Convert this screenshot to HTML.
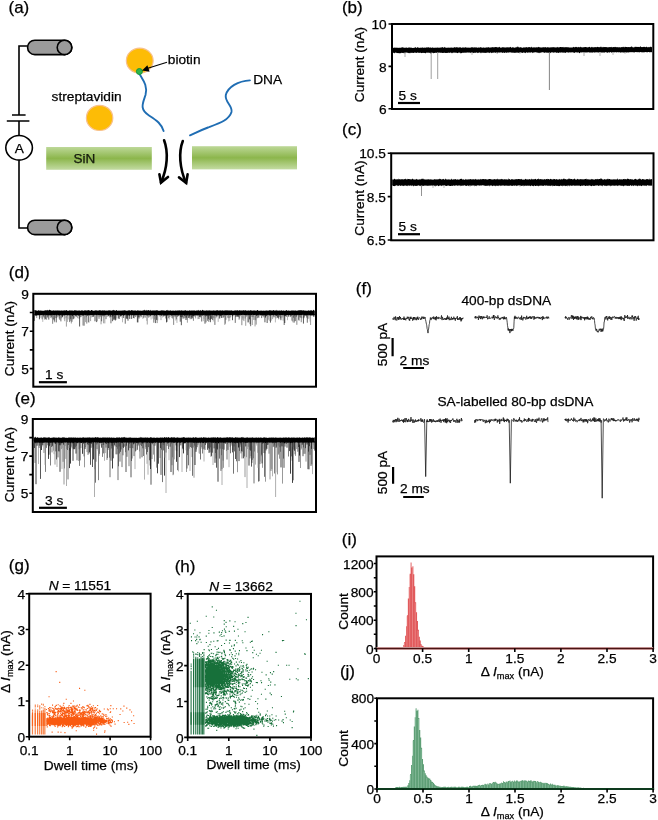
<!DOCTYPE html>
<html><head><meta charset="utf-8"><style>
html,body{margin:0;padding:0;background:#fff;overflow:hidden;}
svg{display:block;font-family:"Liberation Sans",sans-serif;will-change:transform;}
text{stroke:#000;stroke-width:0.25px;}
</style></head><body>
<svg width="658" height="820" viewBox="0 0 658 820">
<rect width="658" height="820" fill="#fff"/>
<text x="8.5" y="12.7" font-size="17" text-anchor="start" >(a)</text>
<path d="M28,46 H19 V115 M19,121 V135 M19,160.5 V228 H28" fill="none" stroke="#000" stroke-width="1.6"/>
<path d="M12,115 H25.6 M6.8,121 H29.4" stroke="#000" stroke-width="1.6"/>
<ellipse cx="19.1" cy="147.8" rx="13.3" ry="12.3" fill="#fff" stroke="#000" stroke-width="1.6"/>
<text x="19.2" y="152.8" font-size="13.7" text-anchor="middle" >A</text>
<rect x="27.6" y="40.2" width="44.2" height="14.4" rx="7.2" ry="7.2" fill="#9b9b9b" stroke="#000" stroke-width="1.6"/>
<ellipse cx="64.5" cy="47.400000000000006" rx="7.3" ry="7.2" fill="#9b9b9b" stroke="#000" stroke-width="1.6"/>
<rect x="27.6" y="220.2" width="44.2" height="14.4" rx="7.2" ry="7.2" fill="#9b9b9b" stroke="#000" stroke-width="1.6"/>
<ellipse cx="64.5" cy="227.39999999999998" rx="7.3" ry="7.2" fill="#9b9b9b" stroke="#000" stroke-width="1.6"/>
<defs><linearGradient id="sin" x1="0" y1="0" x2="0" y2="1"><stop offset="0" stop-color="#bdd898"/><stop offset="0.5" stop-color="#8cb64c"/><stop offset="1" stop-color="#c3dba2"/></linearGradient></defs>
<rect x="46.2" y="147" width="105.6" height="22.8" fill="url(#sin)"/>
<rect x="192" y="146.2" width="105" height="23.2" fill="url(#sin)"/>
<text x="73.5" y="162.7" font-size="13.5" text-anchor="start" fill="#1c2410">SiN</text>
<ellipse cx="139.75" cy="60.7" rx="13.4" ry="12.5" fill="#fdbc06" stroke="#f8c08c" stroke-width="1.2"/>
<ellipse cx="99.6" cy="117.9" rx="13.2" ry="12.6" fill="#fdbc06" stroke="#f8c08c" stroke-width="1.2"/>
<path d="M139.5,74 C143,80 148,86 145.5,95 C143,103 139,109 149,115.5 C157,120.5 161.5,124 163.6,131" fill="none" stroke="#1f6db3" stroke-width="1.9" stroke-linecap="round"/>
<path d="M249.9,80.4 C238,81 228,87 225.8,95 C224.5,102 233,106 231.5,112 C229,120 220,123 208,127.5 C200,130.5 195,133 190,135.3" fill="none" stroke="#1f6db3" stroke-width="1.9" stroke-linecap="round"/>
<circle cx="139.4" cy="71.5" r="3.0" fill="#2db54c" stroke="#16963a" stroke-width="1"/>
<path d="M167,62.3 L147,68.6" stroke="#000" stroke-width="1.1"/>
<path d="M142,70.4 L147.4,65.3 L149.6,71.8 Z" fill="#000"/>
<text x="167.8" y="63.6" font-size="13.7" text-anchor="start" >biotin</text>
<text x="51.6" y="100.5" font-size="13.7" text-anchor="start" >streptavidin</text>
<text x="253.2" y="83.9" font-size="13.7" text-anchor="start" >DNA</text>
<path d="M164.1,140.3 C168.5,152 167.5,168 161,182.4" fill="none" stroke="#000" stroke-width="2.6" stroke-linecap="round"/>
<path d="M159.4,174.2 L161,182.6 L168,177" fill="none" stroke="#000" stroke-width="2.6" stroke-linecap="round" stroke-linejoin="miter"/>
<path d="M182.8,141 C178.5,152 179.5,168 186,182.8" fill="none" stroke="#000" stroke-width="2.6" stroke-linecap="round"/>
<path d="M179,177.4 L186.2,183 L187.6,174.4" fill="none" stroke="#000" stroke-width="2.6" stroke-linecap="round" stroke-linejoin="miter"/>
<text x="341.9" y="12.8" font-size="17" text-anchor="start" >(b)</text>
<rect x="392" y="24" width="261.29999999999995" height="85" fill="none" stroke="#000" stroke-width="2"/>
<path d="M388.5,24.0H392.0M388.5,66.4H392.0M388.5,108.8H392.0" stroke="#000" stroke-width="1.6"/>
<text x="386.7" y="29.1" font-size="13.7" text-anchor="end">10</text>
<text x="386.7" y="71.5" font-size="13.7" text-anchor="end">8</text>
<text x="386.7" y="113.9" font-size="13.7" text-anchor="end">6</text>
<text transform="translate(359.5,64.5) rotate(-90)" x="0" y="0" font-size="13.7" text-anchor="middle" dominant-baseline="central" >Current (nA)</text>
<polygon points="393.00,48.00 393.50,47.86 394.00,47.87 394.50,47.60 395.00,47.79 395.50,47.55 396.00,47.97 396.50,47.39 397.00,47.77 397.50,47.71 398.00,47.77 398.50,47.83 399.00,47.94 399.50,47.57 400.00,47.97 400.50,47.67 401.00,47.38 401.50,47.77 402.00,47.12 402.50,47.40 403.00,47.15 403.50,47.87 404.00,47.40 404.50,47.85 405.00,47.90 405.50,47.88 406.00,46.83 406.50,47.72 407.00,47.94 407.50,47.91 408.00,47.27 408.50,47.75 409.00,47.52 409.50,47.59 410.00,47.48 410.50,47.59 411.00,47.94 411.50,47.56 412.00,47.69 412.50,47.90 413.00,47.90 413.50,47.92 414.00,47.40 414.50,47.91 415.00,47.33 415.50,47.25 416.00,47.56 416.50,47.89 417.00,47.65 417.50,47.04 418.00,47.59 418.50,47.40 419.00,47.90 419.50,47.67 420.00,47.85 420.50,47.62 421.00,47.90 421.50,47.63 422.00,47.28 422.50,47.62 423.00,47.83 423.50,47.72 424.00,47.87 424.50,47.39 425.00,47.66 425.50,47.83 426.00,47.51 426.50,47.40 427.00,47.32 427.50,47.56 428.00,47.62 428.50,47.01 429.00,47.70 429.50,47.86 430.00,47.34 430.50,47.60 431.00,47.76 431.50,47.74 432.00,47.79 432.50,47.22 433.00,47.71 433.50,47.76 434.00,47.74 434.50,47.84 435.00,47.81 435.50,47.39 436.00,47.89 436.50,47.69 437.00,47.37 437.50,47.59 438.00,47.88 438.50,47.59 439.00,47.73 439.50,47.41 440.00,47.88 440.50,47.62 441.00,47.30 441.50,47.72 442.00,47.12 442.50,46.96 443.00,47.74 443.50,47.47 444.00,47.80 444.50,46.86 445.00,47.50 445.50,47.59 446.00,47.78 446.50,47.64 447.00,47.79 447.50,47.77 448.00,47.55 448.50,47.63 449.00,47.39 449.50,47.82 450.00,47.84 450.50,47.38 451.00,47.74 451.50,47.47 452.00,47.42 452.50,47.76 453.00,47.81 453.50,47.58 454.00,47.79 454.50,46.95 455.00,47.34 455.50,47.68 456.00,46.88 456.50,47.46 457.00,47.05 457.50,47.50 458.00,47.46 458.50,47.49 459.00,47.78 459.50,47.14 460.00,47.27 460.50,47.18 461.00,47.80 461.50,47.71 462.00,47.76 462.50,47.39 463.00,47.33 463.50,47.58 464.00,47.80 464.50,47.46 465.00,47.54 465.50,47.24 466.00,47.25 466.50,47.75 467.00,47.38 467.50,47.81 468.00,47.50 468.50,47.66 469.00,47.56 469.50,47.81 470.00,47.64 470.50,47.67 471.00,47.18 471.50,47.44 472.00,47.06 472.50,47.50 473.00,47.33 473.50,47.65 474.00,47.16 474.50,47.14 475.00,47.70 475.50,47.51 476.00,47.00 476.50,47.46 477.00,47.78 477.50,47.76 478.00,47.45 478.50,47.58 479.00,47.54 479.50,47.72 480.00,47.28 480.50,47.23 481.00,47.18 481.50,47.55 482.00,47.65 482.50,47.76 483.00,47.58 483.50,47.55 484.00,47.49 484.50,47.64 485.00,47.70 485.50,47.76 486.00,47.24 486.50,47.46 487.00,47.59 487.50,47.51 488.00,47.14 488.50,47.33 489.00,47.33 489.50,47.70 490.00,47.51 490.50,47.40 491.00,47.38 491.50,47.34 492.00,47.55 492.50,47.07 493.00,47.19 493.50,47.36 494.00,47.53 494.50,47.35 495.00,46.90 495.50,47.08 496.00,47.23 496.50,46.98 497.00,47.37 497.50,47.28 498.00,47.73 498.50,47.36 499.00,47.00 499.50,46.78 500.00,47.62 500.50,47.71 501.00,47.62 501.50,47.71 502.00,47.34 502.50,47.05 503.00,47.65 503.50,47.29 504.00,46.98 504.50,47.49 505.00,47.69 505.50,47.54 506.00,47.27 506.50,47.42 507.00,47.27 507.50,47.31 508.00,47.62 508.50,47.36 509.00,47.55 509.50,47.56 510.00,46.80 510.50,47.08 511.00,47.31 511.50,47.66 512.00,47.70 512.50,47.05 513.00,47.49 513.50,47.36 514.00,47.66 514.50,47.66 515.00,47.56 515.50,47.17 516.00,47.68 516.50,46.70 517.00,47.38 517.50,46.80 518.00,46.22 518.50,47.45 519.00,47.08 519.50,47.66 520.00,47.15 520.50,47.26 521.00,47.17 521.50,47.61 522.00,47.66 522.50,47.65 523.00,47.66 523.50,47.31 524.00,47.42 524.50,47.57 525.00,47.20 525.50,47.44 526.00,47.36 526.50,47.17 527.00,47.09 527.50,47.60 528.00,47.66 528.50,47.07 529.00,46.89 529.50,47.00 530.00,47.45 530.50,47.31 531.00,47.48 531.50,46.48 532.00,47.54 532.50,47.62 533.00,47.61 533.50,47.16 534.00,47.53 534.50,47.57 535.00,47.11 535.50,47.49 536.00,47.64 536.50,46.95 537.00,47.39 537.50,47.46 538.00,46.82 538.50,46.93 539.00,47.20 539.50,47.22 540.00,47.33 540.50,47.58 541.00,47.53 541.50,47.52 542.00,47.54 542.50,47.60 543.00,46.94 543.50,47.37 544.00,47.60 544.50,47.36 545.00,47.33 545.50,46.90 546.00,47.39 546.50,47.59 547.00,47.46 547.50,47.11 548.00,47.58 548.50,47.22 549.00,47.43 549.50,47.51 550.00,47.51 550.50,47.56 551.00,46.89 551.50,47.50 552.00,47.22 552.50,47.20 553.00,47.25 553.50,47.34 554.00,46.91 554.50,47.46 555.00,47.32 555.50,47.51 556.00,47.59 556.50,47.14 557.00,47.38 557.50,46.68 558.00,47.47 558.50,47.49 559.00,47.11 559.50,47.44 560.00,47.02 560.50,47.08 561.00,47.00 561.50,47.17 562.00,47.09 562.50,46.89 563.00,47.46 563.50,47.32 564.00,46.69 564.50,47.48 565.00,47.30 565.50,46.96 566.00,47.55 566.50,46.90 567.00,47.13 567.50,47.14 568.00,47.18 568.50,47.33 569.00,47.43 569.50,47.47 570.00,47.46 570.50,47.42 571.00,47.42 571.50,47.54 572.00,47.46 572.50,47.51 573.00,47.32 573.50,46.71 574.00,47.28 574.50,47.52 575.00,46.79 575.50,47.37 576.00,46.67 576.50,46.91 577.00,47.16 577.50,47.22 578.00,47.47 578.50,46.77 579.00,47.37 579.50,47.23 580.00,47.25 580.50,46.52 581.00,47.43 581.50,47.18 582.00,47.00 582.50,47.50 583.00,47.45 583.50,47.01 584.00,47.47 584.50,47.00 585.00,47.02 585.50,47.04 586.00,47.03 586.50,47.30 587.00,47.28 587.50,47.45 588.00,47.34 588.50,47.36 589.00,46.93 589.50,46.86 590.00,47.15 590.50,47.42 591.00,47.41 591.50,47.05 592.00,46.72 592.50,47.15 593.00,47.42 593.50,47.32 594.00,47.33 594.50,47.03 595.00,47.40 595.50,46.95 596.00,47.07 596.50,47.13 597.00,47.28 597.50,46.63 598.00,46.88 598.50,47.22 599.00,46.88 599.50,47.31 600.00,47.35 600.50,46.97 601.00,46.34 601.50,47.40 602.00,46.76 602.50,47.18 603.00,47.40 603.50,46.72 604.00,47.30 604.50,47.03 605.00,46.91 605.50,46.99 606.00,47.32 606.50,47.00 607.00,47.24 607.50,47.26 608.00,47.44 608.50,47.22 609.00,47.09 609.50,47.32 610.00,47.00 610.50,46.88 611.00,47.43 611.50,47.06 612.00,46.76 612.50,47.45 613.00,47.16 613.50,47.01 614.00,47.06 614.50,47.21 615.00,46.77 615.50,47.09 616.00,47.27 616.50,47.34 617.00,47.10 617.50,47.17 618.00,47.37 618.50,47.16 619.00,47.41 619.50,46.95 620.00,47.39 620.50,47.41 621.00,47.00 621.50,47.02 622.00,47.41 622.50,46.65 623.00,47.13 623.50,46.94 624.00,46.61 624.50,47.39 625.00,46.92 625.50,46.73 626.00,46.93 626.50,47.08 627.00,46.91 627.50,47.24 628.00,47.05 628.50,47.09 629.00,47.15 629.50,47.07 630.00,47.21 630.50,46.97 631.00,46.86 631.50,46.58 632.00,46.56 632.50,47.26 633.00,47.29 633.50,47.38 634.00,47.33 634.50,47.37 635.00,46.54 635.50,46.93 636.00,46.69 636.50,46.94 637.00,46.79 637.50,47.05 638.00,47.02 638.50,46.95 639.00,46.76 639.50,47.22 640.00,46.76 640.50,46.11 641.00,47.14 641.50,46.89 642.00,46.91 642.50,46.89 643.00,47.25 643.50,46.70 644.00,46.93 644.50,46.75 645.00,47.00 645.50,47.19 646.00,46.98 646.50,46.51 647.00,47.19 647.50,47.35 648.00,47.32 648.50,47.32 649.00,46.86 649.50,47.33 650.00,47.34 650.50,46.78 651.00,46.51 651.50,47.29 652.00,47.01 652.00,51.98 651.50,52.23 651.00,52.29 650.50,51.98 650.00,52.43 649.50,52.23 649.00,52.01 648.50,52.07 648.00,52.04 647.50,52.29 647.00,52.39 646.50,52.07 646.00,52.21 645.50,52.07 645.00,51.97 644.50,52.58 644.00,52.00 643.50,52.58 643.00,52.25 642.50,52.11 642.00,52.91 641.50,52.02 641.00,52.05 640.50,52.05 640.00,52.17 639.50,52.15 639.00,52.42 638.50,52.11 638.00,52.24 637.50,52.03 637.00,52.53 636.50,52.10 636.00,52.06 635.50,52.06 635.00,52.19 634.50,52.24 634.00,52.75 633.50,52.21 633.00,52.11 632.50,52.13 632.00,52.17 631.50,52.30 631.00,52.12 630.50,52.29 630.00,52.20 629.50,52.10 629.00,52.69 628.50,52.25 628.00,52.54 627.50,52.47 627.00,52.12 626.50,52.72 626.00,52.44 625.50,52.09 625.00,53.16 624.50,52.19 624.00,52.69 623.50,52.61 623.00,52.31 622.50,52.60 622.00,52.19 621.50,52.15 621.00,52.82 620.50,52.75 620.00,52.08 619.50,52.14 619.00,52.60 618.50,52.35 618.00,52.23 617.50,52.22 617.00,52.09 616.50,52.49 616.00,52.39 615.50,52.07 615.00,52.37 614.50,52.31 614.00,52.53 613.50,52.23 613.00,52.19 612.50,52.21 612.00,52.50 611.50,52.79 611.00,52.32 610.50,52.08 610.00,52.20 609.50,52.82 609.00,52.22 608.50,52.33 608.00,52.45 607.50,53.08 607.00,52.22 606.50,52.47 606.00,52.24 605.50,52.34 605.00,52.08 604.50,52.41 604.00,53.31 603.50,52.13 603.00,52.32 602.50,52.38 602.00,52.84 601.50,52.59 601.00,52.22 600.50,52.22 600.00,52.44 599.50,52.33 599.00,52.10 598.50,52.49 598.00,52.97 597.50,52.16 597.00,52.11 596.50,52.18 596.00,52.70 595.50,52.11 595.00,52.76 594.50,52.53 594.00,52.18 593.50,52.19 593.00,52.45 592.50,52.57 592.00,52.78 591.50,52.52 591.00,52.26 590.50,52.40 590.00,52.79 589.50,52.58 589.00,52.33 588.50,52.33 588.00,52.33 587.50,52.58 587.00,52.22 586.50,52.61 586.00,52.53 585.50,52.50 585.00,52.21 584.50,52.44 584.00,52.43 583.50,52.24 583.00,52.54 582.50,52.16 582.00,52.29 581.50,52.54 581.00,52.41 580.50,52.33 580.00,52.68 579.50,53.14 579.00,53.03 578.50,52.16 578.00,52.24 577.50,52.83 577.00,52.20 576.50,52.58 576.00,52.20 575.50,52.35 575.00,52.52 574.50,52.89 574.00,52.79 573.50,52.45 573.00,52.49 572.50,52.21 572.00,52.25 571.50,52.43 571.00,52.31 570.50,52.38 570.00,52.56 569.50,52.32 569.00,52.62 568.50,52.67 568.00,52.17 567.50,52.50 567.00,52.32 566.50,52.27 566.00,52.48 565.50,52.89 565.00,52.64 564.50,52.34 564.00,53.31 563.50,52.60 563.00,52.23 562.50,52.50 562.00,53.10 561.50,52.28 561.00,52.34 560.50,52.73 560.00,52.40 559.50,52.49 559.00,52.41 558.50,53.05 558.00,52.96 557.50,52.44 557.00,52.50 556.50,53.10 556.00,52.48 555.50,52.28 555.00,52.39 554.50,52.50 554.00,52.35 553.50,52.96 553.00,52.37 552.50,52.53 552.00,52.35 551.50,52.48 551.00,52.36 550.50,53.25 550.00,52.76 549.50,52.32 549.00,52.71 548.50,53.10 548.00,52.22 547.50,53.02 547.00,52.62 546.50,52.76 546.00,52.44 545.50,52.25 545.00,53.12 544.50,52.38 544.00,52.90 543.50,52.36 543.00,52.27 542.50,52.37 542.00,52.26 541.50,52.47 541.00,52.51 540.50,52.99 540.00,52.25 539.50,53.06 539.00,53.13 538.50,52.83 538.00,52.56 537.50,52.54 537.00,52.89 536.50,52.27 536.00,52.27 535.50,52.37 535.00,52.29 534.50,52.44 534.00,52.29 533.50,52.74 533.00,52.42 532.50,53.28 532.00,52.28 531.50,52.36 531.00,52.49 530.50,52.57 530.00,52.76 529.50,52.35 529.00,52.67 528.50,52.38 528.00,52.32 527.50,52.96 527.00,52.57 526.50,52.30 526.00,52.50 525.50,52.94 525.00,53.15 524.50,52.57 524.00,52.51 523.50,52.57 523.00,52.55 522.50,52.90 522.00,52.99 521.50,52.62 521.00,52.41 520.50,52.58 520.00,52.53 519.50,52.70 519.00,53.22 518.50,52.45 518.00,52.96 517.50,52.58 517.00,52.46 516.50,52.43 516.00,53.01 515.50,52.38 515.00,52.98 514.50,52.64 514.00,52.71 513.50,52.85 513.00,52.50 512.50,52.59 512.00,53.19 511.50,52.62 511.00,52.36 510.50,52.47 510.00,52.36 509.50,52.59 509.00,52.33 508.50,52.87 508.00,52.50 507.50,52.49 507.00,52.50 506.50,52.97 506.00,52.39 505.50,52.44 505.00,52.41 504.50,52.93 504.00,53.06 503.50,52.37 503.00,52.87 502.50,53.10 502.00,52.45 501.50,52.37 501.00,52.65 500.50,52.37 500.00,52.62 499.50,52.58 499.00,52.66 498.50,52.35 498.00,52.78 497.50,53.50 497.00,52.79 496.50,52.55 496.00,52.72 495.50,52.70 495.00,52.86 494.50,52.56 494.00,52.36 493.50,52.79 493.00,52.78 492.50,52.57 492.00,53.30 491.50,53.00 491.00,52.54 490.50,52.42 490.00,52.44 489.50,53.16 489.00,52.57 488.50,52.72 488.00,52.61 487.50,52.40 487.00,52.76 486.50,52.65 486.00,52.63 485.50,52.89 485.00,52.73 484.50,53.02 484.00,52.47 483.50,52.90 483.00,52.59 482.50,52.80 482.00,52.65 481.50,52.45 481.00,53.50 480.50,52.73 480.00,52.61 479.50,52.42 479.00,52.53 478.50,52.93 478.00,52.61 477.50,53.17 477.00,52.52 476.50,52.40 476.00,52.44 475.50,52.99 475.00,52.54 474.50,52.76 474.00,52.89 473.50,52.79 473.00,53.34 472.50,52.75 472.00,52.52 471.50,52.47 471.00,53.21 470.50,52.82 470.00,52.46 469.50,52.62 469.00,52.74 468.50,52.61 468.00,52.55 467.50,52.54 467.00,52.47 466.50,52.48 466.00,52.93 465.50,52.43 465.00,52.81 464.50,52.86 464.00,52.53 463.50,52.72 463.00,52.91 462.50,52.51 462.00,52.90 461.50,52.94 461.00,53.47 460.50,53.34 460.00,52.53 459.50,52.77 459.00,52.49 458.50,52.48 458.00,53.13 457.50,53.03 457.00,52.91 456.50,52.46 456.00,53.08 455.50,52.53 455.00,52.75 454.50,52.57 454.00,52.78 453.50,52.46 453.00,52.67 452.50,52.69 452.00,53.41 451.50,52.86 451.00,52.77 450.50,52.52 450.00,52.49 449.50,52.93 449.00,52.67 448.50,52.78 448.00,52.55 447.50,53.00 447.00,53.09 446.50,53.00 446.00,52.76 445.50,52.96 445.00,53.04 444.50,52.51 444.00,53.06 443.50,52.64 443.00,52.89 442.50,53.01 442.00,52.67 441.50,52.66 441.00,52.80 440.50,52.77 440.00,52.64 439.50,52.50 439.00,52.73 438.50,52.71 438.00,52.52 437.50,52.50 437.00,52.74 436.50,52.68 436.00,52.99 435.50,52.59 435.00,52.89 434.50,53.04 434.00,52.76 433.50,53.52 433.00,52.87 432.50,52.87 432.00,52.65 431.50,53.34 431.00,53.27 430.50,53.39 430.00,52.94 429.50,52.81 429.00,52.87 428.50,52.84 428.00,52.54 427.50,52.72 427.00,52.81 426.50,52.55 426.00,52.98 425.50,53.54 425.00,52.81 424.50,52.99 424.00,52.95 423.50,52.63 423.00,52.92 422.50,52.69 422.00,52.94 421.50,52.94 421.00,53.24 420.50,52.54 420.00,52.76 419.50,52.99 419.00,52.60 418.50,53.01 418.00,52.55 417.50,52.58 417.00,52.80 416.50,53.02 416.00,52.70 415.50,52.65 415.00,52.62 414.50,52.58 414.00,52.95 413.50,53.01 413.00,52.73 412.50,52.76 412.00,52.92 411.50,52.72 411.00,52.73 410.50,52.75 410.00,53.47 409.50,52.73 409.00,53.36 408.50,52.99 408.00,52.86 407.50,52.74 407.00,52.76 406.50,52.59 406.00,52.59 405.50,52.70 405.00,53.38 404.50,52.67 404.00,53.57 403.50,52.74 403.00,52.90 402.50,52.90 402.00,52.68 401.50,52.70 401.00,53.22 400.50,53.37 400.00,53.06 399.50,53.50 399.00,53.02 398.50,53.30 398.00,53.06 397.50,52.88 397.00,53.21 396.50,52.73 396.00,52.74 395.50,52.62 395.00,52.85 394.50,53.39 394.00,52.69 393.50,52.65 393.00,53.04" fill="#000"/>
<path d="M431.2,52V79" stroke="#888" stroke-width="0.8"/>
<path d="M437.7,52V79" stroke="#888" stroke-width="0.8"/>
<path d="M549.4,52V90" stroke="#666" stroke-width="0.8"/>
<path d="M405,52V57" stroke="#999" stroke-width="0.8"/>
<path d="M472,52V55" stroke="#aaa" stroke-width="0.8"/>
<path d="M584,52V56" stroke="#999" stroke-width="0.8"/>
<path d="M600,52V56" stroke="#aaa" stroke-width="0.8"/>
<path d="M613,52V55" stroke="#aaa" stroke-width="0.8"/>
<path d="M625,52V54" stroke="#bbb" stroke-width="0.8"/>
<path d="M497,52V54" stroke="#bbb" stroke-width="0.8"/>
<path d="M520,52V54" stroke="#bbb" stroke-width="0.8"/>
<text x="398.6" y="99.8" font-size="13.7" text-anchor="start" >5 s</text>
<path d="M398,103 H420" stroke="#000" stroke-width="2.2"/>
<text x="342.1" y="135.0" font-size="17" text-anchor="start" >(c)</text>
<rect x="391.2" y="153.3" width="262.3" height="87.0" fill="none" stroke="#000" stroke-width="2"/>
<path d="M387.7,153.3H391.2M387.7,196.6H391.2M387.7,240.0H391.2" stroke="#000" stroke-width="1.6"/>
<text x="385.9" y="158.4" font-size="13.7" text-anchor="end">10.5</text>
<text x="385.9" y="201.7" font-size="13.7" text-anchor="end">8.5</text>
<text x="385.9" y="245.1" font-size="13.7" text-anchor="end">6.5</text>
<text transform="translate(359.5,198.0) rotate(-90)" x="0" y="0" font-size="13.7" text-anchor="middle" dominant-baseline="central" >Current (nA)</text>
<polygon points="392.20,179.41 392.70,179.58 393.20,179.28 393.70,179.68 394.20,178.83 394.70,178.71 395.20,179.55 395.70,179.26 396.20,179.52 396.70,179.30 397.20,179.57 397.70,179.01 398.20,179.64 398.70,178.48 399.20,179.13 399.70,179.15 400.20,179.26 400.70,179.50 401.20,179.20 401.70,179.29 402.20,179.35 402.70,179.26 403.20,179.27 403.70,179.51 404.20,179.14 404.70,178.93 405.20,179.35 405.70,178.58 406.20,179.33 406.70,179.38 407.20,179.46 407.70,178.77 408.20,179.11 408.70,179.12 409.20,179.27 409.70,179.12 410.20,179.33 410.70,179.22 411.20,179.65 411.70,178.90 412.20,178.96 412.70,178.50 413.20,179.15 413.70,179.57 414.20,179.59 414.70,179.62 415.20,179.56 415.70,179.59 416.20,179.13 416.70,178.63 417.20,179.70 417.70,179.34 418.20,179.63 418.70,179.59 419.20,179.24 419.70,179.38 420.20,179.30 420.70,179.53 421.20,179.36 421.70,178.68 422.20,178.55 422.70,178.97 423.20,179.55 423.70,178.45 424.20,179.31 424.70,179.59 425.20,179.60 425.70,179.43 426.20,179.59 426.70,179.42 427.20,179.33 427.70,179.50 428.20,179.48 428.70,179.10 429.20,179.68 429.70,179.25 430.20,179.61 430.70,179.18 431.20,179.52 431.70,179.45 432.20,179.52 432.70,179.67 433.20,179.64 433.70,179.55 434.20,179.32 434.70,179.16 435.20,179.03 435.70,179.68 436.20,179.33 436.70,179.46 437.20,179.36 437.70,179.62 438.20,179.34 438.70,179.13 439.20,179.31 439.70,178.56 440.20,179.33 440.70,178.70 441.20,179.68 441.70,179.17 442.20,179.38 442.70,179.03 443.20,179.32 443.70,178.81 444.20,179.54 444.70,179.70 445.20,179.17 445.70,178.47 446.20,179.05 446.70,179.63 447.20,179.52 447.70,179.39 448.20,179.39 448.70,179.17 449.20,179.67 449.70,179.23 450.20,179.67 450.70,179.65 451.20,178.53 451.70,179.27 452.20,179.64 452.70,179.62 453.20,179.48 453.70,179.18 454.20,179.45 454.70,179.29 455.20,178.88 455.70,179.24 456.20,179.43 456.70,179.68 457.20,179.19 457.70,179.51 458.20,179.68 458.70,179.45 459.20,179.40 459.70,179.57 460.20,178.79 460.70,179.12 461.20,178.89 461.70,178.61 462.20,179.53 462.70,179.59 463.20,179.51 463.70,179.30 464.20,179.67 464.70,179.70 465.20,179.66 465.70,178.76 466.20,179.63 466.70,179.27 467.20,179.43 467.70,179.59 468.20,179.38 468.70,179.25 469.20,179.45 469.70,179.24 470.20,179.11 470.70,179.13 471.20,179.01 471.70,179.63 472.20,179.61 472.70,179.29 473.20,179.02 473.70,179.60 474.20,179.43 474.70,179.52 475.20,178.83 475.70,179.25 476.20,179.69 476.70,179.26 477.20,179.20 477.70,179.66 478.20,179.61 478.70,179.28 479.20,179.50 479.70,179.58 480.20,179.40 480.70,178.82 481.20,179.68 481.70,178.95 482.20,179.27 482.70,178.97 483.20,179.10 483.70,179.05 484.20,179.59 484.70,178.94 485.20,179.37 485.70,179.07 486.20,179.52 486.70,179.36 487.20,179.53 487.70,179.56 488.20,179.38 488.70,179.11 489.20,179.09 489.70,179.11 490.20,179.02 490.70,179.37 491.20,178.93 491.70,179.63 492.20,179.54 492.70,179.51 493.20,179.24 493.70,179.52 494.20,179.24 494.70,178.98 495.20,179.37 495.70,179.59 496.20,179.24 496.70,179.17 497.20,179.53 497.70,178.47 498.20,179.36 498.70,179.47 499.20,179.21 499.70,179.60 500.20,179.10 500.70,179.46 501.20,179.13 501.70,178.69 502.20,179.47 502.70,179.08 503.20,179.58 503.70,179.49 504.20,179.35 504.70,179.30 505.20,179.46 505.70,179.24 506.20,179.61 506.70,179.31 507.20,179.38 507.70,179.53 508.20,179.65 508.70,178.29 509.20,179.35 509.70,179.01 510.20,179.67 510.70,179.64 511.20,179.34 511.70,179.25 512.20,179.07 512.70,179.54 513.20,179.40 513.70,179.43 514.20,179.45 514.70,179.41 515.20,179.00 515.70,179.49 516.20,179.17 516.70,178.94 517.20,179.62 517.70,178.96 518.20,179.11 518.70,178.98 519.20,178.90 519.70,179.28 520.20,179.08 520.70,179.41 521.20,178.84 521.70,179.20 522.20,179.65 522.70,179.60 523.20,179.66 523.70,179.61 524.20,179.43 524.70,179.68 525.20,178.90 525.70,178.85 526.20,179.57 526.70,179.25 527.20,179.61 527.70,179.28 528.20,179.67 528.70,179.31 529.20,178.91 529.70,179.15 530.20,179.40 530.70,179.39 531.20,179.61 531.70,178.41 532.20,179.32 532.70,179.59 533.20,178.92 533.70,179.56 534.20,179.57 534.70,178.99 535.20,178.98 535.70,178.80 536.20,179.69 536.70,179.59 537.20,178.89 537.70,179.26 538.20,178.35 538.70,179.34 539.20,179.07 539.70,179.43 540.20,179.21 540.70,179.03 541.20,179.08 541.70,179.59 542.20,179.56 542.70,179.26 543.20,179.49 543.70,179.51 544.20,179.32 544.70,179.06 545.20,179.67 545.70,179.34 546.20,179.05 546.70,179.07 547.20,179.45 547.70,178.77 548.20,179.03 548.70,178.88 549.20,179.61 549.70,179.50 550.20,178.70 550.70,178.95 551.20,179.36 551.70,179.24 552.20,179.59 552.70,179.54 553.20,178.85 553.70,179.53 554.20,179.12 554.70,179.04 555.20,179.53 555.70,179.55 556.20,179.01 556.70,179.21 557.20,179.43 557.70,179.41 558.20,179.38 558.70,179.39 559.20,179.41 559.70,178.81 560.20,179.54 560.70,179.49 561.20,179.41 561.70,178.63 562.20,179.56 562.70,179.32 563.20,178.91 563.70,178.60 564.20,178.39 564.70,179.14 565.20,179.22 565.70,179.08 566.20,179.21 566.70,179.63 567.20,179.12 567.70,179.39 568.20,179.34 568.70,178.44 569.20,178.29 569.70,179.35 570.20,178.79 570.70,179.24 571.20,178.97 571.70,178.91 572.20,178.92 572.70,179.69 573.20,179.10 573.70,179.61 574.20,178.60 574.70,178.85 575.20,179.65 575.70,179.20 576.20,179.62 576.70,179.65 577.20,178.73 577.70,179.05 578.20,179.68 578.70,179.10 579.20,179.31 579.70,179.53 580.20,179.24 580.70,179.08 581.20,179.56 581.70,179.04 582.20,179.64 582.70,178.88 583.20,179.32 583.70,179.59 584.20,179.25 584.70,179.13 585.20,179.08 585.70,178.97 586.20,178.52 586.70,179.46 587.20,179.34 587.70,179.35 588.20,179.53 588.70,179.30 589.20,179.55 589.70,179.56 590.20,179.40 590.70,179.41 591.20,179.50 591.70,178.84 592.20,179.48 592.70,178.99 593.20,179.63 593.70,179.22 594.20,179.65 594.70,179.47 595.20,178.99 595.70,179.29 596.20,179.23 596.70,179.33 597.20,178.85 597.70,179.27 598.20,179.53 598.70,178.97 599.20,178.94 599.70,178.95 600.20,179.37 600.70,178.31 601.20,178.37 601.70,178.91 602.20,179.18 602.70,179.62 603.20,179.59 603.70,179.65 604.20,178.96 604.70,179.36 605.20,179.47 605.70,179.59 606.20,179.10 606.70,179.66 607.20,178.53 607.70,179.34 608.20,179.57 608.70,178.74 609.20,179.07 609.70,179.04 610.20,179.23 610.70,179.43 611.20,179.67 611.70,179.18 612.20,179.53 612.70,179.44 613.20,179.46 613.70,179.32 614.20,179.37 614.70,179.41 615.20,179.25 615.70,179.56 616.20,179.65 616.70,179.19 617.20,178.37 617.70,179.28 618.20,179.68 618.70,179.61 619.20,179.27 619.70,179.25 620.20,179.20 620.70,179.50 621.20,179.49 621.70,179.33 622.20,179.50 622.70,179.60 623.20,179.09 623.70,178.88 624.20,179.45 624.70,178.81 625.20,179.30 625.70,178.96 626.20,179.58 626.70,179.34 627.20,178.35 627.70,179.09 628.20,179.11 628.70,178.85 629.20,179.49 629.70,179.32 630.20,179.06 630.70,179.36 631.20,179.49 631.70,179.26 632.20,179.35 632.70,179.38 633.20,179.63 633.70,179.63 634.20,179.47 634.70,178.97 635.20,178.69 635.70,179.11 636.20,179.33 636.70,179.52 637.20,179.65 637.70,179.42 638.20,179.49 638.70,178.84 639.20,179.32 639.70,178.21 640.20,178.75 640.70,179.19 641.20,179.51 641.70,179.64 642.20,179.00 642.70,179.09 643.20,179.62 643.70,178.95 644.20,179.60 644.70,179.49 645.20,179.64 645.70,179.47 646.20,178.91 646.70,179.23 647.20,179.25 647.70,179.06 648.20,179.36 648.70,179.65 649.20,178.37 649.70,179.70 650.20,179.15 650.70,179.47 651.20,178.91 651.70,179.13 652.20,179.16 652.20,186.04 651.70,185.36 651.20,186.09 650.70,185.47 650.20,185.75 649.70,185.33 649.20,185.93 648.70,185.78 648.20,185.30 647.70,185.33 647.20,185.36 646.70,185.60 646.20,186.29 645.70,185.30 645.20,185.88 644.70,185.55 644.20,185.67 643.70,185.63 643.20,185.37 642.70,185.64 642.20,185.31 641.70,186.16 641.20,185.97 640.70,185.71 640.20,185.55 639.70,185.49 639.20,185.93 638.70,185.63 638.20,185.31 637.70,186.39 637.20,185.64 636.70,185.48 636.20,185.68 635.70,185.51 635.20,185.74 634.70,185.34 634.20,185.38 633.70,186.31 633.20,185.39 632.70,185.45 632.20,185.53 631.70,186.15 631.20,185.48 630.70,185.32 630.20,185.35 629.70,185.88 629.20,185.63 628.70,185.92 628.20,185.42 627.70,185.97 627.20,185.66 626.70,185.56 626.20,185.85 625.70,185.50 625.20,185.45 624.70,185.41 624.20,185.84 623.70,186.43 623.20,185.73 622.70,185.82 622.20,185.86 621.70,185.74 621.20,185.73 620.70,185.45 620.20,185.76 619.70,185.36 619.20,185.51 618.70,185.67 618.20,185.37 617.70,186.14 617.20,185.47 616.70,185.63 616.20,185.33 615.70,185.77 615.20,185.44 614.70,185.74 614.20,185.72 613.70,185.41 613.20,185.87 612.70,185.55 612.20,185.40 611.70,185.82 611.20,185.72 610.70,185.56 610.20,186.39 609.70,185.50 609.20,185.56 608.70,185.58 608.20,185.38 607.70,185.63 607.20,185.39 606.70,186.33 606.20,185.41 605.70,186.02 605.20,185.44 604.70,185.60 604.20,186.02 603.70,185.36 603.20,185.33 602.70,185.42 602.20,186.38 601.70,185.74 601.20,185.49 600.70,185.52 600.20,185.43 599.70,185.41 599.20,185.50 598.70,185.94 598.20,185.77 597.70,185.45 597.20,185.37 596.70,185.49 596.20,185.59 595.70,185.72 595.20,185.33 594.70,185.89 594.20,185.83 593.70,186.06 593.20,185.72 592.70,185.53 592.20,185.69 591.70,186.03 591.20,186.17 590.70,185.94 590.20,185.50 589.70,185.46 589.20,185.56 588.70,185.35 588.20,186.37 587.70,185.55 587.20,186.01 586.70,185.63 586.20,185.51 585.70,185.88 585.20,185.99 584.70,185.80 584.20,185.31 583.70,185.59 583.20,185.58 582.70,185.80 582.20,185.70 581.70,185.76 581.20,185.52 580.70,186.32 580.20,185.92 579.70,185.54 579.20,185.69 578.70,185.47 578.20,185.82 577.70,185.47 577.20,185.83 576.70,185.37 576.20,185.91 575.70,185.92 575.20,185.35 574.70,186.02 574.20,185.38 573.70,185.34 573.20,185.76 572.70,185.44 572.20,185.69 571.70,185.96 571.20,185.62 570.70,185.47 570.20,185.44 569.70,186.40 569.20,185.35 568.70,185.62 568.20,185.68 567.70,185.35 567.20,186.49 566.70,185.64 566.20,185.63 565.70,185.74 565.20,186.22 564.70,185.65 564.20,185.42 563.70,185.70 563.20,185.76 562.70,185.61 562.20,186.42 561.70,185.71 561.20,185.65 560.70,185.44 560.20,185.81 559.70,185.90 559.20,186.16 558.70,185.65 558.20,186.16 557.70,185.89 557.20,185.85 556.70,185.71 556.20,185.88 555.70,185.73 555.20,185.38 554.70,185.99 554.20,186.01 553.70,185.79 553.20,185.64 552.70,186.44 552.20,185.34 551.70,185.62 551.20,185.70 550.70,186.20 550.20,185.54 549.70,185.91 549.20,185.49 548.70,185.99 548.20,185.55 547.70,185.69 547.20,185.81 546.70,185.37 546.20,185.85 545.70,185.49 545.20,185.68 544.70,185.45 544.20,185.35 543.70,185.88 543.20,185.65 542.70,186.08 542.20,185.50 541.70,185.75 541.20,185.53 540.70,185.82 540.20,185.57 539.70,185.78 539.20,185.77 538.70,185.83 538.20,186.38 537.70,185.81 537.20,185.66 536.70,185.45 536.20,186.00 535.70,185.96 535.20,185.88 534.70,185.48 534.20,185.48 533.70,186.45 533.20,185.68 532.70,185.89 532.20,185.83 531.70,185.64 531.20,185.34 530.70,186.07 530.20,186.22 529.70,185.73 529.20,185.42 528.70,185.40 528.20,186.01 527.70,185.53 527.20,185.80 526.70,185.67 526.20,185.86 525.70,185.68 525.20,185.48 524.70,186.25 524.20,185.46 523.70,185.35 523.20,186.42 522.70,185.48 522.20,185.71 521.70,185.67 521.20,185.89 520.70,185.86 520.20,185.90 519.70,185.59 519.20,185.61 518.70,185.39 518.20,185.31 517.70,185.79 517.20,185.58 516.70,186.32 516.20,185.52 515.70,185.50 515.20,185.44 514.70,185.45 514.20,185.91 513.70,185.59 513.20,185.39 512.70,185.63 512.20,185.98 511.70,185.89 511.20,185.48 510.70,185.78 510.20,185.33 509.70,185.83 509.20,185.82 508.70,186.08 508.20,185.45 507.70,185.84 507.20,185.81 506.70,185.45 506.20,185.86 505.70,185.31 505.20,185.90 504.70,185.72 504.20,185.66 503.70,185.55 503.20,185.50 502.70,185.42 502.20,185.41 501.70,185.80 501.20,185.56 500.70,186.17 500.20,185.35 499.70,185.79 499.20,185.35 498.70,185.42 498.20,186.32 497.70,185.45 497.20,185.94 496.70,185.66 496.20,185.46 495.70,186.38 495.20,185.40 494.70,185.77 494.20,185.80 493.70,185.48 493.20,185.64 492.70,186.20 492.20,185.65 491.70,185.60 491.20,185.45 490.70,185.81 490.20,185.31 489.70,185.43 489.20,186.46 488.70,185.60 488.20,185.57 487.70,185.52 487.20,185.97 486.70,186.04 486.20,185.43 485.70,185.81 485.20,186.01 484.70,185.56 484.20,185.71 483.70,185.42 483.20,185.33 482.70,185.34 482.20,185.30 481.70,185.86 481.20,185.36 480.70,185.38 480.20,185.44 479.70,185.47 479.20,185.75 478.70,185.55 478.20,185.33 477.70,185.58 477.20,185.36 476.70,185.61 476.20,186.30 475.70,185.96 475.20,185.52 474.70,185.33 474.20,186.40 473.70,185.46 473.20,185.34 472.70,185.45 472.20,185.45 471.70,186.01 471.20,185.31 470.70,186.35 470.20,185.74 469.70,185.65 469.20,185.80 468.70,186.21 468.20,185.47 467.70,185.33 467.20,185.76 466.70,185.93 466.20,185.86 465.70,185.47 465.20,186.00 464.70,185.37 464.20,185.35 463.70,185.47 463.20,185.64 462.70,185.49 462.20,185.67 461.70,185.56 461.20,186.06 460.70,186.27 460.20,185.36 459.70,185.51 459.20,185.55 458.70,185.78 458.20,185.37 457.70,185.82 457.20,185.65 456.70,185.35 456.20,185.38 455.70,185.49 455.20,185.42 454.70,186.08 454.20,185.60 453.70,185.44 453.20,185.38 452.70,185.79 452.20,185.91 451.70,185.85 451.20,185.69 450.70,186.07 450.20,186.01 449.70,185.67 449.20,185.89 448.70,185.62 448.20,185.55 447.70,186.09 447.20,185.32 446.70,185.94 446.20,185.91 445.70,185.76 445.20,185.64 444.70,185.34 444.20,185.61 443.70,185.71 443.20,185.47 442.70,185.32 442.20,185.71 441.70,186.17 441.20,185.62 440.70,185.85 440.20,185.30 439.70,185.66 439.20,185.54 438.70,186.21 438.20,185.99 437.70,185.57 437.20,185.34 436.70,185.94 436.20,185.42 435.70,185.38 435.20,186.65 434.70,185.35 434.20,186.35 433.70,185.64 433.20,185.36 432.70,185.93 432.20,185.73 431.70,185.48 431.20,185.47 430.70,185.38 430.20,185.74 429.70,185.69 429.20,185.57 428.70,185.55 428.20,185.99 427.70,185.69 427.20,185.63 426.70,186.11 426.20,185.34 425.70,185.66 425.20,185.49 424.70,185.42 424.20,185.86 423.70,185.96 423.20,185.85 422.70,185.42 422.20,186.18 421.70,185.82 421.20,185.79 420.70,186.16 420.20,185.45 419.70,185.92 419.20,185.60 418.70,185.39 418.20,185.30 417.70,185.51 417.20,186.06 416.70,185.77 416.20,185.96 415.70,185.87 415.20,185.98 414.70,185.48 414.20,185.63 413.70,186.49 413.20,185.70 412.70,185.38 412.20,185.54 411.70,186.36 411.20,185.37 410.70,185.68 410.20,185.35 409.70,185.82 409.20,185.68 408.70,185.49 408.20,185.58 407.70,185.53 407.20,186.13 406.70,185.73 406.20,185.70 405.70,185.56 405.20,185.54 404.70,186.03 404.20,185.31 403.70,186.23 403.20,185.78 402.70,185.43 402.20,185.99 401.70,185.47 401.20,185.56 400.70,186.03 400.20,185.63 399.70,185.30 399.20,185.48 398.70,185.67 398.20,185.89 397.70,185.33 397.20,186.17 396.70,185.36 396.20,185.31 395.70,185.63 395.20,185.81 394.70,185.99 394.20,186.24 393.70,185.97 393.20,186.08 392.70,185.60 392.20,185.48" fill="#000"/>
<path d="M421.5,185V196" stroke="#777" stroke-width="0.8"/>
<path d="M433,185V188" stroke="#aaa" stroke-width="0.8"/>
<path d="M444,185V188" stroke="#aaa" stroke-width="0.8"/>
<path d="M520,185V187" stroke="#bbb" stroke-width="0.8"/>
<path d="M470,185V187" stroke="#bbb" stroke-width="0.8"/>
<text x="398.6" y="230.5" font-size="13.7" text-anchor="start" >5 s</text>
<path d="M398,234.2 H420" stroke="#000" stroke-width="2.2"/>
<text x="8.8" y="278.4" font-size="17" text-anchor="start" >(d)</text>
<rect x="33.3" y="293.8" width="282.7" height="92.89999999999998" fill="none" stroke="#000" stroke-width="2"/>
<path d="M29.8,312.5H33.3M29.8,331.2H33.3M29.8,349.9H33.3M29.8,368.6H33.3" stroke="#000" stroke-width="1.6"/>
<text x="28.8" y="298.9" font-size="13.7" text-anchor="end">9</text>
<text x="28.8" y="336.3" font-size="13.7" text-anchor="end">7</text>
<text x="28.8" y="373.7" font-size="13.7" text-anchor="end">5</text>
<text transform="translate(9.8,338.5) rotate(-90)" x="0" y="0" font-size="13.7" text-anchor="middle" dominant-baseline="central" >Current (nA)</text>
<path d="M34.50,314.0v6.9M35.05,314.0v2.1M43.85,314.0v3.3M51.00,314.0v3.7M51.55,314.0v2.9M59.25,314.0v4.6M60.35,314.0v1.3M60.90,314.0v7.4M62.00,314.0v3.4M69.70,314.0v8.1M73.00,314.0v5.3M73.55,314.0v4.8M75.20,314.0v1.3M76.30,314.0v2.8M77.95,314.0v1.2M80.70,314.0v3.2M81.80,314.0v0.9M83.45,314.0v1.4M88.40,314.0v8.2M93.90,314.0v1.7M104.35,314.0v2.7M106.00,314.0v5.1M109.30,314.0v1.3M110.95,314.0v9.3M112.05,314.0v3.2M113.15,314.0v2.0M115.90,314.0v5.8M117.00,314.0v1.1M119.20,314.0v5.0M121.40,314.0v2.1M123.60,314.0v4.0M125.25,314.0v9.7M127.45,314.0v4.9M131.30,314.0v5.0M132.95,314.0v0.9M134.05,314.0v1.7M135.70,314.0v2.9M136.80,314.0v1.7M137.35,314.0v8.3M138.45,314.0v3.3M139.00,314.0v4.6M141.20,314.0v3.2M143.40,314.0v3.7M151.65,314.0v0.9M153.85,314.0v8.7M155.50,314.0v9.1M158.80,314.0v1.1M161.55,314.0v1.4M167.05,314.0v7.8M167.60,314.0v1.4M168.70,314.0v4.2M170.90,314.0v0.8M172.00,314.0v3.9M174.20,314.0v1.7M177.50,314.0v2.8M178.60,314.0v2.2M184.10,314.0v4.4M186.85,314.0v5.8M188.50,314.0v4.0M189.05,314.0v2.2M189.60,314.0v3.8M190.15,314.0v5.2M191.25,314.0v3.5M192.90,314.0v1.8M198.95,314.0v5.0M201.15,314.0v1.5M201.70,314.0v7.5M204.45,314.0v1.8M207.20,314.0v2.3M209.40,314.0v2.0M210.50,314.0v8.2M211.05,314.0v5.1M211.60,314.0v4.8M214.90,314.0v10.9M215.45,314.0v1.4M219.30,314.0v4.5M219.85,314.0v4.4M222.60,314.0v1.3M229.20,314.0v4.1M235.25,314.0v8.9M235.80,314.0v3.1M238.55,314.0v3.1M240.20,314.0v2.1M242.95,314.0v4.3M245.15,314.0v4.5M246.25,314.0v2.5M250.10,314.0v10.2M250.65,314.0v12.2M253.95,314.0v5.9M257.25,314.0v4.2M257.80,314.0v1.6M261.65,314.0v4.1M262.75,314.0v0.8M266.05,314.0v2.3M267.70,314.0v1.2M273.75,314.0v3.3M275.95,314.0v4.3M284.20,314.0v11.0M286.95,314.0v1.5M290.80,314.0v2.5M291.35,314.0v1.5M299.05,314.0v6.6M304.00,314.0v4.2M306.75,314.0v3.6M307.30,314.0v8.7M309.50,314.0v0.9M312.80,314.0v1.0" stroke="#333" stroke-width="0.7" fill="none"/>
<path d="M35.60,314.0v1.6M37.80,314.0v0.8M38.35,314.0v1.2M38.90,314.0v1.7M40.00,314.0v3.8M43.30,314.0v2.4M45.50,314.0v4.9M46.05,314.0v2.1M46.60,314.0v5.7M47.15,314.0v1.0M52.65,314.0v9.8M54.30,314.0v7.3M54.85,314.0v8.3M56.50,314.0v8.4M59.80,314.0v5.9M68.60,314.0v1.0M70.25,314.0v6.8M76.85,314.0v1.5M79.05,314.0v4.7M82.35,314.0v1.7M86.20,314.0v3.2M86.75,314.0v9.6M93.35,314.0v2.9M97.75,314.0v2.3M103.80,314.0v9.3M105.45,314.0v1.7M107.65,314.0v1.2M109.85,314.0v3.6M114.25,314.0v6.0M125.80,314.0v1.3M126.90,314.0v4.6M130.20,314.0v1.4M131.85,314.0v4.6M139.55,314.0v3.2M141.75,314.0v0.9M145.05,314.0v3.1M146.15,314.0v1.7M148.35,314.0v3.6M150.00,314.0v3.1M154.40,314.0v5.4M157.15,314.0v9.1M163.75,314.0v2.7M173.65,314.0v10.9M174.75,314.0v2.5M175.30,314.0v3.3M179.70,314.0v1.0M181.90,314.0v3.2M182.45,314.0v2.8M185.20,314.0v3.6M185.75,314.0v6.0M187.95,314.0v2.2M193.45,314.0v6.8M194.55,314.0v1.6M196.20,314.0v1.1M197.30,314.0v1.0M205.55,314.0v2.6M206.10,314.0v8.4M208.85,314.0v8.0M217.65,314.0v2.4M218.75,314.0v1.7M223.15,314.0v3.7M223.70,314.0v3.3M225.35,314.0v9.7M225.90,314.0v5.8M227.00,314.0v1.0M230.30,314.0v3.4M233.05,314.0v2.3M238.00,314.0v1.1M239.10,314.0v5.7M239.65,314.0v4.4M241.85,314.0v11.2M247.90,314.0v8.4M248.45,314.0v8.3M255.60,314.0v6.3M256.15,314.0v10.6M258.35,314.0v3.4M258.90,314.0v3.8M278.70,314.0v5.3M279.25,314.0v2.7M280.35,314.0v4.4M282.00,314.0v3.6M283.65,314.0v2.3M285.85,314.0v2.4M286.40,314.0v2.8M290.25,314.0v3.1M291.90,314.0v6.6M296.85,314.0v10.8M298.50,314.0v5.8M301.25,314.0v8.2M301.80,314.0v4.2M304.55,314.0v2.7M307.85,314.0v4.8M313.35,314.0v2.4M314.45,314.0v1.5" stroke="#555" stroke-width="0.7" fill="none"/>
<path d="M36.15,314.0v2.0M39.45,314.0v5.3M42.20,314.0v5.3M44.95,314.0v5.6M47.70,314.0v3.5M48.80,314.0v5.6M53.75,314.0v5.6M55.95,314.0v4.1M57.05,314.0v2.0M58.15,314.0v1.0M62.55,314.0v3.1M63.10,314.0v1.5M63.65,314.0v1.0M70.80,314.0v4.9M71.90,314.0v7.8M72.45,314.0v2.2M75.75,314.0v2.2M79.60,314.0v12.5M84.00,314.0v11.7M85.10,314.0v1.8M87.30,314.0v1.8M92.80,314.0v3.0M95.00,314.0v7.3M96.65,314.0v8.1M99.95,314.0v2.9M101.60,314.0v7.3M108.20,314.0v2.3M110.40,314.0v2.7M112.60,314.0v7.2M113.70,314.0v5.6M114.80,314.0v4.7M115.35,314.0v6.5M118.65,314.0v4.3M119.75,314.0v0.8M120.30,314.0v2.6M120.85,314.0v2.1M123.05,314.0v2.1M126.35,314.0v4.6M128.00,314.0v6.7M129.10,314.0v1.7M129.65,314.0v4.9M132.40,314.0v1.4M133.50,314.0v4.1M137.90,314.0v8.4M142.30,314.0v0.9M150.55,314.0v1.7M152.20,314.0v0.8M156.60,314.0v5.9M158.25,314.0v0.9M162.10,314.0v1.9M163.20,314.0v2.1M164.85,314.0v1.8M165.95,314.0v4.5M166.50,314.0v8.4M169.80,314.0v3.1M170.35,314.0v1.3M171.45,314.0v1.1M176.40,314.0v5.3M180.25,314.0v7.7M180.80,314.0v3.0M181.35,314.0v11.2M183.00,314.0v4.6M184.65,314.0v1.6M186.30,314.0v3.7M190.70,314.0v1.4M191.80,314.0v5.1M192.35,314.0v3.8M194.00,314.0v2.2M199.50,314.0v2.9M200.60,314.0v3.3M202.80,314.0v2.0M205.00,314.0v9.7M207.75,314.0v6.8M208.30,314.0v4.9M209.95,314.0v6.1M212.70,314.0v6.0M213.80,314.0v3.9M216.55,314.0v2.6M220.40,314.0v2.3M221.50,314.0v3.9M228.10,314.0v4.1M231.40,314.0v1.2M231.95,314.0v1.2M232.50,314.0v6.2M233.60,314.0v1.1M237.45,314.0v2.8M240.75,314.0v0.8M249.55,314.0v5.4M251.20,314.0v1.1M252.85,314.0v3.1M256.70,314.0v1.4M260.55,314.0v0.8M262.20,314.0v1.6M264.95,314.0v8.3M265.50,314.0v3.6M266.60,314.0v1.9M267.15,314.0v9.0M269.90,314.0v1.8M270.45,314.0v8.6M276.50,314.0v2.0M277.60,314.0v3.6M278.15,314.0v3.9M280.90,314.0v6.2M284.75,314.0v9.0M285.30,314.0v1.7M288.60,314.0v2.7M293.55,314.0v3.7M294.10,314.0v8.6M295.20,314.0v7.1M296.30,314.0v2.6M297.40,314.0v1.3M300.15,314.0v3.4M302.35,314.0v1.1M303.45,314.0v9.6M306.20,314.0v1.0M308.40,314.0v1.6M313.90,314.0v2.9" stroke="#111" stroke-width="0.7" fill="none"/>
<path d="M36.70,314.0v4.0M44.40,314.0v3.9M52.10,314.0v4.6M57.60,314.0v3.3M61.45,314.0v4.3M64.75,314.0v7.2M65.85,314.0v0.9M66.40,314.0v12.6M66.95,314.0v3.6M68.05,314.0v5.4M69.15,314.0v1.8M71.35,314.0v9.5M74.10,314.0v2.0M74.65,314.0v4.4M77.40,314.0v4.2M78.50,314.0v1.7M81.25,314.0v2.7M82.90,314.0v11.5M85.65,314.0v8.1M88.95,314.0v8.6M90.60,314.0v7.1M91.15,314.0v2.3M94.45,314.0v1.2M97.20,314.0v7.1M98.85,314.0v4.8M100.50,314.0v2.2M101.05,314.0v10.3M102.15,314.0v2.5M107.10,314.0v2.9M118.10,314.0v4.5M124.15,314.0v1.3M124.70,314.0v1.7M128.55,314.0v1.4M134.60,314.0v4.4M135.15,314.0v1.7M136.25,314.0v1.1M143.95,314.0v4.1M147.25,314.0v10.5M147.80,314.0v2.7M149.45,314.0v2.3M153.30,314.0v2.2M157.70,314.0v6.3M159.35,314.0v1.3M159.90,314.0v2.6M160.45,314.0v2.3M161.00,314.0v6.1M165.40,314.0v2.0M168.15,314.0v1.9M172.55,314.0v4.6M173.10,314.0v2.7M179.15,314.0v2.0M187.40,314.0v8.7M195.10,314.0v3.0M195.65,314.0v4.4M196.75,314.0v1.6M202.25,314.0v1.6M203.90,314.0v4.9M206.65,314.0v1.4M212.15,314.0v2.3M216.00,314.0v4.2M217.10,314.0v1.6M220.95,314.0v1.1M222.05,314.0v4.0M224.25,314.0v2.9M224.80,314.0v10.9M226.45,314.0v1.1M234.15,314.0v1.2M236.35,314.0v2.8M244.60,314.0v1.7M245.70,314.0v11.8M251.75,314.0v3.0M252.30,314.0v11.0M253.40,314.0v1.5M255.05,314.0v12.4M259.45,314.0v1.5M260.00,314.0v1.9M263.30,314.0v3.3M264.40,314.0v3.3M268.25,314.0v5.7M268.80,314.0v2.5M271.00,314.0v1.5M272.10,314.0v1.8M272.65,314.0v5.1M274.30,314.0v3.2M277.05,314.0v2.3M279.80,314.0v2.9M283.10,314.0v6.7M289.15,314.0v1.4M289.70,314.0v1.3M292.45,314.0v7.4M295.75,314.0v3.3M297.95,314.0v1.1M299.60,314.0v3.0M300.70,314.0v3.7M305.10,314.0v1.0M310.60,314.0v11.0M312.25,314.0v0.8" stroke="#777" stroke-width="0.7" fill="none"/>
<path d="M37.25,314.0v1.7M40.55,314.0v1.3M41.10,314.0v1.9M41.65,314.0v3.6M42.75,314.0v7.9M48.25,314.0v1.7M49.35,314.0v2.3M49.90,314.0v2.0M50.45,314.0v3.7M53.20,314.0v3.9M55.40,314.0v3.9M58.70,314.0v2.9M64.20,314.0v5.3M65.30,314.0v4.3M67.50,314.0v7.9M80.15,314.0v0.9M84.55,314.0v4.5M87.85,314.0v1.0M89.50,314.0v1.6M90.05,314.0v1.2M91.70,314.0v3.5M92.25,314.0v2.7M95.55,314.0v0.8M96.10,314.0v5.8M98.30,314.0v3.1M99.40,314.0v4.7M102.70,314.0v2.0M103.25,314.0v3.7M104.90,314.0v9.4M106.55,314.0v1.1M108.75,314.0v1.7M111.50,314.0v1.3M116.45,314.0v4.2M117.55,314.0v1.5M121.95,314.0v3.8M122.50,314.0v8.3M130.75,314.0v1.7M140.10,314.0v3.5M140.65,314.0v1.8M142.85,314.0v5.0M144.50,314.0v1.7M145.60,314.0v3.9M146.70,314.0v6.9M148.90,314.0v3.6M151.10,314.0v5.5M152.75,314.0v4.6M154.95,314.0v6.2M156.05,314.0v1.9M162.65,314.0v3.6M164.30,314.0v2.1M169.25,314.0v5.5M175.85,314.0v6.6M176.95,314.0v8.9M178.05,314.0v2.2M183.55,314.0v2.6M197.85,314.0v5.2M198.40,314.0v1.8M200.05,314.0v2.3M203.35,314.0v7.2M213.25,314.0v7.5M214.35,314.0v4.7M218.20,314.0v7.9M227.55,314.0v3.1M228.65,314.0v7.4M229.75,314.0v6.9M230.85,314.0v3.2M234.70,314.0v1.1M236.90,314.0v2.9M241.30,314.0v2.7M242.40,314.0v5.9M243.50,314.0v6.6M244.05,314.0v7.1M246.80,314.0v2.5M247.35,314.0v2.1M249.00,314.0v2.5M254.50,314.0v1.1M261.10,314.0v1.5M263.85,314.0v2.6M269.35,314.0v6.9M271.55,314.0v6.7M273.20,314.0v2.8M274.85,314.0v1.2M275.40,314.0v8.4M281.45,314.0v4.4M282.55,314.0v2.5M287.50,314.0v6.2M288.05,314.0v3.1M293.00,314.0v8.5M294.65,314.0v1.1M302.90,314.0v1.8M305.65,314.0v0.9M308.95,314.0v4.6M310.05,314.0v7.6M311.15,314.0v1.2M311.70,314.0v1.8" stroke="#999" stroke-width="0.7" fill="none"/>
<polygon points="34.30,309.90 34.80,310.31 35.30,310.04 35.80,310.53 36.30,310.47 36.80,310.41 37.30,310.72 37.80,310.69 38.30,310.56 38.80,310.09 39.30,310.66 39.80,310.45 40.30,310.56 40.80,310.51 41.30,310.74 41.80,310.61 42.30,310.76 42.80,310.78 43.30,310.72 43.80,310.64 44.30,310.60 44.80,310.50 45.30,310.50 45.80,310.12 46.30,310.55 46.80,310.18 47.30,309.72 47.80,310.52 48.30,310.52 48.80,310.14 49.30,309.76 49.80,309.76 50.30,310.23 50.80,310.18 51.30,310.43 51.80,310.71 52.30,310.66 52.80,310.44 53.30,310.48 53.80,310.35 54.30,310.69 54.80,310.40 55.30,310.35 55.80,310.65 56.30,310.73 56.80,310.26 57.30,310.33 57.80,310.66 58.30,310.19 58.80,310.78 59.30,310.49 59.80,310.54 60.30,310.77 60.80,310.52 61.30,310.41 61.80,310.52 62.30,310.41 62.80,310.78 63.30,310.46 63.80,310.58 64.30,310.60 64.80,310.34 65.30,310.57 65.80,310.42 66.30,309.95 66.80,310.28 67.30,310.70 67.80,310.72 68.30,310.64 68.80,310.79 69.30,310.21 69.80,310.42 70.30,310.47 70.80,310.52 71.30,310.25 71.80,310.68 72.30,310.71 72.80,310.33 73.30,310.64 73.80,310.69 74.30,310.62 74.80,310.02 75.30,310.45 75.80,310.32 76.30,310.57 76.80,310.50 77.30,310.51 77.80,310.77 78.30,310.79 78.80,310.13 79.30,310.77 79.80,310.21 80.30,310.68 80.80,310.65 81.30,310.79 81.80,309.98 82.30,310.59 82.80,310.56 83.30,310.74 83.80,310.72 84.30,310.41 84.80,310.36 85.30,310.28 85.80,310.38 86.30,310.59 86.80,310.42 87.30,310.61 87.80,310.30 88.30,310.33 88.80,310.07 89.30,310.70 89.80,310.23 90.30,310.66 90.80,310.66 91.30,310.06 91.80,309.88 92.30,310.16 92.80,310.69 93.30,310.78 93.80,310.70 94.30,310.69 94.80,310.56 95.30,309.96 95.80,310.68 96.30,310.47 96.80,310.31 97.30,310.58 97.80,310.75 98.30,310.69 98.80,310.22 99.30,310.61 99.80,309.99 100.30,310.38 100.80,310.13 101.30,310.69 101.80,310.56 102.30,310.61 102.80,310.35 103.30,310.40 103.80,310.49 104.30,310.35 104.80,310.56 105.30,310.76 105.80,310.51 106.30,310.55 106.80,310.79 107.30,310.43 107.80,310.77 108.30,310.44 108.80,310.24 109.30,310.17 109.80,310.49 110.30,310.24 110.80,310.68 111.30,310.76 111.80,310.60 112.30,310.62 112.80,310.24 113.30,309.79 113.80,310.45 114.30,309.88 114.80,310.79 115.30,310.79 115.80,310.51 116.30,310.07 116.80,310.32 117.30,310.76 117.80,310.73 118.30,310.58 118.80,310.74 119.30,310.54 119.80,310.63 120.30,310.78 120.80,310.53 121.30,310.53 121.80,310.74 122.30,310.74 122.80,310.33 123.30,310.17 123.80,310.75 124.30,310.25 124.80,310.36 125.30,310.50 125.80,310.60 126.30,310.79 126.80,310.70 127.30,310.73 127.80,310.57 128.30,310.78 128.80,309.99 129.30,309.90 129.80,310.77 130.30,310.63 130.80,310.38 131.30,310.25 131.80,309.94 132.30,310.65 132.80,309.97 133.30,310.59 133.80,310.77 134.30,310.61 134.80,310.55 135.30,310.33 135.80,310.63 136.30,310.74 136.80,310.73 137.30,310.26 137.80,310.47 138.30,310.40 138.80,310.55 139.30,310.67 139.80,310.55 140.30,310.65 140.80,310.42 141.30,310.70 141.80,310.63 142.30,310.40 142.80,310.80 143.30,309.97 143.80,310.77 144.30,309.52 144.80,310.40 145.30,310.60 145.80,310.60 146.30,309.67 146.80,310.74 147.30,310.73 147.80,310.03 148.30,310.25 148.80,310.04 149.30,310.70 149.80,310.51 150.30,309.78 150.80,310.74 151.30,310.66 151.80,310.53 152.30,310.76 152.80,310.34 153.30,310.42 153.80,310.52 154.30,310.56 154.80,310.40 155.30,310.36 155.80,310.79 156.30,310.26 156.80,310.25 157.30,310.26 157.80,310.52 158.30,310.76 158.80,310.63 159.30,310.79 159.80,310.79 160.30,310.67 160.80,310.52 161.30,309.93 161.80,310.71 162.30,310.56 162.80,310.28 163.30,310.51 163.80,310.51 164.30,310.50 164.80,310.71 165.30,310.78 165.80,310.68 166.30,310.36 166.80,310.28 167.30,310.65 167.80,309.81 168.30,310.50 168.80,310.74 169.30,310.45 169.80,310.70 170.30,310.24 170.80,310.42 171.30,310.76 171.80,310.66 172.30,310.76 172.80,310.40 173.30,310.40 173.80,310.67 174.30,310.79 174.80,310.70 175.30,310.58 175.80,310.43 176.30,310.78 176.80,310.62 177.30,310.67 177.80,310.24 178.30,310.40 178.80,310.49 179.30,310.62 179.80,310.16 180.30,310.78 180.80,310.45 181.30,310.27 181.80,310.40 182.30,310.56 182.80,310.73 183.30,310.75 183.80,310.41 184.30,310.61 184.80,310.39 185.30,310.61 185.80,310.01 186.30,310.68 186.80,310.72 187.30,310.70 187.80,310.52 188.30,310.63 188.80,310.79 189.30,310.14 189.80,310.56 190.30,310.58 190.80,310.71 191.30,310.23 191.80,310.76 192.30,310.46 192.80,310.42 193.30,310.79 193.80,310.13 194.30,310.51 194.80,310.47 195.30,310.71 195.80,310.72 196.30,310.54 196.80,310.43 197.30,310.52 197.80,310.60 198.30,309.75 198.80,310.76 199.30,310.70 199.80,310.52 200.30,310.22 200.80,310.32 201.30,310.78 201.80,310.68 202.30,310.06 202.80,309.80 203.30,310.44 203.80,310.38 204.30,310.55 204.80,310.64 205.30,310.61 205.80,310.79 206.30,310.16 206.80,310.55 207.30,310.66 207.80,310.30 208.30,310.44 208.80,310.61 209.30,310.67 209.80,310.10 210.30,310.60 210.80,310.77 211.30,310.46 211.80,310.66 212.30,310.38 212.80,310.76 213.30,310.70 213.80,309.98 214.30,310.79 214.80,310.54 215.30,310.73 215.80,310.42 216.30,310.29 216.80,310.52 217.30,310.31 217.80,310.37 218.30,310.80 218.80,310.41 219.30,310.33 219.80,310.72 220.30,310.32 220.80,310.54 221.30,310.44 221.80,310.73 222.30,310.09 222.80,310.75 223.30,310.54 223.80,310.74 224.30,310.62 224.80,310.43 225.30,310.22 225.80,310.55 226.30,310.34 226.80,310.39 227.30,310.62 227.80,310.32 228.30,310.67 228.80,310.19 229.30,310.61 229.80,310.62 230.30,310.48 230.80,310.49 231.30,310.43 231.80,310.22 232.30,310.70 232.80,310.78 233.30,310.77 233.80,310.64 234.30,310.22 234.80,310.63 235.30,310.51 235.80,310.30 236.30,310.23 236.80,310.66 237.30,310.10 237.80,310.56 238.30,310.55 238.80,310.79 239.30,310.18 239.80,310.25 240.30,310.53 240.80,310.55 241.30,310.27 241.80,310.77 242.30,310.39 242.80,310.54 243.30,310.24 243.80,310.36 244.30,310.56 244.80,310.39 245.30,310.32 245.80,310.26 246.30,310.69 246.80,310.39 247.30,310.75 247.80,310.53 248.30,310.22 248.80,310.67 249.30,310.60 249.80,310.64 250.30,310.00 250.80,310.49 251.30,310.35 251.80,310.65 252.30,310.76 252.80,310.48 253.30,310.64 253.80,310.17 254.30,310.42 254.80,310.43 255.30,310.71 255.80,310.52 256.30,310.63 256.80,310.59 257.30,310.11 257.80,310.09 258.30,310.79 258.80,310.78 259.30,310.77 259.80,310.73 260.30,310.66 260.80,310.40 261.30,310.61 261.80,310.75 262.30,310.80 262.80,310.76 263.30,310.73 263.80,310.40 264.30,310.80 264.80,310.73 265.30,310.78 265.80,310.40 266.30,310.47 266.80,310.38 267.30,310.72 267.80,310.51 268.30,310.38 268.80,310.70 269.30,310.59 269.80,310.10 270.30,310.12 270.80,310.79 271.30,310.76 271.80,310.37 272.30,310.77 272.80,310.56 273.30,309.92 273.80,310.37 274.30,310.76 274.80,310.46 275.30,310.37 275.80,310.76 276.30,310.65 276.80,309.84 277.30,310.44 277.80,310.78 278.30,310.54 278.80,310.77 279.30,310.32 279.80,310.64 280.30,310.76 280.80,310.62 281.30,310.35 281.80,310.39 282.30,310.64 282.80,310.68 283.30,310.36 283.80,310.75 284.30,310.71 284.80,310.64 285.30,310.76 285.80,310.47 286.30,310.19 286.80,309.94 287.30,310.64 287.80,310.64 288.30,310.71 288.80,310.29 289.30,310.63 289.80,310.77 290.30,310.71 290.80,310.75 291.30,310.40 291.80,310.53 292.30,310.51 292.80,310.59 293.30,310.75 293.80,310.36 294.30,310.79 294.80,310.39 295.30,310.43 295.80,310.56 296.30,310.71 296.80,310.72 297.30,310.77 297.80,310.43 298.30,309.99 298.80,310.67 299.30,310.20 299.80,310.32 300.30,310.01 300.80,310.40 301.30,310.13 301.80,310.14 302.30,310.28 302.80,310.75 303.30,310.59 303.80,310.08 304.30,310.67 304.80,310.53 305.30,310.73 305.80,310.42 306.30,310.66 306.80,310.80 307.30,310.65 307.80,310.66 308.30,310.04 308.80,310.66 309.30,310.72 309.80,310.55 310.30,310.50 310.80,310.21 311.30,310.36 311.80,310.43 312.30,310.76 312.80,310.63 313.30,310.02 313.80,309.85 314.30,310.66 314.80,310.51 314.80,315.25 314.30,315.06 313.80,314.97 313.30,315.45 312.80,315.17 312.30,315.43 311.80,315.19 311.30,315.41 310.80,314.93 310.30,315.69 309.80,315.38 309.30,314.88 308.80,315.25 308.30,314.82 307.80,314.95 307.30,314.98 306.80,315.39 306.30,315.37 305.80,315.66 305.30,315.17 304.80,315.51 304.30,314.95 303.80,315.34 303.30,314.80 302.80,314.84 302.30,314.84 301.80,314.99 301.30,314.92 300.80,314.98 300.30,314.93 299.80,315.13 299.30,314.92 298.80,314.86 298.30,315.32 297.80,314.95 297.30,314.84 296.80,315.01 296.30,314.96 295.80,315.24 295.30,315.00 294.80,315.52 294.30,315.34 293.80,314.82 293.30,314.97 292.80,315.15 292.30,315.01 291.80,314.84 291.30,315.39 290.80,315.53 290.30,314.94 289.80,315.11 289.30,315.12 288.80,315.31 288.30,315.21 287.80,315.01 287.30,314.96 286.80,314.97 286.30,315.12 285.80,315.04 285.30,315.63 284.80,315.17 284.30,315.52 283.80,314.97 283.30,314.82 282.80,315.17 282.30,314.94 281.80,315.05 281.30,314.94 280.80,314.96 280.30,315.04 279.80,314.93 279.30,315.20 278.80,314.80 278.30,314.82 277.80,314.92 277.30,315.16 276.80,315.49 276.30,314.95 275.80,314.94 275.30,315.70 274.80,314.85 274.30,314.97 273.80,315.66 273.30,314.92 272.80,315.04 272.30,315.09 271.80,314.95 271.30,315.19 270.80,315.11 270.30,315.41 269.80,314.93 269.30,315.58 268.80,314.82 268.30,314.99 267.80,314.86 267.30,315.27 266.80,314.81 266.30,314.96 265.80,315.21 265.30,314.94 264.80,315.30 264.30,315.23 263.80,315.43 263.30,315.19 262.80,315.45 262.30,315.23 261.80,315.04 261.30,315.08 260.80,315.15 260.30,315.27 259.80,314.83 259.30,314.84 258.80,315.14 258.30,314.86 257.80,315.06 257.30,314.89 256.80,315.22 256.30,315.65 255.80,314.90 255.30,314.87 254.80,314.90 254.30,314.97 253.80,315.08 253.30,315.09 252.80,314.82 252.30,314.85 251.80,315.19 251.30,315.05 250.80,314.87 250.30,315.20 249.80,315.30 249.30,314.93 248.80,315.28 248.30,314.88 247.80,315.38 247.30,314.85 246.80,314.92 246.30,315.36 245.80,315.03 245.30,315.37 244.80,314.93 244.30,315.09 243.80,315.08 243.30,314.80 242.80,314.88 242.30,314.85 241.80,315.07 241.30,314.98 240.80,315.00 240.30,314.86 239.80,315.11 239.30,314.90 238.80,315.18 238.30,315.20 237.80,315.64 237.30,314.89 236.80,315.75 236.30,314.94 235.80,315.25 235.30,314.81 234.80,315.32 234.30,314.86 233.80,315.05 233.30,314.84 232.80,314.95 232.30,316.06 231.80,314.83 231.30,315.01 230.80,315.00 230.30,314.95 229.80,314.96 229.30,315.11 228.80,314.86 228.30,315.37 227.80,315.01 227.30,314.92 226.80,314.91 226.30,315.39 225.80,315.03 225.30,315.09 224.80,314.81 224.30,315.38 223.80,314.82 223.30,314.85 222.80,315.25 222.30,315.05 221.80,315.14 221.30,315.16 220.80,315.81 220.30,314.94 219.80,315.46 219.30,314.97 218.80,315.14 218.30,315.05 217.80,314.86 217.30,315.14 216.80,315.58 216.30,315.17 215.80,315.25 215.30,315.33 214.80,315.24 214.30,315.23 213.80,314.88 213.30,314.90 212.80,314.93 212.30,315.30 211.80,315.11 211.30,314.81 210.80,314.99 210.30,315.07 209.80,315.01 209.30,315.08 208.80,315.18 208.30,315.25 207.80,315.16 207.30,315.01 206.80,315.05 206.30,315.88 205.80,315.13 205.30,314.91 204.80,314.84 204.30,314.91 203.80,315.36 203.30,315.02 202.80,315.06 202.30,315.37 201.80,315.05 201.30,315.16 200.80,315.38 200.30,315.15 199.80,315.63 199.30,314.82 198.80,315.15 198.30,315.19 197.80,315.48 197.30,315.37 196.80,315.42 196.30,314.91 195.80,315.39 195.30,314.95 194.80,315.43 194.30,315.00 193.80,315.17 193.30,315.64 192.80,315.49 192.30,315.08 191.80,314.90 191.30,315.01 190.80,314.92 190.30,315.13 189.80,314.91 189.30,315.82 188.80,314.87 188.30,314.81 187.80,315.83 187.30,315.10 186.80,314.99 186.30,315.03 185.80,315.29 185.30,315.04 184.80,315.55 184.30,315.37 183.80,315.04 183.30,315.27 182.80,314.82 182.30,315.18 181.80,315.00 181.30,314.95 180.80,315.14 180.30,315.05 179.80,314.84 179.30,315.17 178.80,315.13 178.30,315.25 177.80,315.26 177.30,315.17 176.80,315.23 176.30,314.90 175.80,315.15 175.30,315.50 174.80,315.08 174.30,315.11 173.80,315.17 173.30,315.08 172.80,315.06 172.30,315.41 171.80,315.36 171.30,315.73 170.80,314.92 170.30,314.88 169.80,315.20 169.30,314.81 168.80,314.82 168.30,315.22 167.80,315.20 167.30,315.23 166.80,315.00 166.30,315.37 165.80,315.24 165.30,315.21 164.80,315.14 164.30,315.44 163.80,314.98 163.30,315.27 162.80,315.12 162.30,314.83 161.80,314.99 161.30,315.72 160.80,314.92 160.30,314.97 159.80,315.24 159.30,315.03 158.80,315.12 158.30,315.20 157.80,314.80 157.30,315.07 156.80,315.72 156.30,315.42 155.80,315.10 155.30,315.20 154.80,315.59 154.30,315.49 153.80,315.02 153.30,314.99 152.80,314.95 152.30,315.26 151.80,314.95 151.30,315.23 150.80,315.89 150.30,314.88 149.80,315.17 149.30,314.93 148.80,314.89 148.30,315.35 147.80,315.49 147.30,315.23 146.80,315.14 146.30,315.27 145.80,314.96 145.30,315.02 144.80,314.97 144.30,315.25 143.80,314.97 143.30,314.89 142.80,314.95 142.30,315.00 141.80,315.32 141.30,314.88 140.80,315.90 140.30,315.06 139.80,314.82 139.30,315.19 138.80,314.92 138.30,314.90 137.80,315.07 137.30,315.07 136.80,314.98 136.30,315.04 135.80,315.10 135.30,315.02 134.80,315.01 134.30,315.47 133.80,315.05 133.30,315.08 132.80,314.94 132.30,314.95 131.80,315.28 131.30,315.22 130.80,315.03 130.30,314.87 129.80,315.32 129.30,315.47 128.80,314.98 128.30,315.36 127.80,314.93 127.30,315.62 126.80,315.41 126.30,314.84 125.80,314.85 125.30,314.82 124.80,315.06 124.30,315.01 123.80,315.44 123.30,315.23 122.80,315.01 122.30,314.99 121.80,315.49 121.30,315.17 120.80,314.94 120.30,315.54 119.80,314.86 119.30,315.02 118.80,314.83 118.30,315.30 117.80,315.12 117.30,315.30 116.80,314.89 116.30,315.13 115.80,315.21 115.30,315.09 114.80,314.89 114.30,315.02 113.80,315.00 113.30,314.86 112.80,315.65 112.30,314.88 111.80,315.15 111.30,314.97 110.80,314.82 110.30,315.49 109.80,314.81 109.30,315.28 108.80,315.64 108.30,315.28 107.80,315.07 107.30,314.82 106.80,315.04 106.30,314.86 105.80,315.05 105.30,315.11 104.80,315.17 104.30,315.19 103.80,315.51 103.30,315.20 102.80,315.47 102.30,315.35 101.80,315.25 101.30,314.88 100.80,314.89 100.30,315.26 99.80,315.30 99.30,315.00 98.80,315.33 98.30,314.95 97.80,314.80 97.30,314.98 96.80,315.37 96.30,315.11 95.80,314.84 95.30,315.04 94.80,314.95 94.30,314.85 93.80,315.19 93.30,315.36 92.80,315.11 92.30,315.31 91.80,314.96 91.30,314.92 90.80,314.93 90.30,314.92 89.80,315.00 89.30,315.46 88.80,314.88 88.30,315.19 87.80,314.99 87.30,315.53 86.80,314.83 86.30,315.29 85.80,314.98 85.30,315.00 84.80,315.08 84.30,314.86 83.80,315.53 83.30,315.26 82.80,315.45 82.30,315.20 81.80,314.89 81.30,315.13 80.80,315.05 80.30,314.91 79.80,315.46 79.30,314.94 78.80,315.21 78.30,315.83 77.80,314.89 77.30,314.88 76.80,315.26 76.30,314.99 75.80,315.32 75.30,315.19 74.80,314.90 74.30,315.03 73.80,315.07 73.30,315.00 72.80,315.32 72.30,315.19 71.80,315.52 71.30,314.96 70.80,315.26 70.30,314.98 69.80,315.16 69.30,315.13 68.80,315.15 68.30,315.07 67.80,315.40 67.30,315.33 66.80,314.99 66.30,314.89 65.80,315.13 65.30,314.88 64.80,315.26 64.30,315.38 63.80,315.17 63.30,315.33 62.80,315.14 62.30,315.52 61.80,315.64 61.30,314.82 60.80,314.90 60.30,315.07 59.80,315.23 59.30,315.64 58.80,314.81 58.30,315.68 57.80,314.95 57.30,314.81 56.80,315.07 56.30,315.12 55.80,314.81 55.30,315.18 54.80,314.88 54.30,314.95 53.80,314.94 53.30,314.93 52.80,314.82 52.30,315.38 51.80,315.09 51.30,314.90 50.80,315.78 50.30,315.09 49.80,315.10 49.30,315.17 48.80,315.60 48.30,315.26 47.80,315.17 47.30,315.23 46.80,314.98 46.30,314.89 45.80,315.29 45.30,314.81 44.80,314.84 44.30,315.02 43.80,315.45 43.30,315.23 42.80,314.84 42.30,315.36 41.80,315.12 41.30,315.03 40.80,315.09 40.30,315.16 39.80,314.94 39.30,314.92 38.80,315.06 38.30,315.00 37.80,315.14 37.30,314.93 36.80,315.74 36.30,315.28 35.80,314.99 35.30,315.23 34.80,314.86 34.30,315.12" fill="#000"/>
<text x="45.0" y="379.0" font-size="13.7" text-anchor="start" >1 s</text>
<path d="M38.9,382.2 H66.9" stroke="#000" stroke-width="2.2"/>
<text x="14.8" y="403.9" font-size="17" text-anchor="start" >(e)</text>
<rect x="32.8" y="419" width="283.2" height="93" fill="none" stroke="#000" stroke-width="2"/>
<path d="M29.3,437.6H32.8M29.3,456.1H32.8M29.3,474.6H32.8M29.3,493.2H32.8" stroke="#000" stroke-width="1.6"/>
<text x="28.3" y="424.1" font-size="13.7" text-anchor="end">9</text>
<text x="28.3" y="461.2" font-size="13.7" text-anchor="end">7</text>
<text x="28.3" y="498.3" font-size="13.7" text-anchor="end">5</text>
<text transform="translate(9.8,464.5) rotate(-90)" x="0" y="0" font-size="13.7" text-anchor="middle" dominant-baseline="central" >Current (nA)</text>
<path d="M34.00,441.0v2.2M37.50,441.0v2.3M46.50,441.0v7.1M47.50,441.0v4.3M53.00,441.0v5.7M53.50,441.0v9.7M54.50,441.0v3.1M55.00,441.0v23.6M60.50,441.0v4.4M61.50,441.0v8.1M64.00,441.0v43.5M64.50,441.0v27.4M65.00,441.0v5.1M71.50,441.0v5.7M72.00,441.0v7.4M72.50,441.0v2.6M74.00,441.0v4.7M75.00,441.0v7.8M75.50,441.0v6.2M78.00,441.0v3.2M81.00,441.0v7.1M84.50,441.0v26.3M87.00,441.0v11.1M92.00,441.0v1.4M93.00,441.0v5.7M96.50,441.0v3.6M97.50,441.0v3.4M99.00,441.0v14.8M105.50,441.0v2.9M111.50,441.0v7.5M116.50,441.0v6.0M117.50,441.0v7.8M125.50,441.0v11.2M129.50,441.0v3.1M132.50,441.0v7.0M133.00,441.0v7.3M134.50,441.0v3.0M140.50,441.0v3.9M150.00,441.0v24.5M153.50,441.0v13.6M154.00,441.0v5.0M154.50,441.0v20.6M155.50,441.0v2.3M156.50,441.0v26.7M160.00,441.0v17.0M172.50,441.0v16.3M173.00,441.0v34.2M173.50,441.0v33.4M174.00,441.0v2.2M177.00,441.0v10.2M178.00,441.0v5.6M179.00,441.0v1.9M184.50,441.0v1.8M186.50,441.0v31.0M189.50,441.0v7.7M191.00,441.0v1.7M192.00,441.0v16.1M193.50,441.0v6.5M194.00,441.0v36.7M194.50,441.0v4.6M201.50,441.0v6.2M202.00,441.0v7.8M209.50,441.0v8.1M210.50,441.0v6.4M212.00,441.0v1.7M219.00,441.0v2.6M223.50,441.0v26.8M230.00,441.0v5.8M237.50,441.0v31.2M244.00,441.0v2.8M245.00,441.0v36.1M246.50,441.0v16.2M248.00,441.0v5.8M252.50,441.0v18.9M253.50,441.0v17.3M254.50,441.0v10.5M256.00,441.0v3.0M261.00,441.0v15.3M262.50,441.0v26.8M265.50,441.0v40.7M270.00,441.0v38.4M271.50,441.0v1.5M277.50,441.0v33.4M278.50,441.0v13.6M279.00,441.0v12.4M279.50,441.0v17.7M282.50,441.0v42.6M283.00,441.0v2.9M286.00,441.0v2.9M288.00,441.0v2.2M291.00,441.0v3.5M292.00,441.0v19.7M293.50,441.0v39.3M295.50,441.0v14.9M300.50,441.0v27.0M301.00,441.0v8.8M301.50,441.0v7.5M304.00,441.0v12.8M306.00,441.0v20.6M313.00,441.0v3.7" stroke="#777" stroke-width="0.75" fill="none"/>
<path d="M34.50,441.0v7.0M36.00,441.0v43.2M41.50,441.0v9.0M48.00,441.0v1.7M48.50,441.0v17.9M49.00,441.0v13.7M50.00,441.0v4.0M51.50,441.0v5.9M52.50,441.0v4.8M55.50,441.0v2.8M56.00,441.0v10.4M56.50,441.0v18.4M59.00,441.0v10.5M60.00,441.0v30.8M63.50,441.0v3.7M67.00,441.0v4.3M68.50,441.0v4.0M69.50,441.0v27.1M70.50,441.0v22.6M73.00,441.0v19.8M76.00,441.0v12.6M79.00,441.0v8.2M80.00,441.0v19.4M82.00,441.0v1.2M82.50,441.0v12.8M85.00,441.0v8.0M89.00,441.0v12.5M91.50,441.0v2.7M93.50,441.0v18.4M103.00,441.0v3.9M106.50,441.0v3.1M108.50,441.0v7.1M109.00,441.0v2.8M112.50,441.0v27.5M121.00,441.0v8.5M123.50,441.0v6.9M127.50,441.0v1.2M128.50,441.0v9.4M130.50,441.0v1.4M133.50,441.0v3.3M142.50,441.0v2.5M143.00,441.0v7.3M146.50,441.0v13.5M150.50,441.0v28.0M157.50,441.0v32.3M164.50,441.0v34.6M170.00,441.0v5.7M171.00,441.0v31.0M176.00,441.0v4.4M176.50,441.0v20.8M179.50,441.0v16.1M180.50,441.0v1.7M181.50,441.0v1.2M182.50,441.0v7.4M183.00,441.0v8.3M183.50,441.0v12.4M184.00,441.0v2.6M193.00,441.0v1.3M195.00,441.0v24.0M196.00,441.0v10.8M197.00,441.0v6.2M200.00,441.0v2.1M205.50,441.0v3.8M207.00,441.0v1.3M210.00,441.0v11.4M213.50,441.0v1.6M214.00,441.0v7.4M215.00,441.0v21.8M218.00,441.0v40.7M224.00,441.0v8.7M225.50,441.0v2.5M226.00,441.0v1.7M228.00,441.0v8.8M234.00,441.0v5.5M235.00,441.0v1.2M238.50,441.0v6.5M239.00,441.0v20.1M247.00,441.0v1.2M249.00,441.0v24.6M259.00,441.0v40.2M263.00,441.0v2.9M266.00,441.0v9.4M276.50,441.0v6.6M281.00,441.0v26.4M282.00,441.0v5.4M287.00,441.0v6.7M290.00,441.0v1.1M290.50,441.0v32.7M292.50,441.0v41.9M299.00,441.0v20.9M299.50,441.0v14.6M307.00,441.0v3.6M308.00,441.0v28.2M309.50,441.0v5.2M311.50,441.0v7.9" stroke="#000" stroke-width="0.75" fill="none"/>
<path d="M35.00,441.0v21.9M35.50,441.0v2.7M36.50,441.0v1.3M38.00,441.0v4.4M40.00,441.0v1.4M42.00,441.0v5.5M43.00,441.0v4.3M44.00,441.0v11.9M45.50,441.0v30.9M46.00,441.0v6.4M50.50,441.0v24.5M52.00,441.0v11.4M63.00,441.0v20.8M66.00,441.0v17.9M71.00,441.0v2.4M79.50,441.0v24.9M80.50,441.0v1.7M81.50,441.0v2.0M84.00,441.0v15.4M85.50,441.0v6.1M88.00,441.0v13.9M90.00,441.0v3.0M95.00,441.0v2.2M96.00,441.0v20.7M98.50,441.0v39.2M99.50,441.0v12.8M102.50,441.0v15.9M103.50,441.0v12.4M105.00,441.0v12.1M107.00,441.0v18.9M107.50,441.0v17.0M108.00,441.0v9.0M109.50,441.0v16.6M113.00,441.0v9.5M115.50,441.0v1.8M119.50,441.0v12.5M124.50,441.0v5.7M129.00,441.0v25.2M139.00,441.0v5.2M143.50,441.0v15.0M144.00,441.0v1.2M152.00,441.0v18.0M152.50,441.0v3.3M155.00,441.0v4.8M157.00,441.0v2.4M167.50,441.0v3.0M171.50,441.0v2.6M172.00,441.0v24.2M175.50,441.0v1.5M177.50,441.0v29.2M185.50,441.0v2.2M187.50,441.0v14.1M188.00,441.0v9.5M189.00,441.0v5.6M195.50,441.0v6.3M196.50,441.0v8.4M198.00,441.0v4.2M198.50,441.0v2.4M202.50,441.0v12.5M203.00,441.0v1.8M203.50,441.0v8.3M204.50,441.0v7.7M208.50,441.0v7.3M211.00,441.0v15.8M214.50,441.0v1.8M216.00,441.0v17.5M223.00,441.0v19.6M227.50,441.0v3.2M233.00,441.0v9.0M238.00,441.0v1.8M240.50,441.0v3.5M241.00,441.0v12.4M242.00,441.0v17.5M242.50,441.0v10.6M244.50,441.0v15.5M245.50,441.0v5.5M249.50,441.0v8.8M250.00,441.0v17.4M251.00,441.0v15.2M252.00,441.0v21.9M255.00,441.0v2.2M256.50,441.0v1.1M257.00,441.0v4.6M258.50,441.0v40.6M259.50,441.0v1.5M260.00,441.0v23.1M261.50,441.0v13.7M265.00,441.0v12.4M269.00,441.0v12.7M271.00,441.0v29.9M272.00,441.0v28.1M274.50,441.0v32.5M278.00,441.0v4.5M280.50,441.0v10.8M281.50,441.0v4.4M283.50,441.0v17.6M284.50,441.0v1.3M286.50,441.0v3.0M287.50,441.0v1.8M288.50,441.0v15.5M291.50,441.0v15.4M293.00,441.0v6.2M295.00,441.0v13.3M298.00,441.0v10.6M302.00,441.0v3.9M304.50,441.0v1.5M307.50,441.0v2.9M310.00,441.0v13.8" stroke="#555" stroke-width="0.75" fill="none"/>
<path d="M37.00,441.0v4.8M39.00,441.0v7.0M40.50,441.0v37.9M49.50,441.0v5.2M59.50,441.0v4.2M61.00,441.0v3.6M66.50,441.0v8.0M70.00,441.0v9.7M73.50,441.0v8.2M74.50,441.0v8.2M87.50,441.0v3.4M89.50,441.0v11.1M90.50,441.0v23.8M91.00,441.0v6.8M92.50,441.0v26.0M94.00,441.0v7.5M101.50,441.0v6.7M104.00,441.0v3.9M111.00,441.0v19.7M112.00,441.0v4.7M114.50,441.0v3.9M115.00,441.0v5.3M119.00,441.0v5.5M120.50,441.0v10.8M126.00,441.0v31.0M126.50,441.0v4.7M128.00,441.0v1.3M130.00,441.0v7.1M131.00,441.0v36.3M142.00,441.0v16.3M145.00,441.0v2.9M151.00,441.0v43.7M151.50,441.0v2.2M153.00,441.0v1.1M158.50,441.0v22.7M159.00,441.0v1.4M160.50,441.0v7.0M161.00,441.0v33.9M162.00,441.0v1.8M164.00,441.0v4.1M166.00,441.0v11.6M168.50,441.0v8.0M181.00,441.0v4.4M190.50,441.0v6.0M197.50,441.0v1.7M206.50,441.0v1.9M207.50,441.0v8.8M209.00,441.0v11.9M211.50,441.0v14.9M216.50,441.0v26.7M217.00,441.0v7.5M217.50,441.0v8.5M220.00,441.0v7.7M221.00,441.0v29.9M221.50,441.0v14.2M222.50,441.0v8.0M231.00,441.0v1.1M232.50,441.0v11.4M235.50,441.0v18.0M237.00,441.0v1.7M241.50,441.0v10.3M243.00,441.0v1.4M243.50,441.0v17.3M250.50,441.0v9.6M251.50,441.0v25.6M262.00,441.0v22.4M264.00,441.0v12.0M266.50,441.0v7.6M273.00,441.0v6.1M275.00,441.0v3.7M275.50,441.0v6.8M284.00,441.0v26.8M285.00,441.0v5.6M285.50,441.0v1.1M289.50,441.0v10.1M294.00,441.0v8.5M294.50,441.0v9.8M297.00,441.0v8.1M298.50,441.0v6.0M303.00,441.0v15.2M305.50,441.0v7.2M308.50,441.0v10.6M309.00,441.0v28.3M311.00,441.0v24.9M312.00,441.0v23.3M314.00,441.0v8.1" stroke="#222" stroke-width="0.75" fill="none"/>
<path d="M38.50,441.0v23.0M44.50,441.0v4.5M45.00,441.0v23.9M51.00,441.0v5.7M54.00,441.0v13.2M57.00,441.0v26.0M57.50,441.0v3.4M62.00,441.0v27.9M62.50,441.0v7.0M69.00,441.0v7.0M78.50,441.0v20.0M83.00,441.0v2.3M86.00,441.0v5.3M86.50,441.0v3.7M98.00,441.0v9.7M100.00,441.0v4.6M101.00,441.0v3.1M102.00,441.0v3.0M104.50,441.0v19.8M110.50,441.0v8.4M121.50,441.0v3.5M122.50,441.0v6.1M124.00,441.0v3.2M125.00,441.0v2.9M135.00,441.0v28.1M137.00,441.0v4.8M139.50,441.0v10.4M144.50,441.0v38.6M145.50,441.0v8.1M147.00,441.0v22.8M148.00,441.0v33.7M149.00,441.0v8.5M156.00,441.0v4.0M163.00,441.0v3.8M165.00,441.0v16.7M165.50,441.0v4.2M166.50,441.0v5.1M168.00,441.0v4.6M169.00,441.0v19.2M170.50,441.0v1.8M174.50,441.0v18.4M175.00,441.0v9.4M178.50,441.0v30.4M182.00,441.0v31.0M186.00,441.0v9.3M190.00,441.0v30.0M199.00,441.0v12.3M199.50,441.0v12.8M201.00,441.0v2.5M204.00,441.0v20.5M206.00,441.0v3.0M213.00,441.0v24.0M218.50,441.0v13.7M220.50,441.0v1.3M224.50,441.0v6.6M226.50,441.0v10.0M228.50,441.0v8.7M229.00,441.0v26.2M229.50,441.0v3.4M231.50,441.0v2.6M236.00,441.0v1.8M247.50,441.0v8.0M248.50,441.0v1.1M253.00,441.0v5.2M255.50,441.0v23.6M257.50,441.0v11.8M258.00,441.0v26.8M260.50,441.0v20.5M263.50,441.0v7.8M268.50,441.0v3.0M269.50,441.0v7.4M270.50,441.0v27.0M272.50,441.0v35.3M273.50,441.0v5.2M277.00,441.0v31.4M296.00,441.0v5.4M297.50,441.0v10.7M300.00,441.0v3.6M310.50,441.0v5.0M312.50,441.0v33.1M313.50,441.0v4.4" stroke="#999" stroke-width="0.75" fill="none"/>
<path d="M39.50,441.0v4.7M41.00,441.0v3.8M42.50,441.0v4.0M43.50,441.0v1.3M47.00,441.0v1.6M58.00,441.0v16.4M58.50,441.0v9.9M65.50,441.0v1.8M67.50,441.0v9.0M68.00,441.0v38.4M76.50,441.0v4.8M77.00,441.0v19.3M77.50,441.0v1.9M83.50,441.0v2.8M88.50,441.0v4.1M94.50,441.0v28.3M95.50,441.0v41.7M97.00,441.0v8.1M100.50,441.0v1.0M106.00,441.0v6.6M110.00,441.0v36.2M113.50,441.0v17.3M114.00,441.0v1.1M116.00,441.0v13.3M117.00,441.0v13.3M118.00,441.0v39.1M118.50,441.0v25.3M120.00,441.0v20.6M122.00,441.0v26.1M123.00,441.0v14.3M127.00,441.0v15.8M131.50,441.0v20.0M132.00,441.0v17.5M134.00,441.0v15.1M135.50,441.0v10.4M136.00,441.0v9.5M136.50,441.0v2.2M137.50,441.0v8.8M138.00,441.0v1.4M138.50,441.0v3.6M140.00,441.0v17.6M141.00,441.0v1.2M141.50,441.0v5.0M146.00,441.0v6.2M147.50,441.0v11.0M148.50,441.0v6.1M149.50,441.0v19.3M158.00,441.0v7.3M159.50,441.0v1.4M161.50,441.0v8.7M162.50,441.0v41.1M163.50,441.0v9.4M167.00,441.0v4.9M169.50,441.0v1.0M180.00,441.0v4.2M185.00,441.0v2.4M187.00,441.0v27.5M188.50,441.0v24.3M191.50,441.0v6.8M192.50,441.0v34.8M200.50,441.0v18.5M205.00,441.0v9.0M208.00,441.0v6.5M212.50,441.0v11.7M215.50,441.0v12.0M219.50,441.0v17.6M222.00,441.0v28.1M225.00,441.0v2.7M227.00,441.0v18.5M230.50,441.0v12.3M232.00,441.0v4.6M233.50,441.0v32.7M234.50,441.0v10.4M236.50,441.0v20.3M239.50,441.0v9.9M240.00,441.0v5.7M246.00,441.0v5.2M254.00,441.0v42.4M264.50,441.0v35.8M267.00,441.0v7.9M267.50,441.0v3.9M268.00,441.0v4.0M274.00,441.0v5.5M276.00,441.0v5.4M280.00,441.0v6.2M289.00,441.0v1.5M296.50,441.0v1.0M302.50,441.0v3.5M303.50,441.0v6.4M305.00,441.0v12.8M306.50,441.0v1.6M314.50,441.0v9.6" stroke="#444" stroke-width="0.75" fill="none"/>
<path d="M94.5,441v56" stroke="#999" stroke-width="0.8"/>
<path d="M275.6,441v56" stroke="#999" stroke-width="0.8"/>
<path d="M166,441v52" stroke="#999" stroke-width="0.8"/>
<path d="M66.5,441v45" stroke="#999" stroke-width="0.8"/>
<path d="M222,441v44" stroke="#999" stroke-width="0.8"/>
<path d="M247,441v47" stroke="#999" stroke-width="0.8"/>
<polygon points="33.80,437.49 34.30,437.52 34.80,437.60 35.30,436.60 35.80,437.52 36.30,437.80 36.80,437.79 37.30,437.28 37.80,437.31 38.30,437.76 38.80,437.68 39.30,437.81 39.80,437.79 40.30,437.62 40.80,437.67 41.30,437.74 41.80,437.36 42.30,437.67 42.80,437.88 43.30,437.49 43.80,437.37 44.30,437.49 44.80,437.17 45.30,437.52 45.80,437.55 46.30,437.82 46.80,437.40 47.30,437.85 47.80,437.45 48.30,437.83 48.80,437.08 49.30,437.33 49.80,437.65 50.30,437.87 50.80,437.88 51.30,437.77 51.80,437.80 52.30,437.46 52.80,437.63 53.30,437.53 53.80,437.25 54.30,437.41 54.80,437.61 55.30,437.80 55.80,437.39 56.30,437.73 56.80,437.45 57.30,437.88 57.80,437.48 58.30,437.73 58.80,437.01 59.30,437.65 59.80,437.39 60.30,437.69 60.80,437.80 61.30,437.70 61.80,437.69 62.30,437.34 62.80,437.38 63.30,437.59 63.80,437.31 64.30,437.30 64.80,437.82 65.30,437.77 65.80,437.84 66.30,437.70 66.80,437.82 67.30,437.78 67.80,437.88 68.30,437.45 68.80,437.42 69.30,437.36 69.80,437.72 70.30,437.85 70.80,437.26 71.30,437.61 71.80,437.53 72.30,437.77 72.80,437.55 73.30,437.35 73.80,437.83 74.30,437.45 74.80,437.75 75.30,437.24 75.80,437.74 76.30,437.77 76.80,437.66 77.30,437.59 77.80,437.76 78.30,437.55 78.80,437.88 79.30,437.84 79.80,437.48 80.30,437.55 80.80,437.80 81.30,437.77 81.80,437.83 82.30,437.82 82.80,437.25 83.30,436.94 83.80,437.86 84.30,437.74 84.80,437.42 85.30,437.49 85.80,437.73 86.30,437.52 86.80,437.75 87.30,437.17 87.80,437.79 88.30,437.45 88.80,437.61 89.30,437.59 89.80,437.16 90.30,437.81 90.80,437.61 91.30,437.73 91.80,437.49 92.30,437.71 92.80,437.27 93.30,437.84 93.80,437.50 94.30,437.55 94.80,437.75 95.30,436.95 95.80,437.37 96.30,437.38 96.80,437.40 97.30,437.18 97.80,437.36 98.30,437.54 98.80,437.48 99.30,437.76 99.80,437.86 100.30,437.59 100.80,437.82 101.30,437.78 101.80,437.80 102.30,437.42 102.80,437.62 103.30,437.20 103.80,437.80 104.30,437.61 104.80,437.61 105.30,437.69 105.80,437.14 106.30,437.78 106.80,437.39 107.30,437.60 107.80,437.56 108.30,437.58 108.80,437.73 109.30,437.78 109.80,437.10 110.30,437.89 110.80,437.46 111.30,437.49 111.80,437.57 112.30,437.82 112.80,437.87 113.30,437.48 113.80,437.81 114.30,437.82 114.80,437.74 115.30,437.88 115.80,437.76 116.30,437.56 116.80,437.56 117.30,437.71 117.80,437.22 118.30,437.60 118.80,437.76 119.30,436.93 119.80,437.74 120.30,437.69 120.80,437.70 121.30,437.48 121.80,437.17 122.30,437.32 122.80,437.82 123.30,437.35 123.80,437.36 124.30,437.47 124.80,436.80 125.30,437.55 125.80,437.82 126.30,437.49 126.80,437.85 127.30,437.40 127.80,437.88 128.30,437.44 128.80,437.79 129.30,437.82 129.80,437.26 130.30,437.56 130.80,437.49 131.30,437.80 131.80,437.79 132.30,437.87 132.80,437.83 133.30,437.90 133.80,437.61 134.30,437.69 134.80,437.70 135.30,437.88 135.80,437.45 136.30,437.64 136.80,437.64 137.30,437.90 137.80,437.81 138.30,437.85 138.80,437.66 139.30,437.88 139.80,437.37 140.30,436.76 140.80,437.89 141.30,437.25 141.80,437.54 142.30,437.43 142.80,437.63 143.30,437.43 143.80,437.78 144.30,437.72 144.80,437.42 145.30,437.28 145.80,437.70 146.30,437.73 146.80,437.58 147.30,437.16 147.80,437.78 148.30,437.78 148.80,437.86 149.30,437.85 149.80,437.77 150.30,437.55 150.80,437.09 151.30,437.16 151.80,437.79 152.30,437.72 152.80,437.83 153.30,437.52 153.80,437.83 154.30,437.72 154.80,437.48 155.30,437.89 155.80,437.74 156.30,437.68 156.80,437.62 157.30,437.48 157.80,437.72 158.30,437.66 158.80,437.73 159.30,437.87 159.80,437.80 160.30,437.51 160.80,437.59 161.30,437.56 161.80,437.83 162.30,437.60 162.80,437.47 163.30,437.70 163.80,437.87 164.30,437.25 164.80,437.01 165.30,437.55 165.80,437.63 166.30,437.28 166.80,437.19 167.30,437.69 167.80,437.58 168.30,437.22 168.80,436.98 169.30,437.84 169.80,437.77 170.30,437.64 170.80,437.59 171.30,437.27 171.80,437.28 172.30,437.37 172.80,437.84 173.30,437.59 173.80,437.35 174.30,437.25 174.80,437.60 175.30,437.81 175.80,437.69 176.30,437.51 176.80,437.77 177.30,437.03 177.80,437.70 178.30,437.84 178.80,437.57 179.30,437.76 179.80,437.77 180.30,437.70 180.80,437.63 181.30,437.44 181.80,437.66 182.30,437.27 182.80,437.76 183.30,437.25 183.80,437.09 184.30,437.24 184.80,437.48 185.30,437.80 185.80,437.65 186.30,437.43 186.80,437.84 187.30,437.69 187.80,437.60 188.30,437.49 188.80,437.56 189.30,437.88 189.80,437.19 190.30,437.62 190.80,437.72 191.30,437.70 191.80,437.70 192.30,437.60 192.80,437.85 193.30,437.42 193.80,436.92 194.30,437.69 194.80,437.72 195.30,437.26 195.80,437.36 196.30,437.57 196.80,437.45 197.30,437.63 197.80,437.68 198.30,437.75 198.80,437.73 199.30,437.53 199.80,437.80 200.30,437.49 200.80,437.79 201.30,437.00 201.80,437.66 202.30,437.90 202.80,437.52 203.30,437.37 203.80,437.18 204.30,437.17 204.80,437.63 205.30,437.29 205.80,437.86 206.30,437.35 206.80,437.88 207.30,437.79 207.80,437.71 208.30,437.50 208.80,437.52 209.30,437.73 209.80,437.63 210.30,437.77 210.80,437.51 211.30,437.50 211.80,437.62 212.30,437.60 212.80,437.55 213.30,437.34 213.80,437.43 214.30,437.26 214.80,437.86 215.30,437.56 215.80,437.18 216.30,437.87 216.80,437.80 217.30,437.35 217.80,437.02 218.30,437.80 218.80,437.51 219.30,437.51 219.80,437.67 220.30,437.53 220.80,437.28 221.30,437.73 221.80,437.87 222.30,437.76 222.80,437.82 223.30,437.64 223.80,437.62 224.30,437.42 224.80,437.73 225.30,437.33 225.80,437.90 226.30,437.29 226.80,437.62 227.30,437.43 227.80,437.00 228.30,437.77 228.80,437.45 229.30,437.61 229.80,436.98 230.30,437.60 230.80,437.32 231.30,437.63 231.80,437.33 232.30,437.22 232.80,437.58 233.30,437.86 233.80,437.64 234.30,437.76 234.80,437.65 235.30,437.11 235.80,437.60 236.30,437.62 236.80,437.48 237.30,437.35 237.80,437.82 238.30,437.56 238.80,437.67 239.30,437.77 239.80,437.49 240.30,437.72 240.80,437.62 241.30,437.09 241.80,437.44 242.30,437.64 242.80,436.71 243.30,437.38 243.80,437.46 244.30,437.79 244.80,437.73 245.30,437.61 245.80,437.89 246.30,437.24 246.80,437.76 247.30,437.56 247.80,437.27 248.30,437.81 248.80,437.77 249.30,437.74 249.80,437.48 250.30,437.73 250.80,437.58 251.30,437.78 251.80,437.54 252.30,437.59 252.80,437.35 253.30,437.72 253.80,437.78 254.30,437.54 254.80,437.89 255.30,437.62 255.80,437.70 256.30,437.47 256.80,437.50 257.30,437.66 257.80,437.69 258.30,437.48 258.80,437.39 259.30,437.86 259.80,437.64 260.30,437.33 260.80,437.82 261.30,437.73 261.80,437.60 262.30,437.89 262.80,437.69 263.30,437.31 263.80,437.64 264.30,437.23 264.80,437.46 265.30,437.61 265.80,437.87 266.30,437.45 266.80,437.64 267.30,437.89 267.80,437.65 268.30,437.88 268.80,437.61 269.30,437.48 269.80,437.64 270.30,437.40 270.80,437.77 271.30,437.74 271.80,437.37 272.30,437.55 272.80,437.75 273.30,437.44 273.80,437.45 274.30,437.81 274.80,437.70 275.30,437.22 275.80,437.81 276.30,437.52 276.80,437.77 277.30,437.71 277.80,437.66 278.30,437.39 278.80,437.90 279.30,437.68 279.80,437.57 280.30,437.55 280.80,437.82 281.30,437.84 281.80,437.79 282.30,437.83 282.80,437.83 283.30,437.52 283.80,437.62 284.30,437.74 284.80,437.47 285.30,437.38 285.80,437.55 286.30,437.48 286.80,437.61 287.30,437.87 287.80,437.72 288.30,437.59 288.80,437.20 289.30,437.47 289.80,437.68 290.30,437.83 290.80,437.80 291.30,437.46 291.80,437.59 292.30,437.48 292.80,437.77 293.30,437.82 293.80,437.33 294.30,437.57 294.80,437.86 295.30,437.85 295.80,437.78 296.30,437.20 296.80,437.90 297.30,437.75 297.80,437.22 298.30,437.69 298.80,437.68 299.30,437.34 299.80,437.48 300.30,437.80 300.80,437.73 301.30,437.85 301.80,437.83 302.30,437.58 302.80,437.58 303.30,437.74 303.80,437.86 304.30,437.27 304.80,437.59 305.30,437.70 305.80,437.48 306.30,437.37 306.80,437.40 307.30,437.61 307.80,437.34 308.30,437.83 308.80,437.62 309.30,437.05 309.80,437.74 310.30,437.23 310.80,437.84 311.30,437.89 311.80,437.58 312.30,437.54 312.80,437.77 313.30,437.68 313.80,437.69 314.30,437.31 314.80,437.82 314.80,443.13 314.30,442.59 313.80,442.46 313.30,442.53 312.80,442.61 312.30,442.46 311.80,442.40 311.30,443.02 310.80,442.51 310.30,442.76 309.80,442.41 309.30,442.54 308.80,442.50 308.30,443.05 307.80,442.46 307.30,442.42 306.80,442.54 306.30,442.46 305.80,442.40 305.30,442.54 304.80,442.43 304.30,442.39 303.80,443.24 303.30,442.37 302.80,442.55 302.30,442.64 301.80,442.45 301.30,442.50 300.80,442.50 300.30,442.72 299.80,442.35 299.30,442.92 298.80,442.60 298.30,442.65 297.80,442.41 297.30,442.63 296.80,442.34 296.30,442.49 295.80,442.39 295.30,442.55 294.80,442.63 294.30,442.42 293.80,442.41 293.30,442.32 292.80,443.14 292.30,442.40 291.80,442.84 291.30,442.84 290.80,442.91 290.30,442.96 289.80,442.61 289.30,442.50 288.80,442.67 288.30,442.39 287.80,442.53 287.30,442.66 286.80,442.54 286.30,442.48 285.80,442.99 285.30,442.32 284.80,443.18 284.30,443.38 283.80,442.81 283.30,442.32 282.80,442.68 282.30,442.36 281.80,442.52 281.30,442.33 280.80,442.67 280.30,442.66 279.80,442.40 279.30,442.31 278.80,442.34 278.30,442.34 277.80,442.52 277.30,442.30 276.80,442.49 276.30,442.82 275.80,442.61 275.30,442.98 274.80,442.37 274.30,442.87 273.80,442.83 273.30,442.44 272.80,443.49 272.30,442.39 271.80,442.53 271.30,442.45 270.80,442.79 270.30,442.54 269.80,442.34 269.30,443.09 268.80,442.75 268.30,442.37 267.80,442.56 267.30,442.71 266.80,442.55 266.30,442.48 265.80,443.06 265.30,443.08 264.80,442.40 264.30,442.39 263.80,442.49 263.30,443.21 262.80,442.30 262.30,442.83 261.80,442.55 261.30,442.35 260.80,442.40 260.30,442.55 259.80,442.51 259.30,442.62 258.80,442.79 258.30,442.45 257.80,442.82 257.30,442.55 256.80,442.66 256.30,442.40 255.80,442.70 255.30,442.34 254.80,442.51 254.30,442.52 253.80,442.33 253.30,442.72 252.80,442.43 252.30,442.34 251.80,442.89 251.30,442.34 250.80,442.75 250.30,442.62 249.80,442.48 249.30,442.51 248.80,442.69 248.30,442.34 247.80,442.83 247.30,442.79 246.80,442.67 246.30,442.67 245.80,443.01 245.30,442.87 244.80,442.47 244.30,442.77 243.80,442.36 243.30,442.72 242.80,442.31 242.30,442.37 241.80,442.48 241.30,442.50 240.80,442.89 240.30,442.54 239.80,442.65 239.30,442.33 238.80,442.32 238.30,443.16 237.80,443.16 237.30,442.57 236.80,443.02 236.30,442.43 235.80,442.40 235.30,443.81 234.80,442.43 234.30,443.01 233.80,442.81 233.30,442.48 232.80,442.49 232.30,442.96 231.80,442.36 231.30,442.38 230.80,442.49 230.30,442.90 229.80,442.63 229.30,442.43 228.80,442.51 228.30,442.67 227.80,442.43 227.30,442.35 226.80,442.36 226.30,442.57 225.80,442.34 225.30,442.36 224.80,442.87 224.30,442.72 223.80,442.42 223.30,442.94 222.80,442.40 222.30,442.57 221.80,442.63 221.30,442.55 220.80,442.57 220.30,442.65 219.80,442.57 219.30,442.32 218.80,443.38 218.30,443.15 217.80,442.31 217.30,442.40 216.80,442.67 216.30,442.45 215.80,443.29 215.30,442.82 214.80,442.74 214.30,442.33 213.80,442.85 213.30,442.74 212.80,442.51 212.30,442.63 211.80,442.63 211.30,442.55 210.80,442.49 210.30,442.46 209.80,442.34 209.30,442.35 208.80,442.54 208.30,442.55 207.80,442.36 207.30,442.38 206.80,442.33 206.30,442.63 205.80,442.97 205.30,442.49 204.80,442.59 204.30,442.37 203.80,442.77 203.30,443.18 202.80,443.10 202.30,442.40 201.80,442.80 201.30,442.34 200.80,443.19 200.30,442.49 199.80,442.80 199.30,442.50 198.80,442.82 198.30,442.87 197.80,442.38 197.30,442.43 196.80,443.15 196.30,442.43 195.80,442.81 195.30,442.58 194.80,442.63 194.30,442.69 193.80,442.54 193.30,443.00 192.80,442.54 192.30,442.54 191.80,442.56 191.30,442.38 190.80,442.39 190.30,442.51 189.80,442.54 189.30,442.58 188.80,442.42 188.30,442.84 187.80,442.33 187.30,442.91 186.80,442.32 186.30,442.35 185.80,442.72 185.30,442.63 184.80,443.06 184.30,442.81 183.80,442.86 183.30,442.79 182.80,442.37 182.30,442.33 181.80,442.55 181.30,442.32 180.80,442.84 180.30,442.50 179.80,442.48 179.30,442.58 178.80,442.48 178.30,442.52 177.80,443.03 177.30,442.73 176.80,442.31 176.30,442.47 175.80,442.61 175.30,442.44 174.80,442.51 174.30,442.88 173.80,442.72 173.30,442.76 172.80,442.41 172.30,442.49 171.80,442.51 171.30,442.46 170.80,442.47 170.30,442.51 169.80,442.75 169.30,442.31 168.80,442.65 168.30,442.72 167.80,442.71 167.30,442.56 166.80,442.66 166.30,442.31 165.80,442.33 165.30,442.54 164.80,442.55 164.30,442.83 163.80,442.85 163.30,442.69 162.80,442.33 162.30,442.45 161.80,442.42 161.30,442.89 160.80,442.79 160.30,442.72 159.80,442.64 159.30,442.57 158.80,442.82 158.30,442.86 157.80,442.45 157.30,442.42 156.80,442.43 156.30,442.30 155.80,442.73 155.30,442.69 154.80,442.55 154.30,442.62 153.80,442.54 153.30,442.89 152.80,443.20 152.30,442.72 151.80,442.43 151.30,442.72 150.80,442.54 150.30,442.38 149.80,442.69 149.30,442.92 148.80,442.34 148.30,442.44 147.80,442.72 147.30,442.67 146.80,442.63 146.30,442.40 145.80,442.42 145.30,442.43 144.80,442.41 144.30,442.38 143.80,442.87 143.30,442.39 142.80,442.71 142.30,442.32 141.80,442.86 141.30,442.53 140.80,442.31 140.30,442.45 139.80,442.45 139.30,442.39 138.80,442.63 138.30,442.40 137.80,442.66 137.30,442.72 136.80,442.65 136.30,442.63 135.80,442.44 135.30,442.46 134.80,442.65 134.30,442.77 133.80,442.34 133.30,443.04 132.80,442.46 132.30,442.59 131.80,442.79 131.30,442.51 130.80,442.60 130.30,442.46 129.80,442.41 129.30,442.60 128.80,442.85 128.30,442.51 127.80,442.36 127.30,442.83 126.80,442.50 126.30,442.44 125.80,442.43 125.30,442.54 124.80,442.34 124.30,442.90 123.80,442.37 123.30,442.37 122.80,442.47 122.30,443.28 121.80,442.92 121.30,442.51 120.80,442.56 120.30,442.59 119.80,442.37 119.30,442.37 118.80,442.33 118.30,442.65 117.80,442.62 117.30,442.49 116.80,442.41 116.30,443.14 115.80,442.32 115.30,442.79 114.80,442.57 114.30,442.38 113.80,442.88 113.30,442.61 112.80,442.75 112.30,442.80 111.80,442.44 111.30,443.22 110.80,442.55 110.30,442.81 109.80,442.47 109.30,442.38 108.80,442.94 108.30,442.81 107.80,442.94 107.30,442.44 106.80,442.44 106.30,442.43 105.80,442.71 105.30,442.90 104.80,442.64 104.30,442.36 103.80,442.62 103.30,442.47 102.80,442.48 102.30,442.71 101.80,442.63 101.30,442.66 100.80,443.35 100.30,442.38 99.80,442.92 99.30,442.79 98.80,442.53 98.30,442.58 97.80,442.49 97.30,442.66 96.80,442.52 96.30,442.33 95.80,442.49 95.30,442.55 94.80,442.34 94.30,442.31 93.80,442.87 93.30,442.41 92.80,442.35 92.30,442.32 91.80,442.31 91.30,442.51 90.80,442.63 90.30,442.74 89.80,442.90 89.30,442.74 88.80,442.50 88.30,442.94 87.80,442.48 87.30,442.35 86.80,442.61 86.30,442.38 85.80,442.43 85.30,442.88 84.80,442.57 84.30,442.71 83.80,442.64 83.30,442.83 82.80,442.40 82.30,442.53 81.80,442.68 81.30,443.04 80.80,442.93 80.30,442.45 79.80,442.46 79.30,442.40 78.80,442.73 78.30,442.44 77.80,442.42 77.30,442.92 76.80,442.96 76.30,442.46 75.80,442.35 75.30,442.68 74.80,442.35 74.30,442.55 73.80,443.01 73.30,442.66 72.80,442.53 72.30,443.12 71.80,442.31 71.30,442.86 70.80,443.33 70.30,442.86 69.80,442.32 69.30,443.05 68.80,442.59 68.30,442.70 67.80,442.76 67.30,442.76 66.80,442.32 66.30,442.60 65.80,442.49 65.30,442.33 64.80,442.45 64.30,442.50 63.80,442.31 63.30,442.63 62.80,442.42 62.30,443.19 61.80,443.13 61.30,442.76 60.80,442.53 60.30,442.83 59.80,442.77 59.30,442.50 58.80,442.70 58.30,442.72 57.80,442.42 57.30,442.60 56.80,442.45 56.30,442.45 55.80,442.65 55.30,442.47 54.80,442.47 54.30,442.66 53.80,442.71 53.30,442.37 52.80,442.56 52.30,442.69 51.80,442.61 51.30,442.72 50.80,442.81 50.30,442.77 49.80,442.75 49.30,442.37 48.80,442.65 48.30,442.75 47.80,442.43 47.30,442.32 46.80,442.59 46.30,442.51 45.80,442.86 45.30,442.31 44.80,442.31 44.30,443.05 43.80,442.41 43.30,442.81 42.80,443.29 42.30,442.55 41.80,442.40 41.30,442.64 40.80,442.50 40.30,442.87 39.80,442.85 39.30,442.72 38.80,442.81 38.30,442.43 37.80,442.53 37.30,442.54 36.80,442.67 36.30,442.38 35.80,442.41 35.30,442.93 34.80,442.55 34.30,442.43 33.80,442.83" fill="#000"/>
<text x="45.0" y="504.6" font-size="13.7" text-anchor="start" >3 s</text>
<path d="M39,507.8 H66.9" stroke="#000" stroke-width="2.2"/>
<text x="355.8" y="293.9" font-size="17" text-anchor="start" >(f)</text>
<text x="506.3" y="304.5" font-size="13.7" text-anchor="middle" >400-bp dsDNA</text>
<text x="515.4" y="405.6" font-size="13.7" text-anchor="middle" >SA-labelled 80-bp dsDNA</text>
<path d="M392.6,318.7 L392.9,319.4 L393.2,318.4 L393.5,319.5 L393.8,319.4 L394.1,316.9 L394.4,318.2 L394.7,319.1 L395.0,319.6 L395.3,320.2 L395.6,316.4 L395.9,318.5 L396.2,319.4 L396.5,320.0 L396.8,320.5 L397.1,317.5 L397.4,318.1 L397.7,317.4 L398.0,319.5 L398.3,317.1 L398.6,319.9 L398.9,319.6 L399.2,319.1 L399.5,316.1 L399.8,317.8 L400.1,319.4 L400.4,317.0 L400.7,318.3 L401.0,318.4 L401.3,319.6 L401.6,318.9 L401.9,318.9 L402.2,318.1 L402.5,318.6 L402.8,318.4 L403.1,319.4 L403.4,318.4 L403.7,319.7 L404.0,316.6 L404.3,319.9 L404.6,318.4 L404.9,319.8 L405.2,318.7 L405.5,319.5 L405.8,320.3 L406.1,317.9 L406.4,318.7 L406.7,318.4 L407.0,318.8 L407.3,316.7 L407.6,318.4 L407.9,318.3 L408.2,317.7 L408.5,318.3 L408.8,316.8 L409.1,320.2 L409.4,319.1 L409.7,320.7 L410.0,317.6 L410.3,317.2 L410.6,318.9 L410.9,316.7 L411.2,318.8 L411.5,317.8 L411.8,318.2 L412.1,318.9 L412.4,318.6 L412.7,320.7 L413.0,319.3 L413.3,317.1 L413.6,319.7 L413.9,317.0 L414.2,318.7 L414.5,317.1 L414.8,317.6 L415.1,320.1 L415.4,317.9 L415.7,317.8 L416.0,317.9 L416.3,318.2 L416.6,320.2 L416.9,317.2 L417.2,317.2 L417.5,319.2 L417.8,316.7 L418.1,318.1 L418.4,319.8 L418.7,318.6 L419.0,318.0 L419.3,317.7 L419.6,317.5 L419.9,317.9 L420.2,318.7 L420.5,320.0 L420.8,319.6 L421.1,317.9 L421.4,317.7 L421.7,319.3 L422.0,316.5 L422.3,318.1 L422.6,318.2 L422.9,317.3 L423.2,317.4 L423.5,318.9 L423.8,316.7 L424.1,317.5 L424.4,317.8 L424.7,318.6 L425.0,317.0 L425.3,319.2 L425.6,320.0 L425.9,321.5 L426.2,323.0 L426.5,324.4 L426.8,325.8 L427.1,328.6 L427.4,329.6 L427.7,331.0 L428.0,333.1 L428.3,330.2 L428.6,329.1 L428.9,326.8 L429.2,324.4 L429.5,323.4 L429.8,320.3 L430.1,319.6 L430.4,317.5 L430.7,319.0 L431.0,320.1 L431.3,319.2 L431.6,317.8 L431.9,318.5 L432.2,318.1 L432.5,317.2 L432.8,317.3 L433.1,318.6 L433.4,319.1 L433.7,316.5 L434.0,318.4 L434.3,319.1 L434.6,318.6 L434.9,317.4 L435.2,319.7 L435.5,317.1 L435.8,319.2 L436.1,320.3 L436.4,316.2 L436.7,318.8 L437.0,318.9 L437.3,318.8 L437.6,317.6 L437.9,318.1 L438.2,316.9 L438.5,318.6 L438.8,319.1 L439.1,317.7 L439.4,317.5 L439.7,318.0 L440.0,318.5 L440.3,318.6 L440.6,318.4 L440.9,318.6 L441.2,317.0 L441.5,315.4 L441.8,319.2 L442.1,320.1 L442.4,316.9 L442.7,317.7 L443.0,318.8 L443.3,319.6 L443.6,319.2 L443.9,319.9 L444.2,318.4 L444.5,319.0 L444.8,319.0 L445.1,318.0 L445.4,319.8 L445.7,319.2 L446.0,319.6 L446.3,318.0 L446.6,319.7 L446.9,317.3 L447.2,318.9 L447.5,315.5 L447.8,317.4 L448.1,319.3 L448.4,318.0 L448.7,318.7 L449.0,316.7 L449.3,320.2 L449.6,319.2 L449.9,318.5 L450.2,319.0 L450.5,318.9 L450.8,320.1 L451.1,318.7 L451.4,316.8 L451.7,318.2 L452.0,319.9 L452.3,319.1 L452.6,318.0 L452.9,319.2 L453.2,318.6 L453.5,319.2 L453.8,316.7 L454.1,317.5 L454.4,319.2 L454.7,318.2 L455.0,318.9 L455.3,320.7 L455.6,318.1 L455.9,318.8 L456.2,317.9 L456.5,317.8 L456.8,318.4 L457.1,316.9 L457.4,316.1 L457.7,320.0 L458.0,318.4 L458.3,319.7 L458.6,318.6 L458.9,318.7 L459.2,319.2 L459.5,319.3 L459.8,317.1 L460.1,319.8 L460.4,317.4 L460.7,318.7 L461.0,321.4 L461.3,318.6 L461.6,320.4 L461.9,318.1 L462.2,319.2 L462.5,318.5 L462.8,319.0 L463.1,317.5" fill="none" stroke="#111" stroke-width="0.75"/>
<path d="M474.8,316.8 L475.1,318.2 L475.4,316.0 L475.7,316.8 L476.0,318.5 L476.3,317.1 L476.6,316.8 L476.9,316.5 L477.2,318.0 L477.5,317.4 L477.8,318.0 L478.1,317.6 L478.4,319.9 L478.7,317.3 L479.0,315.6 L479.3,317.9 L479.6,317.8 L479.9,318.0 L480.2,316.0 L480.5,319.1 L480.8,317.8 L481.1,317.7 L481.4,316.0 L481.7,318.3 L482.0,317.7 L482.3,319.3 L482.6,317.3 L482.9,316.4 L483.2,317.9 L483.5,316.8 L483.8,318.3 L484.1,316.6 L484.4,317.6 L484.7,317.5 L485.0,317.7 L485.3,317.2 L485.6,316.9 L485.9,317.7 L486.2,317.1 L486.5,318.0 L486.8,317.5 L487.1,315.3 L487.4,317.7 L487.7,319.3 L488.0,318.1 L488.3,318.5 L488.6,318.3 L488.9,317.3 L489.2,316.3 L489.5,318.7 L489.8,319.0 L490.1,318.4 L490.4,318.3 L490.7,318.2 L491.0,317.8 L491.3,318.1 L491.6,317.8 L491.9,318.2 L492.2,316.7 L492.5,317.1 L492.8,318.4 L493.1,317.4 L493.4,315.1 L493.7,317.9 L494.0,315.2 L494.3,319.9 L494.6,318.6 L494.9,318.5 L495.2,317.1 L495.5,316.5 L495.8,317.6 L496.1,317.8 L496.4,316.9 L496.7,318.0 L497.0,318.6 L497.3,318.5 L497.6,316.6 L497.9,315.4 L498.2,317.8 L498.5,317.1 L498.8,318.3 L499.1,319.6 L499.4,319.6 L499.7,318.1 L500.0,319.0 L500.3,319.6 L500.6,317.8 L500.9,318.1 L501.2,318.7 L501.5,317.8 L501.8,317.2 L502.1,317.0 L502.4,317.8 L502.7,317.1 L503.0,318.7 L503.3,317.4 L503.6,319.4 L503.9,319.1 L504.2,316.4 L504.5,319.0 L504.8,317.4 L505.1,319.3 L505.4,318.4 L505.7,317.8 L506.0,318.5 L506.3,317.2 L506.6,318.2 L506.9,320.1 L507.2,322.3 L507.5,325.7 L507.8,327.0 L508.1,330.4 L508.4,328.5 L508.7,330.5 L509.0,330.3 L509.3,330.6 L509.6,329.2 L509.9,333.1 L510.2,329.6 L510.5,330.0 L510.8,329.0 L511.1,331.4 L511.4,329.3 L511.7,330.9 L512.0,328.8 L512.3,330.2 L512.6,329.4 L512.9,330.8 L513.2,329.5 L513.5,328.9 L513.8,327.7 L514.1,321.2 L514.4,316.8 L514.7,318.7 L515.0,315.8 L515.3,318.7 L515.6,317.4 L515.9,316.8 L516.2,318.1 L516.5,318.5 L516.8,317.2 L517.1,317.7 L517.4,318.7 L517.7,318.7 L518.0,317.8 L518.3,317.0 L518.6,316.8 L518.9,317.2 L519.2,318.6 L519.5,318.5 L519.8,318.2 L520.1,319.4 L520.4,317.5 L520.7,317.4 L521.0,317.4 L521.3,319.9 L521.6,315.6 L521.9,318.2 L522.2,318.3 L522.5,317.9 L522.8,320.4 L523.1,319.1 L523.4,318.7 L523.7,316.9 L524.0,318.4 L524.3,317.5 L524.6,317.9 L524.9,318.1 L525.2,317.3 L525.5,318.6 L525.8,319.6 L526.1,319.0 L526.4,318.1 L526.7,315.8 L527.0,319.1 L527.3,319.0 L527.6,317.7 L527.9,317.4 L528.2,318.6 L528.5,317.0 L528.8,318.7 L529.1,316.7 L529.4,316.9 L529.7,317.9 L530.0,316.3 L530.3,317.9 L530.6,318.5 L530.9,316.5 L531.2,318.9 L531.5,317.3 L531.8,318.5 L532.1,318.1 L532.4,317.4 L532.7,317.3 L533.0,316.0 L533.3,317.1 L533.6,317.1 L533.9,319.7 L534.2,319.0 L534.5,316.4 L534.8,318.8 L535.1,318.1 L535.4,317.5 L535.7,318.4 L536.0,318.7 L536.3,317.3 L536.6,317.6 L536.9,318.1 L537.2,316.8 L537.5,318.1 L537.8,317.8 L538.1,317.2 L538.4,317.0 L538.7,318.2 L539.0,318.8 L539.3,318.3 L539.6,317.0 L539.9,318.7 L540.2,318.1 L540.5,318.5 L540.8,319.1 L541.1,316.9 L541.4,317.7 L541.7,317.3 L542.0,317.0 L542.3,320.1 L542.6,318.9 L542.9,316.0 L543.2,318.4 L543.5,317.3 L543.8,319.1 L544.1,318.0 L544.4,317.7 L544.7,318.1 L545.0,318.3 L545.3,317.9 L545.6,317.7 L545.9,317.7 L546.2,318.4 L546.5,316.7 L546.8,317.9 L547.1,317.8 L547.4,317.4 L547.7,318.7 L548.0,316.5 L548.3,317.5 L548.6,317.0 L548.9,318.5" fill="none" stroke="#111" stroke-width="0.75"/>
<path d="M564.8,317.4 L565.1,318.0 L565.4,318.3 L565.7,316.2 L566.0,318.4 L566.3,317.1 L566.6,317.6 L566.9,317.8 L567.2,318.8 L567.5,318.7 L567.8,319.8 L568.1,318.1 L568.4,317.4 L568.7,317.4 L569.0,318.6 L569.3,319.6 L569.6,318.3 L569.9,317.3 L570.2,318.2 L570.5,318.2 L570.8,317.9 L571.1,317.1 L571.4,315.2 L571.7,317.3 L572.0,319.0 L572.3,318.1 L572.6,315.5 L572.9,317.9 L573.2,315.9 L573.5,320.0 L573.8,318.1 L574.1,316.6 L574.4,318.8 L574.7,317.1 L575.0,318.5 L575.3,317.9 L575.6,316.6 L575.9,318.6 L576.2,316.5 L576.5,319.3 L576.8,318.0 L577.1,316.8 L577.4,316.0 L577.7,319.6 L578.0,319.5 L578.3,316.5 L578.6,319.7 L578.9,318.1 L579.2,317.7 L579.5,317.8 L579.8,317.6 L580.1,319.4 L580.4,318.1 L580.7,315.9 L581.0,320.1 L581.3,318.8 L581.6,316.7 L581.9,317.5 L582.2,316.9 L582.5,318.0 L582.8,318.3 L583.1,318.2 L583.4,317.3 L583.7,317.0 L584.0,318.8 L584.3,317.8 L584.6,320.3 L584.9,317.0 L585.2,318.7 L585.5,318.0 L585.8,317.1 L586.1,319.4 L586.4,318.0 L586.7,316.9 L587.0,317.6 L587.3,319.0 L587.6,316.6 L587.9,319.4 L588.2,318.6 L588.5,317.6 L588.8,319.4 L589.1,319.8 L589.4,318.5 L589.7,318.1 L590.0,319.9 L590.3,319.5 L590.6,316.9 L590.9,317.7 L591.2,317.7 L591.5,317.5 L591.8,316.3 L592.1,318.9 L592.4,318.0 L592.7,318.0 L593.0,319.4 L593.3,317.3 L593.6,317.8 L593.9,318.2 L594.2,318.1 L594.5,320.6 L594.8,323.7 L595.1,325.0 L595.4,328.6 L595.7,328.5 L596.0,330.6 L596.3,328.9 L596.6,330.3 L596.9,329.6 L597.2,331.9 L597.5,331.2 L597.8,330.9 L598.1,332.4 L598.4,332.0 L598.7,331.2 L599.0,329.7 L599.3,328.8 L599.6,330.4 L599.9,330.0 L600.2,329.7 L600.5,330.1 L600.8,328.6 L601.1,332.0 L601.4,329.2 L601.7,329.7 L602.0,331.0 L602.3,328.6 L602.6,331.4 L602.9,331.4 L603.2,330.1 L603.5,329.2 L603.8,326.9 L604.1,321.8 L604.4,321.8 L604.7,318.0 L605.0,317.1 L605.3,316.9 L605.6,318.5 L605.9,319.5 L606.2,316.5 L606.5,317.3 L606.8,316.0 L607.1,318.6 L607.4,318.1 L607.7,320.4 L608.0,317.8 L608.3,317.4 L608.6,317.1 L608.9,318.8 L609.2,316.1 L609.5,318.7 L609.8,318.2 L610.1,317.3 L610.4,316.9 L610.7,319.0 L611.0,319.9 L611.3,317.4 L611.6,318.5 L611.9,319.8 L612.2,317.2 L612.5,317.6 L612.8,316.6 L613.1,317.7 L613.4,317.8 L613.7,317.4 L614.0,317.1 L614.3,316.2 L614.6,316.4 L614.9,316.8 L615.2,318.6 L615.5,317.3 L615.8,317.0 L616.1,318.6 L616.4,318.5 L616.7,317.1 L617.0,317.2 L617.3,318.6 L617.6,318.3 L617.9,317.0 L618.2,318.2 L618.5,317.9 L618.8,319.1 L619.1,317.0 L619.4,318.9 L619.7,318.4 L620.0,316.8 L620.3,319.1 L620.6,318.9 L620.9,316.5 L621.2,320.1 L621.5,316.6 L621.8,316.9 L622.1,317.5 L622.4,318.7 L622.7,318.5 L623.0,317.8 L623.3,319.4 L623.6,318.3 L623.9,319.4 L624.2,321.0 L624.5,318.1 L624.8,315.1 L625.1,317.4 L625.4,316.7 L625.7,318.0 L626.0,318.0 L626.3,316.5 L626.6,316.6 L626.9,317.6 L627.2,317.7 L627.5,315.0 L627.8,319.0 L628.1,317.9 L628.4,317.9 L628.7,318.2 L629.0,316.8 L629.3,317.8 L629.6,319.1 L629.9,319.1 L630.2,318.4 L630.5,317.6 L630.8,317.0 L631.1,319.4 L631.4,318.5 L631.7,317.4 L632.0,315.5 L632.3,316.9 L632.6,315.7 L632.9,319.3 L633.2,318.1 L633.5,317.1 L633.8,317.6 L634.1,320.8 L634.4,319.3 L634.7,316.4 L635.0,317.8 L635.3,316.5 L635.6,316.0 L635.9,318.1 L636.2,320.6 L636.5,319.7 L636.8,317.9 L637.1,317.5 L637.4,318.1 L637.7,319.1 L638.0,316.3 L638.3,315.8 L638.6,320.0 L638.9,318.2 L639.2,319.7" fill="none" stroke="#111" stroke-width="0.75"/>
<path d="M392.7,420.9 L393.0,422.3 L393.3,419.9 L393.6,421.2 L393.9,422.4 L394.2,421.8 L394.5,420.1 L394.8,421.6 L395.1,419.8 L395.4,419.0 L395.7,421.2 L396.0,422.2 L396.3,421.6 L396.6,419.2 L396.9,421.6 L397.2,421.4 L397.5,420.1 L397.8,417.8 L398.1,421.8 L398.4,421.6 L398.7,421.2 L399.0,418.6 L399.3,418.9 L399.6,421.8 L399.9,421.5 L400.2,421.2 L400.5,420.3 L400.8,421.0 L401.1,420.0 L401.4,420.2 L401.7,419.6 L402.0,420.9 L402.3,420.1 L402.6,421.7 L402.9,421.4 L403.2,419.7 L403.5,422.7 L403.8,419.3 L404.1,421.1 L404.4,421.8 L404.7,422.1 L405.0,418.1 L405.3,421.7 L405.6,422.0 L405.9,422.2 L406.2,418.1 L406.5,419.8 L406.8,420.5 L407.1,420.1 L407.4,422.1 L407.7,419.8 L408.0,422.0 L408.3,421.2 L408.6,418.9 L408.9,419.5 L409.2,420.1 L409.5,420.7 L409.8,421.7 L410.1,420.4 L410.4,421.6 L410.7,418.8 L411.0,417.1 L411.3,420.2 L411.6,421.1 L411.9,420.2 L412.2,419.4 L412.5,421.1 L412.8,422.8 L413.1,420.5 L413.4,419.8 L413.7,419.6 L414.0,422.9 L414.3,420.6 L414.6,421.3 L414.9,422.0 L415.2,421.8 L415.5,419.5 L415.8,421.7 L416.1,421.6 L416.4,421.2 L416.7,421.8 L417.0,420.0 L417.3,420.5 L417.6,420.0 L417.9,421.5 L418.2,419.8 L418.5,421.1 L418.8,419.3 L419.1,420.5 L419.4,420.2 L419.7,420.5 L420.0,420.8 L420.3,420.4 L420.6,420.3 L420.9,418.2 L421.2,421.9 L421.5,419.9 L421.8,420.3 L422.1,419.6 L422.4,421.7 L422.7,419.6 L423.0,421.2 L423.3,422.0 L423.6,422.5 L423.9,422.0 L424.2,421.3 L424.5,419.2 L424.6,420.6 L425.7,476.6 L426.8,420.6 L426.9,422.1 L427.2,419.4 L427.5,421.7 L427.8,420.9 L428.1,421.6 L428.4,420.9 L428.7,421.9 L429.0,421.8 L429.3,421.6 L429.6,419.0 L429.9,421.6 L430.2,420.7 L430.5,419.3 L430.8,421.4 L431.1,419.0 L431.4,421.6 L431.7,422.6 L432.0,420.0 L432.3,421.7 L432.6,421.1 L432.9,421.4 L433.2,419.1 L433.5,421.3 L433.8,420.8 L434.1,421.5 L434.4,420.6 L434.7,421.9 L435.0,420.9 L435.3,421.4 L435.6,422.2 L435.9,420.8 L436.2,421.8 L436.5,420.9 L436.8,421.2 L437.1,420.0 L437.4,421.5 L437.7,422.0 L438.0,420.5 L438.3,421.5 L438.6,421.1 L438.9,419.4 L439.2,421.0 L439.5,422.1 L439.8,420.1 L440.1,418.6 L440.4,420.9 L440.7,419.9 L441.0,422.8 L441.3,420.6 L441.6,420.6 L441.9,419.9 L442.2,420.9 L442.5,420.0 L442.8,419.6 L443.1,420.6 L443.4,419.7 L443.7,422.1 L444.0,419.3 L444.3,420.6 L444.6,419.9 L444.9,419.1 L445.2,422.5 L445.5,418.3 L445.8,422.3 L446.1,419.0 L446.4,420.7 L446.7,423.2 L447.0,418.2 L447.3,419.1 L447.6,422.1 L447.9,420.8 L448.2,420.0 L448.5,420.6 L448.8,419.6 L449.1,420.8 L449.4,422.3 L449.7,420.2 L450.0,420.8 L450.3,422.0 L450.6,422.9 L450.9,420.0 L451.2,421.0 L451.5,420.0 L451.8,419.9 L452.1,420.2 L452.4,419.9 L452.7,418.7 L453.0,418.4 L453.3,419.8 L453.6,420.8 L453.9,422.0 L454.2,420.0 L454.5,420.5 L454.8,421.4 L455.1,421.5 L455.4,420.5 L455.7,420.6 L456.0,422.8 L456.3,420.3 L456.6,420.1 L456.9,418.8 L457.2,421.1 L457.5,420.3 L457.8,422.8 L458.1,420.3 L458.4,421.6 L458.7,421.7 L459.0,422.5 L459.3,419.2 L459.6,422.4 L459.9,420.7 L460.2,420.5 L460.5,420.3 L460.8,420.2 L461.1,420.3 L461.4,418.0 L461.7,421.2 L462.0,420.7 L462.3,419.6" fill="none" stroke="#111" stroke-width="0.75"/>
<path d="M474.5,420.2 L474.8,422.8 L475.1,420.7 L475.4,419.8 L475.7,422.2 L476.0,419.3 L476.3,420.1 L476.6,419.6 L476.9,420.0 L477.2,421.1 L477.5,420.9 L477.8,419.4 L478.1,420.1 L478.4,420.3 L478.7,419.8 L479.0,420.2 L479.3,419.4 L479.6,419.4 L479.9,420.3 L480.2,419.1 L480.5,420.7 L480.8,420.0 L481.1,419.2 L481.4,419.6 L481.7,419.7 L482.0,420.1 L482.3,420.4 L482.6,420.0 L482.9,419.3 L483.2,421.8 L483.5,421.2 L483.8,420.4 L484.1,421.3 L484.4,420.6 L484.7,419.9 L485.0,420.3 L485.3,423.2 L485.6,421.3 L485.9,421.4 L486.2,419.8 L486.5,420.9 L486.8,422.8 L487.1,420.7 L487.4,421.4 L487.7,421.6 L488.0,421.0 L488.3,422.0 L488.6,420.5 L488.9,420.8 L489.2,419.5 L489.5,423.2 L489.8,420.6 L490.1,420.4 L490.4,421.8 L490.7,419.7 L491.0,420.2 L491.3,419.4 L491.6,420.3 L491.9,419.8 L492.2,420.8 L492.5,420.1 L492.8,419.6 L493.1,419.9 L493.4,420.1 L493.7,419.7 L494.0,421.3 L494.3,421.0 L494.6,420.4 L494.9,418.9 L495.2,420.8 L495.5,418.8 L495.8,420.4 L496.1,420.3 L496.4,419.6 L496.7,419.3 L497.0,419.5 L497.3,422.5 L497.6,419.9 L497.9,420.0 L498.2,421.3 L498.5,420.7 L498.8,421.4 L499.1,418.9 L499.4,419.0 L499.7,423.9 L500.0,420.2 L500.3,419.9 L500.6,420.4 L500.9,421.3 L501.2,418.9 L501.5,420.5 L501.8,420.2 L502.1,421.0 L502.4,420.4 L502.7,419.6 L503.0,419.3 L503.3,417.5 L503.6,421.3 L503.9,418.6 L504.2,419.8 L504.5,422.1 L504.8,419.8 L505.1,420.9 L505.4,420.0 L505.7,421.0 L506.0,420.3 L506.3,419.7 L506.6,421.7 L506.9,419.9 L507.2,418.7 L507.5,419.9 L507.8,420.8 L508.1,419.0 L508.4,421.1 L508.7,421.1 L509.0,422.6 L509.2,420.2 L510.3,483.2 L511.4,420.2 L511.4,420.1 L511.7,419.6 L512.0,419.7 L512.3,420.6 L512.6,420.8 L512.9,420.9 L513.2,421.3 L513.5,421.5 L513.8,418.2 L514.1,419.7 L514.4,420.1 L514.7,419.5 L515.0,421.4 L515.3,421.1 L515.6,420.1 L515.9,420.4 L516.2,421.6 L516.5,419.8 L516.8,419.9 L517.1,421.2 L517.4,420.7 L517.7,421.8 L518.0,420.6 L518.3,421.1 L518.6,419.6 L518.9,419.2 L519.2,420.2 L519.5,417.3 L519.8,420.7 L520.1,421.3 L520.4,420.3 L520.7,420.0 L521.0,421.4 L521.3,420.2 L521.6,421.3 L521.9,422.6 L522.2,421.0 L522.5,421.3 L522.8,420.8 L523.1,420.5 L523.4,420.5 L523.7,420.3 L524.0,421.4 L524.3,418.5 L524.6,419.9 L524.9,421.0 L525.2,419.3 L525.5,420.1 L525.8,419.5 L526.1,420.7 L526.4,421.2 L526.7,421.8 L527.0,420.8 L527.3,419.4 L527.6,420.5 L527.9,420.9 L528.2,421.8 L528.5,417.9 L528.8,420.6 L529.1,418.2 L529.4,421.0 L529.7,420.7 L530.0,420.8 L530.3,421.2 L530.6,420.7 L530.9,419.5 L531.2,420.6 L531.5,421.5 L531.8,420.1 L532.1,420.3 L532.4,418.9 L532.7,421.5 L533.0,419.7 L533.3,419.4 L533.6,419.7 L533.9,419.3 L534.2,420.0 L534.5,421.6 L534.8,421.1 L535.1,421.8 L535.4,421.9 L535.7,419.2 L536.0,420.8 L536.3,421.9 L536.6,422.8 L536.9,418.7 L537.2,418.7 L537.5,420.7 L537.8,419.9 L538.1,419.1 L538.4,420.6 L538.7,419.4 L539.0,417.7 L539.3,420.2 L539.6,420.4 L539.9,420.9 L540.2,421.3 L540.5,420.4 L540.8,420.0 L541.1,419.5 L541.4,418.4 L541.7,419.7 L542.0,421.3 L542.3,420.9 L542.6,422.5 L542.9,420.1 L543.2,418.3 L543.5,421.1 L543.8,421.4 L544.1,418.9 L544.4,418.5 L544.7,420.4 L545.0,421.0 L545.3,419.0 L545.6,419.9 L545.9,419.4 L546.2,418.9 L546.5,418.8 L546.8,420.4 L547.1,419.8 L547.4,419.5 L547.7,417.4 L548.0,422.1" fill="none" stroke="#111" stroke-width="0.75"/>
<path d="M564.8,419.2 L565.1,420.1 L565.4,419.0 L565.7,420.6 L566.0,418.6 L566.3,420.3 L566.6,420.0 L566.9,421.2 L567.2,419.0 L567.5,419.5 L567.8,420.0 L568.1,422.5 L568.4,418.6 L568.7,420.5 L569.0,419.5 L569.3,420.6 L569.6,420.9 L569.9,420.4 L570.2,420.5 L570.5,420.5 L570.8,419.6 L571.1,420.0 L571.4,418.4 L571.7,419.8 L572.0,419.4 L572.3,419.9 L572.6,421.0 L572.9,420.6 L573.2,420.7 L573.5,421.4 L573.8,417.6 L574.1,420.7 L574.4,420.2 L574.7,420.1 L575.0,418.8 L575.3,420.8 L575.6,421.5 L575.9,421.3 L576.2,420.1 L576.5,420.9 L576.8,421.2 L577.1,422.2 L577.4,421.6 L577.7,420.4 L578.0,420.3 L578.3,420.4 L578.6,420.5 L578.9,419.7 L579.2,421.1 L579.5,419.4 L579.8,419.3 L580.1,420.6 L580.4,419.6 L580.7,419.9 L581.0,417.9 L581.3,421.1 L581.6,420.2 L581.9,420.1 L582.2,420.7 L582.5,420.4 L582.8,419.4 L583.1,422.4 L583.4,419.7 L583.7,421.3 L584.0,422.2 L584.3,419.5 L584.6,420.3 L584.9,419.3 L585.2,421.4 L585.5,419.8 L585.8,419.0 L586.1,421.6 L586.4,421.2 L586.7,419.2 L587.0,421.5 L587.3,420.4 L587.6,423.2 L587.9,422.1 L588.2,419.6 L588.5,419.9 L588.8,419.2 L589.1,420.3 L589.4,420.3 L589.7,421.0 L590.0,420.3 L590.3,418.6 L590.6,419.3 L590.9,421.8 L591.2,421.5 L591.5,420.0 L591.8,420.1 L592.1,420.0 L592.4,420.2 L592.7,418.4 L593.0,421.2 L593.3,419.5 L593.6,420.4 L593.9,417.4 L594.2,420.5 L594.5,421.7 L594.8,417.7 L595.1,421.9 L595.4,420.7 L595.7,419.4 L596.0,418.5 L596.3,421.5 L596.6,420.5 L596.9,420.9 L597.2,419.9 L597.5,419.3 L597.8,421.2 L598.1,419.2 L598.4,421.2 L598.7,418.4 L599.0,419.2 L599.3,418.6 L599.6,421.6 L599.9,418.3 L600.2,418.9 L600.5,420.9 L600.8,420.5 L601.1,422.6 L601.1,420.2 L602.2,498.2 L603.3,420.2 L603.5,418.7 L603.8,419.2 L604.1,419.3 L604.4,421.4 L604.7,420.7 L605.0,419.8 L605.3,419.9 L605.6,420.5 L605.9,419.4 L606.2,419.9 L606.5,418.3 L606.8,420.9 L607.1,421.3 L607.4,420.6 L607.7,420.7 L608.0,420.6 L608.3,422.4 L608.6,420.4 L608.9,418.7 L609.2,419.0 L609.5,421.0 L609.8,421.4 L610.1,421.0 L610.4,421.1 L610.7,420.4 L611.0,418.6 L611.3,419.4 L611.6,418.2 L611.9,419.8 L612.2,418.7 L612.5,420.3 L612.8,420.0 L613.1,418.1 L613.4,421.0 L613.7,421.0 L614.0,418.7 L614.3,420.4 L614.6,421.0 L614.9,419.9 L615.2,421.1 L615.5,420.4 L615.8,421.4 L616.1,420.4 L616.4,420.0 L616.7,420.8 L617.0,421.1 L617.3,420.5 L617.6,419.7 L617.9,419.3 L618.2,419.8 L618.5,419.6 L618.8,420.4 L619.1,420.4 L619.4,420.1 L619.7,420.2 L620.0,420.4 L620.3,421.9 L620.6,421.5 L620.9,419.5 L621.2,420.7 L621.5,419.8 L621.8,420.1 L622.1,419.9 L622.4,419.5 L622.7,418.7 L623.0,417.5 L623.3,420.4 L623.6,421.5 L623.9,419.2 L624.2,420.7 L624.5,419.8 L624.8,420.5 L625.1,419.3 L625.4,419.9 L625.7,420.1 L626.0,417.5 L626.3,420.4 L626.6,420.0 L626.9,417.4 L627.2,420.9 L627.5,420.1 L627.8,420.4 L628.1,420.6 L628.4,419.7 L628.7,419.0 L629.0,419.7 L629.3,419.7 L629.6,422.6 L629.9,422.2 L630.2,419.6 L630.5,419.7 L630.8,420.5 L631.1,420.8 L631.4,419.4 L631.7,419.1 L632.0,422.3 L632.3,421.3 L632.6,418.4 L632.9,418.2 L633.2,419.3 L633.5,420.4 L633.8,420.8 L634.1,419.8 L634.4,418.4 L634.7,420.4 L635.0,420.8 L635.3,420.2 L635.6,419.6 L635.9,420.8 L636.2,420.1 L636.5,418.9 L636.8,420.3 L637.1,418.7 L637.4,421.2 L637.7,420.7 L638.0,419.1 L638.3,420.4 L638.6,421.6 L638.9,417.8 L639.2,420.0" fill="none" stroke="#111" stroke-width="0.75"/>
<path d="M392.6,338 V356.2 M403.2,368 H424 M393.1,467 V483.8 M403.2,497 H423.8" stroke="#000" stroke-width="2.2"/>
<text transform="translate(382.5,344.5) rotate(-90)" x="0" y="0" font-size="13.7" text-anchor="middle" dominant-baseline="central" >500 pA</text>
<text x="399.6" y="364.7" font-size="13.7" text-anchor="start" >2 ms</text>
<text transform="translate(382.8,472.5) rotate(-90)" x="0" y="0" font-size="13.7" text-anchor="middle" dominant-baseline="central" >500 pA</text>
<text x="400.0" y="493.3" font-size="13.7" text-anchor="start" >2 ms</text>
<text x="8.8" y="571.0" font-size="17" text-anchor="start" >(g)</text>
<text x="79.9" y="590.4" font-size="13.7" text-anchor="middle"><tspan font-style="italic">N</tspan> = 11551</text>
<path d="M32.48,734.6V715.2M35.24,734.6V710.6M37.62,734.6V710.6M39.72,734.6V710.6M41.60,734.6V710.6M43.29,734.6V710.6M44.84,734.6V710.6" stroke="#f68248" stroke-width="1.2" opacity="1.0" fill="none"/>
<path d="M31.98 711.1h1.1M31.98 710.0h1.1M31.98 710.5h1.1M31.98 714.7h1.1M31.98 712.5h1.1M34.74 708.0h1.1M34.74 709.8h1.1M34.74 706.4h1.1M34.74 705.1h1.1M34.74 710.3h1.1M37.12 706.8h1.1M37.12 709.7h1.1M37.12 705.1h1.1M37.12 706.6h1.1M37.12 710.1h1.1M39.22 706.9h1.1M39.22 708.9h1.1M39.22 709.1h1.1M39.22 705.8h1.1M39.22 707.7h1.1M41.10 704.0h1.1M41.10 704.0h1.1M41.10 704.5h1.1M41.10 707.7h1.1M41.10 704.1h1.1M42.79 710.1h1.1M42.79 705.1h1.1M42.79 708.0h1.1M42.79 704.4h1.1M42.79 710.4h1.1M44.34 706.5h1.1M44.34 710.1h1.1M44.34 708.5h1.1M44.34 706.6h1.1M44.34 709.6h1.1" stroke="#f68248" stroke-width="1.1" fill="none"/>
<path d="M32.48,726.0V713.1M35.24,726.0V713.1M37.62,726.0V713.1M39.72,726.0V713.1M41.60,726.0V713.1M43.29,726.0V713.1M44.84,726.0V713.1" stroke="#f9641c" stroke-width="1.2" opacity="1.0" fill="none"/>
<path d="M29.46,734.6V710.6" stroke="#b8683c" stroke-width="1.0" opacity="1.0" fill="none"/>
<path d="M28.96 705.6h1.1M28.96 706.9h1.1M28.96 709.0h1.1M28.96 706.8h1.1M28.96 707.4h1.1" stroke="#b8683c" stroke-width="1.1" fill="none"/>
<path d="M78.8 723.0h1.1M79.5 721.9h1.1M59.7 719.1h1.1M61.7 718.3h1.1M88.3 720.2h1.1M69.0 721.0h1.1M76.1 722.9h1.1M71.9 723.1h1.1M59.9 720.7h1.1M68.5 721.0h1.1M61.6 722.4h1.1M103.2 722.1h1.1M59.2 718.5h1.1M102.0 719.6h1.1M92.0 721.2h1.1M56.1 720.9h1.1M52.4 719.0h1.1M90.9 720.7h1.1M64.6 720.9h1.1M70.0 724.1h1.1M62.5 724.3h1.1M60.4 724.7h1.1M49.8 725.3h1.1M61.8 721.3h1.1M99.3 720.7h1.1M96.3 722.9h1.1M66.0 720.5h1.1M69.5 720.5h1.1M76.4 721.5h1.1M91.7 723.9h1.1M72.9 718.7h1.1M58.5 718.9h1.1M60.0 722.3h1.1M87.6 717.9h1.1M55.8 721.2h1.1M81.8 722.7h1.1M65.7 722.0h1.1M69.6 724.6h1.1M89.5 721.9h1.1M68.3 724.2h1.1M66.2 719.3h1.1M72.4 720.7h1.1M60.7 723.8h1.1M60.5 720.3h1.1M59.0 724.4h1.1M77.9 721.0h1.1M91.5 720.5h1.1M63.8 721.2h1.1M51.5 723.3h1.1M102.6 721.5h1.1M73.7 721.6h1.1M78.2 721.2h1.1M78.2 718.7h1.1M93.5 718.3h1.1M85.5 718.5h1.1M79.4 722.5h1.1M81.1 722.7h1.1M51.6 721.3h1.1M56.1 720.5h1.1M65.2 725.0h1.1M68.9 722.4h1.1M67.5 718.1h1.1M72.8 723.5h1.1M67.6 722.6h1.1M59.4 722.6h1.1M82.4 720.4h1.1M77.8 721.4h1.1M51.2 721.9h1.1M76.2 724.0h1.1M74.3 720.2h1.1M68.5 721.3h1.1M56.3 722.5h1.1M96.5 721.3h1.1M51.6 719.9h1.1M60.9 724.0h1.1M47.0 724.1h1.1M58.2 723.2h1.1M73.4 722.9h1.1M79.2 726.8h1.1M67.8 722.4h1.1M56.2 719.3h1.1M84.8 721.9h1.1M84.8 719.5h1.1M64.1 726.5h1.1M87.3 721.5h1.1M55.0 718.8h1.1M61.5 718.5h1.1M84.5 722.2h1.1M62.3 722.8h1.1M54.7 720.6h1.1M77.2 723.5h1.1M85.4 722.0h1.1M68.0 724.3h1.1M61.4 721.2h1.1M85.8 721.3h1.1M87.6 718.4h1.1M90.9 720.7h1.1M65.5 722.5h1.1M69.1 721.5h1.1M71.4 723.6h1.1M78.4 721.3h1.1M59.9 721.7h1.1M87.2 720.6h1.1M73.1 719.7h1.1M88.0 724.9h1.1M75.9 720.7h1.1M79.5 720.0h1.1M53.9 723.5h1.1M59.6 717.9h1.1M61.8 722.6h1.1M64.0 716.9h1.1M82.4 719.9h1.1M64.9 719.6h1.1M90.1 720.8h1.1M86.1 719.5h1.1M62.4 723.2h1.1M94.0 722.8h1.1M81.2 724.8h1.1M50.5 720.4h1.1M58.7 722.6h1.1M71.2 720.0h1.1M70.7 720.3h1.1M55.4 723.7h1.1M53.5 720.1h1.1M79.9 720.9h1.1M73.4 721.0h1.1M77.2 720.5h1.1M66.2 721.4h1.1M54.0 721.3h1.1M71.8 719.4h1.1M94.8 723.1h1.1M70.6 723.5h1.1M83.3 722.7h1.1M63.0 719.5h1.1M77.8 721.9h1.1M77.0 717.9h1.1M72.0 726.9h1.1M46.8 722.6h1.1M46.4 722.1h1.1M62.8 720.8h1.1M68.9 718.9h1.1M47.7 721.7h1.1M77.3 723.1h1.1M85.8 719.8h1.1M56.8 718.6h1.1M54.3 725.9h1.1M53.8 720.3h1.1M75.9 720.8h1.1M65.8 722.8h1.1M85.3 722.2h1.1M108.8 720.8h1.1M88.3 721.3h1.1M65.4 721.8h1.1M59.6 723.4h1.1M60.7 720.8h1.1M59.8 722.5h1.1M47.2 721.2h1.1M73.1 722.4h1.1M67.8 721.0h1.1M58.2 720.0h1.1M78.8 720.9h1.1M76.0 720.2h1.1M65.7 723.8h1.1M57.9 720.5h1.1M53.4 720.8h1.1M60.8 722.5h1.1M59.0 721.6h1.1M54.8 726.3h1.1M79.8 721.2h1.1M63.4 722.1h1.1M66.0 725.4h1.1M64.7 720.4h1.1M70.4 722.5h1.1M59.5 720.8h1.1M66.6 721.8h1.1M85.7 720.5h1.1M82.1 721.2h1.1M72.6 721.8h1.1M91.2 720.5h1.1M71.0 719.8h1.1M49.0 725.4h1.1M54.2 721.3h1.1M65.8 722.4h1.1M74.2 723.3h1.1M86.6 719.0h1.1M56.4 719.6h1.1M52.2 723.2h1.1M81.0 723.3h1.1M88.4 719.9h1.1M58.2 722.5h1.1M73.1 721.9h1.1M92.0 724.9h1.1M72.8 721.6h1.1M65.9 719.3h1.1M91.1 722.2h1.1M78.7 721.5h1.1M69.2 718.2h1.1M58.4 719.8h1.1M65.1 718.8h1.1M65.0 720.2h1.1M87.0 719.2h1.1M93.2 724.3h1.1M67.6 722.8h1.1M88.6 724.3h1.1M49.2 717.4h1.1M73.2 721.0h1.1M89.2 721.6h1.1M69.0 722.7h1.1M60.9 723.2h1.1M76.7 726.4h1.1M71.2 717.3h1.1M49.6 721.5h1.1M79.3 721.2h1.1M52.7 723.9h1.1M94.2 721.4h1.1M51.2 720.7h1.1M66.8 721.5h1.1M71.4 720.2h1.1M49.6 722.8h1.1M86.8 720.8h1.1M70.2 719.7h1.1M75.1 720.3h1.1M63.5 720.7h1.1M62.8 721.5h1.1M80.1 723.1h1.1M94.0 720.4h1.1M62.3 722.0h1.1M62.0 723.0h1.1M75.2 720.0h1.1M94.8 724.2h1.1M51.9 722.3h1.1M78.4 720.0h1.1M62.5 719.6h1.1M60.9 722.0h1.1M81.8 721.2h1.1M52.5 720.4h1.1M47.5 721.5h1.1M79.1 722.7h1.1M66.5 720.6h1.1M62.2 721.0h1.1M64.5 721.2h1.1M76.0 719.3h1.1M60.2 720.8h1.1M80.9 722.2h1.1M74.5 721.1h1.1M94.0 717.9h1.1M90.1 722.6h1.1M82.6 721.8h1.1M63.3 722.8h1.1M69.1 720.7h1.1M56.2 723.6h1.1M63.0 720.5h1.1M77.1 720.0h1.1M91.8 722.7h1.1M52.0 722.9h1.1M59.8 724.0h1.1M48.9 721.3h1.1M57.6 723.3h1.1M90.6 722.5h1.1M80.2 722.1h1.1M67.7 722.6h1.1M67.6 719.9h1.1M79.7 718.5h1.1M74.8 725.1h1.1M47.3 722.8h1.1M70.8 720.9h1.1M63.6 723.2h1.1M57.6 722.3h1.1M49.0 721.0h1.1M54.8 718.9h1.1M49.9 719.2h1.1M75.5 721.9h1.1M73.7 721.1h1.1M72.9 722.0h1.1M63.8 721.7h1.1M59.7 723.4h1.1M104.3 724.5h1.1M88.9 722.0h1.1M73.5 719.6h1.1M68.3 720.0h1.1M57.8 724.7h1.1M63.1 721.7h1.1M65.1 722.5h1.1M82.4 720.8h1.1M87.4 723.3h1.1M72.1 719.7h1.1M71.0 721.7h1.1M69.1 720.3h1.1M74.8 719.8h1.1M80.7 724.8h1.1M82.9 721.7h1.1M99.7 718.6h1.1M67.6 721.3h1.1M82.9 719.5h1.1M64.8 720.6h1.1M92.5 722.2h1.1M109.7 720.8h1.1M77.0 719.5h1.1M65.1 719.0h1.1M67.7 718.7h1.1M70.8 723.3h1.1M87.0 719.9h1.1M84.6 723.8h1.1M92.1 721.6h1.1M58.2 721.7h1.1M57.0 720.2h1.1M93.0 720.8h1.1M62.3 719.1h1.1M68.3 722.4h1.1M83.7 719.8h1.1M94.5 720.6h1.1M64.1 721.3h1.1M58.7 723.5h1.1M96.8 720.3h1.1M58.9 720.8h1.1M93.8 719.9h1.1M71.5 721.4h1.1M71.5 721.8h1.1M62.9 720.6h1.1M72.6 720.5h1.1M58.8 720.1h1.1M54.9 718.0h1.1M64.8 722.4h1.1M55.4 717.8h1.1M72.8 726.6h1.1M68.8 719.6h1.1M62.5 722.8h1.1M63.6 717.8h1.1M63.1 722.9h1.1M98.9 719.4h1.1M67.1 723.1h1.1M56.4 723.4h1.1M61.8 719.9h1.1M79.3 719.8h1.1M63.6 722.6h1.1M64.5 717.0h1.1M62.6 721.9h1.1M70.2 718.5h1.1M74.3 723.1h1.1M75.3 723.1h1.1M47.8 721.2h1.1M81.8 723.1h1.1M87.4 720.5h1.1M90.9 725.2h1.1M69.8 721.0h1.1M88.1 722.3h1.1M66.5 723.0h1.1M65.0 721.0h1.1M53.0 721.7h1.1M56.4 722.1h1.1M83.9 719.9h1.1M97.4 720.8h1.1M58.7 720.7h1.1M74.0 719.0h1.1M72.2 721.5h1.1M53.1 719.8h1.1M53.5 722.1h1.1M61.4 720.2h1.1M64.6 720.4h1.1M63.9 722.3h1.1M64.1 724.0h1.1M76.0 723.6h1.1M50.2 723.0h1.1M83.3 720.3h1.1M68.3 721.6h1.1M74.2 721.9h1.1M52.8 720.5h1.1M78.8 720.0h1.1M54.9 718.8h1.1M81.4 722.4h1.1M81.1 720.4h1.1M67.0 720.1h1.1M67.1 723.0h1.1M85.1 721.1h1.1M74.0 723.0h1.1M50.2 721.7h1.1M70.2 720.6h1.1M77.2 724.4h1.1M70.8 722.9h1.1M70.6 722.8h1.1M64.5 721.2h1.1M65.0 722.6h1.1M50.2 720.7h1.1M87.6 722.9h1.1M55.6 722.2h1.1M71.2 720.3h1.1M70.0 720.8h1.1M52.1 721.1h1.1M48.7 721.4h1.1M49.6 719.5h1.1M84.2 718.9h1.1M87.8 722.0h1.1M71.8 722.6h1.1M83.1 723.2h1.1M79.5 718.2h1.1M57.6 722.9h1.1M49.0 723.7h1.1M60.8 720.9h1.1M58.8 719.5h1.1M107.6 723.5h1.1M58.9 721.6h1.1M53.6 723.9h1.1M82.6 722.6h1.1M65.8 718.4h1.1M91.3 721.0h1.1M62.3 721.8h1.1M73.5 721.2h1.1M68.8 720.8h1.1M70.1 721.5h1.1M63.4 723.4h1.1M65.2 723.4h1.1M97.4 717.8h1.1M54.8 722.7h1.1M57.2 719.2h1.1M60.9 722.6h1.1M77.4 719.0h1.1M74.4 720.1h1.1M84.0 721.7h1.1M71.8 717.8h1.1M63.9 723.0h1.1M61.9 721.7h1.1M70.1 722.9h1.1M72.0 722.7h1.1M69.7 722.0h1.1M65.4 723.0h1.1M95.1 721.9h1.1M60.1 718.5h1.1M77.8 724.4h1.1M63.0 723.6h1.1M52.5 723.0h1.1M50.5 722.2h1.1M59.9 719.5h1.1M90.6 720.1h1.1M81.9 720.5h1.1M54.4 721.0h1.1M85.1 717.1h1.1M64.8 723.3h1.1M54.7 723.4h1.1M74.9 721.4h1.1M50.7 721.0h1.1M90.5 721.8h1.1M76.9 722.8h1.1M66.6 723.7h1.1M63.6 721.8h1.1M59.2 722.6h1.1M65.2 722.2h1.1M66.5 723.3h1.1M51.0 719.0h1.1M65.9 720.5h1.1M85.0 718.0h1.1M54.2 722.2h1.1M71.8 721.2h1.1M46.4 721.8h1.1M74.0 721.3h1.1M78.7 721.8h1.1M111.8 721.6h1.1M83.5 724.8h1.1M75.0 721.8h1.1M92.5 720.1h1.1M49.3 724.8h1.1M86.5 721.9h1.1M57.4 720.3h1.1M56.1 719.1h1.1M86.9 721.5h1.1M71.4 720.5h1.1M91.0 718.2h1.1M72.1 719.0h1.1M57.8 722.1h1.1M62.4 722.4h1.1M84.1 719.5h1.1M71.0 720.9h1.1M49.6 722.3h1.1M51.7 721.7h1.1M92.3 720.8h1.1M65.5 721.7h1.1M61.3 721.8h1.1M76.1 721.7h1.1M67.5 724.0h1.1M71.5 718.2h1.1M80.6 719.2h1.1M73.3 718.6h1.1M83.1 721.6h1.1M68.5 721.1h1.1M61.0 720.3h1.1M69.3 719.9h1.1M66.7 724.6h1.1M56.0 720.7h1.1M61.2 723.1h1.1M84.4 721.5h1.1M57.5 722.5h1.1M78.1 718.3h1.1M84.8 720.4h1.1M62.6 721.4h1.1M69.8 718.9h1.1M52.5 721.5h1.1M63.9 722.6h1.1M87.3 721.7h1.1M81.8 722.0h1.1M70.2 721.2h1.1M62.6 719.8h1.1M73.2 721.5h1.1M75.7 721.4h1.1M86.4 719.5h1.1M103.5 720.8h1.1M74.3 719.6h1.1M84.7 721.1h1.1M47.7 723.6h1.1M89.1 723.3h1.1M83.1 724.3h1.1M91.9 719.3h1.1M79.7 720.6h1.1M75.7 722.2h1.1M94.0 723.1h1.1M55.8 720.7h1.1M79.1 721.6h1.1M87.0 720.8h1.1M53.7 722.8h1.1M47.2 723.3h1.1M75.4 718.5h1.1M69.9 723.0h1.1M78.6 721.4h1.1M79.2 719.0h1.1M54.1 724.6h1.1M73.8 720.1h1.1M87.8 721.2h1.1M61.5 721.6h1.1M62.7 720.8h1.1M47.8 723.4h1.1M82.3 725.3h1.1M102.5 718.0h1.1M81.4 721.8h1.1M83.9 719.8h1.1M57.9 719.4h1.1M61.2 720.8h1.1M49.3 720.5h1.1M54.0 720.1h1.1M70.8 718.5h1.1M79.5 720.5h1.1M70.0 719.1h1.1M83.1 721.8h1.1M71.5 722.1h1.1M47.2 721.2h1.1M93.7 720.6h1.1M89.0 720.4h1.1M55.3 717.9h1.1M99.4 719.8h1.1M76.3 721.2h1.1M70.3 717.8h1.1M102.0 720.7h1.1M80.6 720.7h1.1M63.6 720.5h1.1M51.2 721.9h1.1M94.8 723.3h1.1M76.7 721.1h1.1M56.3 721.9h1.1M83.1 722.9h1.1M99.8 721.1h1.1M72.5 721.7h1.1M61.3 722.4h1.1M65.2 724.5h1.1M58.6 721.6h1.1M96.9 718.2h1.1M77.3 719.8h1.1M82.0 719.4h1.1M78.8 721.4h1.1M74.5 719.5h1.1M85.4 722.5h1.1M47.5 722.1h1.1M61.8 720.4h1.1M83.4 723.8h1.1M55.3 721.2h1.1M60.4 720.8h1.1M89.7 718.3h1.1M95.5 722.6h1.1M57.5 720.6h1.1M53.8 722.5h1.1M78.6 722.3h1.1M73.1 726.1h1.1M56.3 723.0h1.1M78.9 719.3h1.1M78.1 720.4h1.1M69.8 721.0h1.1M92.5 717.0h1.1M82.8 720.4h1.1M86.5 723.5h1.1M87.9 721.7h1.1M55.6 721.4h1.1M74.1 718.5h1.1M69.7 722.9h1.1M58.3 720.6h1.1M73.0 719.6h1.1M72.8 722.8h1.1M67.4 721.2h1.1M59.7 724.9h1.1M83.1 721.1h1.1M83.1 725.2h1.1M68.6 722.0h1.1M73.3 718.3h1.1M98.3 720.6h1.1M53.0 721.2h1.1M79.9 721.1h1.1M57.6 717.5h1.1M61.2 720.3h1.1M60.6 719.5h1.1M72.2 722.1h1.1M80.5 722.1h1.1M63.3 723.2h1.1M72.3 721.6h1.1M76.2 722.6h1.1M56.4 719.6h1.1M55.1 720.2h1.1M103.4 721.5h1.1M53.3 722.3h1.1M90.4 726.4h1.1M69.7 722.4h1.1M94.7 720.8h1.1M57.1 720.2h1.1M77.7 726.8h1.1M74.4 725.6h1.1M64.4 721.0h1.1M74.0 723.1h1.1M54.8 721.7h1.1M67.0 722.2h1.1M61.3 720.3h1.1M82.0 724.6h1.1M66.8 722.3h1.1M61.8 719.7h1.1M66.7 721.0h1.1M52.4 722.8h1.1M92.2 720.5h1.1M75.7 720.8h1.1M83.5 722.9h1.1M54.8 720.1h1.1M61.4 720.1h1.1M86.5 721.6h1.1M75.0 719.7h1.1M70.1 723.4h1.1M59.5 720.0h1.1M70.1 721.7h1.1M49.3 723.0h1.1M72.5 722.4h1.1M46.7 719.3h1.1M93.5 722.3h1.1M55.9 721.9h1.1M85.9 722.5h1.1M54.7 722.7h1.1M67.4 719.6h1.1M85.1 717.4h1.1M74.8 719.0h1.1M99.2 720.4h1.1M66.2 720.0h1.1M79.2 721.9h1.1M50.5 722.2h1.1M71.4 723.4h1.1M95.9 718.8h1.1M77.5 721.9h1.1M71.4 722.6h1.1M61.7 722.4h1.1M82.4 721.0h1.1M55.3 722.3h1.1M75.0 721.3h1.1M50.6 721.0h1.1M102.3 719.0h1.1M47.5 723.5h1.1M71.0 720.8h1.1M72.3 722.5h1.1M52.9 722.1h1.1M79.5 718.5h1.1M86.3 720.2h1.1M84.1 722.0h1.1M72.4 720.4h1.1M102.5 721.3h1.1M69.8 719.4h1.1M60.2 722.2h1.1M80.6 720.5h1.1M77.3 721.7h1.1M47.2 721.3h1.1M97.7 721.6h1.1M64.2 722.4h1.1M93.7 721.1h1.1M96.1 719.6h1.1M91.1 722.4h1.1M78.4 722.0h1.1M52.5 720.7h1.1M85.4 722.6h1.1M102.0 719.8h1.1M83.2 720.1h1.1M97.3 725.4h1.1M54.6 722.5h1.1M86.9 723.2h1.1M85.4 719.9h1.1M55.6 719.7h1.1M70.0 723.4h1.1M76.7 722.5h1.1M64.5 721.5h1.1M67.4 722.0h1.1M66.5 720.0h1.1M70.2 719.6h1.1M79.1 720.3h1.1M77.5 719.4h1.1M67.6 719.7h1.1M73.3 721.4h1.1M60.5 722.1h1.1M83.0 722.6h1.1M59.5 719.9h1.1M98.2 719.7h1.1M68.2 719.5h1.1M73.6 721.9h1.1M54.9 722.0h1.1M62.4 720.8h1.1M71.6 719.1h1.1M68.9 720.7h1.1M57.4 720.9h1.1M47.6 722.8h1.1M69.3 720.5h1.1M71.4 720.4h1.1M78.5 723.0h1.1M91.1 718.2h1.1M63.0 722.9h1.1M66.0 719.7h1.1M87.2 721.7h1.1M78.9 721.0h1.1M57.0 722.7h1.1M57.1 722.3h1.1M67.0 720.1h1.1M77.3 721.6h1.1M62.3 721.9h1.1M101.9 719.7h1.1M49.5 720.0h1.1M86.8 721.0h1.1M56.3 720.9h1.1M87.1 718.3h1.1M50.9 721.6h1.1M81.9 720.6h1.1M60.7 720.6h1.1M53.7 723.8h1.1M65.9 724.7h1.1M77.3 721.1h1.1M76.0 719.8h1.1M97.3 720.9h1.1M83.5 722.2h1.1M61.4 722.5h1.1M61.7 719.9h1.1M80.0 721.8h1.1M47.3 724.1h1.1M71.3 720.1h1.1M63.4 720.9h1.1M97.4 720.6h1.1M74.5 719.5h1.1M78.3 719.0h1.1M100.4 720.3h1.1M59.6 721.6h1.1M68.7 725.0h1.1M50.7 720.8h1.1M73.4 721.6h1.1M87.5 719.0h1.1M93.5 719.1h1.1M68.0 720.5h1.1M55.8 718.9h1.1M54.8 721.4h1.1M70.9 721.4h1.1M93.4 722.8h1.1M94.2 721.8h1.1M74.7 720.9h1.1M82.9 719.4h1.1M83.0 722.6h1.1M71.8 719.9h1.1M83.8 717.2h1.1M69.7 723.7h1.1M79.0 721.8h1.1M101.9 721.3h1.1M88.7 719.5h1.1M56.8 717.8h1.1M54.2 719.1h1.1M64.5 721.4h1.1M64.6 722.8h1.1M70.1 721.4h1.1M57.8 721.4h1.1M80.7 720.9h1.1M69.5 722.9h1.1M75.4 718.6h1.1M69.0 722.6h1.1M80.0 720.1h1.1M47.1 720.9h1.1M97.6 723.2h1.1M75.2 721.2h1.1M77.1 721.3h1.1M80.0 721.6h1.1M88.6 719.9h1.1M82.3 722.1h1.1M73.2 716.8h1.1M65.6 719.3h1.1M72.8 722.9h1.1M63.3 725.7h1.1M63.3 719.1h1.1M70.0 720.9h1.1M91.1 721.2h1.1M86.5 723.0h1.1M91.6 723.8h1.1M51.5 724.6h1.1M80.3 716.8h1.1M63.6 718.5h1.1M100.2 722.3h1.1M73.2 718.0h1.1M72.6 724.6h1.1M77.1 720.1h1.1M64.1 720.1h1.1M71.3 722.8h1.1M56.8 722.1h1.1M68.4 723.2h1.1M60.3 721.2h1.1M73.8 719.0h1.1M77.5 719.6h1.1M73.3 720.6h1.1M51.6 719.3h1.1M65.0 724.5h1.1M50.1 717.7h1.1M106.3 721.4h1.1M100.4 723.6h1.1M54.2 722.0h1.1M76.9 722.5h1.1M64.4 721.2h1.1M62.3 720.8h1.1M86.3 725.5h1.1M84.1 719.1h1.1M64.0 718.3h1.1M52.7 723.2h1.1M107.0 718.7h1.1M94.8 719.1h1.1M71.8 719.5h1.1M63.8 718.4h1.1M74.6 723.8h1.1M70.7 720.0h1.1M91.0 723.1h1.1M51.7 717.1h1.1M69.6 723.0h1.1M55.0 723.5h1.1M93.1 719.3h1.1M102.1 720.2h1.1M67.6 721.3h1.1M79.1 721.1h1.1M94.9 720.2h1.1M63.8 718.2h1.1M52.3 722.6h1.1M88.2 722.3h1.1M78.5 722.3h1.1M65.5 721.5h1.1M95.9 721.3h1.1M73.6 723.6h1.1M75.6 720.8h1.1M68.2 723.6h1.1M103.5 721.9h1.1M69.0 721.8h1.1M65.5 721.8h1.1M77.3 718.7h1.1M73.8 718.4h1.1M71.5 719.4h1.1M63.3 718.5h1.1M94.9 721.8h1.1M49.0 718.8h1.1M51.7 721.4h1.1M54.0 720.9h1.1M57.4 720.8h1.1M56.7 723.7h1.1M70.3 722.4h1.1M89.2 721.6h1.1M89.5 720.7h1.1M93.5 721.6h1.1M71.7 722.8h1.1M89.2 723.4h1.1M87.8 721.3h1.1M72.9 723.4h1.1M81.8 723.4h1.1M75.3 721.5h1.1M59.3 721.0h1.1M104.1 722.8h1.1M69.3 724.5h1.1M49.1 720.8h1.1M60.8 719.9h1.1M69.7 722.1h1.1M89.3 722.0h1.1M46.3 725.5h1.1M89.9 719.7h1.1M107.5 723.3h1.1M76.3 720.0h1.1M48.3 722.4h1.1M53.8 721.6h1.1M63.3 721.7h1.1M46.6 724.5h1.1M64.6 716.4h1.1M66.1 724.1h1.1M80.4 721.1h1.1M47.5 722.8h1.1M103.5 721.7h1.1M88.7 718.9h1.1M85.6 724.7h1.1M57.5 721.6h1.1M101.1 720.4h1.1M63.1 721.1h1.1M102.5 720.6h1.1M88.9 722.7h1.1M53.0 724.3h1.1M61.1 723.7h1.1M103.5 722.1h1.1M87.6 720.0h1.1M66.5 721.2h1.1M73.1 718.5h1.1M73.0 721.1h1.1M55.3 721.0h1.1M65.7 721.0h1.1M57.4 724.4h1.1M61.6 720.3h1.1M77.9 723.3h1.1M51.9 722.0h1.1M82.6 717.1h1.1M71.4 723.5h1.1M83.3 721.1h1.1M85.6 720.8h1.1M92.1 721.1h1.1M80.8 721.3h1.1M82.3 722.3h1.1M66.1 717.8h1.1M79.8 724.9h1.1M53.0 723.2h1.1M64.9 718.7h1.1M83.0 720.3h1.1M68.4 722.7h1.1M77.5 722.9h1.1M50.1 721.8h1.1M94.3 716.6h1.1M58.9 720.4h1.1M76.6 723.2h1.1M69.0 720.9h1.1M86.4 722.4h1.1M62.4 718.6h1.1M51.1 720.8h1.1M63.8 719.1h1.1M47.6 721.0h1.1M79.1 717.7h1.1M95.7 720.6h1.1M75.0 720.8h1.1M91.9 723.1h1.1M75.0 722.1h1.1M75.3 720.6h1.1M78.6 722.2h1.1M79.9 716.9h1.1M99.4 721.3h1.1M80.6 722.7h1.1M46.7 719.6h1.1M60.7 722.3h1.1M73.2 720.6h1.1M54.5 721.5h1.1M64.6 722.6h1.1M59.8 718.8h1.1M56.6 721.2h1.1M82.0 719.4h1.1M62.2 721.9h1.1M49.4 723.9h1.1M56.3 723.6h1.1M70.1 722.3h1.1M108.0 721.7h1.1M74.1 721.2h1.1M96.5 720.4h1.1M78.4 723.5h1.1M76.3 720.9h1.1M53.8 723.5h1.1M49.6 722.5h1.1M102.1 716.7h1.1M58.0 719.1h1.1M90.6 722.0h1.1M81.5 718.1h1.1M67.3 718.8h1.1M59.9 719.7h1.1M65.8 718.7h1.1M83.1 721.8h1.1M58.8 721.6h1.1M63.5 722.9h1.1M96.1 720.3h1.1M62.5 723.6h1.1M77.9 722.2h1.1M46.5 720.5h1.1M57.8 722.2h1.1M72.2 720.7h1.1M57.9 718.1h1.1M83.7 723.1h1.1M88.0 718.8h1.1M70.2 722.5h1.1M62.3 723.0h1.1M74.1 720.9h1.1M70.4 719.5h1.1M47.0 722.6h1.1M89.0 722.6h1.1M73.4 722.1h1.1M83.8 722.6h1.1M85.4 721.0h1.1M107.9 722.6h1.1M80.6 721.8h1.1M70.0 720.7h1.1M68.2 722.1h1.1M73.3 719.3h1.1M65.0 722.5h1.1M78.4 722.7h1.1M60.7 717.7h1.1M73.5 718.6h1.1M56.6 721.2h1.1M71.1 719.8h1.1M87.5 720.7h1.1M60.2 722.2h1.1M81.5 720.1h1.1M53.0 720.8h1.1M62.4 719.0h1.1M64.9 724.6h1.1M92.1 719.9h1.1M55.2 721.0h1.1M91.6 722.6h1.1M66.3 722.1h1.1M86.0 722.1h1.1M82.0 723.7h1.1M50.7 722.4h1.1M46.7 719.9h1.1M85.3 724.0h1.1M79.9 722.0h1.1M59.6 725.6h1.1M69.0 722.4h1.1M111.8 720.6h1.1M97.7 721.4h1.1M84.6 721.2h1.1M75.1 723.3h1.1M70.2 720.3h1.1M67.3 722.9h1.1M93.8 719.7h1.1M75.0 720.9h1.1M71.5 722.0h1.1M55.3 718.7h1.1M100.9 722.0h1.1M69.7 719.5h1.1M70.6 721.1h1.1M51.3 721.3h1.1M83.6 719.5h1.1M86.6 720.5h1.1M80.1 721.3h1.1M73.6 721.5h1.1M73.1 720.9h1.1M59.7 721.2h1.1M90.7 721.9h1.1M93.9 723.2h1.1M110.3 726.0h1.1M82.2 721.5h1.1M84.1 721.8h1.1M50.1 719.2h1.1M70.6 720.5h1.1M46.3 719.3h1.1M85.6 718.2h1.1M47.1 721.5h1.1M65.1 722.8h1.1M53.9 719.9h1.1M60.4 722.4h1.1M77.5 721.8h1.1M58.7 718.8h1.1M73.1 720.3h1.1M50.5 719.4h1.1M94.8 723.7h1.1M57.2 721.3h1.1M87.7 719.3h1.1M108.5 723.6h1.1M50.7 721.0h1.1M65.2 720.6h1.1M90.6 725.4h1.1M60.1 718.5h1.1M76.0 722.6h1.1M55.5 721.6h1.1M79.4 718.3h1.1M46.6 724.5h1.1M84.5 720.5h1.1M102.6 722.1h1.1M72.2 721.2h1.1M52.4 722.8h1.1M109.8 718.9h1.1M88.4 723.3h1.1M89.9 720.7h1.1M61.2 720.4h1.1M80.5 721.5h1.1M78.4 721.8h1.1M80.0 721.8h1.1M65.5 719.5h1.1M92.8 720.5h1.1M93.2 721.5h1.1M57.0 723.3h1.1M57.7 721.0h1.1M72.5 720.4h1.1M81.1 721.4h1.1M61.3 718.8h1.1M66.8 724.7h1.1M80.3 716.9h1.1M76.8 721.6h1.1M90.5 723.4h1.1M73.4 724.4h1.1M52.4 719.8h1.1M84.0 720.3h1.1M62.7 721.7h1.1M62.4 721.4h1.1M63.5 721.0h1.1M61.6 722.1h1.1M61.4 719.3h1.1M52.2 720.2h1.1M103.1 721.5h1.1M77.2 724.3h1.1M64.9 718.9h1.1M71.9 722.2h1.1M82.5 723.2h1.1M54.8 719.0h1.1M64.6 720.4h1.1M62.3 724.9h1.1M70.2 724.3h1.1M83.7 722.0h1.1M51.0 723.6h1.1M67.7 721.6h1.1M87.5 716.6h1.1M58.3 716.0h1.1M63.8 721.4h1.1M49.1 719.9h1.1M90.2 719.7h1.1M47.3 721.5h1.1M75.7 724.0h1.1M75.0 719.4h1.1M56.7 721.6h1.1M69.7 720.5h1.1M67.0 720.0h1.1M59.5 722.8h1.1M69.7 718.3h1.1M69.7 721.2h1.1M49.7 720.9h1.1M52.9 722.1h1.1M71.0 720.0h1.1M94.7 719.5h1.1M96.3 722.3h1.1M74.6 720.3h1.1M86.5 722.1h1.1M71.1 723.5h1.1M89.5 721.9h1.1M71.1 720.2h1.1M76.1 720.3h1.1M63.4 719.4h1.1M68.6 722.5h1.1M104.4 721.9h1.1M46.2 721.2h1.1M68.8 720.2h1.1M57.6 721.5h1.1M86.8 723.0h1.1M102.8 724.1h1.1M62.8 719.2h1.1M80.3 719.4h1.1M80.3 722.5h1.1M64.1 718.7h1.1M67.4 721.4h1.1M81.4 720.5h1.1M77.0 719.0h1.1M73.2 722.2h1.1M48.7 722.7h1.1M55.2 724.4h1.1M56.7 720.8h1.1M77.7 720.5h1.1M50.1 719.8h1.1M96.2 720.2h1.1M75.8 721.1h1.1M100.4 719.2h1.1M71.6 723.1h1.1M58.2 720.6h1.1M70.5 720.4h1.1M72.2 721.5h1.1M49.3 718.2h1.1M94.2 720.5h1.1M92.4 718.9h1.1M62.1 719.7h1.1M50.3 721.6h1.1M86.2 717.8h1.1M67.6 719.3h1.1M72.5 721.3h1.1M80.4 721.5h1.1M48.2 723.2h1.1M83.5 721.6h1.1M96.2 721.7h1.1M56.6 720.9h1.1M55.8 722.1h1.1M82.3 720.3h1.1M82.6 721.4h1.1M75.3 724.1h1.1M78.7 722.2h1.1M77.3 722.9h1.1M67.1 723.6h1.1M67.5 721.8h1.1M64.1 719.7h1.1M65.8 723.3h1.1M72.7 724.9h1.1M63.9 721.6h1.1M49.4 715.9h1.1M91.4 722.4h1.1M85.6 720.8h1.1M63.1 722.0h1.1M76.7 719.8h1.1M98.6 718.7h1.1M56.9 721.6h1.1M71.6 719.2h1.1M90.3 723.2h1.1M54.3 720.9h1.1M67.5 723.6h1.1M54.6 721.0h1.1M108.4 722.4h1.1M84.8 720.9h1.1M72.0 723.3h1.1M50.0 720.9h1.1M84.7 721.1h1.1M80.3 722.3h1.1M58.4 722.7h1.1M60.0 723.4h1.1M66.8 722.0h1.1M84.7 720.6h1.1M87.2 721.5h1.1M79.2 721.0h1.1M83.9 719.0h1.1M57.0 721.9h1.1M59.3 720.8h1.1M91.1 719.8h1.1M76.8 720.4h1.1M53.1 720.6h1.1M77.7 721.1h1.1M84.0 717.8h1.1M81.6 721.4h1.1M70.2 722.0h1.1M58.3 720.2h1.1M75.7 718.3h1.1M100.4 718.7h1.1M70.9 721.2h1.1M55.5 719.8h1.1M74.6 720.4h1.1M72.5 721.1h1.1M62.4 720.1h1.1M86.3 720.2h1.1M70.1 721.0h1.1M88.1 718.2h1.1M111.8 722.0h1.1M64.0 718.8h1.1M52.3 717.5h1.1M76.8 717.5h1.1M66.4 720.8h1.1M70.8 721.6h1.1M56.7 724.1h1.1M78.6 721.4h1.1M69.4 716.9h1.1M63.6 724.1h1.1M74.4 724.1h1.1M90.4 719.8h1.1M57.1 720.2h1.1M52.9 724.6h1.1M89.9 721.4h1.1M56.5 720.7h1.1M70.1 724.0h1.1M77.0 719.6h1.1M82.0 723.7h1.1M68.2 719.3h1.1M47.0 720.9h1.1M87.2 722.5h1.1M59.8 724.2h1.1M58.2 721.9h1.1M106.0 721.5h1.1M84.7 721.5h1.1M48.0 722.3h1.1M58.9 721.7h1.1M63.4 719.7h1.1M53.9 722.9h1.1M83.2 721.7h1.1M82.7 720.5h1.1M72.6 721.3h1.1M60.4 719.7h1.1M72.0 718.5h1.1M80.1 721.9h1.1M48.3 720.9h1.1M61.7 726.6h1.1M57.4 721.9h1.1M81.2 720.1h1.1M72.9 723.3h1.1M56.3 718.9h1.1M101.4 724.7h1.1M49.7 718.9h1.1M70.8 722.2h1.1M56.1 723.1h1.1M91.5 722.2h1.1M66.8 721.8h1.1M59.7 723.1h1.1M63.3 723.8h1.1M83.6 722.2h1.1M80.7 719.6h1.1M97.4 720.6h1.1M63.3 718.9h1.1M48.1 722.4h1.1M70.3 721.9h1.1M56.2 721.9h1.1M57.0 721.0h1.1M56.0 720.5h1.1M66.2 718.1h1.1M58.5 720.0h1.1M77.7 721.0h1.1M58.1 718.9h1.1M90.4 722.7h1.1M78.0 723.7h1.1M79.5 720.1h1.1M71.3 721.0h1.1M92.3 721.1h1.1M61.7 719.6h1.1M49.1 721.9h1.1M74.4 721.5h1.1M60.9 720.6h1.1M71.9 720.1h1.1M60.0 719.5h1.1M91.5 721.1h1.1M81.0 720.8h1.1M70.0 725.6h1.1M60.3 719.1h1.1M88.4 724.1h1.1M55.0 721.4h1.1M60.0 716.8h1.1M81.9 721.9h1.1M79.0 724.1h1.1M106.1 718.4h1.1M63.7 722.3h1.1M80.2 721.6h1.1M91.5 721.6h1.1M64.7 720.0h1.1M97.1 719.9h1.1M101.3 721.5h1.1M55.3 719.3h1.1M58.7 722.9h1.1M78.0 720.1h1.1M81.3 722.4h1.1M79.1 720.1h1.1M53.4 722.5h1.1M64.3 722.1h1.1M75.7 718.7h1.1M79.5 723.3h1.1M67.3 723.4h1.1M55.1 720.3h1.1M67.5 721.8h1.1M78.4 722.1h1.1M62.1 721.6h1.1M68.7 717.5h1.1M61.9 723.2h1.1M57.8 721.8h1.1M68.3 721.0h1.1M46.7 723.0h1.1M87.4 721.4h1.1M76.3 720.4h1.1M96.0 722.9h1.1M84.0 719.3h1.1M52.4 723.4h1.1M59.2 721.6h1.1M46.5 720.7h1.1M66.6 715.6h1.1M75.4 724.4h1.1M90.9 720.8h1.1M56.7 716.8h1.1M72.8 722.4h1.1M84.1 719.4h1.1M77.8 720.9h1.1M75.6 723.9h1.1M64.0 720.6h1.1M67.5 722.9h1.1M70.5 721.2h1.1M90.1 724.0h1.1M58.4 720.0h1.1M49.6 725.6h1.1M52.7 721.6h1.1M88.2 719.0h1.1M107.8 720.4h1.1M93.0 721.9h1.1M69.0 721.7h1.1M46.4 722.1h1.1M76.0 716.5h1.1M91.4 721.4h1.1M78.6 721.3h1.1M83.9 722.6h1.1M64.9 722.2h1.1M65.8 720.2h1.1M78.4 722.4h1.1M91.4 722.8h1.1M61.1 722.3h1.1M69.0 722.0h1.1M72.4 721.0h1.1M87.5 722.2h1.1M66.3 721.7h1.1M47.1 722.7h1.1M87.9 719.1h1.1M75.3 721.2h1.1M74.8 721.9h1.1M67.5 720.8h1.1M63.2 721.4h1.1M59.5 724.1h1.1M78.3 721.6h1.1M94.6 718.4h1.1M67.0 720.4h1.1M101.1 719.2h1.1M56.6 722.5h1.1M81.9 724.0h1.1M70.0 722.6h1.1M61.7 718.9h1.1M63.7 723.1h1.1M78.6 722.7h1.1M69.8 719.4h1.1M52.4 721.8h1.1M69.8 721.7h1.1M75.0 720.6h1.1M60.7 721.2h1.1M60.7 721.9h1.1M77.9 720.9h1.1M55.1 722.6h1.1M75.9 721.4h1.1M93.2 720.2h1.1M48.5 723.2h1.1M89.3 721.7h1.1M59.3 723.4h1.1M77.8 720.0h1.1M65.0 720.2h1.1M80.3 719.6h1.1M67.7 719.5h1.1M91.4 719.5h1.1M80.2 720.0h1.1M80.4 722.7h1.1M98.8 719.7h1.1M54.6 723.0h1.1M92.0 717.2h1.1M69.0 720.8h1.1M76.6 720.3h1.1M63.8 723.5h1.1M99.2 719.4h1.1M58.5 719.2h1.1M68.6 724.1h1.1M72.0 722.3h1.1M77.1 722.2h1.1M49.1 722.5h1.1M93.9 718.9h1.1M98.8 717.5h1.1M67.5 723.2h1.1M71.0 719.5h1.1M70.9 721.8h1.1M81.1 718.9h1.1M62.1 725.7h1.1M65.0 722.1h1.1M50.4 719.2h1.1M100.7 722.7h1.1M54.4 719.2h1.1M55.5 722.2h1.1M66.8 719.3h1.1M59.3 720.3h1.1M65.1 722.1h1.1M58.5 722.7h1.1M62.9 721.6h1.1M90.8 719.3h1.1M75.7 721.3h1.1M59.6 722.5h1.1M81.6 715.4h1.1M55.5 724.2h1.1M69.2 721.7h1.1M67.1 720.4h1.1M77.5 723.2h1.1M64.3 721.4h1.1M65.0 722.1h1.1M51.6 724.0h1.1M74.4 720.5h1.1M50.3 723.4h1.1M100.0 722.7h1.1M67.3 719.1h1.1M63.5 723.3h1.1M82.4 720.3h1.1M66.1 719.2h1.1M69.3 719.6h1.1M66.7 720.5h1.1M54.1 721.8h1.1M50.4 723.8h1.1M54.6 721.1h1.1M88.8 720.5h1.1M55.9 722.3h1.1M60.1 723.1h1.1M59.3 719.8h1.1M80.7 723.2h1.1M104.6 720.6h1.1M50.4 722.2h1.1M77.9 724.4h1.1M69.9 718.5h1.1M62.0 720.3h1.1M77.1 720.4h1.1M83.2 723.9h1.1M71.8 721.6h1.1M49.0 720.8h1.1M97.4 722.7h1.1M83.5 718.4h1.1M89.3 725.0h1.1M62.6 720.1h1.1M57.9 724.7h1.1M79.3 724.2h1.1M92.9 723.7h1.1M68.0 720.3h1.1M65.3 722.6h1.1M86.3 722.6h1.1M66.9 723.0h1.1M64.0 724.0h1.1M48.3 723.0h1.1M53.2 723.2h1.1M68.4 722.0h1.1M58.7 722.1h1.1M72.8 725.7h1.1M110.9 722.6h1.1M91.1 719.2h1.1M81.0 722.3h1.1M51.6 721.5h1.1M63.3 722.7h1.1M109.2 722.7h1.1M92.0 721.6h1.1M57.9 723.9h1.1M90.1 721.7h1.1M90.4 724.4h1.1M67.9 720.9h1.1M90.3 724.3h1.1M73.8 720.3h1.1M55.4 719.7h1.1M65.4 724.4h1.1M86.2 720.3h1.1M77.9 722.2h1.1M101.6 719.4h1.1M59.5 722.4h1.1M81.3 722.0h1.1M102.3 722.0h1.1M48.1 719.2h1.1M109.4 725.0h1.1M62.3 720.1h1.1M65.3 721.3h1.1M71.9 722.4h1.1M87.3 721.9h1.1M92.3 719.8h1.1M69.7 720.0h1.1M61.4 718.5h1.1M67.0 722.7h1.1M73.3 724.9h1.1M92.0 722.5h1.1M70.2 721.9h1.1M101.5 722.3h1.1M51.7 719.3h1.1M77.5 717.4h1.1M100.3 720.8h1.1M91.6 724.7h1.1M73.8 719.7h1.1M51.2 722.7h1.1M54.4 721.4h1.1M64.7 720.0h1.1M73.4 720.9h1.1M63.0 721.6h1.1M53.9 721.0h1.1M77.3 720.2h1.1M83.2 720.4h1.1M60.9 717.8h1.1M57.1 726.9h1.1M68.8 722.9h1.1M61.2 722.6h1.1M56.7 720.0h1.1M66.9 721.1h1.1M62.5 720.0h1.1M95.2 724.1h1.1M75.8 721.9h1.1M92.6 720.4h1.1M79.9 721.6h1.1M77.4 722.2h1.1M95.1 721.0h1.1M67.6 718.6h1.1M73.0 725.3h1.1M54.7 718.7h1.1M73.0 721.0h1.1M88.7 723.1h1.1M64.2 720.3h1.1M65.0 721.4h1.1M74.9 719.4h1.1M83.0 723.0h1.1M68.8 719.8h1.1M54.9 723.1h1.1M76.9 720.9h1.1M86.9 720.3h1.1M73.5 721.7h1.1M91.7 720.4h1.1M49.2 722.6h1.1M60.0 719.6h1.1M49.2 722.4h1.1M68.8 722.8h1.1M69.4 721.7h1.1M64.0 721.6h1.1M66.2 723.0h1.1M59.5 720.1h1.1M78.9 721.7h1.1M62.6 720.4h1.1M89.3 724.2h1.1M72.0 723.9h1.1M64.4 722.0h1.1M85.7 723.3h1.1M94.4 721.8h1.1M67.2 720.5h1.1M75.9 719.5h1.1M57.3 718.9h1.1M62.9 720.1h1.1M69.4 722.8h1.1M73.5 720.5h1.1M79.7 722.5h1.1M96.5 720.5h1.1M82.8 723.4h1.1M60.8 719.1h1.1M69.6 720.8h1.1M78.9 722.0h1.1M48.2 723.9h1.1M92.4 721.0h1.1M84.5 722.5h1.1M63.5 721.1h1.1M55.8 722.8h1.1M83.4 722.5h1.1M85.2 720.4h1.1M101.2 718.9h1.1M86.0 723.8h1.1M71.6 721.9h1.1M80.8 720.8h1.1M50.7 721.8h1.1M81.0 722.3h1.1M75.6 717.6h1.1M78.1 723.0h1.1M103.5 720.9h1.1M46.3 722.4h1.1M87.2 721.7h1.1M57.9 725.6h1.1M73.6 719.9h1.1M55.5 721.9h1.1M87.0 723.2h1.1M101.6 718.5h1.1M82.5 722.0h1.1M80.8 722.6h1.1M70.7 723.0h1.1M63.5 719.6h1.1M79.3 721.5h1.1M70.9 722.1h1.1M65.1 723.9h1.1M62.2 723.1h1.1M79.3 720.9h1.1M59.2 721.5h1.1M74.5 725.1h1.1M65.4 723.1h1.1M48.8 721.1h1.1M51.2 716.7h1.1M54.2 722.9h1.1M62.6 725.5h1.1M63.2 720.1h1.1M88.9 722.4h1.1M47.8 723.9h1.1M80.9 720.5h1.1M59.6 721.9h1.1M65.9 723.2h1.1M95.4 723.9h1.1M79.1 721.7h1.1M85.8 721.4h1.1M70.3 724.7h1.1M86.0 719.7h1.1M56.7 723.8h1.1M54.8 719.0h1.1M59.4 720.9h1.1M97.6 721.8h1.1M97.2 720.9h1.1M56.8 722.6h1.1M89.9 721.6h1.1M65.2 718.6h1.1M88.2 722.5h1.1M62.3 720.0h1.1M86.1 723.1h1.1M66.1 721.5h1.1M62.9 719.8h1.1M67.8 723.7h1.1M71.2 720.9h1.1M57.4 725.4h1.1M99.9 723.6h1.1M60.9 722.3h1.1M56.8 719.9h1.1M93.7 720.2h1.1M62.3 723.1h1.1M88.9 721.7h1.1M75.1 721.2h1.1M74.3 724.3h1.1M93.6 720.8h1.1M99.1 719.1h1.1M87.6 719.3h1.1M57.5 722.6h1.1M48.8 722.2h1.1M102.1 723.2h1.1M64.8 722.4h1.1M70.8 722.0h1.1M72.0 720.3h1.1M106.2 721.4h1.1M57.8 723.2h1.1M90.5 720.0h1.1M74.1 719.9h1.1M65.5 722.6h1.1M85.6 721.9h1.1M54.5 721.7h1.1M59.8 724.4h1.1M72.6 721.3h1.1M70.2 720.3h1.1M89.5 718.0h1.1M55.8 721.2h1.1M71.5 722.0h1.1M73.6 721.8h1.1M68.9 720.4h1.1M81.2 720.1h1.1M63.6 723.0h1.1M91.0 721.2h1.1M55.1 720.3h1.1M67.7 725.1h1.1M90.6 719.1h1.1M58.8 721.9h1.1M56.7 719.9h1.1M61.9 721.6h1.1M71.5 721.9h1.1M65.1 721.6h1.1M74.2 721.0h1.1M96.5 719.9h1.1M79.3 722.0h1.1M52.3 723.5h1.1M94.1 722.7h1.1M76.9 723.2h1.1M96.0 720.1h1.1M46.4 723.2h1.1M99.5 718.8h1.1M69.3 721.3h1.1M82.5 721.7h1.1M62.8 719.2h1.1M49.4 722.1h1.1M64.4 722.0h1.1M79.4 720.1h1.1M64.4 720.2h1.1M63.4 723.3h1.1M94.9 717.1h1.1M69.1 720.5h1.1M56.0 723.7h1.1M50.6 721.8h1.1M67.3 719.8h1.1M88.4 721.1h1.1M57.5 720.0h1.1M49.0 717.3h1.1M85.7 719.8h1.1M69.5 717.9h1.1M67.9 720.3h1.1M107.5 722.7h1.1M72.2 718.8h1.1M62.8 722.7h1.1M79.4 719.8h1.1M89.5 720.3h1.1M84.1 723.0h1.1M83.1 722.7h1.1M66.1 721.8h1.1M68.4 720.7h1.1M51.9 719.1h1.1M76.4 721.3h1.1M97.7 718.0h1.1M86.9 719.9h1.1M60.9 722.6h1.1M79.9 722.5h1.1M78.5 721.3h1.1M104.7 722.4h1.1M56.9 721.6h1.1M62.9 720.0h1.1M65.1 721.0h1.1M76.1 719.7h1.1M60.1 722.6h1.1M50.7 723.0h1.1M90.8 723.9h1.1M64.7 724.6h1.1M72.8 722.2h1.1M86.2 721.3h1.1M51.1 721.8h1.1M65.4 721.4h1.1M48.9 717.7h1.1M63.6 723.3h1.1M57.6 721.9h1.1M60.7 722.3h1.1M68.0 723.0h1.1M68.1 719.0h1.1M78.5 721.4h1.1M83.2 719.1h1.1M60.1 723.4h1.1M91.2 718.0h1.1M74.1 717.3h1.1M78.5 722.9h1.1M49.4 721.4h1.1M73.3 721.6h1.1M91.4 720.4h1.1M108.0 723.7h1.1M67.1 720.5h1.1M81.5 720.1h1.1M74.0 722.4h1.1M83.2 725.4h1.1M61.1 722.6h1.1M73.8 722.1h1.1M77.2 720.0h1.1M54.3 722.5h1.1M83.8 723.4h1.1M89.1 720.3h1.1M69.7 720.7h1.1M64.1 720.1h1.1M61.7 721.3h1.1M71.0 719.5h1.1M90.5 720.5h1.1M96.5 724.6h1.1M59.6 721.0h1.1M51.0 720.0h1.1M53.6 721.3h1.1M86.8 718.8h1.1M72.5 722.2h1.1M74.0 720.1h1.1M77.4 723.6h1.1M75.4 721.4h1.1M66.1 722.3h1.1M48.9 723.1h1.1M56.8 723.7h1.1M70.7 721.0h1.1M75.7 720.6h1.1M61.5 722.5h1.1M60.6 723.6h1.1M94.0 722.9h1.1M59.7 720.0h1.1M72.6 723.5h1.1M62.5 719.3h1.1M52.4 724.3h1.1M58.4 720.9h1.1M53.1 720.2h1.1M84.2 719.2h1.1M47.0 722.1h1.1M60.7 722.7h1.1M80.6 723.9h1.1M66.3 719.7h1.1M77.6 721.6h1.1M84.0 722.2h1.1M60.7 722.1h1.1M50.5 720.9h1.1M93.5 721.3h1.1M66.2 719.2h1.1M77.7 725.2h1.1M100.0 719.8h1.1M61.8 722.3h1.1M69.8 721.5h1.1M76.0 721.9h1.1M63.4 721.5h1.1M91.8 720.0h1.1M83.6 721.0h1.1M87.0 723.9h1.1M69.3 721.5h1.1M62.0 721.5h1.1M61.8 720.7h1.1M61.6 721.3h1.1M75.1 721.5h1.1M83.5 719.5h1.1M68.2 723.3h1.1M59.2 717.4h1.1M69.1 722.4h1.1M72.6 723.2h1.1M74.4 719.9h1.1M101.7 719.4h1.1M52.5 719.1h1.1M75.1 718.7h1.1M81.2 720.5h1.1M69.8 721.2h1.1M64.0 720.7h1.1M49.4 721.3h1.1M57.4 722.3h1.1M81.4 718.5h1.1M95.2 718.1h1.1M56.2 721.3h1.1M77.1 721.7h1.1M78.0 722.2h1.1M87.0 724.3h1.1M72.9 722.5h1.1M76.5 722.3h1.1M84.9 721.4h1.1M46.8 723.1h1.1M69.2 724.7h1.1M53.1 720.2h1.1M77.7 718.3h1.1M86.7 725.1h1.1M62.7 721.6h1.1M65.8 719.8h1.1M64.0 723.4h1.1M63.5 723.9h1.1M70.8 721.3h1.1M74.8 721.7h1.1M59.8 722.5h1.1M53.8 718.4h1.1M58.7 718.6h1.1M83.1 720.1h1.1M60.6 721.4h1.1M95.0 721.9h1.1M63.9 719.7h1.1M93.4 721.7h1.1M46.4 718.6h1.1M55.5 719.1h1.1M77.1 722.4h1.1M77.3 719.9h1.1M65.4 718.5h1.1M105.8 720.1h1.1M69.6 723.0h1.1M73.6 721.8h1.1M57.8 721.9h1.1M98.7 721.1h1.1M84.0 721.2h1.1M75.9 721.9h1.1M74.9 719.7h1.1M59.7 718.9h1.1M75.5 722.3h1.1M85.0 723.9h1.1M54.5 720.6h1.1M72.2 721.2h1.1M84.4 720.5h1.1M71.2 722.5h1.1M62.2 720.7h1.1M48.9 722.9h1.1M56.0 719.3h1.1M86.3 718.2h1.1M70.2 722.9h1.1M68.1 725.9h1.1M90.3 722.1h1.1M89.7 722.2h1.1M55.1 720.9h1.1M72.0 721.2h1.1M61.2 720.3h1.1M52.6 716.4h1.1M58.8 722.2h1.1M63.8 721.9h1.1M58.1 720.4h1.1M72.1 724.5h1.1M64.0 719.8h1.1M54.3 722.3h1.1M68.6 723.8h1.1M94.6 722.7h1.1M66.7 720.3h1.1M74.4 719.7h1.1M75.8 719.0h1.1M72.9 720.4h1.1M91.2 722.5h1.1M47.6 720.2h1.1M66.9 721.3h1.1M70.8 717.0h1.1M59.1 724.9h1.1M57.3 718.3h1.1M91.6 719.8h1.1M55.2 720.5h1.1M59.4 721.3h1.1M63.1 722.2h1.1M64.3 722.9h1.1M71.1 724.0h1.1M64.4 717.5h1.1M74.9 719.5h1.1M70.6 720.0h1.1M76.9 720.5h1.1M93.1 724.6h1.1M52.7 721.7h1.1M98.2 720.9h1.1M59.9 719.1h1.1M80.2 722.9h1.1M71.0 720.7h1.1M62.7 721.6h1.1M97.4 721.1h1.1M54.3 722.5h1.1M53.8 720.5h1.1M87.4 721.0h1.1M69.5 724.5h1.1M102.7 719.0h1.1M98.7 717.2h1.1M81.0 722.7h1.1M72.7 719.1h1.1M81.9 722.9h1.1M71.2 722.1h1.1M70.7 718.0h1.1M59.5 720.8h1.1M72.7 718.4h1.1M84.4 720.6h1.1M91.4 719.3h1.1M70.7 721.4h1.1M96.1 718.6h1.1M75.6 717.9h1.1M49.4 719.9h1.1M50.1 722.1h1.1M83.5 721.8h1.1M101.3 722.8h1.1M48.4 720.0h1.1M68.7 720.2h1.1M54.0 722.4h1.1M62.9 719.5h1.1M73.6 722.1h1.1M67.3 717.9h1.1M55.6 719.6h1.1M106.1 718.3h1.1M65.2 722.4h1.1M64.7 722.9h1.1M88.1 724.4h1.1M68.2 719.9h1.1M64.3 723.1h1.1M85.2 718.7h1.1M49.3 720.8h1.1M81.5 719.7h1.1M86.6 723.4h1.1M80.0 722.1h1.1M64.8 720.8h1.1M67.9 719.8h1.1M65.7 723.4h1.1M73.2 720.5h1.1M83.7 722.6h1.1M70.6 719.6h1.1M61.0 721.5h1.1M52.9 721.6h1.1M67.2 720.3h1.1M70.4 719.0h1.1M89.8 721.5h1.1M68.2 718.9h1.1M59.0 722.9h1.1M66.1 720.6h1.1M59.3 723.1h1.1M63.8 720.7h1.1M46.5 722.7h1.1M76.4 721.0h1.1M66.6 720.0h1.1M70.6 722.8h1.1M88.9 724.2h1.1M49.2 721.4h1.1M88.6 720.2h1.1M74.9 720.7h1.1M55.1 722.7h1.1M94.8 719.6h1.1M47.7 721.6h1.1M64.2 719.7h1.1M75.3 722.7h1.1M64.5 720.3h1.1M62.6 719.0h1.1M66.4 722.3h1.1M92.7 721.6h1.1M70.2 720.0h1.1M48.3 720.2h1.1M74.1 720.5h1.1M47.0 721.3h1.1M71.6 723.9h1.1M74.5 721.1h1.1M60.7 723.4h1.1M72.4 720.9h1.1M62.0 725.3h1.1M57.7 718.5h1.1M95.5 717.7h1.1M78.4 720.3h1.1M62.4 722.6h1.1M54.1 721.6h1.1M71.1 719.5h1.1M78.1 719.9h1.1M83.2 722.3h1.1M94.4 719.0h1.1M76.2 719.8h1.1M47.8 720.2h1.1M104.4 721.7h1.1M88.8 721.1h1.1M82.9 722.4h1.1M92.0 720.8h1.1M61.2 722.3h1.1M58.7 719.0h1.1M89.3 721.0h1.1M46.7 720.7h1.1M62.1 720.5h1.1M95.2 720.5h1.1M79.6 723.6h1.1M61.0 718.8h1.1M101.7 720.9h1.1M76.0 722.1h1.1M63.8 722.8h1.1M77.1 722.3h1.1M62.9 722.2h1.1M52.9 721.1h1.1M71.7 722.6h1.1M77.4 720.9h1.1M62.1 720.9h1.1M84.4 722.3h1.1M59.8 717.2h1.1M55.8 721.3h1.1M75.0 720.5h1.1M90.0 720.9h1.1M70.0 721.4h1.1M79.1 719.9h1.1M52.1 718.7h1.1M79.4 721.3h1.1M53.0 722.7h1.1M56.4 720.2h1.1M98.7 724.9h1.1M50.9 720.9h1.1M52.3 721.5h1.1M48.2 720.6h1.1M98.6 723.8h1.1M89.7 721.9h1.1M103.1 723.0h1.1M81.7 722.1h1.1M64.6 720.1h1.1M82.3 721.5h1.1M74.7 722.2h1.1M54.1 719.1h1.1M51.5 721.1h1.1M67.7 724.8h1.1M61.4 723.0h1.1M54.5 720.5h1.1M85.3 720.4h1.1M48.7 720.8h1.1M83.8 720.7h1.1M59.1 722.8h1.1M69.8 721.4h1.1M47.7 723.3h1.1M67.6 722.7h1.1M53.7 722.8h1.1M67.4 722.7h1.1M66.9 721.8h1.1M82.7 721.6h1.1M72.9 722.6h1.1M49.6 719.3h1.1M56.8 722.0h1.1M47.7 718.5h1.1M91.1 719.5h1.1M95.0 723.4h1.1M81.5 719.7h1.1M73.2 723.7h1.1M78.3 718.7h1.1M76.5 720.7h1.1M52.1 723.0h1.1M89.0 725.1h1.1M89.0 722.0h1.1M72.1 723.7h1.1M62.2 719.4h1.1M60.8 723.5h1.1M58.0 721.7h1.1M51.1 720.4h1.1M70.4 721.3h1.1M59.6 720.8h1.1M63.9 721.7h1.1M98.6 720.0h1.1M78.4 723.0h1.1M55.1 720.3h1.1M78.2 723.4h1.1M86.7 721.0h1.1M72.5 723.3h1.1M64.3 721.7h1.1M78.0 720.3h1.1M93.9 719.1h1.1M59.4 724.5h1.1M50.0 722.7h1.1M105.8 723.0h1.1M68.0 719.2h1.1M94.6 722.9h1.1M55.6 720.1h1.1M74.5 722.2h1.1M56.2 723.9h1.1M79.1 721.1h1.1M62.8 723.3h1.1M55.7 720.1h1.1M95.7 719.9h1.1M73.8 719.0h1.1M63.5 723.1h1.1M51.2 718.6h1.1M57.2 719.6h1.1M59.1 724.5h1.1M68.3 717.4h1.1M53.4 718.4h1.1M58.0 723.2h1.1M83.6 720.8h1.1M78.9 723.7h1.1M76.0 721.6h1.1M59.6 721.0h1.1M73.3 720.3h1.1M54.2 722.8h1.1M60.5 721.4h1.1M49.2 723.0h1.1M76.1 720.7h1.1M92.4 720.2h1.1M55.4 721.2h1.1M89.3 719.3h1.1M51.7 720.0h1.1M49.4 720.7h1.1M98.8 719.3h1.1M57.0 723.5h1.1M81.8 721.4h1.1M69.7 724.5h1.1M77.9 721.4h1.1M67.0 722.2h1.1M70.9 719.9h1.1M82.4 722.1h1.1M91.6 722.5h1.1M74.9 721.5h1.1M63.9 721.6h1.1M84.0 720.4h1.1M52.8 722.9h1.1M77.9 724.0h1.1M59.0 724.2h1.1M69.3 719.3h1.1M81.4 723.6h1.1M54.8 722.2h1.1M70.4 723.3h1.1M73.9 719.8h1.1M54.2 722.3h1.1M68.8 719.2h1.1M62.8 722.6h1.1M72.9 720.8h1.1M66.1 720.0h1.1M62.0 719.6h1.1M66.4 723.5h1.1M78.7 722.0h1.1M78.4 721.5h1.1M62.0 724.6h1.1M58.4 720.1h1.1M65.1 720.7h1.1M85.6 720.4h1.1M77.8 723.8h1.1M83.8 721.0h1.1M55.1 720.6h1.1M62.5 719.5h1.1M46.5 722.3h1.1M57.6 720.1h1.1M60.4 717.9h1.1M59.2 722.1h1.1M80.6 722.1h1.1M75.4 721.9h1.1M81.5 724.0h1.1M70.0 722.0h1.1M87.2 718.5h1.1M69.7 723.0h1.1M85.2 721.7h1.1M76.8 719.2h1.1M81.0 720.3h1.1M66.4 720.9h1.1M103.3 721.9h1.1M74.7 721.5h1.1M75.7 721.3h1.1M64.6 720.1h1.1M59.3 721.2h1.1M47.2 719.7h1.1M66.5 724.6h1.1M66.7 719.9h1.1M47.0 722.3h1.1M54.8 721.3h1.1M61.4 722.1h1.1M58.8 720.2h1.1M82.5 721.5h1.1M46.2 720.2h1.1M75.0 722.8h1.1M94.4 721.0h1.1M83.9 719.2h1.1M46.9 719.4h1.1M83.0 722.0h1.1M76.7 721.1h1.1M57.0 722.0h1.1M91.0 721.5h1.1M60.3 721.3h1.1M69.6 719.2h1.1M48.7 720.3h1.1M73.5 718.7h1.1M59.8 718.6h1.1M58.5 723.6h1.1M87.3 720.8h1.1M71.5 722.1h1.1M80.2 724.2h1.1M82.9 723.2h1.1M52.5 722.2h1.1M60.5 718.4h1.1M68.6 721.2h1.1M63.1 721.7h1.1M69.9 721.4h1.1M79.5 722.6h1.1M58.7 721.0h1.1M105.5 721.5h1.1M54.7 724.2h1.1M57.8 722.3h1.1M103.5 715.4h1.1M111.1 720.2h1.1M68.3 721.5h1.1M64.2 720.1h1.1M48.1 723.0h1.1M88.5 721.2h1.1M70.8 719.8h1.1M52.2 724.1h1.1M75.0 722.6h1.1M92.6 722.0h1.1M80.1 721.8h1.1M107.9 722.2h1.1M88.8 720.8h1.1M75.7 719.5h1.1M67.0 720.7h1.1M77.7 719.5h1.1M89.8 719.5h1.1M83.3 722.4h1.1M86.9 720.8h1.1M71.7 722.0h1.1M81.6 720.2h1.1M89.8 721.9h1.1M64.6 721.6h1.1M99.1 718.3h1.1M78.3 721.6h1.1M59.6 724.0h1.1M71.9 721.1h1.1M63.1 720.8h1.1M64.3 722.2h1.1M71.3 721.2h1.1M65.7 719.5h1.1M88.3 722.2h1.1M65.5 721.6h1.1M74.5 722.6h1.1M62.2 720.7h1.1M60.7 721.5h1.1M85.7 722.9h1.1M70.8 721.6h1.1M57.0 718.1h1.1M71.4 724.3h1.1M60.1 723.7h1.1M54.5 720.7h1.1M72.2 723.7h1.1M89.8 717.9h1.1M62.7 723.9h1.1M56.5 723.6h1.1M100.4 722.2h1.1M52.9 719.4h1.1M89.3 719.9h1.1M63.3 720.3h1.1M81.1 720.8h1.1M65.7 719.0h1.1M60.1 724.5h1.1M106.1 720.8h1.1M65.2 718.8h1.1M77.9 723.2h1.1M61.5 720.7h1.1M65.2 719.2h1.1M73.5 719.1h1.1M76.3 721.5h1.1M108.1 718.1h1.1M67.4 720.4h1.1M64.4 719.4h1.1M55.6 723.2h1.1M79.7 722.6h1.1M93.3 722.6h1.1M83.3 718.2h1.1M62.3 725.4h1.1M46.7 724.5h1.1M68.2 719.9h1.1M68.1 721.0h1.1M88.2 726.5h1.1M54.2 722.0h1.1M60.8 721.8h1.1M66.7 719.2h1.1M62.6 724.6h1.1M56.3 722.2h1.1M55.4 719.4h1.1M63.6 720.0h1.1M85.9 722.9h1.1M109.8 721.8h1.1M98.9 723.9h1.1M74.9 718.9h1.1M101.9 722.0h1.1M65.6 719.1h1.1M58.1 719.9h1.1M109.8 722.8h1.1M48.3 721.5h1.1M60.2 720.2h1.1M62.9 720.5h1.1M94.3 718.6h1.1M56.9 719.4h1.1M81.9 720.7h1.1M60.3 720.1h1.1M72.0 722.5h1.1M70.8 722.3h1.1M46.7 720.2h1.1M52.0 720.7h1.1M53.3 723.2h1.1M85.3 721.4h1.1M76.1 722.7h1.1M72.1 722.2h1.1M76.7 719.0h1.1M59.1 722.9h1.1M76.4 722.4h1.1M56.7 720.3h1.1M54.9 721.2h1.1M71.6 721.0h1.1M69.4 723.8h1.1M87.0 721.3h1.1M63.7 721.9h1.1M74.9 722.7h1.1M50.2 722.3h1.1M72.3 721.8h1.1M60.3 719.8h1.1M47.2 718.0h1.1M88.2 721.1h1.1M86.0 718.7h1.1M60.2 721.1h1.1M50.7 723.8h1.1M51.7 721.2h1.1M54.3 719.1h1.1M52.3 718.8h1.1M72.7 722.8h1.1M90.3 717.4h1.1M83.0 722.5h1.1M93.0 722.5h1.1M49.9 722.2h1.1M56.4 718.8h1.1M64.7 720.6h1.1M73.3 719.7h1.1M58.4 725.1h1.1M66.3 721.4h1.1M70.5 721.5h1.1M100.7 720.1h1.1M47.4 722.1h1.1M72.6 719.2h1.1M87.4 722.4h1.1M53.6 723.7h1.1M67.9 724.1h1.1M97.5 719.1h1.1M62.7 719.9h1.1M86.9 722.6h1.1M73.1 719.3h1.1M72.0 721.5h1.1M80.9 721.5h1.1M63.6 723.8h1.1M64.0 722.2h1.1M85.4 721.1h1.1M72.6 720.9h1.1M76.9 722.2h1.1M68.2 719.5h1.1M89.9 718.8h1.1M84.3 722.6h1.1M74.1 720.6h1.1M58.5 723.9h1.1M56.7 720.5h1.1M75.9 722.9h1.1M93.7 721.5h1.1M68.7 720.9h1.1M91.6 721.7h1.1M62.5 719.4h1.1M89.8 722.6h1.1M49.7 722.0h1.1M71.3 720.7h1.1M48.5 721.3h1.1M79.9 720.8h1.1M78.3 721.6h1.1M50.6 722.6h1.1M54.4 720.1h1.1M59.9 721.1h1.1M51.1 719.7h1.1M52.2 718.9h1.1M82.2 721.8h1.1M93.1 722.5h1.1M59.8 722.0h1.1M62.7 722.4h1.1M71.8 724.7h1.1M58.4 718.4h1.1M62.9 720.5h1.1M83.2 717.2h1.1M72.1 722.2h1.1M66.4 720.2h1.1M57.5 720.8h1.1M94.7 721.4h1.1M56.8 719.5h1.1M70.1 721.2h1.1M49.1 721.4h1.1M57.1 721.0h1.1M69.6 725.1h1.1M60.7 722.5h1.1M77.6 722.5h1.1M69.2 718.4h1.1M86.0 720.2h1.1M57.3 719.9h1.1M94.8 720.1h1.1M68.2 721.6h1.1M54.0 718.4h1.1M78.1 721.6h1.1M63.0 723.7h1.1M68.1 720.1h1.1M51.0 719.2h1.1M79.5 721.0h1.1M87.8 720.6h1.1M58.3 719.6h1.1M100.3 718.6h1.1M57.6 720.2h1.1M72.4 718.3h1.1M106.1 720.7h1.1M93.8 717.6h1.1M88.8 723.6h1.1M72.0 719.6h1.1M75.5 720.7h1.1M69.3 721.0h1.1M73.3 723.4h1.1M51.2 719.4h1.1M65.0 721.6h1.1M47.2 722.9h1.1M61.5 722.3h1.1M74.6 721.6h1.1M53.7 721.0h1.1M62.8 722.8h1.1M60.0 722.8h1.1M68.1 720.5h1.1M84.6 721.3h1.1M72.2 717.8h1.1M75.0 721.9h1.1M61.3 719.9h1.1M82.7 718.2h1.1M52.2 721.6h1.1M60.0 719.5h1.1M50.2 720.7h1.1M92.1 721.1h1.1M59.6 718.5h1.1M54.6 722.9h1.1M79.1 722.3h1.1M87.8 724.3h1.1M76.8 721.4h1.1M85.7 719.5h1.1M71.7 721.7h1.1M65.5 719.8h1.1M59.8 722.5h1.1M58.6 719.3h1.1M57.0 721.4h1.1M74.5 722.0h1.1M65.8 718.4h1.1M69.4 721.2h1.1M78.8 720.2h1.1M66.8 721.0h1.1M53.4 720.0h1.1M47.4 721.0h1.1M69.7 723.3h1.1M48.2 720.7h1.1M83.7 720.4h1.1M62.1 720.6h1.1M85.9 721.6h1.1M66.1 718.1h1.1M59.8 722.5h1.1M78.0 721.0h1.1M78.6 720.9h1.1M69.9 723.1h1.1M48.9 723.3h1.1M59.4 720.1h1.1M46.3 720.1h1.1M63.1 721.0h1.1M69.4 724.0h1.1M94.7 721.7h1.1M93.4 720.8h1.1M80.1 720.2h1.1M85.1 719.2h1.1M71.9 720.4h1.1M95.5 719.6h1.1M74.7 718.4h1.1M75.2 725.2h1.1M86.9 719.5h1.1M71.1 722.0h1.1M73.4 720.4h1.1M49.7 720.9h1.1M84.8 723.0h1.1M70.2 722.8h1.1M82.4 720.5h1.1M63.7 721.5h1.1M76.8 720.0h1.1M88.9 721.9h1.1M50.0 717.5h1.1M62.2 721.7h1.1M63.2 717.7h1.1M99.6 722.5h1.1M86.1 720.3h1.1M56.4 719.3h1.1M74.3 723.5h1.1M103.8 722.9h1.1M82.7 720.5h1.1M88.7 719.3h1.1M50.5 718.9h1.1M71.9 720.3h1.1M103.7 719.4h1.1M78.0 723.2h1.1M76.4 722.0h1.1M70.1 718.8h1.1M62.0 722.2h1.1M78.9 721.6h1.1M104.2 724.2h1.1M74.3 721.6h1.1M64.7 724.0h1.1M53.0 720.6h1.1M73.5 718.7h1.1M64.5 720.7h1.1M48.2 720.9h1.1M67.1 721.9h1.1M52.7 720.3h1.1M77.2 723.1h1.1M63.1 722.0h1.1M74.7 717.5h1.1M62.7 723.5h1.1M81.2 722.2h1.1M65.0 723.6h1.1M67.3 719.1h1.1M57.2 721.6h1.1M70.1 723.4h1.1M55.1 723.4h1.1M69.3 719.3h1.1M58.8 720.1h1.1M58.6 719.9h1.1M74.8 721.4h1.1M58.1 719.7h1.1M59.6 719.0h1.1M50.6 720.1h1.1M46.1 724.0h1.1M100.2 724.6h1.1M47.9 723.8h1.1M70.9 720.8h1.1M93.4 723.8h1.1M69.7 723.1h1.1M73.5 721.2h1.1M49.9 722.8h1.1M81.0 723.5h1.1M66.6 719.6h1.1M80.9 720.4h1.1M65.4 719.9h1.1M66.7 719.7h1.1M78.5 718.8h1.1M65.2 721.4h1.1M71.6 721.6h1.1M50.7 724.3h1.1M56.4 721.7h1.1M75.8 722.3h1.1M62.9 719.5h1.1M53.7 720.1h1.1M79.3 718.8h1.1M77.2 719.4h1.1M67.2 719.3h1.1M53.5 720.4h1.1M83.6 721.1h1.1M52.3 722.0h1.1M53.1 721.3h1.1M50.3 722.9h1.1M82.7 720.6h1.1M82.9 721.5h1.1M94.2 724.8h1.1M80.8 726.0h1.1M58.5 722.6h1.1M87.0 722.1h1.1M56.1 721.8h1.1M60.9 719.1h1.1M89.5 722.4h1.1M85.6 723.5h1.1M58.8 720.7h1.1M61.5 719.6h1.1M67.8 718.5h1.1M70.8 723.1h1.1M82.6 721.8h1.1M68.4 722.1h1.1M74.5 718.7h1.1M61.7 720.1h1.1M99.6 721.3h1.1M92.5 720.1h1.1M80.2 721.9h1.1M87.4 721.7h1.1M103.6 721.4h1.1M84.2 722.2h1.1M63.4 721.8h1.1M52.3 720.7h1.1M66.9 720.9h1.1M74.2 718.8h1.1M50.2 719.9h1.1M61.9 721.5h1.1M72.2 725.1h1.1M64.2 723.9h1.1M63.8 722.2h1.1M59.0 722.0h1.1M81.5 723.6h1.1M71.7 722.0h1.1M62.1 721.2h1.1M71.9 722.4h1.1M49.3 721.6h1.1M79.3 721.5h1.1M52.4 722.6h1.1M61.0 722.8h1.1M65.0 721.6h1.1M107.5 720.9h1.1M61.2 723.1h1.1M56.6 724.9h1.1M80.0 723.0h1.1M58.4 720.5h1.1M70.5 724.1h1.1M72.4 719.8h1.1M66.6 722.4h1.1M91.7 721.2h1.1M62.6 722.7h1.1M63.4 720.4h1.1M56.6 721.3h1.1M75.9 720.7h1.1M82.8 724.7h1.1M55.4 720.1h1.1M59.8 724.2h1.1M47.6 721.9h1.1M70.0 720.5h1.1M70.2 721.7h1.1M59.2 720.5h1.1M68.3 721.1h1.1M85.9 721.2h1.1M98.0 722.8h1.1M57.4 719.7h1.1M80.1 719.5h1.1M62.6 722.3h1.1M47.7 722.9h1.1M90.3 721.0h1.1M74.1 722.7h1.1M69.5 721.2h1.1M73.4 720.0h1.1M63.9 720.3h1.1M47.7 718.9h1.1M99.2 720.6h1.1M83.3 723.2h1.1M71.7 722.8h1.1M84.5 720.5h1.1M90.3 718.2h1.1M63.3 722.0h1.1M77.6 722.9h1.1M61.0 719.0h1.1M78.6 721.6h1.1M62.3 720.2h1.1M111.2 719.6h1.1M60.4 723.1h1.1M76.3 722.0h1.1M75.3 722.3h1.1M60.8 720.5h1.1M83.9 720.3h1.1M65.4 722.2h1.1M59.4 720.4h1.1M66.9 724.4h1.1M53.2 720.8h1.1M88.7 720.8h1.1M78.3 721.4h1.1M84.8 723.8h1.1M71.8 721.6h1.1M52.9 723.2h1.1M68.5 718.9h1.1M90.1 721.9h1.1M71.6 721.7h1.1M63.7 721.6h1.1M87.3 720.5h1.1M85.3 721.3h1.1M100.5 720.5h1.1M72.8 723.0h1.1M59.3 719.5h1.1M51.0 722.2h1.1M69.0 720.1h1.1M50.5 721.0h1.1M62.1 719.6h1.1M100.9 721.5h1.1M53.8 723.9h1.1M60.5 723.3h1.1M62.5 721.8h1.1M69.6 719.1h1.1M53.0 722.1h1.1M70.0 721.3h1.1M88.0 719.3h1.1M76.1 722.3h1.1M73.3 720.9h1.1M73.3 720.9h1.1M48.0 722.4h1.1M86.4 721.0h1.1M47.8 719.6h1.1M101.7 719.6h1.1M71.0 722.0h1.1M82.7 716.5h1.1M102.8 720.8h1.1M62.3 721.9h1.1M86.3 722.6h1.1M63.0 723.0h1.1M55.5 720.0h1.1M89.4 726.2h1.1M58.8 721.7h1.1M73.8 723.7h1.1M46.3 721.7h1.1M50.4 721.5h1.1M87.3 723.6h1.1M59.9 723.1h1.1M59.6 719.3h1.1M70.8 722.3h1.1M81.1 721.4h1.1M58.5 721.9h1.1M63.5 720.0h1.1M92.5 719.3h1.1M55.7 719.9h1.1M64.1 720.5h1.1M97.7 720.5h1.1M62.8 723.4h1.1M50.1 719.2h1.1M60.4 722.3h1.1M99.5 722.9h1.1M71.1 722.0h1.1M62.9 722.7h1.1M82.1 720.7h1.1M90.8 720.2h1.1M53.2 719.2h1.1M93.2 721.6h1.1M82.7 722.4h1.1M75.2 721.9h1.1M70.6 723.4h1.1M92.6 722.6h1.1M62.1 718.0h1.1M109.3 722.7h1.1M68.4 722.2h1.1M48.5 720.3h1.1M78.0 721.0h1.1M72.5 720.1h1.1M82.4 722.9h1.1M63.0 723.2h1.1M91.0 719.2h1.1M56.9 722.5h1.1M69.5 721.6h1.1M52.5 721.0h1.1M70.9 724.5h1.1M55.1 721.7h1.1M58.9 722.5h1.1M63.4 720.5h1.1M71.8 721.9h1.1M81.2 725.2h1.1M81.3 720.1h1.1M86.0 725.7h1.1M71.0 722.1h1.1M57.2 722.6h1.1M60.8 722.4h1.1M52.6 721.4h1.1M97.5 719.8h1.1M73.8 722.9h1.1M77.4 722.4h1.1M62.9 720.2h1.1M67.6 720.5h1.1M53.1 720.2h1.1M99.6 720.8h1.1M52.5 721.8h1.1M48.7 722.2h1.1M55.4 722.2h1.1M68.1 719.9h1.1M73.5 718.9h1.1M73.7 718.1h1.1M108.4 723.1h1.1M54.1 721.8h1.1M64.8 721.4h1.1M80.1 721.7h1.1M89.5 723.3h1.1M54.9 717.7h1.1M49.5 718.9h1.1M48.6 721.7h1.1M87.5 722.2h1.1M83.9 721.4h1.1M74.8 723.4h1.1M71.3 722.0h1.1M103.4 720.1h1.1M81.9 718.6h1.1M69.5 719.9h1.1M89.0 719.2h1.1M50.8 723.2h1.1M67.8 726.8h1.1M84.6 719.1h1.1M83.8 721.1h1.1M83.1 721.5h1.1M58.0 718.6h1.1M70.4 723.0h1.1M62.2 723.0h1.1M68.7 722.6h1.1M82.2 718.7h1.1M52.4 719.8h1.1M86.5 724.4h1.1M83.3 718.6h1.1M84.0 721.4h1.1M80.0 720.7h1.1M56.4 722.7h1.1M54.5 718.2h1.1M53.1 720.7h1.1M61.9 719.2h1.1M53.9 723.1h1.1M55.1 720.2h1.1M76.1 721.2h1.1M88.0 721.8h1.1M78.0 722.8h1.1M84.1 722.6h1.1M67.2 723.4h1.1M81.0 722.5h1.1M65.2 721.4h1.1M73.6 720.4h1.1M88.4 724.0h1.1M57.0 723.1h1.1M56.1 722.4h1.1M73.2 724.2h1.1M72.8 721.9h1.1M87.7 721.8h1.1M77.6 721.7h1.1M76.6 720.7h1.1M108.5 719.8h1.1M68.1 720.0h1.1M83.2 720.9h1.1M60.8 720.4h1.1M64.4 722.7h1.1M68.3 723.0h1.1M96.5 720.3h1.1M95.4 720.4h1.1M78.7 717.7h1.1M104.1 721.8h1.1M59.9 723.1h1.1M73.7 717.0h1.1M61.8 714.5h1.1M54.6 714.7h1.1M91.1 712.1h1.1M100.2 715.8h1.1M75.0 708.6h1.1M58.5 711.9h1.1M73.2 712.6h1.1M68.2 708.6h1.1M46.6 712.6h1.1M82.5 715.9h1.1M74.6 711.6h1.1M89.4 704.4h1.1M60.1 711.4h1.1M68.8 709.9h1.1M67.2 712.4h1.1M109.7 712.5h1.1M50.6 710.0h1.1M63.3 720.7h1.1M75.9 715.9h1.1M61.6 713.7h1.1M70.3 712.6h1.1M72.9 706.8h1.1M70.4 703.4h1.1M70.8 709.6h1.1M66.7 710.4h1.1M76.1 709.4h1.1M82.3 706.6h1.1M65.1 715.1h1.1M62.0 713.4h1.1M62.7 711.2h1.1M74.2 710.7h1.1M63.3 718.2h1.1M63.1 710.3h1.1M100.6 717.1h1.1M49.3 709.1h1.1M96.6 708.9h1.1M82.3 719.4h1.1M86.0 710.0h1.1M73.6 711.1h1.1M77.4 713.8h1.1M74.1 708.5h1.1M79.0 704.9h1.1M83.1 710.0h1.1M94.2 715.4h1.1M53.3 716.6h1.1M77.4 715.7h1.1M95.8 715.2h1.1M92.2 707.9h1.1M52.8 710.7h1.1M74.6 711.8h1.1M74.1 708.8h1.1M73.6 711.7h1.1M83.7 711.6h1.1M105.4 714.6h1.1M80.4 713.8h1.1M68.1 711.6h1.1M80.1 715.7h1.1M72.1 706.1h1.1M61.0 711.3h1.1M68.2 713.6h1.1M75.4 708.4h1.1M56.6 715.3h1.1M81.5 708.1h1.1M88.1 711.4h1.1M87.4 705.4h1.1M89.1 713.6h1.1M91.1 713.1h1.1M81.4 714.6h1.1M91.3 716.0h1.1M70.9 710.9h1.1M76.6 715.3h1.1M93.2 710.6h1.1M101.7 713.9h1.1M64.1 708.2h1.1M105.2 720.4h1.1M89.0 710.3h1.1M100.0 711.6h1.1M84.8 711.7h1.1M73.9 713.9h1.1M59.5 705.8h1.1M54.2 713.1h1.1M93.9 710.3h1.1M86.2 712.6h1.1M75.2 713.0h1.1M51.7 711.4h1.1M61.4 709.5h1.1M59.8 715.5h1.1M65.0 713.3h1.1M73.7 716.5h1.1M95.8 710.4h1.1M61.0 714.6h1.1M70.4 714.3h1.1M74.6 709.5h1.1M53.5 711.8h1.1M77.1 710.4h1.1M56.6 712.2h1.1M62.8 710.4h1.1M74.2 711.4h1.1M69.1 715.5h1.1M71.6 711.0h1.1M54.8 712.9h1.1M82.1 712.6h1.1M52.1 710.8h1.1M84.0 713.6h1.1M62.1 715.3h1.1M50.4 707.7h1.1M68.6 705.5h1.1M52.5 712.9h1.1M61.2 707.9h1.1M67.5 710.4h1.1M83.0 713.9h1.1M83.2 714.6h1.1M78.0 712.7h1.1M65.3 713.2h1.1M66.3 712.9h1.1M64.7 712.2h1.1M67.9 715.6h1.1M61.3 708.8h1.1M61.3 715.6h1.1M83.4 715.4h1.1M47.9 708.6h1.1M70.2 709.2h1.1M90.9 706.8h1.1M57.3 711.3h1.1M53.7 713.9h1.1M66.3 707.9h1.1M64.3 712.1h1.1M74.4 712.2h1.1M92.5 714.6h1.1M67.9 710.4h1.1M79.3 719.8h1.1M60.4 710.0h1.1M61.9 718.5h1.1M74.9 708.8h1.1M58.9 717.0h1.1M89.9 709.4h1.1M63.3 703.4h1.1M67.3 712.7h1.1M52.7 715.7h1.1M62.8 705.2h1.1M53.4 713.2h1.1M61.9 715.5h1.1M69.8 707.5h1.1M99.0 721.4h1.1M98.9 716.8h1.1M68.0 716.2h1.1M84.7 714.1h1.1M53.2 718.6h1.1M103.7 709.0h1.1M52.0 708.3h1.1M68.7 711.9h1.1M95.9 713.2h1.1M48.7 717.1h1.1M68.7 710.2h1.1M57.1 714.1h1.1M53.7 709.7h1.1M54.7 708.3h1.1M93.3 711.6h1.1M90.3 718.9h1.1M47.1 714.9h1.1M68.1 707.1h1.1M62.2 710.8h1.1M88.3 706.9h1.1M55.9 719.3h1.1M97.1 712.1h1.1M70.0 712.3h1.1M56.7 717.3h1.1M68.4 713.9h1.1M60.1 708.4h1.1M107.7 709.9h1.1M72.4 713.6h1.1M61.8 710.6h1.1M71.5 707.7h1.1M94.6 715.4h1.1M53.7 710.7h1.1M91.9 708.2h1.1M80.2 714.1h1.1M62.3 707.3h1.1M68.5 712.0h1.1M88.5 708.0h1.1M91.3 708.6h1.1M66.9 710.8h1.1M81.2 712.7h1.1M69.0 714.0h1.1M59.4 711.2h1.1M88.4 711.0h1.1M70.5 707.0h1.1M83.1 712.0h1.1M71.4 710.5h1.1M86.9 706.0h1.1M89.8 710.6h1.1M58.2 710.2h1.1M75.6 706.3h1.1M99.3 711.4h1.1M60.1 710.4h1.1M91.4 709.2h1.1M65.2 712.1h1.1M64.2 715.5h1.1M97.2 716.7h1.1M55.0 712.4h1.1M91.7 707.9h1.1M63.7 708.3h1.1M54.9 706.2h1.1M55.5 708.6h1.1M88.8 713.9h1.1M68.4 716.7h1.1M63.7 713.5h1.1M89.6 712.6h1.1M87.5 714.2h1.1M75.2 708.6h1.1M82.9 714.4h1.1M60.7 709.8h1.1M72.4 709.1h1.1M71.5 717.6h1.1M60.0 713.2h1.1M73.7 707.5h1.1M57.3 708.9h1.1M58.6 711.3h1.1M48.5 715.5h1.1M72.0 714.1h1.1M57.4 711.4h1.1M61.1 707.4h1.1M93.2 710.1h1.1M68.9 712.0h1.1M69.1 710.9h1.1M60.8 709.1h1.1M86.4 717.7h1.1M79.0 715.1h1.1M70.6 711.6h1.1M66.7 707.6h1.1M70.8 708.1h1.1M76.4 714.4h1.1M64.1 711.6h1.1M103.1 714.2h1.1M89.0 713.1h1.1M67.0 711.2h1.1M93.6 713.0h1.1M47.5 713.6h1.1M91.6 715.7h1.1M72.9 717.1h1.1M84.8 712.4h1.1M63.8 711.1h1.1M72.2 709.6h1.1M79.6 714.5h1.1M87.5 714.2h1.1M78.4 707.5h1.1M77.2 710.3h1.1M59.6 708.7h1.1M98.8 713.7h1.1M73.2 714.2h1.1M65.8 715.6h1.1M64.1 708.4h1.1M49.2 715.6h1.1M57.1 717.6h1.1M73.1 714.3h1.1M68.3 707.5h1.1M73.4 711.6h1.1M48.4 710.9h1.1M62.5 711.3h1.1M58.7 711.9h1.1M86.5 712.3h1.1M91.5 716.5h1.1M75.8 706.1h1.1M92.6 712.3h1.1M95.0 707.6h1.1M89.1 717.0h1.1M71.7 709.9h1.1M54.9 715.7h1.1M65.1 716.1h1.1M99.1 710.8h1.1M57.9 708.3h1.1M74.4 707.1h1.1M83.3 707.2h1.1M80.1 712.7h1.1M76.6 709.1h1.1M63.0 713.8h1.1M73.4 713.6h1.1M65.9 710.9h1.1M86.6 712.1h1.1M59.0 708.9h1.1M60.8 717.9h1.1M62.6 707.9h1.1M49.0 713.7h1.1M77.6 706.7h1.1M89.7 707.9h1.1M70.9 715.6h1.1M50.1 711.9h1.1M91.8 709.4h1.1M64.2 714.4h1.1M72.7 714.2h1.1M94.1 712.8h1.1M63.1 709.2h1.1M58.8 708.7h1.1M64.9 713.2h1.1M55.2 708.9h1.1M60.3 706.7h1.1M73.9 708.6h1.1M57.3 714.2h1.1M85.4 714.6h1.1M53.0 710.8h1.1M81.6 709.0h1.1M75.5 710.3h1.1M63.0 713.0h1.1M64.5 714.9h1.1M64.0 707.4h1.1M98.1 712.2h1.1M55.8 705.4h1.1M89.8 715.6h1.1M86.7 712.8h1.1M63.8 713.9h1.1M97.1 705.5h1.1M73.7 707.5h1.1M71.8 713.4h1.1M69.9 718.2h1.1M83.8 707.8h1.1M62.8 711.3h1.1M66.4 715.5h1.1M89.1 716.8h1.1M67.6 710.4h1.1M52.0 712.4h1.1M79.2 711.2h1.1M68.1 710.4h1.1M60.0 713.0h1.1M78.9 712.6h1.1M56.4 709.5h1.1M52.9 712.1h1.1M65.1 712.6h1.1M66.3 709.5h1.1M70.4 718.4h1.1M49.1 707.5h1.1M98.8 710.2h1.1M81.0 714.3h1.1M72.0 712.3h1.1M73.5 707.6h1.1M85.3 709.8h1.1M52.2 717.7h1.1M78.1 715.1h1.1M49.2 711.1h1.1M86.3 705.7h1.1M60.5 709.1h1.1M65.9 712.4h1.1M95.5 709.7h1.1M86.4 711.6h1.1M46.2 712.7h1.1M57.7 710.4h1.1M72.8 718.9h1.1M65.6 708.3h1.1M83.3 709.9h1.1M57.9 713.2h1.1M54.0 714.6h1.1M66.4 715.7h1.1M78.9 710.8h1.1M82.2 711.2h1.1M90.7 711.1h1.1M73.5 705.9h1.1M66.1 719.1h1.1M82.0 714.1h1.1M67.9 714.3h1.1M61.6 708.5h1.1M61.6 712.5h1.1M85.3 714.9h1.1M94.8 711.0h1.1M91.9 710.3h1.1M88.1 706.2h1.1M50.5 710.8h1.1M63.7 713.2h1.1M79.5 713.4h1.1M46.9 714.4h1.1M48.7 710.0h1.1M56.8 708.9h1.1M98.2 712.4h1.1M87.9 712.1h1.1M54.3 707.0h1.1M71.9 711.3h1.1M71.9 710.0h1.1M74.9 715.3h1.1M57.5 713.7h1.1M94.0 718.9h1.1M63.1 716.3h1.1M85.2 727.1h1.1M102.8 716.7h1.1M72.4 713.3h1.1M53.8 712.3h1.1M79.6 710.6h1.1M100.7 716.7h1.1M74.5 719.2h1.1M96.2 718.3h1.1M76.5 724.4h1.1M53.1 715.1h1.1M59.6 715.1h1.1M72.6 717.0h1.1M123.6 722.5h1.1M89.5 715.5h1.1M73.0 721.4h1.1M83.6 712.5h1.1M82.0 721.7h1.1M68.9 721.3h1.1M75.7 720.3h1.1M72.7 723.8h1.1M92.7 723.1h1.1M109.1 720.1h1.1M104.4 730.9h1.1M71.4 708.8h1.1M88.9 716.9h1.1M63.3 717.3h1.1M55.9 723.1h1.1M79.3 717.8h1.1M90.0 718.8h1.1M76.5 718.2h1.1M94.4 726.0h1.1M94.4 719.3h1.1M93.0 728.1h1.1M74.7 719.7h1.1M50.5 723.1h1.1M113.9 721.7h1.1M68.3 720.4h1.1M92.5 714.6h1.1M87.6 712.7h1.1M70.9 718.6h1.1M114.5 724.1h1.1M91.3 711.4h1.1M77.5 725.7h1.1M69.4 721.5h1.1M58.4 719.8h1.1M52.4 722.4h1.1M89.3 712.2h1.1M69.0 716.8h1.1M68.7 713.4h1.1M87.9 720.2h1.1M70.8 714.5h1.1M90.9 719.5h1.1M65.0 719.5h1.1M67.4 717.3h1.1M96.2 716.8h1.1M64.2 715.9h1.1M90.0 719.8h1.1M87.9 726.2h1.1M78.0 720.4h1.1M51.6 732.1h1.1M55.9 720.2h1.1M52.0 722.8h1.1M95.1 714.7h1.1M60.4 732.2h1.1M53.0 708.9h1.1M67.6 720.5h1.1M75.8 726.7h1.1M89.9 716.7h1.1M92.2 716.4h1.1M65.9 716.7h1.1M93.9 708.0h1.1M46.7 722.9h1.1M66.7 717.4h1.1M74.5 718.1h1.1M79.2 722.2h1.1M100.7 717.4h1.1M71.2 712.6h1.1M57.6 723.0h1.1M82.0 716.6h1.1M80.9 713.8h1.1M86.7 715.6h1.1M71.1 726.7h1.1M81.2 717.4h1.1M66.4 720.7h1.1M89.0 712.7h1.1M64.5 719.4h1.1M65.4 709.1h1.1M101.0 724.9h1.1M62.6 716.3h1.1M77.8 723.2h1.1M89.1 710.0h1.1M71.4 711.0h1.1M95.8 723.4h1.1M66.2 715.1h1.1M98.1 719.0h1.1M46.7 726.9h1.1M50.8 724.0h1.1M79.1 718.3h1.1M106.2 716.3h1.1M109.8 720.7h1.1M60.6 717.4h1.1M77.1 717.3h1.1M67.9 717.4h1.1M92.1 724.7h1.1M70.2 718.1h1.1M105.0 716.2h1.1M83.3 726.2h1.1M67.1 711.2h1.1M64.0 711.6h1.1M74.0 718.0h1.1M86.8 708.5h1.1M68.0 722.8h1.1M133.5 723.5h1.1M81.9 721.9h1.1M55.1 722.4h1.1M79.3 709.7h1.1M100.5 718.6h1.1M86.3 719.1h1.1M71.1 717.0h1.1M64.5 710.9h1.1M62.0 718.0h1.1M54.1 720.7h1.1M67.5 717.5h1.1M82.9 712.6h1.1M66.5 719.8h1.1M110.1 711.8h1.1M85.2 717.3h1.1M68.9 719.7h1.1M77.1 716.4h1.1M106.9 709.0h1.1M82.4 720.0h1.1M131.0 712.0h1.1M97.7 716.0h1.1M59.7 718.0h1.1M80.2 718.5h1.1M73.0 714.7h1.1M133.1 715.8h1.1M64.3 717.0h1.1M72.3 715.5h1.1M71.1 723.1h1.1M49.4 722.0h1.1M73.0 723.8h1.1M88.0 720.5h1.1M69.1 719.8h1.1M87.6 720.6h1.1M92.7 716.2h1.1M91.6 723.5h1.1M107.7 720.0h1.1M94.8 714.5h1.1M93.7 710.5h1.1M77.9 718.5h1.1M77.7 712.9h1.1M66.9 712.0h1.1M86.1 723.8h1.1M96.1 717.6h1.1M66.4 724.0h1.1M94.0 720.7h1.1M68.4 716.8h1.1M89.5 725.1h1.1M74.8 716.2h1.1M56.6 715.7h1.1M90.2 708.9h1.1M96.1 728.1h1.1M64.4 732.6h1.1M127.1 722.3h1.1M88.3 722.3h1.1M52.0 705.1h1.1M110.6 726.3h1.1M85.8 710.0h1.1M60.2 708.4h1.1M75.7 730.7h1.1M92.8 705.7h1.1M87.6 716.4h1.1M82.7 707.2h1.1M45.8 709.5h1.1M53.8 719.2h1.1M80.7 707.7h1.1M128.3 724.4h1.1M60.0 724.6h1.1M65.7 715.7h1.1M84.1 722.8h1.1M71.6 728.1h1.1M120.2 708.9h1.1M109.7 708.8h1.1M104.1 732.3h1.1M57.2 712.2h1.1M76.8 705.3h1.1M112.7 708.8h1.1M93.1 730.2h1.1M57.6 732.1h1.1M117.7 720.6h1.1M123.4 706.1h1.1M110.3 705.6h1.1M96.0 734.1h1.1M59.4 706.0h1.1M75.4 714.2h1.1M83.1 713.7h1.1M94.0 727.3h1.1M91.2 714.7h1.1M57.6 704.7h1.1M55.6 671.6h1.1M59.2 682.4h1.1M48.5 696.7h1.1M79.0 688.4h1.1M84.3 690.2h1.1M116.0 708.8h1.1M122.3 711.0h1.1M129.4 709.9h1.1M131.1 720.6h1.1M111.8 717.0h1.1M65.7 699.2h1.1M72.9 701.0h1.1M126.2 708.1h1.1M119.5 714.5h1.1" stroke="#f95a10" stroke-width="1.1" fill="none"/>
<rect x="29.2" y="593.7" width="121.39999999999999" height="143.0" fill="none" stroke="#000" stroke-width="2"/>
<path d="M25.7,736.7H29.2M25.7,701.0H29.2M25.7,665.2H29.2M25.7,629.5H29.2M25.7,593.7H29.2" stroke="#000" stroke-width="1.6"/>
<text x="25.0" y="741.8" font-size="13.7" text-anchor="end">0</text>
<text x="25.0" y="706.1" font-size="13.7" text-anchor="end">1</text>
<text x="25.0" y="670.3" font-size="13.7" text-anchor="end">2</text>
<text x="25.0" y="634.6" font-size="13.7" text-anchor="end">3</text>
<text x="25.0" y="598.8" font-size="13.7" text-anchor="end">4</text>
<path d="M29.2,736.7V740.2M69.7,736.7V740.2M110.1,736.7V740.2M150.6,736.7V740.2" stroke="#000" stroke-width="1.6"/>
<text x="29.2" y="754.8" font-size="13.7" text-anchor="middle">0.1</text>
<text x="69.7" y="754.8" font-size="13.7" text-anchor="middle">1</text>
<text x="110.1" y="754.8" font-size="13.7" text-anchor="middle">10</text>
<text x="150.6" y="754.8" font-size="13.7" text-anchor="middle">100</text>
<text x="91" y="769.6" font-size="13.7" text-anchor="middle">Dwell time (ms)</text>
<text transform="translate(10.2,661.6) rotate(-90)" x="0" y="0" font-size="13.7" text-anchor="middle">&#916; <tspan font-style="italic">I</tspan><tspan font-size="9.2" dy="3.1">max</tspan><tspan dy="-3.1"> (nA)</tspan></text>
<text x="174.7" y="571.6" font-size="17" text-anchor="start" >(h)</text>
<text x="241" y="590.5" font-size="13.7" text-anchor="middle"><tspan font-style="italic">N</tspan> = 13662</text>
<path d="M191.10,734.5V670.7M193.58,734.5V659.2M195.75,734.5V659.2M197.69,734.5V659.2M199.44,734.5V659.2M201.03,734.5V659.2M202.49,734.5V659.2M203.84,734.5V659.2" stroke="#2e7b50" stroke-width="1.15" opacity="1.0" fill="none"/>
<path d="M190.60 666.5h1.1M190.60 664.1h1.1M190.60 665.7h1.1M190.60 669.0h1.1M190.60 668.2h1.1M193.08 657.3h1.1M193.08 657.0h1.1M193.08 654.4h1.1M193.08 655.7h1.1M193.08 652.7h1.1M195.25 657.8h1.1M195.25 658.3h1.1M195.25 658.6h1.1M195.25 657.4h1.1M195.25 654.1h1.1M197.19 658.0h1.1M197.19 654.6h1.1M197.19 652.6h1.1M197.19 654.7h1.1M197.19 657.7h1.1M198.94 653.7h1.1M198.94 653.2h1.1M198.94 655.4h1.1M198.94 656.4h1.1M198.94 654.8h1.1M200.53 658.5h1.1M200.53 654.5h1.1M200.53 657.6h1.1M200.53 654.6h1.1M200.53 657.0h1.1M201.99 656.5h1.1M201.99 652.5h1.1M201.99 656.7h1.1M201.99 653.5h1.1M201.99 658.5h1.1M203.34 654.2h1.1M203.34 658.6h1.1M203.34 655.6h1.1M203.34 652.8h1.1M203.34 657.3h1.1" stroke="#2e7b50" stroke-width="1.1" fill="none"/>
<path d="M191.10,724.8V712.3M193.58,724.8V712.3M195.75,724.8V712.3M197.69,724.8V712.3M199.44,724.8V712.3M201.03,724.8V712.3M202.49,724.8V712.3M203.84,724.8V712.3" stroke="#1a6e3c" stroke-width="1.15" opacity="1.0" fill="none"/>
<path d="M193.58,687.2V658.5M195.75,687.2V658.5M197.69,687.2V658.5M199.44,687.2V658.5M201.03,687.2V658.5M202.49,687.2V658.5M203.84,687.2V658.5" stroke="#1a6e3c" stroke-width="1.15" opacity="1.0" fill="none"/>
<path d="M233.1 726.8h1.1M216.8 725.0h1.1M236.5 717.0h1.1M226.8 719.9h1.1M234.3 722.9h1.1M236.6 721.8h1.1M223.2 721.1h1.1M245.2 718.5h1.1M239.1 721.9h1.1M222.6 721.1h1.1M252.3 724.4h1.1M251.0 717.4h1.1M207.2 719.9h1.1M219.8 722.2h1.1M234.6 724.4h1.1M241.0 721.1h1.1M237.3 718.9h1.1M228.1 715.3h1.1M241.5 716.3h1.1M238.0 722.0h1.1M222.3 722.1h1.1M230.8 723.5h1.1M242.8 719.9h1.1M219.6 722.9h1.1M219.8 719.6h1.1M216.9 720.2h1.1M248.3 720.0h1.1M237.5 723.5h1.1M239.9 718.1h1.1M223.3 721.5h1.1M228.0 724.1h1.1M244.9 721.1h1.1M224.6 720.6h1.1M244.5 720.9h1.1M228.1 718.6h1.1M228.1 718.0h1.1M236.0 715.3h1.1M240.1 721.2h1.1M252.3 717.9h1.1M223.7 727.5h1.1M251.4 716.3h1.1M218.1 721.0h1.1M216.7 717.8h1.1M239.9 721.6h1.1M248.6 719.6h1.1M212.1 719.4h1.1M224.1 722.5h1.1M225.0 722.4h1.1M207.3 728.3h1.1M229.4 719.6h1.1M232.6 721.4h1.1M221.7 721.5h1.1M214.6 717.9h1.1M230.3 720.1h1.1M236.6 720.4h1.1M209.2 725.7h1.1M227.1 720.6h1.1M236.1 721.7h1.1M232.9 718.5h1.1M251.9 722.2h1.1M211.0 724.1h1.1M246.3 721.6h1.1M224.5 716.3h1.1M236.8 723.2h1.1M226.4 717.7h1.1M213.0 721.4h1.1M205.2 726.1h1.1M261.1 719.4h1.1M210.3 715.0h1.1M224.9 719.8h1.1M248.0 723.7h1.1M232.7 721.5h1.1M230.9 723.2h1.1M220.1 713.7h1.1M210.4 719.6h1.1M233.5 726.9h1.1M239.9 718.9h1.1M218.1 719.8h1.1M219.7 723.5h1.1M234.5 722.5h1.1M240.6 721.1h1.1M214.2 716.6h1.1M244.6 722.3h1.1M241.4 722.9h1.1M228.7 718.5h1.1M213.4 722.6h1.1M236.3 723.6h1.1M238.0 721.3h1.1M252.6 718.9h1.1M220.4 720.6h1.1M250.3 721.9h1.1M223.8 717.3h1.1M235.8 717.5h1.1M227.1 725.0h1.1M229.7 723.9h1.1M248.7 723.3h1.1M219.3 721.5h1.1M239.9 720.5h1.1M224.9 721.2h1.1M228.1 720.8h1.1M218.8 719.8h1.1M231.3 724.2h1.1M225.1 726.5h1.1M242.5 720.2h1.1M240.1 717.8h1.1M206.4 720.5h1.1M213.3 722.0h1.1M223.0 719.5h1.1M254.3 721.8h1.1M222.8 724.2h1.1M228.5 721.9h1.1M225.3 719.0h1.1M232.8 720.1h1.1M216.2 719.2h1.1M232.2 722.2h1.1M235.2 719.5h1.1M243.0 717.3h1.1M216.6 721.8h1.1M241.0 722.2h1.1M255.1 717.8h1.1M239.5 720.7h1.1M238.1 723.9h1.1M247.1 722.0h1.1M255.0 717.6h1.1M245.5 720.0h1.1M235.7 716.2h1.1M240.1 719.3h1.1M270.0 720.3h1.1M218.9 718.3h1.1M223.2 722.5h1.1M243.9 718.2h1.1M232.2 721.1h1.1M231.8 721.6h1.1M233.5 719.9h1.1M215.9 722.1h1.1M234.0 723.7h1.1M232.1 723.2h1.1M235.8 719.6h1.1M258.4 720.2h1.1M252.8 720.7h1.1M213.1 719.1h1.1M210.5 723.1h1.1M229.6 721.9h1.1M232.6 716.8h1.1M210.2 723.3h1.1M218.5 717.7h1.1M247.5 721.6h1.1M232.1 719.6h1.1M243.1 720.3h1.1M228.3 721.5h1.1M242.9 720.6h1.1M221.4 718.5h1.1M221.5 722.6h1.1M215.6 723.3h1.1M223.2 718.7h1.1M209.9 721.9h1.1M222.2 721.3h1.1M230.7 721.4h1.1M231.1 722.0h1.1M234.1 725.4h1.1M223.2 721.1h1.1M227.9 722.1h1.1M244.7 724.3h1.1M226.5 722.3h1.1M229.0 720.3h1.1M213.3 716.6h1.1M243.8 722.2h1.1M216.6 717.5h1.1M213.7 722.0h1.1M242.1 719.7h1.1M211.6 721.5h1.1M242.4 719.0h1.1M227.2 720.5h1.1M219.9 721.9h1.1M247.0 724.7h1.1M211.5 718.4h1.1M239.5 724.6h1.1M211.3 722.4h1.1M235.6 716.5h1.1M228.0 720.3h1.1M224.8 720.7h1.1M213.8 720.6h1.1M219.3 720.3h1.1M232.3 721.7h1.1M214.9 720.0h1.1M237.3 721.3h1.1M231.8 721.7h1.1M236.0 719.7h1.1M231.7 719.3h1.1M236.3 720.0h1.1M233.8 718.5h1.1M240.0 716.2h1.1M233.8 716.6h1.1M233.0 720.6h1.1M215.8 723.6h1.1M229.2 718.0h1.1M241.8 720.6h1.1M215.6 718.9h1.1M206.4 721.7h1.1M220.9 718.7h1.1M233.5 723.6h1.1M240.4 720.4h1.1M224.0 724.2h1.1M212.1 715.8h1.1M227.6 721.5h1.1M237.9 726.0h1.1M227.8 717.7h1.1M242.6 718.4h1.1M221.5 717.4h1.1M240.6 723.6h1.1M251.3 719.9h1.1M214.7 717.5h1.1M216.4 721.3h1.1M237.5 719.8h1.1M271.9 721.3h1.1M235.5 721.6h1.1M228.1 717.4h1.1M246.7 722.7h1.1M226.9 720.7h1.1M206.0 719.4h1.1M215.2 720.7h1.1M247.3 718.7h1.1M205.1 725.7h1.1M208.7 718.0h1.1M239.9 723.7h1.1M230.6 721.3h1.1M245.3 721.6h1.1M213.8 719.6h1.1M218.3 721.3h1.1M223.7 721.8h1.1M211.3 719.1h1.1M225.3 715.7h1.1M226.1 722.3h1.1M240.5 722.4h1.1M227.3 722.2h1.1M222.9 723.8h1.1M235.4 723.8h1.1M243.9 722.0h1.1M243.0 719.0h1.1M232.4 722.1h1.1M223.2 722.8h1.1M221.9 721.1h1.1M210.3 722.8h1.1M229.4 714.1h1.1M228.2 717.0h1.1M251.4 720.7h1.1M231.5 725.0h1.1M238.9 722.2h1.1M246.7 723.1h1.1M219.5 723.0h1.1M225.2 726.2h1.1M230.2 722.1h1.1M212.7 722.3h1.1M240.5 722.5h1.1M241.1 724.0h1.1M235.5 719.9h1.1M238.0 723.0h1.1M213.2 726.4h1.1M244.3 723.4h1.1M220.0 718.9h1.1M230.2 717.9h1.1M234.4 723.7h1.1M219.0 721.3h1.1M205.4 719.5h1.1M212.5 718.6h1.1M226.4 722.0h1.1M242.8 720.2h1.1M242.4 721.9h1.1M226.0 725.3h1.1M243.2 718.6h1.1M226.2 721.0h1.1M212.7 719.8h1.1M237.3 721.4h1.1M236.3 723.0h1.1M215.6 722.1h1.1M208.8 720.1h1.1M214.8 724.0h1.1M244.8 717.1h1.1M224.3 715.3h1.1M267.6 726.5h1.1M219.3 718.6h1.1M236.9 722.0h1.1M233.0 719.4h1.1M225.4 720.4h1.1M240.1 721.3h1.1M216.5 718.7h1.1M227.7 720.6h1.1M212.1 717.2h1.1M229.5 720.1h1.1M212.5 724.4h1.1M210.3 721.3h1.1M236.6 720.9h1.1M226.2 722.3h1.1M233.9 723.9h1.1M252.6 716.0h1.1M231.0 721.0h1.1M234.8 720.9h1.1M211.9 724.9h1.1M240.2 719.5h1.1M240.4 721.1h1.1M213.9 718.2h1.1M237.7 716.7h1.1M233.0 722.4h1.1M225.5 722.6h1.1M229.7 718.0h1.1M262.3 718.2h1.1M219.5 720.1h1.1M223.9 719.1h1.1M229.9 721.6h1.1M226.0 720.9h1.1M237.6 720.8h1.1M241.4 726.1h1.1M252.7 719.0h1.1M220.7 718.9h1.1M210.9 723.1h1.1M237.7 722.2h1.1M214.2 720.1h1.1M228.5 719.1h1.1M222.9 720.8h1.1M231.2 722.0h1.1M222.3 719.8h1.1M238.3 720.5h1.1M215.7 723.3h1.1M261.8 721.6h1.1M239.4 721.7h1.1M219.8 719.2h1.1M215.1 724.1h1.1M225.9 722.8h1.1M222.0 721.8h1.1M217.0 720.8h1.1M248.1 715.0h1.1M242.1 721.3h1.1M213.4 718.3h1.1M236.4 718.9h1.1M228.8 717.7h1.1M239.3 716.6h1.1M219.3 719.4h1.1M258.3 723.2h1.1M229.7 721.7h1.1M256.5 717.2h1.1M222.0 715.6h1.1M247.4 717.7h1.1M227.1 715.0h1.1M251.9 719.1h1.1M226.1 722.9h1.1M213.7 720.6h1.1M213.6 720.1h1.1M219.7 718.6h1.1M237.1 718.7h1.1M233.9 723.0h1.1M230.3 717.9h1.1M243.5 722.2h1.1M251.5 720.1h1.1M214.6 719.2h1.1M242.7 719.1h1.1M261.0 719.6h1.1M220.0 722.2h1.1M220.8 721.2h1.1M234.3 718.5h1.1M231.9 722.0h1.1M221.2 723.7h1.1M227.7 727.1h1.1M251.2 720.8h1.1M241.5 723.1h1.1M217.4 720.8h1.1M213.2 723.5h1.1M231.2 721.9h1.1M217.7 721.8h1.1M216.9 718.5h1.1M238.8 723.0h1.1M224.7 723.8h1.1M223.4 720.6h1.1M231.7 718.8h1.1M249.0 723.1h1.1M233.0 719.6h1.1M238.4 720.8h1.1M229.9 719.6h1.1M250.4 725.4h1.1M211.6 720.6h1.1M213.1 721.5h1.1M221.6 720.4h1.1M257.0 722.5h1.1M250.3 721.2h1.1M213.4 726.3h1.1M222.3 720.9h1.1M236.4 717.5h1.1M229.7 720.4h1.1M241.1 720.7h1.1M221.9 720.0h1.1M205.6 717.4h1.1M237.4 722.6h1.1M246.2 724.5h1.1M207.3 723.6h1.1M222.4 722.5h1.1M234.8 720.7h1.1M212.6 718.9h1.1M239.1 722.7h1.1M224.0 723.4h1.1M230.6 718.7h1.1M238.0 718.2h1.1M225.9 722.8h1.1M214.6 719.0h1.1M241.6 721.3h1.1M208.3 722.1h1.1M248.5 721.2h1.1M220.3 723.0h1.1M221.4 725.1h1.1M234.3 724.4h1.1M234.6 722.8h1.1M235.9 720.2h1.1M208.3 719.9h1.1M216.5 718.8h1.1M233.6 722.9h1.1M234.0 721.0h1.1M227.5 724.5h1.1M246.9 723.4h1.1M226.3 718.4h1.1M242.0 721.3h1.1M244.0 716.2h1.1M233.7 719.2h1.1M226.1 722.1h1.1M239.2 722.7h1.1M235.1 726.1h1.1M237.5 717.7h1.1M216.8 718.5h1.1M235.4 712.0h1.1M251.1 715.8h1.1M224.9 720.1h1.1M230.8 723.5h1.1M225.5 725.3h1.1M241.2 721.9h1.1M251.1 721.0h1.1M236.0 724.6h1.1M225.7 719.2h1.1M232.7 718.5h1.1M244.6 723.4h1.1M234.1 721.6h1.1M238.3 724.4h1.1M245.7 718.4h1.1M231.3 723.2h1.1M239.3 723.8h1.1M249.5 725.8h1.1M236.8 723.5h1.1M220.3 725.3h1.1M239.7 718.3h1.1M257.3 719.3h1.1M224.5 724.0h1.1M235.3 723.2h1.1M234.9 721.1h1.1M241.3 720.7h1.1M223.3 723.6h1.1M228.7 717.6h1.1M256.2 719.3h1.1M238.6 715.9h1.1M220.4 727.9h1.1M240.0 724.9h1.1M229.9 719.1h1.1M250.4 720.4h1.1M206.6 721.6h1.1M230.4 723.8h1.1M242.7 719.7h1.1M211.4 722.2h1.1M218.7 717.5h1.1M235.6 718.2h1.1M229.6 718.6h1.1M224.8 725.6h1.1M233.3 720.1h1.1M209.8 716.5h1.1M217.4 716.3h1.1M253.1 717.8h1.1M220.1 718.1h1.1M235.1 722.9h1.1M228.3 717.2h1.1M241.0 716.2h1.1M233.6 719.8h1.1M234.7 719.6h1.1M245.2 721.3h1.1M233.5 720.4h1.1M205.5 721.7h1.1M219.9 719.7h1.1M248.8 721.3h1.1M243.8 724.7h1.1M225.9 722.5h1.1M207.1 719.9h1.1M219.2 720.4h1.1M257.9 717.2h1.1M245.6 718.5h1.1M246.0 717.6h1.1M206.8 721.0h1.1M210.3 718.2h1.1M220.9 722.7h1.1M210.3 722.6h1.1M230.6 718.7h1.1M213.9 720.3h1.1M235.6 722.9h1.1M226.0 718.5h1.1M221.3 717.2h1.1M238.1 719.0h1.1M235.2 717.6h1.1M230.8 718.6h1.1M224.0 718.6h1.1M228.3 722.9h1.1M219.7 725.6h1.1M230.9 721.8h1.1M253.4 729.1h1.1M234.5 722.3h1.1M215.4 723.7h1.1M222.3 720.6h1.1M211.6 722.7h1.1M228.4 720.9h1.1M227.8 723.2h1.1M228.5 721.6h1.1M232.7 717.2h1.1M243.3 723.5h1.1M238.4 725.3h1.1M213.1 717.4h1.1M240.6 719.0h1.1M215.0 721.0h1.1M234.3 722.0h1.1M230.3 720.2h1.1M252.2 721.9h1.1M227.6 718.5h1.1M227.7 721.7h1.1M225.2 722.5h1.1M240.9 719.5h1.1M233.3 723.0h1.1M225.4 719.5h1.1M240.5 723.9h1.1M258.0 722.3h1.1M251.4 720.5h1.1M249.7 722.7h1.1M221.7 718.5h1.1M227.8 721.2h1.1M231.3 720.4h1.1M205.6 725.9h1.1M252.8 719.5h1.1M209.3 720.7h1.1M234.6 725.9h1.1M212.1 720.3h1.1M230.8 720.1h1.1M240.5 722.7h1.1M236.3 723.7h1.1M217.3 724.5h1.1M220.2 720.9h1.1M241.9 720.9h1.1M228.2 721.5h1.1M230.7 715.8h1.1M242.0 721.0h1.1M232.6 720.5h1.1M246.5 725.0h1.1M253.7 720.2h1.1M238.6 718.6h1.1M219.1 723.2h1.1M242.4 715.7h1.1M254.9 722.4h1.1M220.4 720.6h1.1M219.2 721.9h1.1M227.1 721.9h1.1M223.5 728.2h1.1M211.2 718.8h1.1M220.5 726.5h1.1M235.1 717.8h1.1M221.9 723.8h1.1M231.6 722.3h1.1M247.9 714.6h1.1M270.3 723.4h1.1M241.2 721.5h1.1M215.7 724.1h1.1M242.8 721.4h1.1M229.1 719.9h1.1M233.8 717.0h1.1M242.4 727.6h1.1M239.8 721.1h1.1M211.1 719.5h1.1M213.5 718.7h1.1M232.8 722.9h1.1M238.8 720.7h1.1M258.0 716.2h1.1M237.4 720.0h1.1M224.1 715.6h1.1M222.4 724.0h1.1M219.3 722.7h1.1M211.3 720.9h1.1M211.2 723.5h1.1M221.5 719.3h1.1M230.4 723.8h1.1M218.5 720.1h1.1M229.3 724.7h1.1M225.2 723.1h1.1M225.9 720.3h1.1M223.1 719.4h1.1M233.0 723.4h1.1M229.3 724.8h1.1M232.7 719.5h1.1M230.5 723.5h1.1M220.7 719.9h1.1M231.4 717.7h1.1M219.5 719.3h1.1M230.7 724.8h1.1M217.0 717.8h1.1M238.4 718.1h1.1M233.8 722.4h1.1M209.1 722.0h1.1M219.4 717.3h1.1M238.6 720.1h1.1M234.6 719.9h1.1M230.9 718.2h1.1M213.5 719.6h1.1M219.7 713.8h1.1M231.2 717.4h1.1M233.1 720.5h1.1M228.8 720.6h1.1M217.6 721.7h1.1M225.9 717.8h1.1M222.2 723.9h1.1M213.1 718.7h1.1M213.9 722.4h1.1M217.9 725.6h1.1M208.4 718.4h1.1M235.4 719.8h1.1M239.5 720.2h1.1M241.1 721.7h1.1M218.3 720.9h1.1M218.6 722.5h1.1M232.3 717.5h1.1M222.5 717.4h1.1M224.6 721.0h1.1M224.6 720.8h1.1M206.9 720.1h1.1M246.2 718.6h1.1M209.3 720.3h1.1M207.4 722.0h1.1M239.9 721.4h1.1M213.9 720.1h1.1M243.5 721.2h1.1M233.5 721.8h1.1M233.7 717.7h1.1M223.7 719.8h1.1M209.5 718.5h1.1M212.7 723.1h1.1M230.2 718.7h1.1M227.4 720.8h1.1M212.4 721.5h1.1M213.3 722.6h1.1M217.0 722.4h1.1M228.0 722.0h1.1M234.8 720.5h1.1M241.1 721.0h1.1M223.8 715.8h1.1M248.3 719.6h1.1M238.6 720.2h1.1M248.9 721.0h1.1M216.9 722.8h1.1M236.7 722.9h1.1M243.6 719.9h1.1M241.4 724.7h1.1M234.4 716.7h1.1M241.3 716.9h1.1M231.2 724.6h1.1M244.4 717.8h1.1M223.1 718.0h1.1M221.7 718.0h1.1M238.6 719.1h1.1M238.6 716.7h1.1M210.6 722.8h1.1M245.1 722.0h1.1M244.8 719.3h1.1M242.8 720.7h1.1M218.9 724.4h1.1M245.9 718.7h1.1M235.8 718.2h1.1M241.4 721.3h1.1M228.1 719.8h1.1M223.0 718.4h1.1M219.3 726.1h1.1M220.5 722.2h1.1M241.0 723.0h1.1M218.4 721.2h1.1M220.5 723.9h1.1M233.3 724.0h1.1M225.3 720.3h1.1M219.9 716.2h1.1M223.9 723.9h1.1M250.6 716.7h1.1M237.8 718.4h1.1M215.3 718.3h1.1M213.9 717.5h1.1M222.6 721.9h1.1M231.9 718.0h1.1M218.3 724.6h1.1M234.7 722.8h1.1M209.8 720.0h1.1M233.3 718.8h1.1M244.9 724.3h1.1M228.4 725.6h1.1M232.2 719.8h1.1M234.9 720.1h1.1M230.2 719.0h1.1M227.9 721.0h1.1M232.6 724.1h1.1M230.3 717.9h1.1M230.0 718.8h1.1M250.1 720.4h1.1M242.7 715.3h1.1M241.3 720.2h1.1M220.3 717.0h1.1M222.2 721.1h1.1M243.1 728.1h1.1M214.6 723.7h1.1M242.6 727.7h1.1M210.6 721.4h1.1M257.5 717.8h1.1M245.6 725.1h1.1M221.4 719.0h1.1M222.6 721.5h1.1M228.1 718.5h1.1M244.9 719.8h1.1M237.0 723.3h1.1M225.3 719.3h1.1M256.5 720.9h1.1M236.3 718.5h1.1M234.4 715.9h1.1M224.8 721.3h1.1M236.7 716.6h1.1M264.2 721.0h1.1M234.9 719.2h1.1M206.3 720.3h1.1M231.8 722.5h1.1M254.7 720.4h1.1M244.9 721.9h1.1M221.8 719.3h1.1M233.5 723.4h1.1M208.9 723.2h1.1M237.4 718.6h1.1M216.9 719.4h1.1M221.6 719.3h1.1M221.1 719.3h1.1M219.1 718.1h1.1M251.7 719.6h1.1M248.8 718.4h1.1M224.9 722.7h1.1M230.1 719.5h1.1M251.6 722.6h1.1M224.9 723.9h1.1M222.8 721.3h1.1M217.3 719.1h1.1M249.9 720.7h1.1M231.0 716.2h1.1M228.9 719.0h1.1M223.1 719.7h1.1M216.5 720.5h1.1M241.7 724.1h1.1M218.3 720.6h1.1M221.7 720.7h1.1M206.1 716.3h1.1M213.9 722.7h1.1M221.8 721.1h1.1M222.1 722.6h1.1M208.3 720.4h1.1M220.4 725.1h1.1M226.9 720.0h1.1M236.6 720.7h1.1M225.0 720.3h1.1M210.5 714.1h1.1M225.0 720.9h1.1M234.6 719.5h1.1M228.6 720.8h1.1M229.2 718.0h1.1M228.8 715.1h1.1M237.4 716.5h1.1M210.3 719.9h1.1M220.7 723.9h1.1M233.8 719.6h1.1M229.0 724.9h1.1M214.3 723.0h1.1M224.8 722.2h1.1M219.2 723.5h1.1M228.9 720.7h1.1M206.2 721.7h1.1M206.7 722.6h1.1M209.1 719.8h1.1M226.8 722.6h1.1M262.0 717.5h1.1M241.8 719.1h1.1M245.1 721.8h1.1M228.7 719.6h1.1M250.1 722.5h1.1M233.4 722.3h1.1M229.5 718.2h1.1M243.2 724.8h1.1M212.1 719.6h1.1M212.4 715.9h1.1M247.6 726.4h1.1M240.7 714.7h1.1M231.1 725.7h1.1M225.3 726.5h1.1M226.2 726.1h1.1M233.8 723.7h1.1M216.9 722.3h1.1M239.0 725.6h1.1M215.4 721.3h1.1M246.7 718.7h1.1M224.0 722.8h1.1M216.0 720.5h1.1M224.6 719.2h1.1M215.9 716.4h1.1M226.7 721.0h1.1M221.8 719.0h1.1M229.5 719.5h1.1M233.7 720.7h1.1M223.2 721.7h1.1M244.9 719.9h1.1M205.6 719.0h1.1M225.5 724.2h1.1M221.9 721.8h1.1M228.4 719.9h1.1M224.9 720.0h1.1M247.2 720.0h1.1M228.4 716.6h1.1M215.9 718.1h1.1M262.2 724.0h1.1M229.0 716.8h1.1M226.3 722.6h1.1M240.5 722.9h1.1M220.3 718.0h1.1M225.4 721.6h1.1M240.2 725.1h1.1M212.4 719.2h1.1M222.3 719.7h1.1M241.2 719.4h1.1M252.8 724.4h1.1M227.3 718.8h1.1M227.0 722.4h1.1M243.2 718.5h1.1M208.4 724.0h1.1M219.0 723.3h1.1M217.6 725.9h1.1M222.9 722.8h1.1M240.8 718.1h1.1M237.5 720.2h1.1M245.6 722.3h1.1M226.4 717.3h1.1M246.6 720.3h1.1M216.6 718.9h1.1M210.7 720.0h1.1M233.2 721.1h1.1M228.6 720.5h1.1M237.1 719.7h1.1M228.4 717.9h1.1M245.3 719.3h1.1M237.9 718.6h1.1M231.9 723.7h1.1M223.3 725.7h1.1M238.1 720.0h1.1M219.4 720.4h1.1M241.5 719.7h1.1M244.1 723.4h1.1M241.4 720.5h1.1M211.1 723.6h1.1M234.5 720.6h1.1M233.5 721.0h1.1M240.4 721.3h1.1M207.3 720.1h1.1M220.3 722.1h1.1M227.4 720.9h1.1M247.5 719.1h1.1M220.4 717.0h1.1M240.7 719.8h1.1M230.5 718.8h1.1M254.9 719.4h1.1M233.0 716.6h1.1M206.6 715.5h1.1M224.7 722.5h1.1M232.0 719.1h1.1M245.9 720.1h1.1M237.6 716.8h1.1M224.7 727.1h1.1M211.3 722.5h1.1M229.0 725.3h1.1M226.9 717.3h1.1M246.7 720.1h1.1M241.2 719.1h1.1M209.4 719.8h1.1M222.9 720.1h1.1M232.3 719.8h1.1M215.3 721.9h1.1M221.5 726.1h1.1M244.8 720.0h1.1M238.7 721.0h1.1M205.0 722.3h1.1M233.3 722.4h1.1M230.8 717.5h1.1M225.8 722.7h1.1M236.3 723.6h1.1M236.6 719.1h1.1M262.6 717.1h1.1M231.7 724.2h1.1M218.6 723.4h1.1M221.8 723.5h1.1M238.4 719.9h1.1M255.1 719.4h1.1M236.9 717.2h1.1M236.0 721.0h1.1M232.3 721.5h1.1M222.5 722.4h1.1M229.7 718.0h1.1M212.1 722.4h1.1M238.9 723.0h1.1M235.1 721.4h1.1M231.2 720.9h1.1M216.9 719.8h1.1M225.1 722.5h1.1M220.8 716.4h1.1M232.8 715.9h1.1M224.7 723.7h1.1M233.6 720.5h1.1M241.4 723.5h1.1M246.0 721.6h1.1M214.7 724.0h1.1M224.1 721.6h1.1M213.7 720.2h1.1M245.8 720.4h1.1M217.1 724.3h1.1M247.2 726.0h1.1M221.8 725.6h1.1M242.8 717.7h1.1M221.3 721.3h1.1M225.7 720.7h1.1M230.4 717.1h1.1M229.9 723.4h1.1M226.7 719.8h1.1M237.9 722.6h1.1M245.1 720.4h1.1M240.5 725.7h1.1M222.1 721.9h1.1M230.3 721.1h1.1M238.0 720.6h1.1M237.2 724.6h1.1M212.1 721.5h1.1M236.7 718.6h1.1M219.7 721.1h1.1M246.1 718.7h1.1M218.3 719.2h1.1M217.3 720.3h1.1M219.8 721.8h1.1M232.0 720.7h1.1M214.6 723.3h1.1M259.6 719.2h1.1M223.7 720.0h1.1M252.7 717.8h1.1M224.9 715.1h1.1M224.4 718.7h1.1M219.1 719.4h1.1M218.4 720.4h1.1M234.8 718.7h1.1M245.2 717.3h1.1M230.2 721.6h1.1M216.6 724.1h1.1M231.7 724.4h1.1M218.0 718.3h1.1M230.5 719.7h1.1M220.1 719.5h1.1M229.5 725.2h1.1M223.3 722.3h1.1M225.2 724.9h1.1M249.9 723.8h1.1M241.9 722.3h1.1M249.5 722.6h1.1M231.7 716.8h1.1M231.9 724.1h1.1M252.9 722.5h1.1M220.2 722.8h1.1M233.3 720.7h1.1M230.6 719.0h1.1M232.8 722.9h1.1M236.9 725.2h1.1M230.4 722.0h1.1M239.8 719.9h1.1M217.2 723.7h1.1M235.5 718.4h1.1M214.5 723.5h1.1M243.5 722.5h1.1M242.1 722.0h1.1M225.9 716.0h1.1M221.8 718.9h1.1M228.3 720.0h1.1M236.2 723.5h1.1M208.1 723.8h1.1M215.0 722.7h1.1M241.5 716.8h1.1M225.7 717.5h1.1M211.1 720.5h1.1M222.6 722.7h1.1M230.3 725.4h1.1M227.5 722.1h1.1M253.6 719.5h1.1M211.5 719.5h1.1M237.2 719.9h1.1M212.2 722.7h1.1M214.4 719.6h1.1M225.7 721.3h1.1M217.0 718.6h1.1M253.2 720.2h1.1M227.7 718.9h1.1M218.2 720.0h1.1M259.9 722.1h1.1M217.6 717.9h1.1M223.3 723.6h1.1M225.5 719.2h1.1M217.8 722.0h1.1M236.6 721.8h1.1M244.6 720.2h1.1M210.8 722.2h1.1M221.7 723.5h1.1M223.2 723.3h1.1M209.3 723.8h1.1M210.3 720.8h1.1M223.2 720.1h1.1M216.0 721.1h1.1M232.4 724.9h1.1M239.3 720.5h1.1M230.7 718.5h1.1M232.0 723.8h1.1M215.7 723.2h1.1M220.0 718.5h1.1M233.4 721.3h1.1M235.9 718.1h1.1M226.9 721.7h1.1M235.5 724.6h1.1M224.7 721.0h1.1M212.3 721.0h1.1M232.3 720.1h1.1M222.3 723.1h1.1M205.0 722.1h1.1M239.4 715.7h1.1M233.2 722.3h1.1M237.9 716.8h1.1M221.7 723.8h1.1M248.1 720.3h1.1M234.5 719.9h1.1M241.3 718.7h1.1M219.2 720.9h1.1M223.9 722.5h1.1M245.4 720.6h1.1M227.7 724.7h1.1M228.4 727.3h1.1M248.2 724.8h1.1M243.7 716.9h1.1M231.2 718.7h1.1M253.8 716.2h1.1M208.0 719.6h1.1M227.2 724.6h1.1M220.7 723.4h1.1M248.0 720.1h1.1M249.4 723.0h1.1M221.7 723.3h1.1M230.1 723.6h1.1M240.8 722.8h1.1M235.2 725.7h1.1M231.7 719.8h1.1M241.6 722.7h1.1M254.3 717.7h1.1M229.8 716.7h1.1M213.4 721.1h1.1M226.8 718.2h1.1M227.7 718.1h1.1M223.2 720.4h1.1M237.6 721.3h1.1M238.1 717.6h1.1M240.4 719.2h1.1M234.7 721.3h1.1M231.8 722.2h1.1M214.6 720.9h1.1M223.7 718.5h1.1M216.8 719.1h1.1M232.6 722.4h1.1M226.7 721.3h1.1M227.8 720.5h1.1M235.3 721.9h1.1M224.4 721.1h1.1M242.5 723.4h1.1M242.3 722.9h1.1M215.7 720.2h1.1M245.8 720.3h1.1M223.8 721.7h1.1M218.6 715.4h1.1M224.1 721.3h1.1M211.4 719.1h1.1M232.8 720.2h1.1M244.4 722.1h1.1M208.1 719.1h1.1M234.0 718.1h1.1M236.1 720.8h1.1M237.1 719.6h1.1M236.9 713.7h1.1M234.1 723.1h1.1M222.1 721.4h1.1M240.2 719.4h1.1M232.7 720.9h1.1M238.9 722.9h1.1M232.4 722.1h1.1M224.8 721.4h1.1M227.7 721.6h1.1M236.4 720.7h1.1M242.1 716.9h1.1M211.3 720.3h1.1M206.6 721.8h1.1M221.2 719.1h1.1M219.4 719.2h1.1M230.9 723.6h1.1M224.2 722.4h1.1M246.0 723.6h1.1M220.1 720.0h1.1M218.8 718.7h1.1M217.3 721.4h1.1M224.3 717.7h1.1M230.4 722.3h1.1M221.8 721.7h1.1M215.9 721.0h1.1M210.1 720.4h1.1M230.7 716.7h1.1M220.9 723.6h1.1M215.1 719.4h1.1M224.6 720.7h1.1M232.6 717.9h1.1M255.4 724.2h1.1M249.8 723.8h1.1M216.4 716.6h1.1M222.2 717.7h1.1M240.3 718.1h1.1M226.1 721.2h1.1M208.6 718.2h1.1M219.2 720.8h1.1M221.4 723.6h1.1M219.3 721.2h1.1M247.6 721.5h1.1M222.1 723.5h1.1M231.4 722.3h1.1M234.5 722.6h1.1M230.6 719.5h1.1M211.3 718.4h1.1M220.4 718.0h1.1M207.0 718.1h1.1M238.3 723.5h1.1M269.5 719.4h1.1M241.6 718.8h1.1M224.1 719.8h1.1M239.7 723.2h1.1M244.1 728.2h1.1M213.5 720.5h1.1M240.7 722.9h1.1M211.1 718.6h1.1M230.1 724.6h1.1M209.6 719.5h1.1M238.2 721.9h1.1M247.2 724.2h1.1M229.0 722.0h1.1M234.7 721.2h1.1M249.5 718.8h1.1M235.1 718.8h1.1M245.7 717.7h1.1M247.4 719.0h1.1M214.4 722.0h1.1M257.5 722.0h1.1M244.1 720.5h1.1M230.5 721.7h1.1M239.4 725.0h1.1M232.7 726.0h1.1M231.6 719.0h1.1M215.3 720.6h1.1M223.2 715.9h1.1M224.1 722.1h1.1M243.0 718.2h1.1M235.0 720.5h1.1M234.0 719.6h1.1M227.1 720.7h1.1M245.4 718.1h1.1M216.5 719.6h1.1M241.3 722.1h1.1M223.2 721.1h1.1M237.2 721.4h1.1M249.7 720.7h1.1M239.3 720.3h1.1M209.1 721.9h1.1M225.7 722.3h1.1M213.4 720.9h1.1M235.0 725.3h1.1M242.5 719.8h1.1M225.5 719.9h1.1M235.5 728.7h1.1M226.0 723.6h1.1M254.2 720.9h1.1M230.5 726.5h1.1M231.8 719.8h1.1M236.2 718.4h1.1M242.8 719.7h1.1M238.0 718.5h1.1M228.4 721.1h1.1M229.5 718.7h1.1M235.5 719.1h1.1M236.6 721.2h1.1M223.8 720.7h1.1M221.1 725.1h1.1M225.6 724.3h1.1M234.9 718.3h1.1M222.8 718.3h1.1M214.4 722.9h1.1M224.3 724.7h1.1M222.3 725.9h1.1M236.8 718.0h1.1M222.0 720.0h1.1M223.4 716.1h1.1M253.7 717.7h1.1M234.7 715.8h1.1M216.5 718.8h1.1M244.8 722.3h1.1M224.0 721.7h1.1M218.0 718.1h1.1M237.4 724.5h1.1M210.1 719.5h1.1M227.9 721.9h1.1M236.3 717.6h1.1M238.7 722.3h1.1M221.8 722.7h1.1M222.2 718.5h1.1M227.7 729.0h1.1M244.9 718.2h1.1M205.0 720.2h1.1M239.7 722.4h1.1M232.8 719.2h1.1M247.0 722.1h1.1M214.0 719.3h1.1M244.1 720.7h1.1M217.4 719.0h1.1M232.8 723.3h1.1M223.7 722.6h1.1M228.1 716.3h1.1M234.1 720.1h1.1M240.3 721.4h1.1M220.5 723.2h1.1M213.4 722.2h1.1M238.3 720.3h1.1M224.1 724.0h1.1M242.8 721.0h1.1M247.8 721.6h1.1M225.8 725.8h1.1M226.6 720.9h1.1M219.3 717.8h1.1M228.8 722.0h1.1M238.6 721.4h1.1M243.0 720.3h1.1M228.6 722.4h1.1M253.5 725.3h1.1M222.0 720.8h1.1M228.6 722.0h1.1M221.7 722.5h1.1M223.1 717.4h1.1M225.3 720.6h1.1M219.8 722.8h1.1M223.4 722.6h1.1M232.7 716.9h1.1M230.4 718.9h1.1M215.1 725.4h1.1M235.7 719.4h1.1M218.1 722.2h1.1M235.0 722.4h1.1M229.9 718.1h1.1M215.2 719.1h1.1M241.6 723.0h1.1M220.4 721.0h1.1M220.3 719.3h1.1M223.2 721.2h1.1M230.5 719.9h1.1M236.6 722.7h1.1M225.1 717.7h1.1M251.4 717.2h1.1M221.4 722.6h1.1M222.8 724.5h1.1M226.6 722.1h1.1M231.2 718.7h1.1M248.4 720.4h1.1M260.2 721.0h1.1M224.5 720.5h1.1M226.8 724.6h1.1M237.5 721.0h1.1M227.4 721.2h1.1M240.5 722.5h1.1M214.9 718.9h1.1M240.4 722.6h1.1M236.0 722.5h1.1M237.9 719.1h1.1M262.2 719.3h1.1M216.9 720.7h1.1M238.3 720.3h1.1M237.7 719.9h1.1M216.4 720.1h1.1M232.4 723.4h1.1M217.7 718.8h1.1M213.5 715.8h1.1M208.8 719.9h1.1M226.1 721.6h1.1M214.9 717.9h1.1M232.8 719.3h1.1M206.0 722.8h1.1M238.2 721.1h1.1M232.2 722.4h1.1M217.9 718.3h1.1M207.7 724.2h1.1M216.7 717.7h1.1M210.8 722.6h1.1M223.8 720.1h1.1M223.9 722.0h1.1M262.0 719.9h1.1M220.9 718.0h1.1M236.3 719.3h1.1M242.7 724.0h1.1M246.9 721.6h1.1M215.6 720.6h1.1M239.7 716.2h1.1M225.8 722.2h1.1M240.4 721.9h1.1M238.4 722.9h1.1M209.8 721.0h1.1M217.6 719.2h1.1M218.7 723.4h1.1M210.2 717.4h1.1M232.5 717.7h1.1M218.5 718.9h1.1M236.9 719.3h1.1M227.3 714.7h1.1M224.2 723.6h1.1M252.7 722.3h1.1M244.6 715.5h1.1M210.8 724.0h1.1M247.5 720.1h1.1M239.1 721.3h1.1M246.8 723.3h1.1M234.9 723.3h1.1M223.7 721.4h1.1M209.8 720.2h1.1M219.3 719.7h1.1M246.0 719.4h1.1M229.3 720.7h1.1M231.7 720.8h1.1M238.8 719.4h1.1M216.4 722.5h1.1M243.8 724.3h1.1M231.7 718.8h1.1M215.7 726.2h1.1M220.9 719.5h1.1M225.4 717.7h1.1M237.0 724.1h1.1M248.1 726.5h1.1M224.5 723.1h1.1M225.7 720.1h1.1M253.2 723.3h1.1M272.2 718.3h1.1M253.3 719.3h1.1M231.3 723.4h1.1M223.8 719.0h1.1M238.0 724.5h1.1M232.9 722.1h1.1M217.9 720.3h1.1M247.2 717.6h1.1M263.3 718.9h1.1M217.2 717.1h1.1M217.9 724.6h1.1M221.8 712.8h1.1M211.5 723.1h1.1M239.8 720.2h1.1M209.1 716.9h1.1M237.8 719.6h1.1M234.1 717.8h1.1M238.9 724.0h1.1M208.5 723.8h1.1M230.7 722.0h1.1M232.5 722.3h1.1M240.8 720.6h1.1M233.9 721.7h1.1M220.8 723.9h1.1M244.4 720.3h1.1M247.7 724.5h1.1M247.2 722.7h1.1M218.5 720.1h1.1M236.0 723.2h1.1M216.2 721.0h1.1M226.4 719.3h1.1M239.1 717.1h1.1M209.1 717.9h1.1M266.8 718.7h1.1M245.5 719.7h1.1M218.2 724.1h1.1M220.9 723.1h1.1M227.7 723.1h1.1M226.8 722.3h1.1M212.1 721.3h1.1M226.9 723.3h1.1M207.5 722.0h1.1M220.2 718.1h1.1M253.4 722.0h1.1M227.9 725.8h1.1M223.4 721.6h1.1M250.3 721.3h1.1M233.1 721.8h1.1M237.3 715.5h1.1M220.9 718.6h1.1M243.8 716.6h1.1M224.2 722.5h1.1M240.8 719.0h1.1M237.6 720.3h1.1M252.5 721.1h1.1M242.4 723.1h1.1M228.5 720.4h1.1M214.1 725.9h1.1M224.6 718.5h1.1M219.2 713.9h1.1M249.8 717.2h1.1M222.6 726.3h1.1M234.0 720.5h1.1M240.0 722.9h1.1M216.1 722.5h1.1M238.6 721.6h1.1M210.5 718.0h1.1M232.1 719.1h1.1M226.5 723.1h1.1M233.1 719.5h1.1M234.6 720.6h1.1M219.4 715.8h1.1M239.9 724.7h1.1M221.8 721.3h1.1M230.4 723.4h1.1M248.4 721.0h1.1M216.0 726.1h1.1M229.8 723.3h1.1M250.9 721.2h1.1M246.2 722.5h1.1M219.3 723.2h1.1M220.2 721.3h1.1M236.3 722.4h1.1M219.7 723.3h1.1M229.7 721.6h1.1M209.8 720.9h1.1M237.5 720.1h1.1M206.5 725.4h1.1M230.6 722.0h1.1M238.4 718.0h1.1M219.4 724.6h1.1M206.9 720.7h1.1M211.1 722.2h1.1M253.6 718.2h1.1M210.8 717.9h1.1M233.3 720.3h1.1M229.4 722.2h1.1M243.0 725.0h1.1M247.0 722.3h1.1M235.0 723.1h1.1M227.8 720.9h1.1M220.9 717.1h1.1M226.2 716.2h1.1M241.9 720.2h1.1M237.2 720.7h1.1M237.4 721.3h1.1M205.4 720.2h1.1M218.1 721.5h1.1M219.1 716.6h1.1M221.2 722.9h1.1M214.0 720.7h1.1M238.2 722.5h1.1M243.5 718.6h1.1M254.0 716.4h1.1M221.4 719.3h1.1M227.3 720.5h1.1M230.0 720.8h1.1M228.6 719.5h1.1M217.0 722.1h1.1M239.9 716.8h1.1M222.0 716.5h1.1M237.5 718.4h1.1M209.3 718.9h1.1M212.6 721.9h1.1M228.5 716.3h1.1M214.2 724.4h1.1M232.2 722.7h1.1M223.3 715.6h1.1M256.1 721.9h1.1M211.7 722.9h1.1M217.3 725.0h1.1M236.7 718.3h1.1M230.4 717.9h1.1M235.0 720.4h1.1M224.7 725.0h1.1M242.0 721.1h1.1M233.6 722.8h1.1M247.2 718.6h1.1M209.8 717.2h1.1M232.3 719.8h1.1M225.6 719.8h1.1M234.3 717.0h1.1M215.6 716.6h1.1M240.1 723.8h1.1M210.1 719.7h1.1M241.2 723.8h1.1M236.4 722.8h1.1M234.3 718.0h1.1M236.7 723.6h1.1M206.3 721.2h1.1M227.8 717.7h1.1M225.0 719.7h1.1M206.0 724.9h1.1M235.8 721.1h1.1M222.0 721.4h1.1M244.0 723.1h1.1M228.1 715.7h1.1M267.3 720.7h1.1M231.3 720.7h1.1M253.5 718.2h1.1M233.7 720.4h1.1M230.0 724.1h1.1M236.4 720.8h1.1M218.3 719.7h1.1M219.8 720.4h1.1M252.0 718.1h1.1M226.2 718.6h1.1M212.8 719.5h1.1M236.1 721.2h1.1M217.2 720.7h1.1M230.1 715.9h1.1M244.9 724.8h1.1M247.1 717.9h1.1M254.5 719.6h1.1M245.5 722.5h1.1M238.3 720.8h1.1M236.8 719.2h1.1M233.3 724.2h1.1M228.6 720.3h1.1M261.0 719.3h1.1M228.1 722.9h1.1M252.7 720.4h1.1M227.6 717.3h1.1M246.2 720.2h1.1M231.4 722.8h1.1M220.5 724.7h1.1M251.4 725.1h1.1M250.4 718.3h1.1M220.6 721.2h1.1M228.3 721.0h1.1M242.4 721.2h1.1M233.7 722.5h1.1M230.9 716.4h1.1M243.2 719.0h1.1M211.2 717.0h1.1M252.2 723.7h1.1M236.0 719.2h1.1M216.9 719.1h1.1M228.6 723.5h1.1M261.6 722.9h1.1M229.7 722.7h1.1M208.8 718.2h1.1M249.0 720.2h1.1M235.5 722.5h1.1M229.9 719.0h1.1M244.7 722.3h1.1M224.6 720.4h1.1M228.5 720.9h1.1M244.2 722.8h1.1M236.4 718.4h1.1M243.8 720.6h1.1M225.1 726.4h1.1M253.9 721.2h1.1M210.3 717.0h1.1M211.0 726.2h1.1M237.4 718.5h1.1M226.0 720.1h1.1M233.2 723.7h1.1M230.9 720.8h1.1M228.2 723.5h1.1M215.5 724.5h1.1M234.7 719.8h1.1M248.8 720.0h1.1M218.7 725.2h1.1M257.0 722.0h1.1M252.5 720.6h1.1M218.7 724.6h1.1M241.8 718.0h1.1M215.2 722.5h1.1M228.8 719.7h1.1M215.2 719.1h1.1M223.1 723.0h1.1M228.4 719.9h1.1M215.9 720.4h1.1M218.0 719.7h1.1M231.1 721.8h1.1M257.2 718.3h1.1M225.5 719.0h1.1M228.4 716.9h1.1M214.6 718.1h1.1M224.0 724.1h1.1M218.6 722.1h1.1M208.7 719.7h1.1M218.0 718.2h1.1M223.3 722.4h1.1M234.9 720.7h1.1M225.7 720.0h1.1M234.4 721.0h1.1M248.5 718.2h1.1M243.4 723.2h1.1M224.5 719.5h1.1M205.6 722.7h1.1M227.7 719.7h1.1M231.5 723.0h1.1M244.3 721.4h1.1M232.3 718.4h1.1M269.3 723.1h1.1M225.8 720.5h1.1M239.5 719.1h1.1M217.5 721.0h1.1M216.2 721.4h1.1M226.1 720.7h1.1M233.1 722.9h1.1M239.8 718.9h1.1M245.9 718.9h1.1M251.1 716.4h1.1M249.1 720.0h1.1M242.0 718.0h1.1M228.4 721.9h1.1M237.9 719.5h1.1M248.1 723.0h1.1M216.5 720.1h1.1M239.5 721.5h1.1M237.1 718.4h1.1M228.1 725.7h1.1M255.1 721.1h1.1M220.3 721.5h1.1M216.3 719.1h1.1M229.4 722.5h1.1M221.2 721.8h1.1M248.7 717.6h1.1M206.7 722.3h1.1M211.6 721.7h1.1M234.3 717.9h1.1M240.4 725.9h1.1M213.3 719.7h1.1M248.1 719.9h1.1M244.3 720.1h1.1M217.4 725.1h1.1M223.2 724.2h1.1M255.0 722.7h1.1M228.9 722.8h1.1M220.8 719.1h1.1M233.1 721.8h1.1M256.1 717.2h1.1M230.7 720.8h1.1M219.0 719.2h1.1M232.6 722.3h1.1M212.4 722.2h1.1M220.1 719.7h1.1M221.7 718.6h1.1M238.7 722.3h1.1M222.8 717.6h1.1M236.4 721.3h1.1M245.7 716.9h1.1M251.7 723.7h1.1M206.0 721.6h1.1M228.9 719.1h1.1M213.5 720.9h1.1M238.5 722.1h1.1M233.1 719.1h1.1M229.4 718.4h1.1M222.2 721.7h1.1M216.1 718.8h1.1M205.9 721.8h1.1M243.0 722.6h1.1M226.8 717.6h1.1M230.0 722.1h1.1M234.0 721.9h1.1M240.6 718.8h1.1M255.9 723.1h1.1M227.0 723.0h1.1M238.7 721.4h1.1M206.7 720.5h1.1M224.0 718.4h1.1M219.6 721.2h1.1M220.8 722.3h1.1M245.7 723.9h1.1M231.0 721.5h1.1M230.4 721.9h1.1M230.6 718.0h1.1M226.4 724.7h1.1M226.5 725.1h1.1M220.5 725.3h1.1M222.1 721.3h1.1M223.6 719.7h1.1M227.0 716.8h1.1M230.4 724.7h1.1M229.0 720.4h1.1M235.3 722.3h1.1M214.0 716.8h1.1M216.5 719.9h1.1M240.6 717.0h1.1M219.5 720.8h1.1M236.1 718.1h1.1M220.1 719.9h1.1M212.8 722.3h1.1M209.2 718.4h1.1M221.0 721.5h1.1M222.9 726.3h1.1M212.5 721.0h1.1M249.2 723.8h1.1M229.8 719.5h1.1M217.2 717.0h1.1M250.2 720.0h1.1M240.9 719.4h1.1M219.0 723.8h1.1M215.3 722.7h1.1M226.9 722.2h1.1M239.6 715.9h1.1M210.0 721.8h1.1M245.4 720.1h1.1M224.2 725.3h1.1M241.1 722.0h1.1M227.6 720.5h1.1M236.2 721.1h1.1M238.4 721.5h1.1M247.4 719.7h1.1M219.7 719.6h1.1M255.8 723.7h1.1M211.9 724.1h1.1M233.9 719.4h1.1M238.9 718.8h1.1M229.9 724.1h1.1M241.8 719.1h1.1M207.2 724.2h1.1M229.0 721.2h1.1M243.4 717.6h1.1M229.8 724.8h1.1M214.4 720.8h1.1M231.8 721.3h1.1M232.3 723.6h1.1M216.0 718.9h1.1M247.9 723.1h1.1M222.2 722.4h1.1M215.5 723.5h1.1M231.1 719.7h1.1M220.7 719.4h1.1M227.0 717.4h1.1M232.9 721.4h1.1M223.9 722.8h1.1M237.8 717.1h1.1M233.8 722.3h1.1M246.4 719.1h1.1M215.9 716.8h1.1M230.6 718.8h1.1M233.2 725.3h1.1M233.7 723.4h1.1M215.0 722.8h1.1M234.2 718.7h1.1M237.6 722.7h1.1M230.2 718.9h1.1M232.3 720.3h1.1M246.6 720.4h1.1M224.9 720.9h1.1M219.2 722.7h1.1M250.4 717.4h1.1M238.2 720.5h1.1M227.5 717.1h1.1M219.9 723.1h1.1M251.9 725.0h1.1M226.0 717.4h1.1M218.6 723.7h1.1M247.3 720.6h1.1M209.5 721.8h1.1M227.7 721.2h1.1M238.4 721.7h1.1M225.9 723.6h1.1M222.7 723.8h1.1M235.8 720.3h1.1M213.1 722.6h1.1M226.8 716.6h1.1M239.7 720.7h1.1M214.7 717.4h1.1M248.9 722.1h1.1M226.9 718.9h1.1M228.7 722.4h1.1M223.2 723.2h1.1M237.7 721.5h1.1M223.2 721.4h1.1M232.9 714.5h1.1M247.1 724.2h1.1M247.0 722.5h1.1M208.9 719.1h1.1M248.3 721.3h1.1M223.0 720.6h1.1M233.9 719.0h1.1M231.2 721.3h1.1M233.6 722.7h1.1M221.5 724.3h1.1M237.8 721.1h1.1M243.7 719.6h1.1M221.8 720.4h1.1M229.5 718.0h1.1M240.9 722.0h1.1M244.5 720.2h1.1M234.4 723.0h1.1M233.5 725.7h1.1M236.4 719.5h1.1M225.1 722.1h1.1M234.4 719.3h1.1M225.9 722.5h1.1M225.0 724.8h1.1M205.0 723.2h1.1M234.8 721.7h1.1M239.9 722.7h1.1M235.9 721.6h1.1M231.1 719.6h1.1M225.5 721.0h1.1M237.4 719.8h1.1M224.2 721.3h1.1M229.6 722.7h1.1M250.3 723.4h1.1M210.6 726.4h1.1M221.4 719.5h1.1M226.3 718.2h1.1M213.3 723.4h1.1M244.2 723.3h1.1M236.7 723.1h1.1M227.7 720.1h1.1M247.5 720.7h1.1M216.0 721.5h1.1M255.9 721.1h1.1M228.6 725.1h1.1M221.3 721.3h1.1M244.5 721.4h1.1M236.7 719.8h1.1M232.3 722.8h1.1M227.9 722.3h1.1M229.5 720.5h1.1M242.7 714.3h1.1M218.5 722.5h1.1M230.7 715.9h1.1M207.9 723.3h1.1M208.8 720.8h1.1M228.6 723.3h1.1M239.0 717.6h1.1M239.6 720.6h1.1M245.9 720.5h1.1M218.4 718.4h1.1M227.1 717.7h1.1M240.1 722.6h1.1M215.3 720.3h1.1M225.1 722.2h1.1M229.3 718.1h1.1M229.0 726.2h1.1M241.4 715.5h1.1M235.1 721.5h1.1M223.2 726.1h1.1M240.2 720.2h1.1M243.0 723.0h1.1M236.3 720.9h1.1M234.2 720.6h1.1M235.4 718.3h1.1M245.9 725.5h1.1M222.2 720.0h1.1M228.3 718.1h1.1M215.5 724.2h1.1M226.2 719.1h1.1M217.9 718.9h1.1M217.9 722.3h1.1M227.8 725.7h1.1M243.1 720.5h1.1M246.6 722.1h1.1M228.6 717.0h1.1M219.7 721.5h1.1M233.3 719.2h1.1M225.6 720.1h1.1M228.0 720.4h1.1M248.6 724.0h1.1M231.4 722.7h1.1M234.0 720.7h1.1M225.3 721.1h1.1M226.6 721.2h1.1M216.5 719.0h1.1M227.3 720.8h1.1M218.3 719.1h1.1M244.7 720.7h1.1M225.8 720.0h1.1M239.1 722.2h1.1M246.7 724.7h1.1M243.0 718.8h1.1M219.6 718.8h1.1M251.9 719.3h1.1M248.5 722.9h1.1M216.5 718.2h1.1M227.9 720.7h1.1M219.1 720.5h1.1M208.3 722.6h1.1M232.4 722.1h1.1M205.3 722.5h1.1M237.6 720.0h1.1M244.7 722.6h1.1M247.4 721.0h1.1M232.3 722.3h1.1M228.2 724.1h1.1M223.3 720.8h1.1M266.7 720.6h1.1M245.4 720.7h1.1M237.6 728.3h1.1M233.5 718.4h1.1M243.9 720.9h1.1M240.7 723.3h1.1M221.0 716.2h1.1M244.0 720.9h1.1M218.3 719.1h1.1M234.9 720.6h1.1M218.7 726.7h1.1M223.3 718.0h1.1M251.0 723.8h1.1M233.4 718.2h1.1M234.3 721.2h1.1M207.2 723.1h1.1M241.3 727.0h1.1M220.0 722.1h1.1M235.3 723.4h1.1M214.8 720.9h1.1M233.9 723.7h1.1M236.4 719.2h1.1M208.7 722.3h1.1M233.2 722.1h1.1M216.6 716.0h1.1M246.1 719.0h1.1M234.0 722.5h1.1M229.6 720.0h1.1M270.8 724.9h1.1M240.4 722.8h1.1M223.7 721.4h1.1M241.0 722.8h1.1M232.8 723.4h1.1M247.5 719.3h1.1M215.1 722.4h1.1M256.0 723.0h1.1M221.9 722.4h1.1M223.7 722.6h1.1M218.8 719.0h1.1M224.8 720.2h1.1M255.3 724.7h1.1M231.5 717.6h1.1M214.2 718.3h1.1M226.9 721.7h1.1M232.4 723.4h1.1M242.2 720.9h1.1M224.5 722.4h1.1M231.6 719.7h1.1M269.5 721.0h1.1M227.1 717.8h1.1M230.6 725.0h1.1M212.5 722.5h1.1M242.1 720.3h1.1M222.6 722.2h1.1M254.5 722.0h1.1M245.7 723.8h1.1M240.1 716.2h1.1M222.1 721.4h1.1M224.3 719.2h1.1M223.7 722.9h1.1M230.2 722.1h1.1M224.2 721.1h1.1M221.6 716.9h1.1M230.4 717.6h1.1M228.7 715.8h1.1M223.8 717.2h1.1M241.6 717.3h1.1M243.4 721.5h1.1M221.3 722.7h1.1M258.6 717.7h1.1M234.3 722.7h1.1M245.9 719.6h1.1M255.0 722.5h1.1M209.4 723.5h1.1M236.0 720.8h1.1M241.7 723.2h1.1M245.6 721.7h1.1M240.0 718.8h1.1M243.0 721.4h1.1M208.2 718.5h1.1M215.8 722.1h1.1M237.0 720.1h1.1M221.5 723.4h1.1M226.5 717.7h1.1M234.2 726.0h1.1M241.5 720.3h1.1M232.4 719.6h1.1M217.6 727.4h1.1M215.8 725.0h1.1M234.7 724.7h1.1M237.1 721.2h1.1M234.3 721.6h1.1M231.0 721.8h1.1M230.6 719.5h1.1M209.8 715.4h1.1M228.7 723.5h1.1M239.6 720.1h1.1M241.5 718.8h1.1M262.5 719.5h1.1M208.1 728.2h1.1M218.9 719.9h1.1M218.8 718.2h1.1M245.4 717.6h1.1M230.9 715.8h1.1M225.5 718.9h1.1M208.0 715.5h1.1M225.1 717.1h1.1M236.6 721.8h1.1M224.6 722.6h1.1M265.0 715.6h1.1M285.8 717.7h1.1M250.5 726.3h1.1M209.3 723.9h1.1M269.2 716.0h1.1M282.5 719.6h1.1M236.7 726.2h1.1M248.0 718.6h1.1M262.5 716.6h1.1M244.5 717.8h1.1M265.7 720.3h1.1M251.6 720.8h1.1M228.1 722.0h1.1M230.6 722.0h1.1M235.4 719.2h1.1M226.7 711.2h1.1M266.8 711.0h1.1M246.9 720.7h1.1M236.5 725.4h1.1M256.7 720.5h1.1M242.0 721.1h1.1M261.4 721.0h1.1M272.9 726.1h1.1M243.9 720.4h1.1M228.6 722.4h1.1M216.7 720.0h1.1M276.0 725.6h1.1M248.1 720.0h1.1M228.4 724.4h1.1M238.5 723.1h1.1M217.7 722.5h1.1M267.4 722.1h1.1M246.6 722.1h1.1M233.0 722.1h1.1M210.8 722.3h1.1M282.9 722.6h1.1M242.8 722.2h1.1M228.8 721.4h1.1M239.8 713.5h1.1M243.4 716.9h1.1M218.4 722.3h1.1M263.5 725.0h1.1M252.1 716.1h1.1M241.2 720.2h1.1M227.1 718.9h1.1M231.1 716.0h1.1M236.1 726.9h1.1M216.5 722.3h1.1M246.2 719.5h1.1M256.3 715.2h1.1M230.8 720.4h1.1M232.1 719.9h1.1M239.9 720.3h1.1M273.7 720.3h1.1M269.0 719.6h1.1M207.0 722.2h1.1M230.4 722.7h1.1M291.6 721.5h1.1M233.7 717.9h1.1M275.6 716.0h1.1M250.5 719.7h1.1M265.7 721.1h1.1M233.2 715.8h1.1M242.1 718.2h1.1M251.3 717.5h1.1M240.1 720.6h1.1M239.3 721.6h1.1M269.1 718.4h1.1M237.2 720.7h1.1M267.0 716.0h1.1M228.4 723.3h1.1M234.1 719.0h1.1M255.1 720.1h1.1M250.7 723.7h1.1M259.9 721.4h1.1M241.3 723.9h1.1M239.9 721.4h1.1M231.0 721.1h1.1M208.8 710.8h1.1M232.2 723.8h1.1M261.3 717.9h1.1M239.1 721.8h1.1M244.6 718.9h1.1M265.6 721.3h1.1M222.1 723.0h1.1M247.5 715.1h1.1M229.3 716.2h1.1M263.2 726.3h1.1M211.1 720.7h1.1M233.5 721.4h1.1M230.3 725.8h1.1M233.8 719.5h1.1M229.4 718.4h1.1M278.1 720.0h1.1M236.2 718.5h1.1M237.6 713.9h1.1M211.7 721.7h1.1M214.0 715.7h1.1M225.4 712.4h1.1M216.2 730.4h1.1M250.8 720.9h1.1M228.8 715.3h1.1M231.5 718.9h1.1M237.7 722.3h1.1M222.3 715.1h1.1M215.3 717.0h1.1M227.0 725.8h1.1M244.6 717.2h1.1M238.4 720.8h1.1M223.5 719.4h1.1M272.3 724.3h1.1M247.9 718.2h1.1M253.9 719.5h1.1M271.2 723.4h1.1M222.2 721.3h1.1M259.7 715.1h1.1M245.6 714.7h1.1M246.4 725.4h1.1M210.2 718.3h1.1M224.4 721.2h1.1M240.7 721.9h1.1M239.7 719.2h1.1M271.4 714.7h1.1M233.1 718.1h1.1M245.5 723.5h1.1M234.4 719.9h1.1M214.6 718.5h1.1M233.7 716.2h1.1M242.6 720.3h1.1M275.2 719.6h1.1M265.4 719.2h1.1M229.9 717.8h1.1M222.8 726.7h1.1M240.1 715.2h1.1M229.4 718.9h1.1M289.7 720.0h1.1M257.5 723.9h1.1M239.7 719.1h1.1M230.0 713.1h1.1M219.5 722.2h1.1M238.9 725.8h1.1M233.1 718.5h1.1M231.7 720.0h1.1M271.1 720.2h1.1M205.9 725.5h1.1M258.8 718.6h1.1M234.1 717.8h1.1M256.3 735.4h1.1M226.1 719.5h1.1M248.9 717.4h1.1M257.5 723.3h1.1M291.6 727.6h1.1M224.8 719.7h1.1M238.3 712.5h1.1M238.8 718.8h1.1M229.2 712.1h1.1M239.0 718.9h1.1M241.4 720.8h1.1M234.1 722.8h1.1M206.7 715.0h1.1M246.1 724.8h1.1M212.1 722.2h1.1M239.2 721.5h1.1M261.0 719.0h1.1M215.6 719.9h1.1M238.3 725.3h1.1M244.8 724.2h1.1M240.0 714.0h1.1M231.6 719.7h1.1M241.3 720.1h1.1M254.4 721.3h1.1M220.9 719.1h1.1M237.6 722.7h1.1M255.1 716.1h1.1M229.1 717.0h1.1M217.2 720.1h1.1M256.1 716.8h1.1M254.7 720.6h1.1M260.0 721.6h1.1M240.7 716.5h1.1M228.1 720.4h1.1M271.1 722.9h1.1M265.6 714.4h1.1M256.9 720.7h1.1M231.2 718.4h1.1M243.4 714.7h1.1M223.6 724.6h1.1M220.3 721.1h1.1M242.9 716.6h1.1M247.4 721.1h1.1M252.1 721.6h1.1M243.1 720.6h1.1M281.5 721.1h1.1M221.7 721.2h1.1M267.1 718.6h1.1M233.1 719.7h1.1M259.6 713.9h1.1M222.9 718.9h1.1M284.7 714.1h1.1M269.6 719.5h1.1M209.5 713.8h1.1M267.1 720.5h1.1M244.9 715.7h1.1M259.2 719.4h1.1M241.3 714.3h1.1M238.7 722.8h1.1M214.0 721.7h1.1M232.1 718.6h1.1M225.1 676.9h1.1M210.4 679.5h1.1M216.7 661.2h1.1M221.2 680.1h1.1M217.4 669.7h1.1M205.4 679.5h1.1M205.3 670.5h1.1M216.1 663.9h1.1M213.5 665.4h1.1M227.9 678.0h1.1M210.9 671.1h1.1M211.5 666.6h1.1M221.7 674.2h1.1M219.6 661.8h1.1M207.9 663.9h1.1M220.1 662.8h1.1M212.5 674.8h1.1M219.1 672.1h1.1M228.1 683.6h1.1M212.8 681.2h1.1M213.0 670.8h1.1M227.4 680.0h1.1M224.5 674.6h1.1M214.4 682.5h1.1M210.7 679.9h1.1M217.8 683.6h1.1M215.7 672.7h1.1M207.6 680.1h1.1M218.0 673.9h1.1M207.3 670.7h1.1M211.0 677.4h1.1M210.4 674.7h1.1M206.5 658.5h1.1M206.0 670.9h1.1M212.4 663.5h1.1M210.7 664.1h1.1M226.6 668.6h1.1M227.0 671.0h1.1M226.4 686.4h1.1M222.2 671.3h1.1M210.9 681.9h1.1M208.8 684.4h1.1M212.7 675.3h1.1M214.1 666.7h1.1M206.9 670.6h1.1M206.9 669.6h1.1M211.1 669.2h1.1M216.7 669.2h1.1M208.7 682.3h1.1M226.7 682.6h1.1M206.2 674.2h1.1M207.4 667.4h1.1M209.8 675.1h1.1M213.5 680.2h1.1M216.5 678.7h1.1M208.7 678.2h1.1M225.7 679.5h1.1M214.0 682.6h1.1M212.0 663.3h1.1M212.5 673.5h1.1M221.7 686.6h1.1M215.0 673.5h1.1M210.8 671.0h1.1M208.7 668.8h1.1M207.1 682.1h1.1M207.9 688.1h1.1M217.1 658.4h1.1M220.9 684.1h1.1M216.2 684.9h1.1M205.3 673.5h1.1M216.5 666.9h1.1M220.5 667.7h1.1M214.2 680.7h1.1M206.6 674.7h1.1M212.4 680.1h1.1M210.4 674.9h1.1M206.5 679.7h1.1M207.0 656.9h1.1M215.2 666.3h1.1M220.7 676.2h1.1M213.6 675.9h1.1M207.4 664.9h1.1M213.5 679.8h1.1M221.1 676.7h1.1M213.5 678.2h1.1M210.2 674.7h1.1M221.1 662.6h1.1M225.7 679.5h1.1M216.4 683.8h1.1M209.7 683.0h1.1M226.4 679.4h1.1M215.9 684.9h1.1M229.6 683.8h1.1M207.2 680.9h1.1M211.9 671.3h1.1M208.5 673.1h1.1M221.3 677.5h1.1M215.9 672.2h1.1M219.7 674.6h1.1M212.4 675.7h1.1M218.0 681.3h1.1M210.2 669.2h1.1M215.5 675.1h1.1M210.7 676.4h1.1M221.9 677.5h1.1M214.4 673.9h1.1M216.6 675.6h1.1M213.3 683.7h1.1M220.8 679.2h1.1M210.2 683.5h1.1M220.7 695.9h1.1M210.4 684.3h1.1M209.8 656.5h1.1M205.6 687.7h1.1M213.6 675.7h1.1M212.5 669.5h1.1M214.9 676.2h1.1M213.2 675.7h1.1M218.1 682.3h1.1M213.0 680.2h1.1M209.6 680.1h1.1M214.3 683.4h1.1M210.2 676.0h1.1M224.5 670.4h1.1M213.4 668.4h1.1M217.6 662.6h1.1M227.0 670.6h1.1M223.9 651.3h1.1M229.7 673.6h1.1M225.8 682.8h1.1M207.7 685.2h1.1M209.5 672.9h1.1M213.2 668.6h1.1M212.1 668.0h1.1M211.2 674.4h1.1M214.2 665.1h1.1M224.8 674.2h1.1M214.1 677.5h1.1M212.4 675.8h1.1M214.9 674.0h1.1M228.2 670.2h1.1M211.8 683.5h1.1M215.3 682.2h1.1M227.5 666.2h1.1M228.9 677.2h1.1M211.0 666.1h1.1M212.9 669.9h1.1M214.4 672.4h1.1M216.8 665.9h1.1M210.3 675.7h1.1M207.4 669.8h1.1M225.2 668.6h1.1M225.0 666.9h1.1M211.7 681.4h1.1M206.4 674.7h1.1M206.1 663.6h1.1M209.1 669.3h1.1M205.2 664.6h1.1M214.0 663.3h1.1M207.0 678.7h1.1M208.1 674.6h1.1M214.7 663.9h1.1M209.4 670.5h1.1M223.6 680.8h1.1M207.6 671.2h1.1M210.2 671.5h1.1M229.8 678.2h1.1M213.9 677.2h1.1M222.2 667.8h1.1M208.6 669.3h1.1M216.7 682.4h1.1M206.1 681.1h1.1M208.8 676.7h1.1M217.9 674.4h1.1M218.8 675.0h1.1M221.9 680.5h1.1M206.3 672.2h1.1M211.1 689.2h1.1M217.2 680.7h1.1M209.1 674.4h1.1M220.4 674.6h1.1M212.3 675.4h1.1M210.4 672.0h1.1M208.4 673.3h1.1M217.5 676.9h1.1M220.3 663.0h1.1M214.8 675.3h1.1M208.1 655.7h1.1M227.4 686.7h1.1M217.1 668.2h1.1M212.8 683.7h1.1M209.4 686.9h1.1M215.5 681.7h1.1M212.7 695.7h1.1M214.9 678.4h1.1M205.4 675.3h1.1M214.4 682.0h1.1M216.9 678.0h1.1M214.8 671.4h1.1M205.2 679.3h1.1M218.6 667.9h1.1M208.2 680.0h1.1M212.9 661.2h1.1M211.6 674.8h1.1M211.0 684.3h1.1M220.2 669.5h1.1M215.3 672.9h1.1M212.2 685.5h1.1M216.4 660.5h1.1M207.4 677.8h1.1M209.8 670.5h1.1M215.5 655.0h1.1M205.8 679.6h1.1M208.4 679.8h1.1M206.3 671.3h1.1M213.2 691.9h1.1M217.9 666.7h1.1M215.0 680.9h1.1M220.0 664.2h1.1M215.5 665.6h1.1M224.0 682.7h1.1M224.9 684.1h1.1M207.0 665.4h1.1M205.8 683.5h1.1M208.0 674.4h1.1M217.4 671.1h1.1M215.6 668.2h1.1M212.9 674.2h1.1M205.2 680.4h1.1M207.4 668.4h1.1M209.3 671.1h1.1M213.0 666.5h1.1M213.2 682.1h1.1M215.4 663.2h1.1M223.5 670.7h1.1M217.8 676.8h1.1M217.2 670.0h1.1M218.0 675.2h1.1M212.4 688.0h1.1M212.8 679.3h1.1M208.4 672.0h1.1M222.5 672.5h1.1M217.6 672.9h1.1M214.2 680.1h1.1M235.9 682.1h1.1M211.5 677.7h1.1M224.1 673.2h1.1M207.2 675.4h1.1M214.2 672.1h1.1M222.3 679.6h1.1M206.4 678.9h1.1M220.3 679.1h1.1M216.3 676.7h1.1M211.3 679.0h1.1M213.0 675.1h1.1M212.4 678.0h1.1M205.8 664.9h1.1M212.5 679.9h1.1M214.9 681.5h1.1M216.8 671.6h1.1M205.2 662.6h1.1M216.1 675.8h1.1M214.6 683.5h1.1M209.2 669.1h1.1M208.4 682.3h1.1M210.7 675.1h1.1M214.3 676.7h1.1M222.1 683.3h1.1M220.1 668.8h1.1M214.0 672.2h1.1M218.6 675.8h1.1M211.2 672.7h1.1M225.7 683.3h1.1M207.1 676.9h1.1M209.5 672.3h1.1M219.9 669.6h1.1M207.7 688.2h1.1M209.6 671.4h1.1M213.3 682.4h1.1M214.2 690.2h1.1M225.8 668.9h1.1M219.6 666.7h1.1M218.2 682.3h1.1M214.6 668.8h1.1M212.2 674.3h1.1M227.7 668.9h1.1M226.8 661.0h1.1M213.9 665.7h1.1M219.1 673.5h1.1M221.4 683.1h1.1M209.7 679.9h1.1M214.4 677.0h1.1M218.0 679.2h1.1M232.4 672.0h1.1M217.8 670.3h1.1M209.8 661.2h1.1M214.6 666.2h1.1M212.5 684.0h1.1M211.6 656.5h1.1M212.2 674.7h1.1M214.1 677.7h1.1M221.3 687.6h1.1M208.0 673.6h1.1M217.1 657.8h1.1M217.4 674.6h1.1M212.3 670.5h1.1M216.1 671.4h1.1M231.3 666.9h1.1M213.6 679.9h1.1M214.0 680.4h1.1M216.6 669.7h1.1M221.2 667.4h1.1M205.8 679.4h1.1M211.7 671.5h1.1M207.8 667.1h1.1M225.0 671.8h1.1M214.0 677.6h1.1M206.4 659.0h1.1M215.0 663.7h1.1M206.3 669.7h1.1M221.4 675.5h1.1M218.4 683.7h1.1M208.3 677.7h1.1M211.0 674.2h1.1M212.1 681.6h1.1M210.3 666.9h1.1M211.2 683.6h1.1M219.0 662.4h1.1M209.5 677.4h1.1M216.6 680.2h1.1M227.0 676.6h1.1M207.7 670.8h1.1M224.2 666.8h1.1M213.1 682.5h1.1M210.1 669.7h1.1M222.9 677.8h1.1M219.1 684.4h1.1M209.8 683.0h1.1M210.8 665.7h1.1M214.4 684.6h1.1M224.3 679.2h1.1M206.0 674.3h1.1M209.5 663.5h1.1M205.2 690.3h1.1M230.5 673.5h1.1M215.6 673.4h1.1M218.9 686.9h1.1M219.4 678.0h1.1M230.4 677.1h1.1M218.4 670.6h1.1M213.1 677.0h1.1M212.3 678.7h1.1M221.9 673.2h1.1M217.1 666.7h1.1M213.7 684.4h1.1M210.1 674.4h1.1M221.4 676.4h1.1M217.2 675.2h1.1M212.8 667.9h1.1M217.4 679.2h1.1M215.0 685.8h1.1M217.7 676.4h1.1M211.2 684.2h1.1M219.9 662.7h1.1M211.2 664.5h1.1M226.2 682.7h1.1M221.1 674.8h1.1M218.5 686.8h1.1M211.5 676.1h1.1M211.3 678.3h1.1M210.2 660.8h1.1M220.6 671.2h1.1M215.4 673.0h1.1M214.4 666.5h1.1M211.1 677.7h1.1M221.3 669.7h1.1M225.7 679.8h1.1M218.8 679.1h1.1M212.4 660.4h1.1M217.2 695.6h1.1M213.4 670.2h1.1M232.5 680.3h1.1M216.0 667.8h1.1M206.3 680.4h1.1M215.0 673.5h1.1M208.5 684.7h1.1M210.9 666.6h1.1M206.3 680.2h1.1M206.8 685.5h1.1M219.1 698.6h1.1M211.2 688.3h1.1M218.4 669.5h1.1M208.8 684.2h1.1M210.8 684.7h1.1M207.4 674.7h1.1M223.0 676.1h1.1M226.2 673.9h1.1M210.8 677.1h1.1M219.5 661.2h1.1M218.1 683.5h1.1M236.4 679.9h1.1M220.6 676.8h1.1M227.1 670.8h1.1M210.9 663.8h1.1M219.2 674.6h1.1M225.6 668.8h1.1M206.0 671.8h1.1M223.9 652.6h1.1M234.0 679.7h1.1M205.4 664.5h1.1M213.6 675.0h1.1M211.3 672.9h1.1M206.7 669.7h1.1M219.3 665.4h1.1M207.1 679.8h1.1M205.8 675.8h1.1M212.1 681.8h1.1M224.7 694.9h1.1M213.3 659.0h1.1M235.0 673.6h1.1M208.9 675.2h1.1M217.2 680.9h1.1M205.9 676.6h1.1M211.5 672.1h1.1M205.5 665.7h1.1M206.7 672.6h1.1M206.9 673.8h1.1M212.5 682.8h1.1M215.1 679.4h1.1M209.9 674.7h1.1M220.0 688.8h1.1M227.5 678.7h1.1M213.6 674.6h1.1M215.6 662.9h1.1M209.4 687.7h1.1M216.3 685.0h1.1M210.0 668.9h1.1M223.1 693.1h1.1M232.1 658.2h1.1M217.5 673.3h1.1M211.8 668.1h1.1M216.2 670.4h1.1M227.1 687.4h1.1M207.7 670.4h1.1M218.6 682.0h1.1M213.5 676.4h1.1M208.7 674.8h1.1M217.1 673.2h1.1M215.2 668.9h1.1M210.9 674.5h1.1M214.3 666.4h1.1M213.6 672.5h1.1M216.9 678.9h1.1M228.2 671.5h1.1M212.4 678.0h1.1M221.9 668.8h1.1M216.4 677.6h1.1M237.0 677.3h1.1M216.6 667.5h1.1M236.0 688.3h1.1M216.5 671.4h1.1M210.9 678.5h1.1M224.0 669.6h1.1M219.5 670.2h1.1M219.7 681.8h1.1M205.1 671.4h1.1M212.0 662.8h1.1M219.9 677.7h1.1M207.1 669.1h1.1M212.4 656.9h1.1M223.3 689.0h1.1M212.0 676.4h1.1M214.5 661.0h1.1M223.4 676.0h1.1M216.4 675.8h1.1M213.5 682.5h1.1M212.6 695.1h1.1M215.5 669.2h1.1M233.1 670.0h1.1M222.8 665.3h1.1M213.7 670.5h1.1M206.4 682.3h1.1M220.1 689.1h1.1M214.1 673.0h1.1M224.3 664.0h1.1M215.3 671.8h1.1M221.5 670.8h1.1M205.1 661.9h1.1M210.8 678.6h1.1M212.9 676.1h1.1M205.0 667.8h1.1M216.0 678.0h1.1M209.0 680.3h1.1M209.1 678.0h1.1M206.1 669.9h1.1M211.6 680.5h1.1M220.5 677.4h1.1M216.1 672.7h1.1M217.5 681.3h1.1M223.7 679.0h1.1M214.9 673.4h1.1M209.6 673.1h1.1M224.4 680.6h1.1M208.9 679.0h1.1M213.8 668.1h1.1M207.4 678.3h1.1M212.0 675.1h1.1M218.2 675.9h1.1M217.0 679.8h1.1M220.9 669.7h1.1M207.1 677.0h1.1M207.1 687.8h1.1M214.1 662.8h1.1M204.9 676.8h1.1M208.5 673.9h1.1M212.6 672.7h1.1M215.7 678.1h1.1M205.5 683.0h1.1M218.8 681.9h1.1M207.5 679.4h1.1M217.5 670.0h1.1M209.5 677.4h1.1M215.2 671.5h1.1M205.8 692.2h1.1M208.9 682.4h1.1M210.1 674.2h1.1M214.9 683.3h1.1M218.8 669.6h1.1M216.0 676.6h1.1M222.8 677.2h1.1M213.6 682.5h1.1M212.6 676.4h1.1M218.6 686.0h1.1M205.6 668.3h1.1M207.2 672.8h1.1M222.1 677.4h1.1M221.9 683.1h1.1M209.2 671.9h1.1M221.9 681.3h1.1M205.7 667.6h1.1M212.2 670.1h1.1M213.9 680.4h1.1M219.8 676.6h1.1M205.7 662.1h1.1M214.7 670.5h1.1M213.2 667.9h1.1M206.8 679.0h1.1M211.2 669.5h1.1M226.9 684.6h1.1M217.9 670.3h1.1M211.7 668.1h1.1M208.4 676.7h1.1M228.3 671.8h1.1M207.7 677.8h1.1M222.7 677.1h1.1M207.2 673.3h1.1M206.2 671.9h1.1M226.4 674.0h1.1M210.9 671.7h1.1M206.4 682.5h1.1M210.1 685.8h1.1M213.4 671.8h1.1M220.6 692.7h1.1M223.5 687.2h1.1M211.5 684.9h1.1M229.0 669.6h1.1M207.2 670.3h1.1M221.4 652.7h1.1M206.6 677.3h1.1M206.6 677.6h1.1M209.3 676.0h1.1M224.2 685.2h1.1M207.3 667.8h1.1M212.3 681.8h1.1M214.6 680.9h1.1M220.0 673.7h1.1M212.2 678.9h1.1M219.7 671.5h1.1M227.0 669.7h1.1M218.9 669.4h1.1M208.3 675.3h1.1M210.5 681.4h1.1M214.2 675.2h1.1M209.3 683.2h1.1M206.7 686.2h1.1M238.1 686.7h1.1M219.5 667.8h1.1M206.6 685.4h1.1M205.0 666.8h1.1M222.8 675.7h1.1M221.1 677.7h1.1M211.0 674.7h1.1M218.8 663.4h1.1M212.7 685.6h1.1M211.8 671.9h1.1M205.9 678.6h1.1M216.1 682.9h1.1M213.9 690.5h1.1M213.9 682.3h1.1M207.9 682.3h1.1M222.6 675.0h1.1M212.4 668.9h1.1M217.2 672.2h1.1M218.4 677.1h1.1M205.9 662.6h1.1M215.1 679.6h1.1M223.8 674.8h1.1M209.3 677.6h1.1M209.1 670.2h1.1M215.8 671.6h1.1M216.8 675.2h1.1M212.4 670.5h1.1M218.7 672.9h1.1M230.7 679.8h1.1M205.5 668.1h1.1M213.8 678.6h1.1M211.3 679.6h1.1M213.6 669.7h1.1M234.5 678.5h1.1M209.5 674.7h1.1M221.1 656.2h1.1M211.9 668.6h1.1M208.6 678.7h1.1M218.7 678.8h1.1M214.9 667.7h1.1M210.2 672.3h1.1M215.7 681.5h1.1M242.7 670.0h1.1M210.6 686.5h1.1M217.6 665.4h1.1M206.6 665.6h1.1M243.3 662.8h1.1M206.6 684.2h1.1M218.1 670.3h1.1M213.3 660.3h1.1M215.7 671.6h1.1M211.8 676.0h1.1M226.0 665.1h1.1M224.3 685.1h1.1M222.5 675.4h1.1M212.9 671.5h1.1M219.9 678.0h1.1M226.3 674.3h1.1M214.9 668.0h1.1M226.4 668.7h1.1M204.9 675.1h1.1M206.2 683.4h1.1M223.6 685.8h1.1M216.8 681.4h1.1M222.4 678.6h1.1M205.1 680.2h1.1M215.9 654.3h1.1M219.6 676.2h1.1M214.6 675.7h1.1M223.6 670.1h1.1M222.6 684.2h1.1M218.8 679.0h1.1M233.3 670.4h1.1M206.0 679.9h1.1M217.6 667.4h1.1M213.6 679.4h1.1M208.0 673.1h1.1M222.2 664.2h1.1M210.9 666.8h1.1M206.6 673.7h1.1M205.9 673.7h1.1M209.5 669.4h1.1M210.6 677.7h1.1M215.0 682.6h1.1M215.8 667.5h1.1M207.5 666.5h1.1M228.8 672.6h1.1M218.0 676.3h1.1M211.8 682.8h1.1M214.1 679.1h1.1M205.4 677.2h1.1M217.3 672.7h1.1M212.7 668.6h1.1M212.2 674.2h1.1M206.3 671.8h1.1M229.1 683.9h1.1M212.8 673.8h1.1M212.4 666.3h1.1M213.0 679.5h1.1M207.2 688.3h1.1M218.2 669.8h1.1M218.3 663.9h1.1M215.0 669.4h1.1M214.0 678.2h1.1M222.4 670.4h1.1M220.4 689.7h1.1M217.8 674.2h1.1M205.8 680.0h1.1M220.7 666.6h1.1M215.0 681.8h1.1M210.0 660.0h1.1M218.7 657.3h1.1M208.7 660.7h1.1M220.2 667.5h1.1M207.2 679.9h1.1M226.7 676.8h1.1M210.1 667.6h1.1M235.2 671.9h1.1M218.0 679.2h1.1M211.2 676.3h1.1M207.7 680.6h1.1M229.4 671.8h1.1M214.2 675.2h1.1M223.0 665.4h1.1M208.1 669.5h1.1M209.5 677.2h1.1M209.6 664.7h1.1M221.7 691.2h1.1M228.6 685.0h1.1M210.2 679.0h1.1M210.9 670.8h1.1M218.0 661.0h1.1M209.4 668.9h1.1M205.1 672.5h1.1M224.6 674.7h1.1M219.7 687.4h1.1M212.5 679.0h1.1M213.8 666.9h1.1M211.4 672.3h1.1M217.0 678.9h1.1M222.3 674.9h1.1M212.4 679.4h1.1M210.4 688.5h1.1M208.8 676.3h1.1M215.2 679.3h1.1M209.6 683.6h1.1M207.8 676.1h1.1M222.3 677.0h1.1M207.7 673.6h1.1M207.6 674.6h1.1M206.6 673.5h1.1M224.1 676.4h1.1M234.1 680.1h1.1M205.0 675.5h1.1M222.6 674.8h1.1M215.5 667.9h1.1M209.4 674.5h1.1M208.4 679.7h1.1M235.2 669.0h1.1M212.6 675.0h1.1M213.7 668.9h1.1M216.1 659.3h1.1M213.4 669.0h1.1M211.3 683.9h1.1M212.1 681.4h1.1M213.2 671.1h1.1M212.0 686.7h1.1M210.6 678.2h1.1M216.0 673.3h1.1M219.8 678.4h1.1M206.1 681.0h1.1M208.8 675.2h1.1M210.2 677.6h1.1M215.5 678.6h1.1M209.5 671.2h1.1M220.8 679.6h1.1M205.4 676.6h1.1M215.5 665.9h1.1M217.1 668.6h1.1M214.8 674.7h1.1M216.1 676.3h1.1M219.3 673.0h1.1M206.6 673.2h1.1M209.6 684.1h1.1M214.6 680.4h1.1M207.2 666.9h1.1M205.0 681.7h1.1M217.5 663.0h1.1M214.6 669.9h1.1M212.9 675.0h1.1M216.1 678.2h1.1M211.7 673.9h1.1M212.6 669.0h1.1M214.7 671.4h1.1M228.4 665.1h1.1M228.3 671.3h1.1M219.4 679.3h1.1M220.3 670.6h1.1M206.5 669.2h1.1M216.9 675.3h1.1M216.3 681.1h1.1M216.4 680.2h1.1M216.8 670.6h1.1M214.7 681.0h1.1M210.4 661.9h1.1M206.1 669.2h1.1M217.9 687.6h1.1M211.5 682.4h1.1M221.1 674.1h1.1M207.4 683.6h1.1M208.9 675.7h1.1M217.4 668.2h1.1M205.1 670.1h1.1M211.4 682.5h1.1M208.2 669.2h1.1M223.0 667.5h1.1M214.4 679.8h1.1M220.3 670.1h1.1M224.2 679.1h1.1M221.1 684.2h1.1M219.9 666.1h1.1M207.2 666.5h1.1M215.6 681.4h1.1M210.6 693.5h1.1M218.6 667.4h1.1M206.2 679.1h1.1M217.6 672.0h1.1M207.0 684.2h1.1M218.4 671.1h1.1M222.8 666.9h1.1M222.8 673.7h1.1M207.9 668.9h1.1M223.7 672.4h1.1M213.2 667.7h1.1M211.8 678.6h1.1M211.2 678.8h1.1M205.1 688.8h1.1M223.2 677.9h1.1M231.4 676.9h1.1M219.6 683.0h1.1M221.1 667.5h1.1M216.0 676.7h1.1M210.9 653.3h1.1M209.7 670.5h1.1M219.0 680.6h1.1M208.0 674.8h1.1M215.3 669.5h1.1M232.7 667.0h1.1M224.2 663.9h1.1M211.0 678.0h1.1M228.9 667.5h1.1M216.5 675.0h1.1M221.9 667.9h1.1M210.4 675.6h1.1M207.8 675.0h1.1M224.8 672.3h1.1M218.6 679.3h1.1M219.5 674.7h1.1M221.1 671.9h1.1M213.1 687.8h1.1M207.8 678.4h1.1M215.4 678.1h1.1M212.8 667.4h1.1M222.2 673.7h1.1M209.9 674.8h1.1M228.9 680.0h1.1M208.8 671.5h1.1M217.3 676.9h1.1M210.4 667.7h1.1M217.6 676.7h1.1M206.1 675.0h1.1M217.0 670.4h1.1M213.0 671.4h1.1M214.3 685.8h1.1M220.6 673.3h1.1M205.0 675.1h1.1M210.4 688.0h1.1M222.0 683.5h1.1M223.1 667.9h1.1M218.5 672.2h1.1M213.8 678.1h1.1M208.3 668.0h1.1M209.1 687.2h1.1M220.9 664.8h1.1M219.2 678.8h1.1M208.7 664.0h1.1M212.4 677.6h1.1M206.6 678.4h1.1M216.4 672.6h1.1M208.3 676.5h1.1M208.1 667.3h1.1M215.9 668.9h1.1M218.6 677.1h1.1M221.3 676.0h1.1M217.3 674.6h1.1M216.9 662.2h1.1M211.0 674.9h1.1M216.8 667.2h1.1M205.2 674.9h1.1M205.4 680.6h1.1M224.9 686.4h1.1M221.1 673.0h1.1M209.7 671.2h1.1M205.2 672.9h1.1M208.7 665.5h1.1M218.8 669.4h1.1M212.2 661.5h1.1M209.4 670.1h1.1M231.4 681.2h1.1M211.8 666.5h1.1M219.0 682.3h1.1M213.2 675.6h1.1M219.2 683.9h1.1M205.4 668.0h1.1M219.5 664.4h1.1M221.4 684.5h1.1M219.6 681.1h1.1M208.4 679.8h1.1M206.2 688.4h1.1M205.0 675.7h1.1M205.6 676.8h1.1M212.0 684.9h1.1M208.9 691.4h1.1M211.0 685.7h1.1M211.3 673.3h1.1M222.5 686.1h1.1M229.6 675.2h1.1M211.6 673.5h1.1M210.8 670.2h1.1M210.1 675.7h1.1M220.2 673.6h1.1M217.8 664.6h1.1M212.5 679.4h1.1M210.2 675.0h1.1M216.7 666.0h1.1M220.9 683.6h1.1M207.6 670.6h1.1M215.4 693.9h1.1M205.5 686.8h1.1M215.8 686.7h1.1M213.8 676.6h1.1M208.6 675.3h1.1M230.3 691.8h1.1M214.7 661.8h1.1M227.3 659.9h1.1M225.6 666.0h1.1M209.7 676.5h1.1M214.9 671.6h1.1M221.5 680.0h1.1M224.5 679.0h1.1M218.6 680.5h1.1M214.6 672.8h1.1M221.0 678.7h1.1M206.3 678.3h1.1M220.5 662.1h1.1M223.6 677.3h1.1M229.8 670.5h1.1M209.8 672.0h1.1M221.3 678.1h1.1M220.1 677.9h1.1M228.4 666.6h1.1M222.3 678.6h1.1M226.4 670.0h1.1M219.2 677.9h1.1M210.0 677.5h1.1M217.9 664.1h1.1M220.2 687.3h1.1M213.0 679.9h1.1M205.2 679.2h1.1M212.4 671.8h1.1M238.8 679.8h1.1M210.6 674.1h1.1M207.2 670.0h1.1M217.1 660.7h1.1M218.3 667.9h1.1M212.8 684.9h1.1M205.5 662.4h1.1M206.0 674.9h1.1M217.3 681.9h1.1M206.0 673.2h1.1M209.6 682.0h1.1M206.7 677.7h1.1M231.6 681.4h1.1M219.2 678.4h1.1M215.6 692.8h1.1M221.0 665.8h1.1M211.6 674.5h1.1M217.1 669.0h1.1M214.4 672.2h1.1M212.9 675.7h1.1M219.9 665.3h1.1M227.6 665.6h1.1M212.4 677.6h1.1M210.2 669.1h1.1M213.7 677.5h1.1M209.5 678.5h1.1M208.5 671.8h1.1M211.7 674.4h1.1M221.4 675.9h1.1M208.9 689.6h1.1M211.9 681.1h1.1M216.0 674.3h1.1M229.3 670.0h1.1M217.6 670.3h1.1M217.7 679.0h1.1M226.3 671.6h1.1M224.0 684.0h1.1M219.7 671.9h1.1M212.8 661.7h1.1M216.7 676.7h1.1M207.6 682.4h1.1M224.1 667.5h1.1M212.6 675.9h1.1M212.5 675.0h1.1M209.0 671.1h1.1M219.4 677.4h1.1M207.7 669.9h1.1M213.3 680.2h1.1M209.5 680.5h1.1M209.7 673.0h1.1M216.8 671.9h1.1M214.5 673.4h1.1M207.2 670.3h1.1M217.1 675.4h1.1M214.6 679.7h1.1M216.5 671.7h1.1M213.9 686.3h1.1M207.3 675.0h1.1M214.5 668.1h1.1M209.7 671.0h1.1M205.4 666.8h1.1M221.0 676.8h1.1M229.0 676.7h1.1M214.0 678.4h1.1M207.9 678.6h1.1M215.6 673.5h1.1M208.0 667.9h1.1M229.8 675.2h1.1M216.0 663.7h1.1M210.2 671.6h1.1M210.3 689.5h1.1M220.1 670.2h1.1M220.1 678.3h1.1M208.7 674.2h1.1M222.5 680.1h1.1M211.5 678.7h1.1M211.3 660.1h1.1M218.6 667.4h1.1M205.1 677.4h1.1M210.4 680.2h1.1M219.7 677.5h1.1M209.0 679.3h1.1M219.7 670.3h1.1M222.7 666.6h1.1M208.6 685.9h1.1M211.8 671.5h1.1M210.5 675.2h1.1M217.7 676.7h1.1M216.2 669.1h1.1M213.5 680.1h1.1M224.2 680.8h1.1M215.4 675.4h1.1M214.4 679.9h1.1M205.2 678.4h1.1M212.5 668.9h1.1M224.0 684.0h1.1M218.3 665.7h1.1M212.9 664.9h1.1M211.0 677.0h1.1M205.3 669.9h1.1M221.2 682.1h1.1M212.2 676.5h1.1M212.7 677.7h1.1M223.4 680.4h1.1M208.2 667.6h1.1M207.6 671.8h1.1M224.8 667.5h1.1M217.6 685.5h1.1M211.8 675.2h1.1M204.9 677.4h1.1M207.4 685.3h1.1M209.9 666.6h1.1M205.5 673.7h1.1M228.4 671.6h1.1M210.1 663.4h1.1M207.7 678.1h1.1M220.6 662.9h1.1M209.9 687.4h1.1M223.6 664.2h1.1M212.1 668.4h1.1M215.1 682.6h1.1M210.0 683.3h1.1M215.2 655.8h1.1M218.3 678.4h1.1M210.5 665.5h1.1M213.0 671.2h1.1M214.3 673.2h1.1M220.3 675.1h1.1M228.4 683.0h1.1M219.5 682.4h1.1M214.2 680.0h1.1M208.8 667.4h1.1M215.4 688.0h1.1M229.7 681.9h1.1M225.5 671.1h1.1M205.9 675.0h1.1M225.8 677.7h1.1M205.9 681.4h1.1M206.4 686.9h1.1M210.9 679.9h1.1M217.8 682.7h1.1M210.1 678.1h1.1M221.1 681.3h1.1M214.9 685.5h1.1M226.3 664.8h1.1M213.2 689.5h1.1M218.2 668.9h1.1M226.0 677.7h1.1M210.1 678.8h1.1M216.1 683.5h1.1M207.2 681.5h1.1M215.2 677.9h1.1M221.3 689.7h1.1M220.1 667.5h1.1M210.4 673.7h1.1M217.8 675.0h1.1M240.1 675.2h1.1M207.9 666.9h1.1M217.4 675.0h1.1M207.9 669.4h1.1M219.9 679.6h1.1M205.2 662.3h1.1M217.8 679.6h1.1M214.1 682.5h1.1M235.0 679.7h1.1M207.1 668.3h1.1M220.7 663.5h1.1M214.2 672.2h1.1M222.3 659.5h1.1M213.2 682.3h1.1M213.0 680.2h1.1M222.1 678.3h1.1M212.1 665.4h1.1M224.5 681.6h1.1M225.8 674.9h1.1M209.6 683.4h1.1M223.9 673.5h1.1M218.8 681.1h1.1M211.3 653.2h1.1M212.3 669.2h1.1M222.1 678.6h1.1M222.9 668.8h1.1M230.0 675.3h1.1M214.9 679.4h1.1M221.7 671.2h1.1M207.4 685.6h1.1M209.1 664.1h1.1M213.8 665.9h1.1M208.0 683.0h1.1M211.7 675.9h1.1M210.6 688.6h1.1M217.9 670.9h1.1M222.0 672.7h1.1M220.3 673.2h1.1M224.9 678.8h1.1M210.6 675.3h1.1M208.2 679.9h1.1M219.5 676.6h1.1M216.6 679.8h1.1M212.6 679.6h1.1M209.4 679.9h1.1M206.9 693.5h1.1M209.8 680.8h1.1M224.1 668.6h1.1M206.0 664.5h1.1M216.1 679.1h1.1M223.9 674.6h1.1M225.7 665.6h1.1M209.3 686.7h1.1M220.9 672.2h1.1M220.3 687.3h1.1M212.6 672.1h1.1M215.0 676.6h1.1M214.5 675.8h1.1M206.1 676.7h1.1M210.1 661.0h1.1M213.0 694.3h1.1M220.7 685.4h1.1M209.9 673.4h1.1M209.7 673.2h1.1M208.3 680.4h1.1M236.9 672.5h1.1M208.3 675.0h1.1M216.4 674.2h1.1M212.5 666.6h1.1M206.9 681.3h1.1M218.8 673.4h1.1M227.8 668.3h1.1M213.6 679.0h1.1M217.6 665.9h1.1M213.7 681.2h1.1M208.0 687.1h1.1M212.8 683.0h1.1M220.9 674.4h1.1M213.9 667.6h1.1M208.6 677.8h1.1M207.8 675.4h1.1M216.4 675.3h1.1M209.1 670.5h1.1M220.5 682.3h1.1M219.0 676.0h1.1M211.4 681.8h1.1M231.3 671.7h1.1M221.6 668.9h1.1M207.4 691.7h1.1M208.6 673.5h1.1M220.2 676.5h1.1M220.7 669.8h1.1M211.8 680.5h1.1M218.9 674.9h1.1M208.3 684.0h1.1M222.1 669.3h1.1M207.6 658.3h1.1M217.5 673.2h1.1M210.5 663.8h1.1M209.5 663.7h1.1M219.1 676.9h1.1M219.7 674.4h1.1M223.6 673.8h1.1M218.5 667.4h1.1M216.1 679.9h1.1M207.4 669.6h1.1M212.5 681.2h1.1M216.0 670.2h1.1M210.5 675.2h1.1M219.6 687.5h1.1M224.9 677.9h1.1M227.7 671.4h1.1M205.2 676.2h1.1M212.7 673.2h1.1M207.4 658.6h1.1M208.8 684.4h1.1M213.1 680.3h1.1M219.5 680.6h1.1M210.9 674.9h1.1M224.9 678.5h1.1M227.6 676.6h1.1M207.7 681.0h1.1M205.6 680.5h1.1M217.7 661.0h1.1M220.8 656.6h1.1M208.1 676.2h1.1M214.5 674.3h1.1M225.7 687.2h1.1M212.4 677.9h1.1M212.6 669.5h1.1M223.1 671.9h1.1M205.3 676.5h1.1M206.5 661.6h1.1M210.7 653.3h1.1M217.3 676.3h1.1M211.5 682.5h1.1M213.0 670.4h1.1M220.8 668.5h1.1M216.0 681.2h1.1M221.1 675.3h1.1M212.1 666.9h1.1M227.0 672.0h1.1M233.4 681.2h1.1M212.6 668.4h1.1M221.7 680.9h1.1M214.8 663.6h1.1M207.7 674.9h1.1M212.9 688.7h1.1M217.4 681.2h1.1M212.7 669.1h1.1M212.7 661.6h1.1M213.8 672.2h1.1M210.0 677.0h1.1M214.7 658.0h1.1M220.8 684.5h1.1M214.4 667.3h1.1M220.0 686.1h1.1M210.2 687.7h1.1M211.1 682.8h1.1M228.8 668.9h1.1M222.2 673.0h1.1M232.8 676.3h1.1M229.0 671.8h1.1M208.9 680.1h1.1M205.7 663.7h1.1M209.4 674.1h1.1M219.9 670.9h1.1M212.4 684.5h1.1M223.0 675.4h1.1M212.4 683.8h1.1M215.0 669.9h1.1M209.9 686.8h1.1M220.7 669.5h1.1M209.4 667.2h1.1M216.4 670.7h1.1M212.2 665.6h1.1M229.8 663.6h1.1M216.3 677.0h1.1M216.0 678.4h1.1M211.2 678.3h1.1M215.7 674.9h1.1M221.9 676.4h1.1M212.1 676.6h1.1M205.0 662.3h1.1M229.7 674.4h1.1M207.0 678.1h1.1M213.7 664.0h1.1M206.8 683.1h1.1M219.3 675.4h1.1M217.8 670.9h1.1M217.1 670.1h1.1M221.3 684.1h1.1M207.7 684.9h1.1M227.5 683.8h1.1M209.9 681.0h1.1M220.4 666.4h1.1M231.3 675.6h1.1M207.4 672.5h1.1M215.5 681.2h1.1M211.0 678.8h1.1M213.2 670.3h1.1M214.8 672.4h1.1M211.4 677.1h1.1M212.2 667.9h1.1M218.5 679.3h1.1M205.4 679.0h1.1M207.5 678.2h1.1M215.2 679.4h1.1M207.9 669.1h1.1M216.0 685.7h1.1M220.3 671.9h1.1M217.7 688.5h1.1M214.7 687.7h1.1M205.1 675.1h1.1M221.5 672.9h1.1M208.6 676.1h1.1M205.1 689.9h1.1M205.5 666.5h1.1M215.4 667.1h1.1M221.3 681.2h1.1M214.1 665.5h1.1M217.5 679.4h1.1M214.7 674.7h1.1M225.5 680.7h1.1M211.3 682.4h1.1M212.8 686.1h1.1M205.0 677.1h1.1M226.0 670.2h1.1M208.1 677.7h1.1M223.7 670.5h1.1M218.1 668.8h1.1M211.5 664.1h1.1M211.0 667.5h1.1M237.8 674.7h1.1M217.3 673.1h1.1M221.3 675.9h1.1M208.1 681.1h1.1M206.7 683.7h1.1M227.6 662.6h1.1M209.2 681.4h1.1M211.2 670.9h1.1M207.4 664.2h1.1M222.2 673.4h1.1M206.5 678.9h1.1M206.3 672.1h1.1M207.6 663.6h1.1M207.1 681.7h1.1M224.9 681.3h1.1M208.9 678.5h1.1M216.7 669.3h1.1M208.0 669.0h1.1M207.0 679.0h1.1M229.4 674.3h1.1M218.8 668.4h1.1M214.1 683.4h1.1M215.9 675.8h1.1M219.0 671.7h1.1M215.2 669.8h1.1M214.8 669.9h1.1M211.7 685.1h1.1M213.8 675.4h1.1M212.3 679.0h1.1M217.1 673.2h1.1M215.7 671.7h1.1M216.9 675.6h1.1M205.1 673.1h1.1M206.2 659.1h1.1M210.5 661.5h1.1M217.8 667.9h1.1M221.3 674.4h1.1M215.8 660.0h1.1M205.0 679.4h1.1M218.5 687.6h1.1M220.6 676.2h1.1M210.2 681.6h1.1M229.3 691.6h1.1M208.9 682.7h1.1M210.1 677.8h1.1M218.1 678.2h1.1M210.6 672.2h1.1M219.3 670.5h1.1M208.8 670.5h1.1M205.7 683.2h1.1M226.0 669.6h1.1M223.5 663.3h1.1M205.1 676.7h1.1M222.0 676.6h1.1M227.1 671.5h1.1M216.9 670.5h1.1M218.3 674.7h1.1M223.0 672.0h1.1M208.8 681.8h1.1M222.8 687.8h1.1M212.5 679.3h1.1M220.7 677.9h1.1M223.1 675.6h1.1M211.5 678.9h1.1M210.5 681.8h1.1M218.6 673.6h1.1M226.9 671.5h1.1M221.3 677.0h1.1M230.0 677.8h1.1M216.8 674.6h1.1M212.2 679.0h1.1M214.8 671.6h1.1M223.0 678.9h1.1M207.0 689.1h1.1M208.7 661.9h1.1M228.6 672.2h1.1M207.3 668.5h1.1M206.0 676.3h1.1M215.2 676.0h1.1M208.7 674.4h1.1M210.1 674.0h1.1M222.2 675.9h1.1M212.7 681.1h1.1M206.1 670.6h1.1M210.1 674.5h1.1M218.2 660.9h1.1M211.8 680.7h1.1M206.7 677.6h1.1M222.7 675.3h1.1M224.3 688.7h1.1M210.6 681.1h1.1M217.7 689.2h1.1M214.3 679.6h1.1M206.7 673.9h1.1M226.5 674.0h1.1M209.8 667.4h1.1M219.6 673.3h1.1M208.8 667.6h1.1M219.8 671.0h1.1M210.0 690.8h1.1M210.6 673.8h1.1M217.3 685.9h1.1M211.3 670.2h1.1M205.7 665.7h1.1M211.3 665.0h1.1M214.0 672.4h1.1M229.1 674.7h1.1M222.0 684.7h1.1M217.7 669.5h1.1M205.6 673.2h1.1M216.4 676.8h1.1M208.3 684.3h1.1M208.9 684.7h1.1M207.3 678.4h1.1M228.9 668.9h1.1M215.5 675.0h1.1M228.8 681.2h1.1M213.0 669.2h1.1M231.0 667.1h1.1M211.6 673.1h1.1M213.1 676.6h1.1M218.7 672.9h1.1M205.0 675.8h1.1M211.9 670.8h1.1M216.8 682.7h1.1M205.5 666.0h1.1M215.9 674.5h1.1M221.6 658.2h1.1M210.5 689.9h1.1M215.3 681.1h1.1M205.1 685.7h1.1M220.9 674.6h1.1M222.9 672.0h1.1M206.5 679.1h1.1M213.9 673.6h1.1M206.0 673.4h1.1M210.6 680.6h1.1M216.0 675.2h1.1M210.3 683.2h1.1M213.3 678.1h1.1M207.7 679.1h1.1M222.6 680.0h1.1M220.2 682.7h1.1M206.1 672.6h1.1M216.8 675.2h1.1M235.8 662.1h1.1M207.6 690.2h1.1M224.4 675.8h1.1M236.1 674.4h1.1M210.0 671.0h1.1M219.2 673.2h1.1M224.4 658.2h1.1M217.8 680.4h1.1M219.5 686.7h1.1M213.7 670.9h1.1M220.7 681.0h1.1M222.1 673.9h1.1M218.4 677.1h1.1M209.4 660.1h1.1M210.5 682.1h1.1M212.3 663.5h1.1M210.0 671.8h1.1M211.0 673.6h1.1M208.6 674.1h1.1M208.1 682.3h1.1M209.8 674.7h1.1M231.7 674.0h1.1M211.2 677.5h1.1M221.5 683.9h1.1M216.5 678.8h1.1M214.7 676.7h1.1M209.2 676.2h1.1M217.8 685.2h1.1M216.7 673.9h1.1M218.0 666.7h1.1M210.1 676.1h1.1M204.9 664.6h1.1M218.4 672.9h1.1M220.5 678.1h1.1M210.9 682.2h1.1M223.0 683.7h1.1M219.1 680.1h1.1M215.1 676.3h1.1M206.2 682.7h1.1M214.6 676.9h1.1M209.3 662.4h1.1M205.6 688.9h1.1M230.6 673.0h1.1M208.0 673.9h1.1M221.8 672.3h1.1M211.0 672.6h1.1M222.4 675.0h1.1M218.9 677.4h1.1M217.6 676.5h1.1M226.6 681.4h1.1M206.9 680.0h1.1M220.5 674.3h1.1M216.4 674.4h1.1M213.7 673.7h1.1M218.4 680.1h1.1M227.1 683.5h1.1M208.1 659.7h1.1M236.2 671.3h1.1M214.2 668.5h1.1M211.4 673.1h1.1M225.9 669.5h1.1M213.8 667.6h1.1M223.3 664.9h1.1M213.1 675.2h1.1M212.4 670.9h1.1M216.6 668.6h1.1M222.5 685.9h1.1M208.5 674.7h1.1M207.2 672.1h1.1M207.2 681.2h1.1M216.7 679.0h1.1M210.6 666.6h1.1M215.8 671.6h1.1M221.9 675.1h1.1M208.9 678.5h1.1M209.2 673.5h1.1M208.9 650.7h1.1M225.3 673.7h1.1M210.6 681.8h1.1M212.3 686.5h1.1M208.9 667.0h1.1M219.9 671.1h1.1M215.4 681.4h1.1M220.4 664.7h1.1M215.4 665.5h1.1M222.7 680.1h1.1M216.5 679.9h1.1M211.1 671.7h1.1M220.7 674.9h1.1M223.1 671.1h1.1M211.0 666.9h1.1M215.9 678.9h1.1M210.4 672.6h1.1M215.2 684.0h1.1M208.1 670.1h1.1M205.7 667.0h1.1M222.8 694.6h1.1M217.5 683.3h1.1M211.9 672.2h1.1M205.4 686.3h1.1M213.0 674.5h1.1M205.9 670.5h1.1M214.1 673.8h1.1M210.3 669.7h1.1M217.3 675.3h1.1M229.4 667.0h1.1M208.0 676.9h1.1M218.7 678.2h1.1M207.5 681.4h1.1M226.4 687.5h1.1M210.8 675.7h1.1M214.1 674.6h1.1M225.3 676.2h1.1M225.7 681.8h1.1M224.5 677.8h1.1M214.0 667.8h1.1M219.2 673.4h1.1M222.0 666.1h1.1M212.9 671.7h1.1M216.6 677.9h1.1M223.2 658.9h1.1M223.3 681.3h1.1M216.3 686.7h1.1M223.7 679.3h1.1M211.6 673.1h1.1M214.5 669.1h1.1M228.0 672.9h1.1M210.5 678.8h1.1M206.8 664.6h1.1M209.9 672.0h1.1M210.5 673.3h1.1M211.5 678.1h1.1M218.9 662.4h1.1M221.1 665.5h1.1M226.1 680.7h1.1M209.3 665.9h1.1M218.7 672.6h1.1M215.4 676.4h1.1M207.6 666.2h1.1M219.2 679.0h1.1M229.8 673.8h1.1M215.1 665.5h1.1M207.8 673.0h1.1M213.6 684.3h1.1M230.0 679.2h1.1M221.1 672.8h1.1M209.9 679.6h1.1M220.4 674.3h1.1M222.4 669.5h1.1M217.7 678.5h1.1M220.9 683.5h1.1M228.8 672.0h1.1M216.2 662.5h1.1M218.7 675.4h1.1M212.8 671.3h1.1M218.3 670.4h1.1M227.7 671.9h1.1M218.4 683.2h1.1M206.1 671.0h1.1M211.1 670.3h1.1M229.9 679.9h1.1M206.3 671.3h1.1M205.7 680.0h1.1M223.9 682.0h1.1M207.9 680.5h1.1M211.2 666.4h1.1M216.9 667.9h1.1M217.5 673.2h1.1M222.3 662.5h1.1M209.5 679.7h1.1M213.4 667.9h1.1M211.8 677.6h1.1M229.7 689.3h1.1M208.2 668.5h1.1M216.3 672.3h1.1M235.7 684.7h1.1M212.6 677.1h1.1M207.2 670.9h1.1M214.7 677.0h1.1M220.9 668.9h1.1M208.5 685.5h1.1M217.8 658.8h1.1M214.4 675.4h1.1M213.7 679.8h1.1M207.9 678.3h1.1M215.2 679.3h1.1M221.9 686.1h1.1M211.6 682.7h1.1M208.6 673.3h1.1M237.3 668.8h1.1M218.0 683.2h1.1M217.7 671.8h1.1M221.7 677.5h1.1M222.6 658.6h1.1M214.8 670.0h1.1M207.3 669.1h1.1M205.4 672.0h1.1M213.2 671.1h1.1M208.1 676.1h1.1M221.4 680.1h1.1M210.1 662.7h1.1M207.3 664.3h1.1M225.9 666.7h1.1M220.8 682.0h1.1M215.9 674.6h1.1M205.2 669.5h1.1M213.6 673.8h1.1M216.7 687.2h1.1M221.2 674.7h1.1M204.9 684.2h1.1M216.4 682.6h1.1M209.5 670.6h1.1M216.3 697.3h1.1M211.0 666.4h1.1M211.4 682.1h1.1M208.5 678.1h1.1M216.3 675.9h1.1M212.6 677.5h1.1M220.8 676.5h1.1M218.6 680.2h1.1M210.8 673.7h1.1M222.4 682.5h1.1M211.1 675.3h1.1M210.5 674.6h1.1M207.7 676.5h1.1M223.3 666.0h1.1M228.2 675.9h1.1M209.8 678.6h1.1M205.9 659.1h1.1M221.4 664.2h1.1M219.9 670.4h1.1M217.5 676.6h1.1M214.4 663.6h1.1M213.5 672.1h1.1M209.1 675.6h1.1M215.9 675.5h1.1M210.3 667.8h1.1M215.4 672.4h1.1M211.6 678.9h1.1M209.2 690.0h1.1M227.4 669.1h1.1M211.4 674.0h1.1M217.4 668.5h1.1M220.4 672.8h1.1M210.1 667.4h1.1M210.3 670.8h1.1M219.7 674.8h1.1M211.8 675.8h1.1M216.1 688.2h1.1M215.6 685.6h1.1M212.2 659.7h1.1M205.2 680.8h1.1M218.3 679.5h1.1M216.0 659.8h1.1M213.4 672.6h1.1M221.1 688.9h1.1M214.5 693.0h1.1M223.2 687.0h1.1M215.0 677.7h1.1M214.9 668.7h1.1M208.7 671.6h1.1M229.2 678.5h1.1M206.6 668.7h1.1M210.6 684.9h1.1M207.8 677.3h1.1M217.3 666.7h1.1M229.0 654.8h1.1M227.0 679.6h1.1M209.8 682.2h1.1M206.9 673.1h1.1M216.5 672.9h1.1M208.2 669.1h1.1M218.9 670.5h1.1M214.4 662.8h1.1M219.5 660.7h1.1M219.5 669.6h1.1M212.0 681.6h1.1M225.2 676.3h1.1M211.3 673.2h1.1M209.2 676.0h1.1M211.5 665.7h1.1M216.9 669.5h1.1M213.1 672.4h1.1M213.2 674.1h1.1M223.0 667.5h1.1M207.6 679.8h1.1M209.1 683.1h1.1M220.2 677.6h1.1M234.2 681.8h1.1M205.1 678.2h1.1M206.0 692.2h1.1M206.2 675.0h1.1M207.6 679.4h1.1M222.4 669.1h1.1M218.6 667.4h1.1M217.7 670.2h1.1M216.6 685.9h1.1M217.2 673.1h1.1M205.3 672.4h1.1M237.9 682.5h1.1M206.3 671.0h1.1M230.3 680.5h1.1M208.1 685.5h1.1M212.2 671.4h1.1M209.4 678.2h1.1M216.0 659.3h1.1M214.7 673.0h1.1M218.6 678.3h1.1M219.9 673.4h1.1M214.7 674.4h1.1M209.6 675.6h1.1M218.6 681.1h1.1M209.2 680.2h1.1M205.4 663.3h1.1M216.8 680.3h1.1M214.3 662.6h1.1M223.0 680.2h1.1M215.0 668.6h1.1M210.8 674.5h1.1M218.9 664.5h1.1M216.9 673.6h1.1M223.7 674.1h1.1M207.1 678.2h1.1M211.7 672.7h1.1M217.5 670.1h1.1M216.0 668.0h1.1M214.0 675.8h1.1M205.8 674.7h1.1M226.0 675.5h1.1M215.1 689.4h1.1M217.1 672.9h1.1M212.5 683.2h1.1M214.5 674.3h1.1M222.3 678.6h1.1M221.3 678.1h1.1M221.9 675.0h1.1M212.8 683.5h1.1M213.0 674.5h1.1M210.0 663.2h1.1M206.7 663.0h1.1M211.8 661.5h1.1M212.5 666.0h1.1M205.3 671.2h1.1M209.4 660.4h1.1M211.8 674.5h1.1M214.6 667.7h1.1M211.6 670.1h1.1M206.3 672.9h1.1M217.0 680.4h1.1M223.6 672.0h1.1M209.9 660.7h1.1M209.7 671.7h1.1M212.9 676.5h1.1M218.0 672.6h1.1M218.9 676.8h1.1M206.5 674.7h1.1M215.6 680.1h1.1M216.8 668.8h1.1M213.6 676.7h1.1M215.4 675.4h1.1M210.0 674.7h1.1M211.6 685.7h1.1M222.7 663.8h1.1M210.7 661.9h1.1M215.7 679.0h1.1M224.8 655.8h1.1M220.7 673.7h1.1M221.2 677.4h1.1M210.0 672.1h1.1M206.7 671.1h1.1M210.8 678.1h1.1M216.7 671.3h1.1M219.8 683.5h1.1M214.0 668.8h1.1M211.0 678.8h1.1M216.6 685.0h1.1M209.4 674.6h1.1M211.4 683.5h1.1M222.5 667.6h1.1M226.8 663.3h1.1M216.6 682.6h1.1M224.3 678.0h1.1M212.9 682.9h1.1M211.5 683.0h1.1M207.4 680.9h1.1M216.5 675.2h1.1M229.0 684.9h1.1M216.4 668.8h1.1M221.9 658.3h1.1M224.2 681.7h1.1M223.8 674.3h1.1M212.5 678.5h1.1M206.4 692.9h1.1M222.2 688.7h1.1M219.7 661.7h1.1M207.8 674.9h1.1M226.5 662.9h1.1M211.4 673.9h1.1M210.6 668.2h1.1M211.4 666.4h1.1M206.8 678.0h1.1M212.6 664.3h1.1M219.2 664.8h1.1M220.2 676.3h1.1M219.6 673.8h1.1M208.3 682.7h1.1M216.0 662.8h1.1M208.9 681.1h1.1M222.6 673.9h1.1M214.5 678.3h1.1M207.8 677.4h1.1M218.3 667.5h1.1M212.6 673.0h1.1M209.1 666.0h1.1M216.0 674.3h1.1M219.6 666.1h1.1M215.8 682.0h1.1M207.5 679.6h1.1M213.4 699.1h1.1M222.8 665.6h1.1M216.1 666.9h1.1M217.7 684.1h1.1M207.6 681.3h1.1M210.7 675.1h1.1M217.5 681.9h1.1M213.4 664.9h1.1M213.4 661.7h1.1M215.5 672.5h1.1M226.7 672.2h1.1M224.2 676.1h1.1M224.7 684.0h1.1M215.5 685.5h1.1M205.2 679.8h1.1M213.4 675.3h1.1M209.4 665.9h1.1M231.9 679.5h1.1M212.2 671.5h1.1M213.4 660.4h1.1M211.5 660.8h1.1M213.5 667.0h1.1M214.5 667.5h1.1M219.2 691.7h1.1M214.5 677.7h1.1M214.8 672.4h1.1M212.4 674.3h1.1M218.6 668.7h1.1M207.8 667.0h1.1M211.9 670.4h1.1M217.6 681.9h1.1M205.5 677.8h1.1M213.7 681.2h1.1M211.8 666.5h1.1M218.6 671.6h1.1M208.0 665.1h1.1M217.7 673.2h1.1M218.7 682.0h1.1M209.7 675.3h1.1M210.8 681.6h1.1M208.0 684.9h1.1M205.8 686.2h1.1M206.5 667.7h1.1M218.5 676.7h1.1M215.7 682.3h1.1M211.0 679.0h1.1M213.0 674.8h1.1M212.4 675.8h1.1M225.4 676.8h1.1M219.9 678.7h1.1M209.1 669.0h1.1M218.2 677.4h1.1M207.7 661.6h1.1M205.2 681.0h1.1M214.9 694.7h1.1M207.1 681.0h1.1M205.0 670.7h1.1M205.5 672.4h1.1M215.2 669.7h1.1M214.3 669.0h1.1M218.6 661.8h1.1M226.7 678.4h1.1M220.0 666.3h1.1M206.4 673.0h1.1M225.3 675.9h1.1M213.3 662.9h1.1M215.2 663.7h1.1M213.8 685.7h1.1M215.5 667.5h1.1M210.5 668.2h1.1M215.1 683.3h1.1M227.0 679.7h1.1M210.2 676.0h1.1M210.7 675.7h1.1M207.5 667.0h1.1M215.1 665.7h1.1M210.9 684.0h1.1M210.5 693.9h1.1M207.7 680.4h1.1M208.2 671.7h1.1M208.8 671.9h1.1M209.2 664.3h1.1M210.5 664.9h1.1M216.2 665.8h1.1M207.3 682.2h1.1M216.0 664.2h1.1M205.7 680.8h1.1M230.4 662.1h1.1M209.4 667.0h1.1M229.1 670.0h1.1M213.9 668.6h1.1M214.3 669.8h1.1M219.6 675.2h1.1M215.4 683.8h1.1M210.5 667.6h1.1M208.6 669.9h1.1M219.1 669.7h1.1M226.7 676.1h1.1M219.8 667.1h1.1M208.9 678.5h1.1M226.9 683.6h1.1M228.1 666.2h1.1M221.4 675.9h1.1M217.3 678.7h1.1M215.0 677.4h1.1M207.8 662.9h1.1M214.9 671.6h1.1M208.5 677.4h1.1M211.4 681.5h1.1M210.9 680.4h1.1M220.5 675.1h1.1M205.3 684.9h1.1M215.2 676.7h1.1M216.4 676.6h1.1M209.9 683.1h1.1M212.4 677.2h1.1M210.0 680.9h1.1M218.0 673.7h1.1M217.2 663.1h1.1M213.2 661.2h1.1M221.5 681.8h1.1M223.0 675.3h1.1M213.2 670.3h1.1M212.3 676.9h1.1M211.7 685.2h1.1M219.3 679.6h1.1M228.1 681.3h1.1M209.3 682.5h1.1M209.8 673.3h1.1M216.7 674.9h1.1M217.6 680.8h1.1M209.8 663.2h1.1M218.6 676.2h1.1M223.0 662.3h1.1M206.2 677.0h1.1M222.1 672.9h1.1M222.2 677.3h1.1M208.0 676.4h1.1M210.4 681.8h1.1M209.5 683.9h1.1M207.4 681.6h1.1M208.5 669.5h1.1M206.3 668.8h1.1M207.3 668.6h1.1M211.9 684.1h1.1M205.7 664.2h1.1M212.0 671.6h1.1M217.3 681.7h1.1M211.4 676.6h1.1M221.9 675.5h1.1M212.5 673.2h1.1M207.0 689.2h1.1M211.4 685.7h1.1M220.0 670.3h1.1M212.2 670.9h1.1M206.4 681.6h1.1M217.5 675.3h1.1M213.5 668.2h1.1M224.3 674.4h1.1M206.0 676.9h1.1M226.5 687.1h1.1M220.9 682.8h1.1M215.1 671.5h1.1M220.5 674.5h1.1M223.7 671.9h1.1M222.8 682.5h1.1M220.7 692.2h1.1M225.3 679.4h1.1M218.1 678.1h1.1M213.1 677.0h1.1M226.3 664.8h1.1M216.5 665.3h1.1M218.2 672.4h1.1M205.6 674.3h1.1M215.0 672.6h1.1M210.4 676.1h1.1M215.7 666.9h1.1M214.7 686.4h1.1M205.6 669.0h1.1M217.5 672.3h1.1M205.6 676.8h1.1M208.5 686.0h1.1M219.7 672.6h1.1M209.9 682.8h1.1M216.6 683.5h1.1M209.2 675.9h1.1M224.5 676.5h1.1M215.2 675.1h1.1M206.8 680.3h1.1M205.0 675.4h1.1M222.6 662.7h1.1M216.3 675.0h1.1M227.8 681.6h1.1M212.0 680.9h1.1M210.8 679.5h1.1M213.8 664.4h1.1M209.9 671.3h1.1M209.3 664.5h1.1M210.1 672.0h1.1M207.7 662.9h1.1M206.5 687.8h1.1M220.1 686.3h1.1M219.3 673.4h1.1M207.2 671.3h1.1M209.5 683.2h1.1M211.3 677.7h1.1M228.1 678.4h1.1M220.1 670.2h1.1M223.5 681.0h1.1M220.7 682.7h1.1M211.6 679.2h1.1M206.8 681.0h1.1M209.0 674.2h1.1M220.2 675.5h1.1M222.3 669.1h1.1M206.3 679.1h1.1M220.2 677.8h1.1M215.1 681.2h1.1M215.3 659.8h1.1M216.5 680.6h1.1M217.4 670.5h1.1M222.2 671.0h1.1M207.2 682.2h1.1M215.0 669.3h1.1M205.0 671.8h1.1M211.1 680.3h1.1M210.0 685.9h1.1M215.3 677.8h1.1M210.1 678.6h1.1M212.2 682.3h1.1M219.0 681.4h1.1M216.2 671.6h1.1M208.2 680.6h1.1M215.1 682.7h1.1M206.1 674.1h1.1M218.0 665.3h1.1M212.1 682.5h1.1M213.7 683.4h1.1M205.7 665.3h1.1M215.3 690.0h1.1M222.1 677.3h1.1M206.8 665.7h1.1M206.8 675.9h1.1M208.9 679.4h1.1M207.3 674.8h1.1M212.2 670.2h1.1M205.0 680.2h1.1M207.8 675.3h1.1M212.0 678.6h1.1M208.7 671.8h1.1M217.5 673.0h1.1M227.8 679.9h1.1M205.2 675.7h1.1M218.2 673.6h1.1M208.1 666.0h1.1M205.4 675.2h1.1M209.6 680.7h1.1M207.6 674.2h1.1M229.7 660.3h1.1M216.0 665.5h1.1M217.8 664.9h1.1M218.2 684.6h1.1M207.8 660.6h1.1M208.4 671.2h1.1M220.6 672.5h1.1M228.6 674.2h1.1M205.2 670.9h1.1M223.5 689.0h1.1M210.7 667.6h1.1M208.7 684.6h1.1M208.9 662.6h1.1M208.7 672.6h1.1M210.1 679.5h1.1M213.8 682.0h1.1M234.8 676.6h1.1M225.4 663.8h1.1M207.9 674.9h1.1M219.9 674.0h1.1M215.4 680.6h1.1M221.4 663.6h1.1M222.8 676.8h1.1M208.4 679.6h1.1M206.2 672.3h1.1M216.5 679.2h1.1M215.4 676.5h1.1M226.0 686.8h1.1M220.0 686.5h1.1M215.3 671.0h1.1M208.3 680.7h1.1M225.2 671.1h1.1M211.2 671.7h1.1M208.6 669.9h1.1M211.5 670.1h1.1M216.0 667.1h1.1M217.6 675.9h1.1M210.9 677.4h1.1M209.2 667.2h1.1M210.6 683.0h1.1M209.8 681.6h1.1M205.6 684.0h1.1M208.3 680.6h1.1M222.1 666.0h1.1M218.0 665.1h1.1M213.5 678.1h1.1M221.6 685.3h1.1M212.1 680.4h1.1M221.3 673.5h1.1M210.9 663.6h1.1M223.8 676.4h1.1M215.9 668.1h1.1M208.3 669.1h1.1M212.3 685.2h1.1M212.3 666.5h1.1M209.2 665.4h1.1M205.8 670.7h1.1M213.5 675.4h1.1M210.9 666.0h1.1M228.0 670.6h1.1M219.6 673.4h1.1M210.9 671.4h1.1M224.6 664.2h1.1M207.8 681.6h1.1M218.4 676.1h1.1M213.8 678.1h1.1M207.3 672.8h1.1M215.5 673.5h1.1M232.0 677.4h1.1M226.1 672.8h1.1M205.4 675.5h1.1M210.1 665.5h1.1M207.1 666.7h1.1M215.4 675.0h1.1M208.9 674.0h1.1M215.9 676.9h1.1M223.8 680.7h1.1M210.9 671.5h1.1M219.3 667.6h1.1M223.3 688.2h1.1M215.3 681.8h1.1M218.6 666.8h1.1M209.3 664.6h1.1M218.1 681.3h1.1M216.1 682.7h1.1M210.1 685.0h1.1M211.8 667.2h1.1M209.4 673.6h1.1M209.2 675.6h1.1M224.6 680.7h1.1M218.3 669.5h1.1M209.0 678.0h1.1M218.4 664.9h1.1M214.7 676.2h1.1M208.2 668.8h1.1M228.5 671.0h1.1M211.6 673.8h1.1M216.1 676.9h1.1M226.3 662.4h1.1M220.8 665.6h1.1M211.0 681.7h1.1M211.3 662.7h1.1M205.4 684.0h1.1M237.1 670.6h1.1M214.7 669.7h1.1M215.8 674.6h1.1M212.9 681.8h1.1M208.3 681.3h1.1M209.6 668.3h1.1M208.5 680.1h1.1M214.4 674.6h1.1M213.1 673.1h1.1M216.1 679.3h1.1M217.4 682.3h1.1M227.3 683.7h1.1M207.6 677.6h1.1M213.0 667.3h1.1M223.3 675.5h1.1M207.9 676.7h1.1M221.4 662.3h1.1M206.8 664.7h1.1M207.2 668.5h1.1M209.9 671.6h1.1M229.6 670.5h1.1M227.5 667.5h1.1M212.0 672.5h1.1M215.8 667.7h1.1M221.5 672.9h1.1M207.5 667.4h1.1M209.5 684.4h1.1M205.6 682.3h1.1M208.2 664.0h1.1M209.2 665.2h1.1M215.0 680.6h1.1M206.6 682.2h1.1M241.9 668.8h1.1M220.8 673.5h1.1M226.0 678.0h1.1M247.0 670.9h1.1M234.0 686.8h1.1M226.2 669.6h1.1M246.1 691.2h1.1M214.5 664.2h1.1M274.4 684.9h1.1M237.0 680.9h1.1M250.8 681.0h1.1M211.0 672.9h1.1M257.4 698.8h1.1M234.4 683.3h1.1M230.2 671.5h1.1M209.8 674.6h1.1M234.4 690.9h1.1M237.7 665.1h1.1M224.3 658.3h1.1M213.9 687.7h1.1M205.6 683.0h1.1M207.1 691.5h1.1M224.0 685.2h1.1M212.3 680.7h1.1M257.7 655.8h1.1M232.1 692.6h1.1M235.0 658.5h1.1M268.2 678.7h1.1M228.9 682.4h1.1M232.3 683.6h1.1M233.0 671.9h1.1M255.7 682.5h1.1M260.4 680.7h1.1M229.2 680.4h1.1M222.8 678.0h1.1M241.0 675.6h1.1M221.1 681.6h1.1M218.1 687.0h1.1M232.9 671.6h1.1M238.0 677.0h1.1M210.5 678.1h1.1M249.3 699.4h1.1M210.2 679.3h1.1M235.7 686.7h1.1M219.9 689.7h1.1M221.9 683.7h1.1M219.2 688.6h1.1M241.5 699.6h1.1M238.9 691.7h1.1M224.9 669.0h1.1M244.1 680.8h1.1M231.9 687.9h1.1M238.1 679.1h1.1M222.4 700.0h1.1M226.3 663.3h1.1M209.8 667.0h1.1M212.3 680.1h1.1M222.2 675.1h1.1M227.3 685.8h1.1M224.1 683.9h1.1M223.2 681.6h1.1M220.8 684.5h1.1M225.9 673.1h1.1M235.6 691.1h1.1M210.4 673.0h1.1M232.7 689.1h1.1M242.6 677.3h1.1M211.6 665.3h1.1M218.4 660.0h1.1M206.9 694.3h1.1M216.4 671.8h1.1M214.2 663.1h1.1M251.2 678.4h1.1M229.3 663.9h1.1M249.9 687.2h1.1M221.8 678.4h1.1M224.5 654.4h1.1M222.1 670.5h1.1M220.8 668.5h1.1M268.6 680.2h1.1M245.2 680.7h1.1M227.2 668.8h1.1M217.2 677.6h1.1M240.4 660.6h1.1M229.9 686.6h1.1M219.9 687.9h1.1M238.3 673.7h1.1M229.4 694.1h1.1M212.2 671.9h1.1M227.9 663.2h1.1M237.0 659.0h1.1M237.2 691.4h1.1M221.9 682.5h1.1M215.1 669.6h1.1M223.5 683.0h1.1M234.6 673.5h1.1M229.6 696.0h1.1M243.5 679.5h1.1M218.8 671.9h1.1M223.9 685.4h1.1M221.6 673.4h1.1M231.2 677.4h1.1M206.6 681.6h1.1M245.9 688.6h1.1M220.2 680.5h1.1M248.0 674.8h1.1M248.8 680.9h1.1M228.9 671.3h1.1M234.2 673.2h1.1M224.2 690.6h1.1M234.4 677.9h1.1M210.6 667.2h1.1M240.8 671.9h1.1M229.1 681.5h1.1M221.2 692.6h1.1M238.0 677.0h1.1M248.3 676.1h1.1M242.2 666.1h1.1M231.8 679.2h1.1M246.0 678.1h1.1M228.7 674.6h1.1M229.5 663.7h1.1M227.4 668.0h1.1M252.7 657.8h1.1M233.6 683.5h1.1M247.7 667.2h1.1M241.9 675.7h1.1M224.6 662.1h1.1M222.2 683.2h1.1M249.1 670.3h1.1M235.2 670.9h1.1M221.4 687.5h1.1M245.4 678.1h1.1M219.4 680.4h1.1M221.7 683.2h1.1M218.9 685.6h1.1M269.6 693.1h1.1M241.1 674.0h1.1M212.1 677.4h1.1M240.2 676.7h1.1M253.0 679.5h1.1M219.3 674.8h1.1M215.4 685.2h1.1M243.0 688.1h1.1M234.6 674.1h1.1M250.1 674.6h1.1M221.9 672.7h1.1M232.8 674.0h1.1M214.5 691.1h1.1M206.4 690.5h1.1M207.9 685.8h1.1M208.8 658.8h1.1M251.6 672.0h1.1M240.1 690.0h1.1M226.8 667.8h1.1M223.0 670.3h1.1M222.4 683.1h1.1M245.6 671.0h1.1M224.7 676.4h1.1M222.5 678.1h1.1M216.7 675.2h1.1M211.0 665.7h1.1M224.3 671.1h1.1M233.0 696.5h1.1M232.3 684.6h1.1M209.7 663.7h1.1M209.0 654.9h1.1M226.8 689.7h1.1M240.4 666.0h1.1M240.5 693.7h1.1M225.7 664.9h1.1M208.5 680.7h1.1M235.5 665.9h1.1M229.7 671.7h1.1M215.3 686.5h1.1M206.7 688.4h1.1M215.6 691.2h1.1M243.6 697.4h1.1M246.1 712.5h1.1M219.0 689.5h1.1M227.7 677.3h1.1M250.8 682.0h1.1M216.2 672.8h1.1M220.7 683.1h1.1M230.3 671.4h1.1M231.5 673.5h1.1M239.2 682.6h1.1M222.9 691.0h1.1M216.2 698.5h1.1M238.5 671.1h1.1M224.9 678.6h1.1M208.7 697.8h1.1M239.4 686.7h1.1M219.7 682.2h1.1M229.2 661.5h1.1M246.1 667.1h1.1M236.1 680.4h1.1M239.0 670.9h1.1M260.9 694.2h1.1M237.7 683.1h1.1M261.0 682.6h1.1M230.6 692.7h1.1M225.1 665.1h1.1M218.6 682.3h1.1M246.4 664.4h1.1M237.3 695.3h1.1M241.4 668.2h1.1M238.6 669.6h1.1M238.2 689.5h1.1M208.4 674.9h1.1M223.0 675.4h1.1M218.3 671.0h1.1M209.8 682.7h1.1M230.2 687.8h1.1M206.7 689.1h1.1M221.3 676.3h1.1M248.2 684.7h1.1M222.5 678.4h1.1M221.4 703.9h1.1M237.3 681.1h1.1M229.6 697.1h1.1M243.5 676.6h1.1M234.0 664.0h1.1M211.5 674.7h1.1M238.3 681.3h1.1M217.1 668.6h1.1M237.3 700.1h1.1M207.6 683.9h1.1M205.6 667.0h1.1M249.8 683.6h1.1M220.8 698.3h1.1M220.9 689.1h1.1M215.5 672.9h1.1M248.3 672.5h1.1M232.4 676.4h1.1M223.5 668.1h1.1M237.5 676.8h1.1M231.0 675.5h1.1M243.2 667.3h1.1M216.7 697.5h1.1M232.9 648.6h1.1M214.0 673.8h1.1M235.8 653.8h1.1M217.8 675.9h1.1M222.1 663.9h1.1M251.5 672.0h1.1M213.9 673.1h1.1M213.3 676.6h1.1M239.5 679.8h1.1M230.8 661.8h1.1M231.6 668.5h1.1M211.9 659.8h1.1M237.3 693.3h1.1M222.9 697.7h1.1M240.9 672.3h1.1M210.1 660.1h1.1M212.8 689.9h1.1M208.9 689.1h1.1M212.7 687.4h1.1M209.3 679.3h1.1M231.9 666.5h1.1M215.9 678.8h1.1M215.6 674.7h1.1M211.8 695.0h1.1M225.8 698.2h1.1M225.6 674.8h1.1M222.7 674.4h1.1M247.6 685.4h1.1M233.8 675.4h1.1M227.6 676.4h1.1M206.8 671.1h1.1M244.7 684.1h1.1M226.1 677.9h1.1M233.1 659.1h1.1M217.5 686.9h1.1M211.9 682.3h1.1M238.3 683.9h1.1M242.6 669.8h1.1M214.9 687.7h1.1M245.0 692.3h1.1M228.8 686.1h1.1M236.6 693.5h1.1M221.7 675.1h1.1M216.2 658.0h1.1M230.1 671.0h1.1M229.7 672.1h1.1M210.8 673.1h1.1M214.5 681.6h1.1M234.4 694.8h1.1M236.1 689.2h1.1M253.0 668.4h1.1M223.2 693.4h1.1M226.6 659.6h1.1M210.9 690.2h1.1M256.8 682.6h1.1M228.2 687.5h1.1M231.8 691.1h1.1M245.6 683.1h1.1M236.3 680.4h1.1M211.5 681.0h1.1M218.9 673.7h1.1M243.3 676.6h1.1M229.7 664.1h1.1M216.0 682.5h1.1M220.5 687.9h1.1M242.0 685.4h1.1M221.7 679.4h1.1M242.9 665.7h1.1M241.5 676.3h1.1M207.1 682.3h1.1M222.4 676.1h1.1M230.2 691.0h1.1M228.5 682.6h1.1M220.4 685.4h1.1M214.8 689.3h1.1M219.8 671.8h1.1M226.7 687.2h1.1M224.7 685.1h1.1M251.8 690.3h1.1M230.5 675.0h1.1M236.7 689.8h1.1M234.5 655.9h1.1M219.2 689.1h1.1M238.5 668.9h1.1M215.0 672.4h1.1M241.8 668.7h1.1M235.3 676.4h1.1M216.1 688.9h1.1M238.2 654.8h1.1M217.3 675.8h1.1M237.8 689.7h1.1M207.7 664.3h1.1M228.0 678.6h1.1M246.5 685.5h1.1M215.3 671.1h1.1M211.3 677.2h1.1M232.6 671.4h1.1M222.8 678.3h1.1M215.4 666.9h1.1M216.3 673.3h1.1M216.7 681.9h1.1M221.4 677.8h1.1M216.3 666.5h1.1M216.1 678.1h1.1M245.3 685.4h1.1M214.6 676.4h1.1M242.5 671.9h1.1M226.4 672.8h1.1M231.0 692.1h1.1M215.5 689.9h1.1M232.9 681.0h1.1M235.1 669.2h1.1M224.9 675.7h1.1M223.3 661.5h1.1M266.6 661.2h1.1M236.8 669.4h1.1M226.2 676.0h1.1M217.1 679.6h1.1M224.7 687.1h1.1M234.1 675.8h1.1M207.9 689.8h1.1M216.2 668.6h1.1M232.1 695.8h1.1M222.2 665.3h1.1M239.5 680.0h1.1M217.7 685.7h1.1M227.1 676.5h1.1M225.7 676.6h1.1M231.5 677.4h1.1M231.1 691.7h1.1M221.3 707.9h1.1M217.5 667.8h1.1M218.8 677.7h1.1M233.5 670.3h1.1M209.4 703.6h1.1M246.0 682.1h1.1M233.3 688.4h1.1M252.0 676.7h1.1M226.1 667.6h1.1M234.7 690.5h1.1M230.4 672.9h1.1M269.9 672.6h1.1M240.1 700.3h1.1M249.2 679.2h1.1M215.3 678.1h1.1M225.8 681.2h1.1M217.0 672.8h1.1M218.9 664.9h1.1M213.8 670.2h1.1M226.6 665.5h1.1M209.6 668.5h1.1M238.0 679.2h1.1M226.6 684.7h1.1M235.6 690.9h1.1M213.3 698.5h1.1M231.6 684.5h1.1M265.6 674.9h1.1M240.1 679.7h1.1M235.1 678.9h1.1M239.4 669.3h1.1M246.1 668.3h1.1M247.7 680.6h1.1M216.6 679.4h1.1M218.6 694.0h1.1M230.0 666.5h1.1M250.1 680.1h1.1M240.3 706.3h1.1M218.0 678.1h1.1M235.2 680.3h1.1M234.3 670.4h1.1M218.8 678.1h1.1M215.2 673.1h1.1M209.1 684.1h1.1M252.8 669.1h1.1M228.1 690.2h1.1M242.4 679.8h1.1M229.3 676.0h1.1M222.3 681.6h1.1M251.1 668.8h1.1M223.2 674.0h1.1M238.6 675.5h1.1M229.7 676.1h1.1M214.4 673.1h1.1M217.0 671.9h1.1M235.1 688.2h1.1M218.8 678.4h1.1M245.9 681.0h1.1M219.3 681.6h1.1M235.8 677.3h1.1M226.0 678.0h1.1M223.4 691.9h1.1M232.8 680.8h1.1M220.0 667.6h1.1M214.3 671.3h1.1M214.7 698.1h1.1M228.4 684.5h1.1M228.1 674.3h1.1M244.4 692.3h1.1M230.6 676.5h1.1M238.8 662.0h1.1M240.1 673.5h1.1M222.5 688.0h1.1M242.8 674.5h1.1M215.9 697.0h1.1M221.7 679.4h1.1M242.9 699.5h1.1M217.7 684.1h1.1M247.5 698.6h1.1M247.1 686.0h1.1M211.4 682.8h1.1M231.4 667.5h1.1M247.3 674.3h1.1M213.2 659.0h1.1M213.2 664.6h1.1M229.6 677.5h1.1M238.3 671.2h1.1M223.8 688.7h1.1M231.5 678.0h1.1M230.5 683.4h1.1M232.1 688.8h1.1M231.6 667.7h1.1M209.9 685.2h1.1M216.7 674.5h1.1M211.6 681.6h1.1M247.1 668.4h1.1M212.8 673.5h1.1M239.6 694.8h1.1M211.6 674.6h1.1M229.1 649.9h1.1M229.7 670.5h1.1M230.1 666.3h1.1M221.5 672.0h1.1M220.2 661.3h1.1M223.6 684.0h1.1M269.9 685.0h1.1M246.9 682.7h1.1M212.1 692.7h1.1M221.8 688.6h1.1M204.9 665.9h1.1M252.0 685.2h1.1M238.0 685.6h1.1M221.4 664.5h1.1M206.0 672.3h1.1M208.1 683.4h1.1M217.7 685.3h1.1M216.9 680.4h1.1M218.8 677.2h1.1M221.0 666.9h1.1M227.8 674.1h1.1M223.4 687.6h1.1M235.0 680.0h1.1M236.7 692.5h1.1M241.7 684.0h1.1M230.2 660.4h1.1M210.9 692.2h1.1M210.7 683.3h1.1M222.6 669.2h1.1M229.6 675.8h1.1M232.4 681.1h1.1M225.3 686.0h1.1M219.4 687.0h1.1M223.7 670.6h1.1M215.4 679.3h1.1M230.8 674.7h1.1M242.4 671.1h1.1M204.9 693.6h1.1M232.5 696.5h1.1M210.6 673.6h1.1M209.0 668.0h1.1M219.5 678.1h1.1M255.0 669.7h1.1M233.8 694.4h1.1M220.6 681.6h1.1M243.4 683.7h1.1M225.7 683.8h1.1M231.7 673.0h1.1M207.1 706.3h1.1M207.5 683.6h1.1M239.1 667.4h1.1M247.1 682.1h1.1M223.7 690.2h1.1M227.4 675.0h1.1M215.0 692.5h1.1M250.2 669.3h1.1M247.3 686.3h1.1M224.5 663.9h1.1M220.1 674.7h1.1M242.7 691.3h1.1M230.0 679.9h1.1M209.3 679.8h1.1M261.4 672.3h1.1M237.2 693.3h1.1M210.7 669.2h1.1M243.9 688.5h1.1M238.1 697.9h1.1M244.7 680.7h1.1M205.1 686.7h1.1M227.2 677.9h1.1M213.1 662.0h1.1M221.5 679.9h1.1M220.9 660.6h1.1M231.1 656.8h1.1M207.7 657.2h1.1M241.3 675.9h1.1M217.2 664.0h1.1M231.1 664.1h1.1M222.7 664.6h1.1M229.3 678.3h1.1M236.9 664.2h1.1M218.4 667.5h1.1M238.9 675.0h1.1M217.3 687.7h1.1M230.9 671.4h1.1M222.5 673.4h1.1M213.0 693.1h1.1M210.7 690.3h1.1M213.2 665.1h1.1M216.1 680.7h1.1M245.3 669.7h1.1M207.9 681.4h1.1M234.2 692.0h1.1M267.8 685.5h1.1M209.2 702.7h1.1M231.5 672.7h1.1M236.6 693.5h1.1M225.0 655.5h1.1M227.2 687.1h1.1M235.7 676.3h1.1M264.7 689.3h1.1M213.0 694.2h1.1M233.0 678.9h1.1M227.7 685.9h1.1M259.5 653.3h1.1M250.1 681.1h1.1M257.0 703.8h1.1M234.1 678.2h1.1M231.3 687.9h1.1M225.6 683.7h1.1M218.8 686.9h1.1M211.9 688.7h1.1M230.7 696.3h1.1M237.5 676.0h1.1M230.1 678.3h1.1M233.5 679.1h1.1M270.2 682.1h1.1M223.6 661.2h1.1M207.3 686.0h1.1M246.3 683.7h1.1M208.3 660.8h1.1M226.9 675.0h1.1M229.6 684.3h1.1M216.0 687.2h1.1M209.5 683.6h1.1M229.5 681.5h1.1M205.9 679.4h1.1M231.1 662.4h1.1M232.8 693.1h1.1M206.3 677.1h1.1M236.7 671.1h1.1M228.6 670.9h1.1M212.7 681.0h1.1M216.4 686.4h1.1M227.3 674.4h1.1M236.5 671.2h1.1M234.8 679.6h1.1M210.5 682.6h1.1M222.9 663.9h1.1M238.0 680.9h1.1M224.5 679.4h1.1M222.1 663.5h1.1M220.0 678.2h1.1M229.7 678.1h1.1M227.0 680.7h1.1M223.2 661.6h1.1M241.5 678.7h1.1M222.2 663.0h1.1M215.9 669.7h1.1M243.3 677.5h1.1M220.7 667.6h1.1M210.5 684.4h1.1M217.1 657.2h1.1M217.6 686.2h1.1M206.5 674.4h1.1M232.0 668.0h1.1M222.8 674.6h1.1M225.2 664.9h1.1M240.9 662.5h1.1M224.3 690.2h1.1M219.9 681.5h1.1M241.2 672.4h1.1M247.3 676.2h1.1M228.6 680.3h1.1M210.4 673.5h1.1M232.6 686.8h1.1M205.6 683.9h1.1M245.7 665.4h1.1M228.7 674.8h1.1M209.6 662.9h1.1M255.1 701.5h1.1M241.6 690.4h1.1M218.9 692.0h1.1M216.2 675.3h1.1M228.3 661.0h1.1M208.3 693.3h1.1M241.6 679.4h1.1M223.8 663.8h1.1M230.1 689.7h1.1M255.9 654.3h1.1M226.5 690.8h1.1M217.4 687.5h1.1M224.8 701.6h1.1M217.3 704.9h1.1M216.8 711.7h1.1M206.3 696.9h1.1M208.8 698.1h1.1M209.5 698.0h1.1M222.3 702.9h1.1M233.1 701.1h1.1M238.8 702.1h1.1M224.9 706.8h1.1M216.8 701.4h1.1M224.6 694.4h1.1M232.0 695.0h1.1M215.7 712.4h1.1M250.6 696.2h1.1M216.6 703.3h1.1M223.2 698.3h1.1M235.2 703.4h1.1M210.6 708.0h1.1M225.2 691.4h1.1M220.1 691.7h1.1M213.0 697.7h1.1M211.2 710.3h1.1M221.3 712.9h1.1M214.3 698.5h1.1M222.0 697.8h1.1M210.1 711.7h1.1M211.3 704.1h1.1M214.6 697.4h1.1M239.7 691.7h1.1M209.3 694.0h1.1M224.4 695.2h1.1M211.1 711.7h1.1M214.1 692.9h1.1M219.7 702.5h1.1M218.7 703.7h1.1M233.3 701.0h1.1M227.3 700.0h1.1M207.8 694.6h1.1M217.6 713.8h1.1M205.1 713.1h1.1M226.3 703.4h1.1M223.5 694.4h1.1M222.8 711.7h1.1M238.8 699.2h1.1M215.8 704.6h1.1M232.0 691.9h1.1M212.5 695.9h1.1M205.4 709.3h1.1M210.8 690.9h1.1M210.7 692.7h1.1M239.0 710.1h1.1M211.8 696.5h1.1M216.1 701.7h1.1M205.9 702.4h1.1M248.4 704.2h1.1M244.3 703.8h1.1M242.4 700.5h1.1M212.3 691.0h1.1M225.8 692.9h1.1M228.7 705.7h1.1M228.1 704.7h1.1M223.6 694.5h1.1M241.5 706.7h1.1M214.7 704.7h1.1M225.8 698.0h1.1M258.2 712.3h1.1M218.3 695.4h1.1M240.5 709.2h1.1M218.7 702.3h1.1M244.6 707.7h1.1M234.5 701.4h1.1M214.3 707.2h1.1M220.8 704.1h1.1M218.7 700.4h1.1M241.9 693.0h1.1M219.6 706.8h1.1M205.1 692.8h1.1M229.4 691.2h1.1M212.1 694.0h1.1M217.4 706.5h1.1M212.6 700.0h1.1M237.4 700.1h1.1M210.6 697.1h1.1M211.9 699.3h1.1M215.1 708.8h1.1M212.2 706.8h1.1M218.8 709.4h1.1M227.5 703.7h1.1M216.3 695.4h1.1M235.9 697.3h1.1M242.1 711.6h1.1M230.8 707.7h1.1M229.9 697.9h1.1M235.0 702.1h1.1M208.6 700.1h1.1M210.9 698.6h1.1M227.7 698.1h1.1M233.7 708.6h1.1M208.2 697.5h1.1M234.3 708.9h1.1M222.3 705.0h1.1M207.2 707.6h1.1M231.9 709.8h1.1M223.6 707.3h1.1M206.2 712.6h1.1M222.5 692.3h1.1M234.9 705.1h1.1M225.8 691.8h1.1M213.4 708.9h1.1M211.1 704.9h1.1M213.8 692.2h1.1M213.5 708.0h1.1M216.5 704.3h1.1M212.1 701.7h1.1M239.4 710.3h1.1M212.0 698.1h1.1M234.5 702.7h1.1M210.2 702.2h1.1M235.7 695.3h1.1M234.2 712.4h1.1M208.6 692.0h1.1M217.9 705.7h1.1M223.0 695.0h1.1M207.0 698.3h1.1M230.9 696.4h1.1M211.9 699.1h1.1M213.5 696.2h1.1M211.1 696.8h1.1M206.7 709.1h1.1M223.1 694.0h1.1M209.5 710.6h1.1M229.1 710.5h1.1M219.6 709.3h1.1M209.8 703.2h1.1M215.8 692.4h1.1M228.2 711.3h1.1M235.1 691.2h1.1M211.7 711.4h1.1M220.1 702.7h1.1M214.7 705.9h1.1M220.2 698.0h1.1M228.2 700.4h1.1M235.7 708.3h1.1M219.7 701.8h1.1M210.8 703.6h1.1M223.0 708.1h1.1M243.1 708.9h1.1M219.4 709.5h1.1M234.6 713.1h1.1M209.4 711.2h1.1M206.7 711.8h1.1M218.8 707.2h1.1M233.5 711.5h1.1M215.0 698.5h1.1M223.0 697.3h1.1M227.6 691.1h1.1M220.5 693.5h1.1M225.5 697.7h1.1M224.1 691.7h1.1M226.5 693.9h1.1M206.0 693.5h1.1M246.6 713.5h1.1M212.8 695.3h1.1M208.9 705.5h1.1M234.7 706.8h1.1M224.0 693.4h1.1M209.9 698.3h1.1M233.8 697.1h1.1M237.4 692.5h1.1M230.8 652.8h1.1M225.2 632.4h1.1M245.4 648.0h1.1M241.7 640.8h1.1M196.8 621.3h1.1M229.3 620.9h1.1M218.9 632.0h1.1M211.7 627.5h1.1M251.7 641.1h1.1M221.9 630.7h1.1M225.5 622.4h1.1M244.5 631.7h1.1M196.2 637.0h1.1M205.7 616.3h1.1M211.7 606.9h1.1M195.1 640.6h1.1M224.0 643.5h1.1M196.7 635.3h1.1M224.6 630.9h1.1M219.4 652.4h1.1M219.4 635.7h1.1M229.8 650.1h1.1M210.9 649.5h1.1M234.7 651.1h1.1M210.4 641.9h1.1M218.7 632.3h1.1M216.7 640.9h1.1M236.3 642.7h1.1M223.3 650.2h1.1M198.5 636.9h1.1M262.0 634.6h1.1M246.4 650.6h1.1M221.1 632.6h1.1M233.9 631.1h1.1M199.2 639.7h1.1M237.4 629.2h1.1M205.8 642.5h1.1M234.5 621.8h1.1M221.4 636.5h1.1M194.5 637.0h1.1M228.7 631.4h1.1M217.3 654.4h1.1M208.4 630.5h1.1M216.4 649.5h1.1M237.9 636.0h1.1M223.7 620.6h1.1M208.3 649.9h1.1M208.3 633.2h1.1M214.6 646.7h1.1M200.6 642.2h1.1M207.7 646.3h1.1M260.9 650.2h1.1M215.9 610.2h1.1M249.8 642.2h1.1M213.2 641.2h1.1M218.0 652.3h1.1M216.6 652.1h1.1M193.0 633.7h1.1M229.5 640.4h1.1M209.4 644.6h1.1M225.6 640.1h1.1M223.9 629.1h1.1M192.2 651.9h1.1M196.3 643.6h1.1M191.0 640.6h1.1M217.5 640.7h1.1M242.3 642.7h1.1M247.5 617.4h1.1M231.8 654.6h1.1M203.6 649.6h1.1M195.6 654.3h1.1M253.7 650.2h1.1M223.5 651.4h1.1M199.6 639.4h1.1M194.3 630.0h1.1M268.3 631.7h1.1M233.1 626.4h1.1M223.7 624.1h1.1M221.3 653.8h1.1M213.2 617.0h1.1M238.9 650.6h1.1M233.7 645.6h1.1M251.0 641.5h1.1M233.8 644.9h1.1M223.5 635.9h1.1M238.2 653.2h1.1M231.1 646.1h1.1M217.9 648.4h1.1M252.2 652.6h1.1M234.8 640.4h1.1M197.6 642.0h1.1M245.4 622.5h1.1M220.6 634.5h1.1M229.1 640.2h1.1M199.4 632.7h1.1M242.2 623.6h1.1M213.0 653.7h1.1M213.4 632.9h1.1M190.9 636.9h1.1M221.0 645.5h1.1M225.7 626.8h1.1M196.1 639.4h1.1M205.7 636.1h1.1M228.9 643.0h1.1M189.8 623.3h1.1M252.1 647.3h1.1M277.8 665.3h1.1M292.9 712.0h1.1M256.9 708.8h1.1M304.8 654.3h1.1M257.2 720.6h1.1M270.8 694.6h1.1M265.3 699.1h1.1M280.9 696.5h1.1M250.5 719.1h1.1M284.1 711.2h1.1M293.1 711.1h1.1M295.8 678.8h1.1M271.9 707.7h1.1M288.5 665.3h1.1M281.9 640.6h1.1M271.7 674.1h1.1M283.1 640.5h1.1M297.5 679.9h1.1M289.2 679.2h1.1M297.4 668.8h1.1M275.5 652.4h1.1M304.1 653.9h1.1M299.4 601.3h1.1M273.1 671.6h1.1M286.1 665.2h1.1M295.4 613.2h1.1M305.9 619.8h1.1M295.5 625.6h1.1M307.8 678.6h1.1" stroke="#17703a" stroke-width="1.1" fill="none"/>
<rect x="187.7" y="593.9" width="123.30000000000001" height="143.5" fill="none" stroke="#000" stroke-width="2"/>
<path d="M184.2,737.4H187.7M184.2,701.5H187.7M184.2,665.6H187.7M184.2,629.8H187.7M184.2,593.9H187.7" stroke="#000" stroke-width="1.6"/>
<text x="183.5" y="742.5" font-size="13.7" text-anchor="end">0</text>
<text x="183.5" y="706.6" font-size="13.7" text-anchor="end">1</text>
<text x="183.5" y="670.8" font-size="13.7" text-anchor="end">2</text>
<text x="183.5" y="634.9" font-size="13.7" text-anchor="end">3</text>
<text x="183.5" y="599.0" font-size="13.7" text-anchor="end">4</text>
<path d="M187.7,737.4V740.9M228.8,737.4V740.9M269.9,737.4V740.9M311.0,737.4V740.9" stroke="#000" stroke-width="1.6"/>
<text x="187.7" y="754.8" font-size="13.7" text-anchor="middle">0.1</text>
<text x="228.8" y="754.8" font-size="13.7" text-anchor="middle">1</text>
<text x="269.9" y="754.8" font-size="13.7" text-anchor="middle">10</text>
<text x="311.0" y="754.8" font-size="13.7" text-anchor="middle">100</text>
<text x="253.75" y="769.4" font-size="13.7" text-anchor="middle">Dwell time (ms)</text>
<text transform="translate(170.3,661.2) rotate(-90)" x="0" y="0" font-size="13.7" text-anchor="middle">&#916; <tspan font-style="italic">I</tspan><tspan font-size="9.2" dy="3.1">max</tspan><tspan dy="-3.1"> (nA)</tspan></text>
<text x="341.8" y="544.6" font-size="17" text-anchor="start" >(i)</text>
<polygon points="376.50,648.50 376.50,648.30 377.42,648.30 377.42,648.30 378.34,648.30 378.34,648.30 379.27,648.30 379.27,648.30 380.19,648.30 380.19,648.30 381.11,648.30 381.11,648.28 382.03,648.28 382.03,648.29 382.95,648.29 382.95,648.28 383.88,648.28 383.88,648.30 384.80,648.30 384.80,648.29 385.72,648.29 385.72,648.30 386.64,648.30 386.64,648.30 387.56,648.30 387.56,648.28 388.49,648.28 388.49,648.28 389.41,648.28 389.41,648.28 390.33,648.28 390.33,648.28 391.25,648.28 391.25,648.28 392.17,648.28 392.17,648.30 393.10,648.30 393.10,648.30 394.02,648.30 394.02,648.27 394.94,648.27 394.94,648.28 395.86,648.28 395.86,648.28 396.78,648.28 396.78,648.28 397.71,648.28 397.71,648.28 398.63,648.28 398.63,648.25 399.55,648.25 399.55,648.23 400.47,648.23 400.47,648.07 401.39,648.07 401.39,647.74 402.32,647.74 402.32,646.93 403.24,646.93 403.24,645.04 404.16,645.04 404.16,641.98 405.08,641.98 405.08,635.86 406.00,635.86 406.00,626.19 406.93,626.19 406.93,615.14 407.85,615.14 407.85,598.47 408.77,598.47 408.77,587.03 409.69,587.03 409.69,573.75 410.61,573.75 410.61,562.51 411.54,562.51 411.54,567.45 412.46,567.45 412.46,566.14 413.38,566.14 413.38,574.28 414.30,574.28 414.30,586.37 415.22,586.37 415.22,602.15 416.15,602.15 416.15,612.31 417.07,612.31 417.07,620.99 417.99,620.99 417.99,629.80 418.91,629.80 418.91,636.83 419.83,636.83 419.83,640.58 420.76,640.58 420.76,644.16 421.68,644.16 421.68,645.83 422.60,645.83 422.60,646.09 423.52,646.09 423.52,647.07 424.44,647.07 424.44,647.09 425.37,647.09 425.37,647.51 426.29,647.51 426.29,647.12 427.21,647.12 427.21,647.56 428.13,647.56 428.13,647.36 429.05,647.36 429.05,647.35 429.98,647.35 429.98,647.85 430.90,647.85 430.90,647.09 431.82,647.09 431.82,647.10 432.74,647.10 432.74,647.25 433.66,647.25 433.66,647.74 434.59,647.74 434.59,647.13 435.51,647.13 435.51,647.01 436.43,647.01 436.43,647.11 437.35,647.11 437.35,647.30 438.27,647.30 438.27,647.16 439.20,647.16 439.20,647.69 440.12,647.69 440.12,647.23 441.04,647.23 441.04,647.64 441.96,647.64 441.96,647.50 442.88,647.50 442.88,647.11 443.81,647.11 443.81,647.82 444.73,647.82 444.73,647.83 445.65,647.83 445.65,647.30 446.57,647.30 446.57,647.12 447.49,647.12 447.49,647.31 448.42,647.31 448.42,647.35 449.34,647.35 449.34,647.75 450.26,647.75 450.26,647.46 451.18,647.46 451.18,647.11 452.10,647.11 452.10,648.29 453.03,648.29 453.03,648.29 453.95,648.29 453.95,648.30 454.87,648.30 454.87,648.28 455.79,648.28 455.79,648.30 456.71,648.30 456.71,648.29 457.64,648.29 457.64,648.29 458.56,648.29 458.56,648.28 459.48,648.28 459.48,648.29 460.40,648.29 460.40,648.29 461.32,648.29 461.32,648.28 462.25,648.28 462.25,648.30 463.17,648.30 463.17,648.28 464.09,648.28 464.09,648.29 465.01,648.29 465.01,648.27 465.93,648.27 465.93,648.28 466.86,648.28 466.86,648.30 467.78,648.30 467.78,648.28 468.70,648.28 468.70,648.28 469.62,648.28 469.62,648.29 470.54,648.29 470.54,648.28 471.47,648.28 471.47,648.28 472.39,648.28 472.39,648.27 473.31,648.27 473.31,648.30 474.23,648.30 474.23,648.29 475.15,648.29 475.15,648.30 476.08,648.30 476.08,648.28 477.00,648.28 477.00,648.28 477.92,648.28 477.92,648.28 478.84,648.28 478.84,648.28 479.76,648.28 479.76,648.30 480.69,648.30 480.69,648.29 481.61,648.29 481.61,648.27 482.53,648.27 482.53,648.28 483.45,648.28 483.45,648.30 484.37,648.30 484.37,648.30 485.30,648.30 485.30,648.30 486.22,648.30 486.22,648.30 487.14,648.30 487.14,648.30 488.06,648.30 488.06,648.29 488.98,648.29 488.98,648.29 489.91,648.29 489.91,648.28 490.83,648.28 490.83,648.29 491.75,648.29 491.75,648.29 492.67,648.29 492.67,648.28 493.59,648.28 493.59,648.29 494.52,648.29 494.52,648.28 495.44,648.28 495.44,648.28 496.36,648.28 496.36,648.27 497.28,648.27 497.28,648.30 498.20,648.30 498.20,648.30 499.13,648.30 499.13,648.27 500.05,648.27 500.05,648.30 500.97,648.30 500.97,648.30 501.89,648.30 501.89,648.27 502.81,648.27 502.81,648.29 503.74,648.29 503.74,648.29 504.66,648.29 504.66,648.30 505.58,648.30 505.58,648.29 506.50,648.29 506.50,648.29 507.42,648.29 507.42,648.29 508.35,648.29 508.35,648.30 509.27,648.30 509.27,648.29 510.19,648.29 510.19,648.29 511.11,648.29 511.11,648.28 512.03,648.28 512.03,648.28 512.96,648.28 512.96,648.27 513.88,648.27 513.88,648.28 514.80,648.28 514.80,648.28 515.72,648.28 515.72,648.28 516.64,648.28 516.64,648.29 517.57,648.29 517.57,648.28 518.49,648.28 518.49,648.28 519.41,648.28 519.41,648.28 520.33,648.28 520.33,648.30 521.25,648.30 521.25,648.29 522.18,648.29 522.18,648.30 523.10,648.30 523.10,648.28 524.02,648.28 524.02,648.27 524.94,648.27 524.94,648.27 525.86,648.27 525.86,648.28 526.79,648.28 526.79,648.28 527.71,648.28 527.71,648.28 528.63,648.28 528.63,648.29 529.55,648.29 529.55,648.28 530.47,648.28 530.47,648.29 531.40,648.29 531.40,648.29 532.32,648.29 532.32,648.29 533.24,648.29 533.24,648.27 534.16,648.27 534.16,648.28 535.08,648.28 535.08,648.30 536.01,648.30 536.01,648.30 536.93,648.30 536.93,648.27 537.85,648.27 537.85,648.29 538.77,648.29 538.77,648.28 539.69,648.28 539.69,648.29 540.62,648.29 540.62,648.29 541.54,648.29 541.54,648.29 542.46,648.29 542.46,648.30 543.38,648.30 543.38,648.28 544.30,648.28 544.30,648.29 545.23,648.29 545.23,648.30 546.15,648.30 546.15,648.27 547.07,648.27 547.07,648.29 547.99,648.29 547.99,648.27 548.91,648.27 548.91,648.29 549.84,648.29 549.84,648.30 550.76,648.30 550.76,648.28 551.68,648.28 551.68,648.29 552.60,648.29 552.60,648.28 553.52,648.28 553.52,648.29 554.45,648.29 554.45,648.29 555.37,648.29 555.37,648.29 556.29,648.29 556.29,648.29 557.21,648.29 557.21,648.29 558.13,648.29 558.13,648.29 559.06,648.29 559.06,648.28 559.98,648.28 559.98,648.30 560.90,648.30 560.90,648.27 561.82,648.27 561.82,648.29 562.74,648.29 562.74,648.28 563.67,648.28 563.67,648.27 564.59,648.27 564.59,648.29 565.51,648.29 565.51,648.30 566.43,648.30 566.43,648.30 567.35,648.30 567.35,648.27 568.28,648.27 568.28,648.29 569.20,648.29 569.20,648.28 570.12,648.28 570.12,648.28 571.04,648.28 571.04,648.30 571.96,648.30 571.96,648.30 572.89,648.30 572.89,648.28 573.81,648.28 573.81,648.29 574.73,648.29 574.73,648.29 575.65,648.29 575.65,648.30 576.57,648.30 576.57,648.28 577.50,648.28 577.50,648.29 578.42,648.29 578.42,648.29 579.34,648.29 579.34,648.28 580.26,648.28 580.26,648.28 581.18,648.28 581.18,648.29 582.11,648.29 582.11,648.29 583.03,648.29 583.03,648.29 583.95,648.29 583.95,648.29 584.87,648.29 584.87,648.29 585.79,648.29 585.79,648.29 586.72,648.29 586.72,648.30 587.64,648.30 587.64,648.29 588.56,648.29 588.56,648.28 589.48,648.28 589.48,648.30 590.40,648.30 590.40,648.28 591.33,648.28 591.33,648.28 592.25,648.28 592.25,648.27 593.17,648.27 593.17,648.30 594.09,648.30 594.09,648.28 595.01,648.28 595.01,648.29 595.94,648.29 595.94,648.28 596.86,648.28 596.86,648.28 597.78,648.28 597.78,648.30 598.70,648.30 598.70,648.30 599.62,648.30 599.62,648.30 600.55,648.30 600.55,648.30 601.47,648.30 601.47,648.28 602.39,648.28 602.39,648.30 603.31,648.30 603.31,648.28 604.23,648.28 604.23,648.30 605.16,648.30 605.16,648.30 606.08,648.30 606.08,648.30 607.00,648.30 607.00,648.50 607.92,648.50 607.92,648.50 608.84,648.50 608.84,648.50 609.77,648.50 609.77,648.50 610.69,648.50 610.69,648.50 611.61,648.50 611.61,648.50 612.53,648.50 612.53,648.50 613.45,648.50 613.45,648.50 614.38,648.50 614.38,648.50 615.30,648.50 615.30,648.50 616.22,648.50 616.22,648.50 617.14,648.50 617.14,648.50 618.06,648.50 618.06,648.50 618.99,648.50 618.99,648.50 619.91,648.50 619.91,648.50 620.83,648.50 620.83,648.50 621.75,648.50 621.75,648.50 622.67,648.50 622.67,648.50 623.60,648.50 623.60,648.50 624.52,648.50 624.52,648.50 625.44,648.50 625.44,648.50 626.36,648.50 626.36,648.50 627.28,648.50 627.28,648.50 628.21,648.50 628.21,648.50 629.13,648.50 629.13,648.50 630.05,648.50 630.05,648.50 630.97,648.50 630.97,648.50 631.89,648.50 631.89,648.50 632.82,648.50 632.82,648.50 633.74,648.50 633.74,648.50 634.66,648.50 634.66,648.50 635.58,648.50 635.58,648.50 636.50,648.50 636.50,648.50 637.43,648.50 637.43,648.50 638.35,648.50 638.35,648.50 639.27,648.50 639.27,648.50 640.19,648.50 640.19,648.50 641.11,648.50 641.11,648.50 642.04,648.50 642.04,648.50 642.96,648.50 642.96,648.50 643.88,648.50 643.88,648.50 644.80,648.50 644.80,648.50 645.72,648.50 645.72,648.50 646.65,648.50 646.65,648.50 647.57,648.50 647.57,648.50 648.49,648.50 648.49,648.50 649.41,648.50 649.41,648.50 650.33,648.50 650.33,648.50 651.26,648.50 651.26,648.50 652.18,648.50 652.18,648.50 653.10,648.50 653.10,648.50" fill="#e15a5c"/>
<path d="M404.16,648.5V643.0M406.93,648.5V616.1M409.69,648.5V574.7M412.46,648.5V567.1M415.22,648.5V603.1M417.99,648.5V630.8M420.76,648.5V645.2" stroke="#f3a9a9" stroke-width="0.5" fill="none"/>
<rect x="376.5" y="556.4" width="276.6" height="92.10000000000002" fill="none" stroke="#000" stroke-width="2"/>
<path d="M376.5,648.5H653.1" stroke="#e9b8b8" stroke-width="3"/>
<path d="M375.5,648.5H654.1" stroke="#4a1414" stroke-width="1.7"/>
<path d="M373.8,648.5H376.5M373.8,634.3H376.5M373.8,620.2H376.5M373.8,606.0H376.5M373.8,591.8H376.5M373.8,577.7H376.5M373.8,563.5H376.5" stroke="#000" stroke-width="1.6"/>
<text x="373.5" y="653.6" font-size="13.7" text-anchor="end">0</text>
<text x="373.5" y="625.3" font-size="13.7" text-anchor="end">400</text>
<text x="373.5" y="596.9" font-size="13.7" text-anchor="end">800</text>
<text x="373.5" y="568.6" font-size="13.7" text-anchor="end">1200</text>
<path d="M376.5,648.5V652.0M422.6,648.5V652.0M468.7,648.5V652.0M514.8,648.5V652.0M560.9,648.5V652.0M607.0,648.5V652.0M653.1,648.5V652.0" stroke="#000" stroke-width="1.6"/>
<text x="376.5" y="662.6" font-size="13.7" text-anchor="middle">0</text>
<text x="422.6" y="662.6" font-size="13.7" text-anchor="middle">0.5</text>
<text x="468.7" y="662.6" font-size="13.7" text-anchor="middle">1</text>
<text x="514.8" y="662.6" font-size="13.7" text-anchor="middle">1.5</text>
<text x="560.9" y="662.6" font-size="13.7" text-anchor="middle">2</text>
<text x="607.0" y="662.6" font-size="13.7" text-anchor="middle">2.5</text>
<text x="653.1" y="662.6" font-size="13.7" text-anchor="middle">3</text>
<text x="480.8" y="675.6" font-size="13.7" text-anchor="start">&#916; <tspan font-style="italic">I</tspan><tspan font-size="9.2" dy="3.1">max</tspan><tspan dy="-3.1"> (nA)</tspan></text>
<text transform="translate(343.6,611.4) rotate(-90)" x="0" y="0" font-size="13.7" text-anchor="middle" dominant-baseline="central" >Count</text>
<text x="339.9" y="676.7" font-size="17" text-anchor="start" >(j)</text>
<polygon points="377.00,789.00 377.00,788.68 377.92,788.68 377.92,788.62 378.84,788.62 378.84,788.67 379.76,788.67 379.76,788.65 380.68,788.65 380.68,788.65 381.60,788.65 381.60,788.61 382.52,788.61 382.52,788.62 383.44,788.62 383.44,788.68 384.36,788.68 384.36,788.70 385.28,788.70 385.28,788.63 386.20,788.63 386.20,788.70 387.12,788.70 387.12,788.70 388.04,788.70 388.04,788.71 388.96,788.71 388.96,788.61 389.88,788.61 389.88,788.62 390.81,788.62 390.81,788.70 391.73,788.70 391.73,788.69 392.65,788.69 392.65,788.67 393.57,788.67 393.57,788.63 394.49,788.63 394.49,788.62 395.41,788.62 395.41,787.08 396.33,787.08 396.33,787.02 397.25,787.02 397.25,786.97 398.17,786.97 398.17,787.21 399.09,787.21 399.09,786.71 400.01,786.71 400.01,787.14 400.93,787.14 400.93,787.05 401.85,787.05 401.85,787.09 402.77,787.09 402.77,786.75 403.69,786.75 403.69,786.93 404.61,786.93 404.61,786.61 405.53,786.61 405.53,786.88 406.45,786.88 406.45,786.55 407.37,786.55 407.37,785.28 408.29,785.28 408.29,783.08 409.21,783.08 409.21,780.29 410.13,780.29 410.13,774.09 411.05,774.09 411.05,765.07 411.97,765.07 411.97,755.85 412.89,755.85 412.89,740.01 413.81,740.01 413.81,726.51 414.73,726.51 414.73,717.35 415.65,717.35 415.65,708.30 416.57,708.30 416.57,710.73 417.49,710.73 417.49,709.84 418.42,709.84 418.42,717.94 419.34,717.94 419.34,729.92 420.26,729.92 420.26,737.58 421.18,737.58 421.18,747.68 422.10,747.68 422.10,758.97 423.02,758.97 423.02,764.33 423.94,764.33 423.94,770.58 424.86,770.58 424.86,773.16 425.78,773.16 425.78,775.28 426.70,775.28 426.70,776.64 427.62,776.64 427.62,777.83 428.54,777.83 428.54,778.26 429.46,778.26 429.46,778.84 430.38,778.84 430.38,780.01 431.30,780.01 431.30,781.42 432.22,781.42 432.22,782.02 433.14,782.02 433.14,783.11 434.06,783.11 434.06,784.36 434.98,784.36 434.98,785.30 435.90,785.30 435.90,785.78 436.82,785.78 436.82,786.23 437.74,786.23 437.74,786.16 438.66,786.16 438.66,786.85 439.58,786.85 439.58,786.82 440.50,786.82 440.50,787.14 441.42,787.14 441.42,787.06 442.34,787.06 442.34,786.93 443.26,786.93 443.26,786.75 444.18,786.75 444.18,786.75 445.10,786.75 445.10,786.65 446.03,786.65 446.02,787.20 446.95,787.20 446.95,787.10 447.87,787.10 447.87,786.74 448.79,786.74 448.79,787.19 449.71,787.19 449.71,787.05 450.63,787.05 450.63,786.68 451.55,786.68 451.55,786.67 452.47,786.67 452.47,787.24 453.39,787.24 453.39,786.81 454.31,786.81 454.31,786.84 455.23,786.84 455.23,786.73 456.15,786.73 456.15,787.13 457.07,787.13 457.07,787.24 457.99,787.24 457.99,786.78 458.91,786.78 458.91,786.70 459.83,786.70 459.83,787.24 460.75,787.24 460.75,786.80 461.67,786.80 461.67,786.76 462.59,786.76 462.59,786.68 463.51,786.68 463.51,786.92 464.43,786.92 464.43,787.25 465.35,787.25 465.35,787.02 466.27,787.02 466.27,786.69 467.19,786.69 467.19,786.81 468.11,786.81 468.11,787.15 469.03,787.15 469.03,786.05 469.95,786.05 469.95,785.71 470.87,785.71 470.87,786.39 471.79,786.39 471.79,786.37 472.71,786.37 472.71,785.77 473.64,785.77 473.63,785.73 474.56,785.73 474.56,785.71 475.48,785.71 475.48,785.70 476.40,785.70 476.40,786.02 477.32,786.02 477.32,785.41 478.24,785.41 478.24,785.09 479.16,785.09 479.16,784.84 480.08,784.84 480.08,785.56 481.00,785.56 481.00,784.91 481.92,784.91 481.92,784.87 482.84,784.87 482.84,785.08 483.76,785.08 483.76,784.47 484.68,784.47 484.68,783.72 485.60,783.72 485.60,784.17 486.52,784.17 486.52,784.40 487.44,784.40 487.44,783.53 488.36,783.53 488.36,784.42 489.28,784.42 489.28,783.05 490.20,783.05 490.20,783.35 491.12,783.35 491.12,783.65 492.04,783.65 492.04,782.78 492.96,782.78 492.96,782.01 493.88,782.01 493.88,782.15 494.80,782.15 494.80,781.63 495.72,781.63 495.72,782.52 496.64,782.52 496.64,783.13 497.56,783.13 497.56,784.03 498.48,784.03 498.48,783.82 499.40,783.82 499.40,783.61 500.32,783.61 500.32,783.34 501.25,783.34 501.25,782.52 502.17,782.52 502.17,782.98 503.09,782.98 503.09,781.37 504.01,781.37 504.01,782.09 504.93,782.09 504.93,782.62 505.85,782.62 505.85,781.58 506.77,781.58 506.77,782.20 507.69,782.20 507.69,781.02 508.61,781.02 508.61,780.92 509.53,780.92 509.53,780.50 510.45,780.50 510.45,781.87 511.37,781.87 511.37,781.20 512.29,781.20 512.29,780.70 513.21,780.70 513.21,781.83 514.13,781.83 514.13,780.46 515.05,780.46 515.05,781.46 515.97,781.46 515.97,780.61 516.89,780.61 516.89,780.42 517.81,780.42 517.81,781.53 518.73,781.53 518.73,781.51 519.65,781.51 519.65,781.31 520.57,781.31 520.57,780.77 521.49,780.77 521.49,780.53 522.41,780.53 522.41,779.95 523.33,779.95 523.33,781.24 524.25,781.24 524.25,780.34 525.17,780.34 525.17,780.61 526.09,780.61 526.09,780.73 527.01,780.73 527.01,781.51 527.93,781.51 527.93,780.45 528.86,780.45 528.86,781.12 529.78,781.12 529.78,780.61 530.70,780.61 530.70,780.29 531.62,780.29 531.62,781.61 532.54,781.61 532.54,781.19 533.46,781.19 533.46,780.75 534.38,780.75 534.38,780.89 535.30,780.89 535.30,781.06 536.22,781.06 536.22,782.28 537.14,782.28 537.14,780.92 538.06,780.92 538.06,781.73 538.98,781.73 538.98,782.30 539.90,782.30 539.90,781.75 540.82,781.75 540.82,782.15 541.74,782.15 541.74,782.66 542.66,782.66 542.66,783.24 543.58,783.24 543.58,782.84 544.50,782.84 544.50,783.15 545.42,783.15 545.42,782.74 546.34,782.74 546.34,782.98 547.26,782.98 547.26,783.37 548.18,783.37 548.18,784.09 549.10,784.09 549.10,784.47 550.02,784.47 550.02,783.54 550.94,783.54 550.94,784.55 551.86,784.55 551.86,783.85 552.78,783.85 552.78,784.80 553.70,784.80 553.70,784.75 554.62,784.75 554.62,784.85 555.54,784.85 555.54,785.44 556.47,785.44 556.47,785.40 557.39,785.40 557.39,784.93 558.31,784.93 558.31,785.61 559.23,785.61 559.23,785.63 560.15,785.63 560.15,785.82 561.07,785.82 561.07,786.10 561.99,786.10 561.99,785.91 562.91,785.91 562.91,785.76 563.83,785.76 563.83,785.82 564.75,785.82 564.75,786.54 565.67,786.54 565.67,785.92 566.59,785.92 566.59,786.60 567.51,786.60 567.51,786.29 568.43,786.29 568.43,786.86 569.35,786.86 569.35,786.68 570.27,786.68 570.27,786.73 571.19,786.73 571.19,786.96 572.11,786.96 572.11,787.08 573.03,787.08 573.03,787.10 573.95,787.10 573.95,787.31 574.87,787.31 574.87,787.29 575.79,787.29 575.79,787.53 576.71,787.53 576.71,787.39 577.63,787.39 577.63,787.34 578.55,787.34 578.55,787.43 579.47,787.43 579.47,787.84 580.39,787.84 580.39,787.55 581.31,787.55 581.31,787.89 582.23,787.89 582.23,787.89 583.15,787.89 583.15,787.83 584.08,787.83 584.08,788.64 585.00,788.64 585.00,788.68 585.92,788.68 585.92,788.63 586.84,788.63 586.84,788.61 587.76,788.61 587.76,788.61 588.68,788.61 588.68,788.65 589.60,788.65 589.60,788.61 590.52,788.61 590.52,788.63 591.44,788.63 591.44,788.70 592.36,788.70 592.36,788.67 593.28,788.67 593.28,788.67 594.20,788.67 594.20,788.66 595.12,788.66 595.12,788.69 596.04,788.69 596.04,788.67 596.96,788.67 596.96,788.66 597.88,788.66 597.88,789.00 598.80,789.00 598.80,789.00 599.72,789.00 599.72,789.00 600.64,789.00 600.64,789.00 601.56,789.00 601.56,789.00 602.48,789.00 602.48,789.00 603.40,789.00 603.40,789.00 604.32,789.00 604.32,789.00 605.24,789.00 605.24,789.00 606.16,789.00 606.16,789.00 607.08,789.00 607.08,789.00 608.00,789.00 608.00,789.00 608.92,789.00 608.92,789.00 609.84,789.00 609.84,789.00 610.76,789.00 610.76,789.00 611.69,789.00 611.69,789.00 612.61,789.00 612.61,789.00 613.53,789.00 613.53,789.00 614.45,789.00 614.45,789.00 615.37,789.00 615.37,789.00 616.29,789.00 616.29,789.00 617.21,789.00 617.21,789.00 618.13,789.00 618.13,789.00 619.05,789.00 619.05,789.00 619.97,789.00 619.97,789.00 620.89,789.00 620.89,789.00 621.81,789.00 621.81,789.00 622.73,789.00 622.73,789.00 623.65,789.00 623.65,789.00 624.57,789.00 624.57,789.00 625.49,789.00 625.49,789.00 626.41,789.00 626.41,789.00 627.33,789.00 627.33,789.00 628.25,789.00 628.25,789.00 629.17,789.00 629.17,789.00 630.09,789.00 630.09,789.00 631.01,789.00 631.01,789.00 631.93,789.00 631.93,789.00 632.85,789.00 632.85,789.00 633.77,789.00 633.77,789.00 634.69,789.00 634.69,789.00 635.61,789.00 635.61,789.00 636.53,789.00 636.53,789.00 637.45,789.00 637.45,789.00 638.37,789.00 638.37,789.00 639.30,789.00 639.30,789.00 640.22,789.00 640.22,789.00 641.14,789.00 641.14,789.00 642.06,789.00 642.06,789.00 642.98,789.00 642.98,789.00 643.90,789.00 643.90,789.00 644.82,789.00 644.82,789.00 645.74,789.00 645.74,789.00 646.66,789.00 646.66,789.00 647.58,789.00 647.58,789.00 648.50,789.00 648.50,789.00 649.42,789.00 649.42,789.00 650.34,789.00 650.34,789.00 651.26,789.00 651.26,789.00 652.18,789.00 652.18,789.00 653.10,789.00 653.10,789.00" fill="#5e9f76"/>
<path d="M407.37,789.0V786.3M410.13,789.0V775.1M412.89,789.0V741.0M415.65,789.0V709.3M418.42,789.0V718.9M421.18,789.0V748.7M423.94,789.0V771.6M426.70,789.0V777.6M429.46,789.0V779.8M432.22,789.0V783.0M434.98,789.0V786.3M473.63,789.0V786.7M479.16,789.0V785.8M481.92,789.0V785.9M484.68,789.0V784.7M487.44,789.0V784.5M490.20,789.0V784.4M492.96,789.0V783.0M495.72,789.0V783.5M498.48,789.0V784.8M501.25,789.0V783.5M504.01,789.0V783.1M506.77,789.0V783.2M509.53,789.0V781.5M512.29,789.0V781.7M515.05,789.0V782.5M517.81,789.0V782.5M520.57,789.0V781.8M523.33,789.0V782.2M526.09,789.0V781.7M528.86,789.0V782.1M531.62,789.0V782.6M534.38,789.0V781.9M537.14,789.0V781.9M539.90,789.0V782.8M542.66,789.0V784.2M545.42,789.0V783.7M548.18,789.0V785.1M550.94,789.0V785.6M553.70,789.0V785.7M556.47,789.0V786.4M559.23,789.0V786.6M561.99,789.0V786.9" stroke="#a9d3b8" stroke-width="0.5" fill="none"/>
<rect x="377" y="698.3" width="276.1" height="90.70000000000005" fill="none" stroke="#000" stroke-width="2"/>
<path d="M376,789H654.1" stroke="#0e3a1e" stroke-width="2"/>
<path d="M374.3,789.0H377.0M374.3,766.3H377.0M374.3,743.6H377.0M374.3,721.0H377.0M374.3,698.3H377.0" stroke="#000" stroke-width="1.6"/>
<text x="374.0" y="794.1" font-size="13.7" text-anchor="end">0</text>
<text x="374.0" y="748.8" font-size="13.7" text-anchor="end">400</text>
<text x="374.0" y="703.4" font-size="13.7" text-anchor="end">800</text>
<path d="M377.0,789.0V792.5M423.0,789.0V792.5M469.0,789.0V792.5M515.0,789.0V792.5M561.1,789.0V792.5M607.1,789.0V792.5M653.1,789.0V792.5" stroke="#000" stroke-width="1.6"/>
<text x="377.0" y="803.3" font-size="13.7" text-anchor="middle">0</text>
<text x="423.0" y="803.3" font-size="13.7" text-anchor="middle">0.5</text>
<text x="469.0" y="803.3" font-size="13.7" text-anchor="middle">1</text>
<text x="515.0" y="803.3" font-size="13.7" text-anchor="middle">1.5</text>
<text x="561.1" y="803.3" font-size="13.7" text-anchor="middle">2</text>
<text x="607.1" y="803.3" font-size="13.7" text-anchor="middle">2.5</text>
<text x="653.1" y="803.3" font-size="13.7" text-anchor="middle">3</text>
<text x="480.8" y="816.1" font-size="13.7" text-anchor="start">&#916; <tspan font-style="italic">I</tspan><tspan font-size="9.2" dy="3.1">max</tspan><tspan dy="-3.1"> (nA)</tspan></text>
<text transform="translate(343.6,748.4) rotate(-90)" x="0" y="0" font-size="13.7" text-anchor="middle" dominant-baseline="central" >Count</text>
</svg></body></html>
